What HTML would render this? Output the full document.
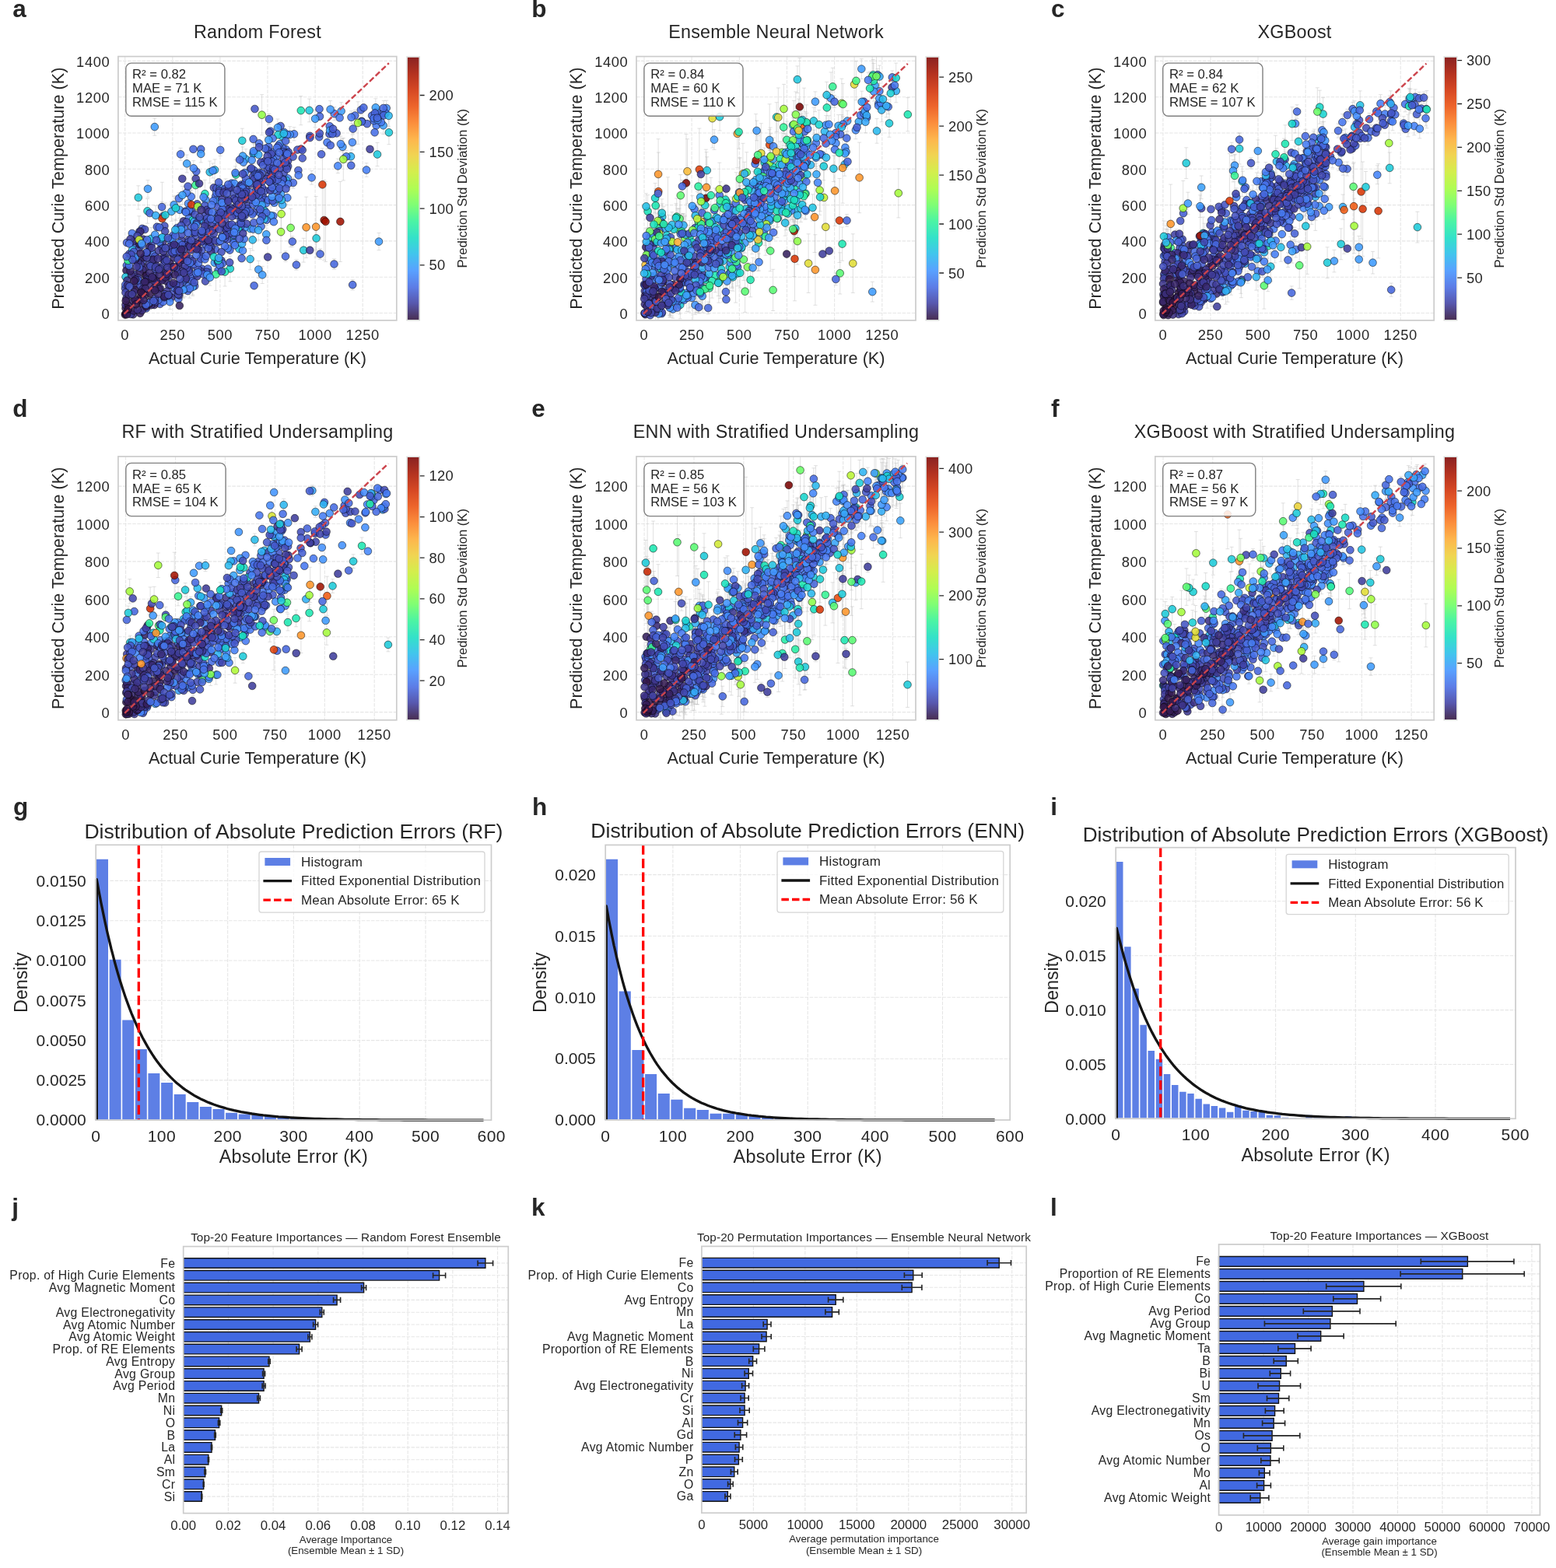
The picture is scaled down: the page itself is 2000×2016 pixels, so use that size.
<!DOCTYPE html>
<html><head><meta charset="utf-8"><style>
html,body{margin:0;padding:0;background:#fff;}
svg{display:block;}
text{font-family:"Liberation Sans",Arial,Helvetica,sans-serif;fill:#262626;}
</style></head><body>
<svg width="2000" height="2016" viewBox="0 0 2000 2016">
<defs><clipPath id="clipa"><rect x="151.9" y="72.6" width="357.9" height="339.3"/></clipPath><linearGradient id="gra" x1="0" y1="0" x2="0" y2="1"><stop offset="0.0000" stop-color="#7a0403"/><stop offset="0.0625" stop-color="#a91601"/><stop offset="0.1250" stop-color="#d02f05"/><stop offset="0.1875" stop-color="#eb500e"/><stop offset="0.2500" stop-color="#fb7e21"/><stop offset="0.3125" stop-color="#fdac34"/><stop offset="0.3750" stop-color="#eecf3a"/><stop offset="0.4375" stop-color="#cdec34"/><stop offset="0.5000" stop-color="#a4fc3c"/><stop offset="0.5625" stop-color="#6dfe62"/><stop offset="0.6250" stop-color="#32f298"/><stop offset="0.6875" stop-color="#18ddc2"/><stop offset="0.7500" stop-color="#28bceb"/><stop offset="0.8125" stop-color="#4294ff"/><stop offset="0.8750" stop-color="#466be3"/><stop offset="0.9375" stop-color="#4040a2"/><stop offset="1.0000" stop-color="#30123b"/></linearGradient><clipPath id="clipb"><rect x="818.0" y="72.6" width="359.0" height="339.3"/></clipPath><linearGradient id="grb" x1="0" y1="0" x2="0" y2="1"><stop offset="0.0000" stop-color="#7a0403"/><stop offset="0.0625" stop-color="#a91601"/><stop offset="0.1250" stop-color="#d02f05"/><stop offset="0.1875" stop-color="#eb500e"/><stop offset="0.2500" stop-color="#fb7e21"/><stop offset="0.3125" stop-color="#fdac34"/><stop offset="0.3750" stop-color="#eecf3a"/><stop offset="0.4375" stop-color="#cdec34"/><stop offset="0.5000" stop-color="#a4fc3c"/><stop offset="0.5625" stop-color="#6dfe62"/><stop offset="0.6250" stop-color="#32f298"/><stop offset="0.6875" stop-color="#18ddc2"/><stop offset="0.7500" stop-color="#28bceb"/><stop offset="0.8125" stop-color="#4294ff"/><stop offset="0.8750" stop-color="#466be3"/><stop offset="0.9375" stop-color="#4040a2"/><stop offset="1.0000" stop-color="#30123b"/></linearGradient><clipPath id="clipc"><rect x="1484.8" y="72.6" width="358.4" height="339.3"/></clipPath><linearGradient id="grc" x1="0" y1="0" x2="0" y2="1"><stop offset="0.0000" stop-color="#7a0403"/><stop offset="0.0625" stop-color="#a91601"/><stop offset="0.1250" stop-color="#d02f05"/><stop offset="0.1875" stop-color="#eb500e"/><stop offset="0.2500" stop-color="#fb7e21"/><stop offset="0.3125" stop-color="#fdac34"/><stop offset="0.3750" stop-color="#eecf3a"/><stop offset="0.4375" stop-color="#cdec34"/><stop offset="0.5000" stop-color="#a4fc3c"/><stop offset="0.5625" stop-color="#6dfe62"/><stop offset="0.6250" stop-color="#32f298"/><stop offset="0.6875" stop-color="#18ddc2"/><stop offset="0.7500" stop-color="#28bceb"/><stop offset="0.8125" stop-color="#4294ff"/><stop offset="0.8750" stop-color="#466be3"/><stop offset="0.9375" stop-color="#4040a2"/><stop offset="1.0000" stop-color="#30123b"/></linearGradient><clipPath id="clipd"><rect x="151.9" y="586.9" width="357.9" height="338.9"/></clipPath><linearGradient id="grd" x1="0" y1="0" x2="0" y2="1"><stop offset="0.0000" stop-color="#7a0403"/><stop offset="0.0625" stop-color="#a91601"/><stop offset="0.1250" stop-color="#d02f05"/><stop offset="0.1875" stop-color="#eb500e"/><stop offset="0.2500" stop-color="#fb7e21"/><stop offset="0.3125" stop-color="#fdac34"/><stop offset="0.3750" stop-color="#eecf3a"/><stop offset="0.4375" stop-color="#cdec34"/><stop offset="0.5000" stop-color="#a4fc3c"/><stop offset="0.5625" stop-color="#6dfe62"/><stop offset="0.6250" stop-color="#32f298"/><stop offset="0.6875" stop-color="#18ddc2"/><stop offset="0.7500" stop-color="#28bceb"/><stop offset="0.8125" stop-color="#4294ff"/><stop offset="0.8750" stop-color="#466be3"/><stop offset="0.9375" stop-color="#4040a2"/><stop offset="1.0000" stop-color="#30123b"/></linearGradient><clipPath id="clipe"><rect x="818.0" y="586.9" width="359.0" height="338.9"/></clipPath><linearGradient id="gre" x1="0" y1="0" x2="0" y2="1"><stop offset="0.0000" stop-color="#7a0403"/><stop offset="0.0625" stop-color="#a91601"/><stop offset="0.1250" stop-color="#d02f05"/><stop offset="0.1875" stop-color="#eb500e"/><stop offset="0.2500" stop-color="#fb7e21"/><stop offset="0.3125" stop-color="#fdac34"/><stop offset="0.3750" stop-color="#eecf3a"/><stop offset="0.4375" stop-color="#cdec34"/><stop offset="0.5000" stop-color="#a4fc3c"/><stop offset="0.5625" stop-color="#6dfe62"/><stop offset="0.6250" stop-color="#32f298"/><stop offset="0.6875" stop-color="#18ddc2"/><stop offset="0.7500" stop-color="#28bceb"/><stop offset="0.8125" stop-color="#4294ff"/><stop offset="0.8750" stop-color="#466be3"/><stop offset="0.9375" stop-color="#4040a2"/><stop offset="1.0000" stop-color="#30123b"/></linearGradient><clipPath id="clipf"><rect x="1484.8" y="586.9" width="358.4" height="338.9"/></clipPath><linearGradient id="grf" x1="0" y1="0" x2="0" y2="1"><stop offset="0.0000" stop-color="#7a0403"/><stop offset="0.0625" stop-color="#a91601"/><stop offset="0.1250" stop-color="#d02f05"/><stop offset="0.1875" stop-color="#eb500e"/><stop offset="0.2500" stop-color="#fb7e21"/><stop offset="0.3125" stop-color="#fdac34"/><stop offset="0.3750" stop-color="#eecf3a"/><stop offset="0.4375" stop-color="#cdec34"/><stop offset="0.5000" stop-color="#a4fc3c"/><stop offset="0.5625" stop-color="#6dfe62"/><stop offset="0.6250" stop-color="#32f298"/><stop offset="0.6875" stop-color="#18ddc2"/><stop offset="0.7500" stop-color="#28bceb"/><stop offset="0.8125" stop-color="#4294ff"/><stop offset="0.8750" stop-color="#466be3"/><stop offset="0.9375" stop-color="#4040a2"/><stop offset="1.0000" stop-color="#30123b"/></linearGradient></defs>
<rect width="2000" height="2016" fill="#fff"/>
<text x="16.3" y="22.0" font-size="31.5" font-weight="bold" fill="#000">a</text>
<text x="330.9" y="49.1" text-anchor="middle" font-size="23.33" letter-spacing="0.25">Random Forest</text>
<path d="M160.7 72.6V411.9M221.8 72.6V411.9M282.9 72.6V411.9M344.0 72.6V411.9M405.1 72.6V411.9M466.2 72.6V411.9M151.9 402.5H509.8M151.9 356.2H509.8M151.9 309.9H509.8M151.9 263.6H509.8M151.9 217.3H509.8M151.9 171.0H509.8M151.9 124.7H509.8M151.9 78.4H509.8" stroke="#e6e6e6" stroke-width="1.1" stroke-dasharray="4.6,1.5" fill="none"/>
<g clip-path="url(#clipa)">
<path d="M324.7 294.7v27.4m-2.5 0h5m0 -27.4h-5M235.2 360.3v22.4m-2.5 0h5m0 -22.4h-5M342.3 289.7v23.0m-2.5 0h5m0 -23.0h-5M321.8 281.8v24.7m-2.5 0h5m0 -24.7h-5M456.3 141.5v14.1m-2.5 0h5m0 -14.1h-5M275.8 325.9v23.4m-2.5 0h5m0 -23.4h-5M485.0 183.4v30.2m-2.5 0h5m0 -30.2h-5M493.2 129.4v26.5m-2.5 0h5m0 -26.5h-5M247.6 353.8v25.1m-2.5 0h5m0 -25.1h-5M341.0 176.0v32.6m-2.5 0h5m0 -32.6h-5M496.7 129.2v19.6m-2.5 0h5m0 -19.6h-5M303.2 205.6v38.0m-2.5 0h5m0 -38.0h-5M316.0 191.7v25.8m-2.5 0h5m0 -25.8h-5M243.7 349.1v34.0m-2.5 0h5m0 -34.0h-5M373.6 268.3v49.2m-2.5 0h5m0 -49.2h-5M451.5 142.7v16.2m-2.5 0h5m0 -16.2h-5M378.0 163.7v17.1m-2.5 0h5m0 -17.1h-5M376.8 227.8v14.3m-2.5 0h5m0 -14.3h-5M369.3 245.3v18.1m-2.5 0h5m0 -18.1h-5M263.4 231.4v35.5m-2.5 0h5m0 -35.5h-5M336.6 121.7v52.0m-2.5 0h5m0 -52.0h-5M194.2 292.6v28.5m-2.5 0h5m0 -28.5h-5M325.6 285.0v19.1m-2.5 0h5m0 -19.1h-5M326.6 182.9v27.7m-2.5 0h5m0 -27.7h-5M290.0 229.9v21.2m-2.5 0h5m0 -21.2h-5M453.7 159.0v13.1m-2.5 0h5m0 -13.1h-5M440.4 178.0v21.5m-2.5 0h5m0 -21.5h-5M245.7 244.5v16.7m-2.5 0h5m0 -16.7h-5M434.3 204.1v18.5m-2.5 0h5m0 -18.5h-5M372.6 162.7v20.7m-2.5 0h5m0 -20.7h-5M361.6 246.9v56.4m-2.5 0h5m0 -56.4h-5M276.1 204.9v27.2m-2.5 0h5m0 -27.2h-5M355.9 241.3v29.5m-2.5 0h5m0 -29.5h-5M438.6 131.7v22.5m-2.5 0h5m0 -22.5h-5M251.3 217.0v42.1m-2.5 0h5m0 -42.1h-5M240.2 199.0v22.9m-2.5 0h5m0 -22.9h-5M312.0 189.0v23.1m-2.5 0h5m0 -23.1h-5M437.9 175.2v19.7m-2.5 0h5m0 -19.7h-5M277.5 331.8v41.8m-2.5 0h5m0 -41.8h-5M230.9 259.2v21.3m-2.5 0h5m0 -21.3h-5M302.5 213.8v17.0m-2.5 0h5m0 -17.0h-5M295.8 329.2v32.6m-2.5 0h5m0 -32.6h-5M189.5 255.5v31.7m-2.5 0h5m0 -31.7h-5M429.8 137.6v17.2m-2.5 0h5m0 -17.2h-5M177.8 238.8v30.3m-2.5 0h5m0 -30.3h-5M361.1 271.1v53.9m-2.5 0h5m0 -53.9h-5M424.6 129.6v22.0m-2.5 0h5m0 -22.0h-5M348.2 265.8v22.8m-2.5 0h5m0 -22.8h-5M356.9 153.0v22.3m-2.5 0h5m0 -22.3h-5M386.8 123.5v37.2m-2.5 0h5m0 -37.2h-5M312.8 198.2v20.8m-2.5 0h5m0 -20.8h-5M420.5 174.8v16.7m-2.5 0h5m0 -16.7h-5M289.1 331.1v36.9m-2.5 0h5m0 -36.9h-5M492.7 150.1v22.5m-2.5 0h5m0 -22.5h-5M198.8 152.1v22.1m-2.5 0h5m0 -22.1h-5M345.9 146.2v13.9m-2.5 0h5m0 -13.9h-5M258.2 186.8v22.1m-2.5 0h5m0 -22.1h-5M247.6 357.7v22.7m-2.5 0h5m0 -22.7h-5M482.8 126.8v23.0m-2.5 0h5m0 -23.0h-5M232.1 190.4v15.8m-2.5 0h5m0 -15.8h-5M452.9 173.3v19.4m-2.5 0h5m0 -19.4h-5M269.7 207.1v28.2m-2.5 0h5m0 -28.2h-5M190.0 231.7v22.1m-2.5 0h5m0 -22.1h-5M208.1 259.4v13.5m-2.5 0h5m0 -13.5h-5M220.4 259.5v24.9m-2.5 0h5m0 -24.9h-5M283.2 185.0v15.5m-2.5 0h5m0 -15.5h-5M208.4 234.3v93.4m-2.5 0h5m0 -93.4h-5M311.3 165.2v31.2m-2.5 0h5m0 -31.2h-5M246.0 216.5v93.4m-2.5 0h5m0 -93.4h-5M405.1 141.6v22.1m-2.5 0h5m0 -22.1h-5M499.9 154.9v30.8m-2.5 0h5m0 -30.8h-5M321.6 319.5v27.3m-2.5 0h5m0 -27.3h-5M273.5 209.9v19.1m-2.5 0h5m0 -19.1h-5M218.3 378.5v19.0m-2.5 0h5m0 -19.0h-5M217.8 297.9v20.4m-2.5 0h5m0 -20.4h-5M499.6 135.3v27.0m-2.5 0h5m0 -27.0h-5M254.2 238.4v53.9m-2.5 0h5m0 -53.9h-5M237.7 361.7v20.0m-2.5 0h5m0 -20.0h-5M200.1 264.3v25.3m-2.5 0h5m0 -25.3h-5M248.8 206.6v19.3m-2.5 0h5m0 -19.3h-5M414.4 190.8v93.4m-2.5 0h5m0 -93.4h-5M416.6 231.5v103.1m-2.5 0h5m0 -103.1h-5M418.5 233.4v103.1m-2.5 0h5m0 -103.1h-5M274.9 313.3v33.7m-2.5 0h5m0 -33.7h-5M437.4 233.4v103.1m-2.5 0h5m0 -103.1h-5M314.6 213.2v18.0m-2.5 0h5m0 -18.0h-5M393.6 253.2v78.3m-2.5 0h5m0 -78.3h-5M406.1 252.5v78.3m-2.5 0h5m0 -78.3h-5M223.6 252.3v22.2m-2.5 0h5m0 -22.2h-5M406.6 291.0v30.8m-2.5 0h5m0 -30.8h-5M451.0 188.1v26.3m-2.5 0h5m0 -26.3h-5M471.0 209.7v17.6m-2.5 0h5m0 -17.6h-5M178.8 277.8v60.8m-2.5 0h5m0 -60.8h-5M225.3 282.0v27.0m-2.5 0h5m0 -27.0h-5M235.6 362.0v21.3m-2.5 0h5m0 -21.3h-5M487.0 299.5v22.1m-2.5 0h5m0 -22.1h-5M225.9 251.3v32.4m-2.5 0h5m0 -32.4h-5M390.2 306.3v30.8m-2.5 0h5m0 -30.8h-5M397.6 127.1v29.7m-2.5 0h5m0 -29.7h-5M229.9 247.7v14.9m-2.5 0h5m0 -14.9h-5M411.5 319.8v13.5m-2.5 0h5m0 -13.5h-5M332.1 283.6v24.8m-2.5 0h5m0 -24.8h-5M429.5 332.8v13.5m-2.5 0h5m0 -13.5h-5M234.4 239.4v23.1m-2.5 0h5m0 -23.1h-5M453.2 359.4v13.5m-2.5 0h5m0 -13.5h-5M445.1 193.3v16.0m-2.5 0h5m0 -16.0h-5M400.6 219.5v17.7m-2.5 0h5m0 -17.7h-5M375.8 303.8v13.5m-2.5 0h5m0 -13.5h-5M212.4 261.0v31.0m-2.5 0h5m0 -31.0h-5M380.9 333.7v13.5m-2.5 0h5m0 -13.5h-5M367.0 322.8v13.5m-2.5 0h5m0 -13.5h-5M325.9 185.2v18.3m-2.5 0h5m0 -18.3h-5M332.3 335.4v22.1m-2.5 0h5m0 -22.1h-5M337.2 342.4v22.1m-2.5 0h5m0 -22.1h-5M269.9 346.2v21.0m-2.5 0h5m0 -21.0h-5M441.3 177.5v54.5m-2.5 0h5m0 -54.5h-5M460.1 130.8v54.5m-2.5 0h5m0 -54.5h-5" stroke="#b4b4b4" stroke-opacity="0.45" stroke-width="0.9" fill="none"/>
<g stroke="#000" stroke-width="0.6" stroke-opacity="0.85" fill-opacity="0.88">
<circle cx="326.3" cy="218.8" r="4.85" fill="#4661d6"/>
<circle cx="423.5" cy="172.3" r="4.85" fill="#455ed3"/>
<circle cx="229.4" cy="384.4" r="4.85" fill="#476ee6"/>
<circle cx="367.8" cy="192.2" r="4.85" fill="#4776ee"/>
<circle cx="324.7" cy="308.4" r="4.85" fill="#2ab9ee"/>
<circle cx="259.8" cy="345.8" r="4.85" fill="#4454c3"/>
<circle cx="325.5" cy="197.5" r="4.85" fill="#448ffe"/>
<circle cx="342.3" cy="301.3" r="4.85" fill="#3ba0fd"/>
<circle cx="321.8" cy="294.1" r="4.85" fill="#35abf8"/>
<circle cx="423.8" cy="162.3" r="4.85" fill="#466be3"/>
<circle cx="456.3" cy="148.5" r="4.85" fill="#466be3"/>
<circle cx="242.7" cy="280.6" r="4.85" fill="#4778f0"/>
<circle cx="337.9" cy="252.8" r="4.85" fill="#4454c3"/>
<circle cx="284.5" cy="335.0" r="4.85" fill="#4249b1"/>
<circle cx="267.2" cy="345.5" r="4.85" fill="#4666dd"/>
<circle cx="370.8" cy="195.7" r="4.85" fill="#4454c3"/>
<circle cx="246.2" cy="357.6" r="4.85" fill="#4666dd"/>
<circle cx="275.8" cy="337.7" r="4.85" fill="#3aa3fc"/>
<circle cx="485.0" cy="198.5" r="4.85" fill="#1fc9dd"/>
<circle cx="340.0" cy="270.9" r="4.85" fill="#1fc9dd"/>
<circle cx="253.4" cy="262.4" r="4.85" fill="#4559cb"/>
<circle cx="209.7" cy="278.0" r="4.85" fill="#4451bf"/>
<circle cx="194.6" cy="314.4" r="4.85" fill="#4454c3"/>
<circle cx="268.3" cy="350.6" r="4.85" fill="#4771e9"/>
<circle cx="496.7" cy="139.0" r="4.85" fill="#458cfd"/>
<circle cx="303.2" cy="224.6" r="4.85" fill="#1fe9af"/>
<circle cx="335.6" cy="291.2" r="4.85" fill="#4771e9"/>
<circle cx="243.7" cy="350.1" r="4.85" fill="#4451bf"/>
<circle cx="236.0" cy="361.9" r="4.85" fill="#4666dd"/>
<circle cx="316.0" cy="204.6" r="4.85" fill="#31aff5"/>
<circle cx="264.2" cy="256.6" r="4.85" fill="#4196ff"/>
<circle cx="246.4" cy="271.8" r="4.85" fill="#4456c7"/>
<circle cx="373.6" cy="292.9" r="4.85" fill="#79fe59"/>
<circle cx="314.5" cy="292.7" r="4.85" fill="#4099ff"/>
<circle cx="451.5" cy="150.7" r="4.85" fill="#4778f0"/>
<circle cx="160.9" cy="370.7" r="4.85" fill="#434eba"/>
<circle cx="211.4" cy="290.5" r="4.85" fill="#4451bf"/>
<circle cx="387.0" cy="191.5" r="4.85" fill="#4451bf"/>
<circle cx="277.1" cy="252.4" r="4.85" fill="#466be3"/>
<circle cx="378.0" cy="172.3" r="4.85" fill="#467df4"/>
<circle cx="280.7" cy="347.4" r="4.85" fill="#4669e0"/>
<circle cx="376.8" cy="235.0" r="4.85" fill="#466be3"/>
<circle cx="310.0" cy="237.5" r="4.85" fill="#455ccf"/>
<circle cx="334.5" cy="274.1" r="4.85" fill="#4776ee"/>
<circle cx="369.3" cy="254.3" r="4.85" fill="#4682f8"/>
<circle cx="263.4" cy="249.2" r="4.85" fill="#19e2bb"/>
<circle cx="336.6" cy="147.7" r="4.85" fill="#92ff47"/>
<circle cx="174.7" cy="315.6" r="4.85" fill="#4773eb"/>
<circle cx="242.8" cy="272.0" r="4.85" fill="#4249b1"/>
<circle cx="194.2" cy="306.9" r="4.85" fill="#25c0e7"/>
<circle cx="325.6" cy="294.6" r="4.85" fill="#458afc"/>
<circle cx="299.7" cy="306.9" r="4.85" fill="#25c0e7"/>
<circle cx="274.8" cy="241.3" r="4.85" fill="#424bb5"/>
<circle cx="326.6" cy="196.7" r="4.85" fill="#28bceb"/>
<circle cx="297.7" cy="235.7" r="4.85" fill="#466be3"/>
<circle cx="483.7" cy="161.4" r="4.85" fill="#477bf2"/>
<circle cx="265.5" cy="349.7" r="4.85" fill="#4451bf"/>
<circle cx="370.2" cy="206.7" r="4.85" fill="#4249b1"/>
<circle cx="251.7" cy="229.8" r="4.85" fill="#4040a2"/>
<circle cx="257.9" cy="348.8" r="4.85" fill="#4040a2"/>
<circle cx="222.7" cy="302.6" r="4.85" fill="#455ed3"/>
<circle cx="340.2" cy="256.8" r="4.85" fill="#4559cb"/>
<circle cx="432.6" cy="171.4" r="4.85" fill="#455ed3"/>
<circle cx="453.7" cy="165.6" r="4.85" fill="#4664da"/>
<circle cx="363.1" cy="263.4" r="4.85" fill="#35abf8"/>
<circle cx="310.6" cy="332.2" r="4.85" fill="#4664da"/>
<circle cx="307.4" cy="319.9" r="4.85" fill="#25c0e7"/>
<circle cx="495.7" cy="145.7" r="4.85" fill="#4771e9"/>
<circle cx="263.4" cy="277.6" r="4.85" fill="#4451bf"/>
<circle cx="489.3" cy="146.8" r="4.85" fill="#4669e0"/>
<circle cx="278.1" cy="248.0" r="4.85" fill="#476ee6"/>
<circle cx="352.5" cy="260.7" r="4.85" fill="#467df4"/>
<circle cx="440.4" cy="188.8" r="4.85" fill="#4196ff"/>
<circle cx="263.3" cy="264.4" r="4.85" fill="#4559cb"/>
<circle cx="342.4" cy="308.9" r="4.85" fill="#466be3"/>
<circle cx="464.9" cy="155.8" r="4.85" fill="#4559cb"/>
<circle cx="245.7" cy="252.8" r="4.85" fill="#477bf2"/>
<circle cx="300.1" cy="248.8" r="4.85" fill="#4454c3"/>
<circle cx="434.3" cy="213.4" r="4.85" fill="#4685fa"/>
<circle cx="253.4" cy="355.3" r="4.85" fill="#3f3b97"/>
<circle cx="280.0" cy="336.8" r="4.85" fill="#3f3e9c"/>
<circle cx="182.8" cy="293.9" r="4.85" fill="#455ccf"/>
<circle cx="169.8" cy="300.0" r="4.85" fill="#4776ee"/>
<circle cx="372.6" cy="173.0" r="4.85" fill="#4391fe"/>
<circle cx="360.6" cy="162.0" r="4.85" fill="#455ccf"/>
<circle cx="361.6" cy="275.1" r="4.85" fill="#affa37"/>
<circle cx="325.2" cy="226.6" r="4.85" fill="#424bb5"/>
<circle cx="276.1" cy="218.5" r="4.85" fill="#2ab9ee"/>
<circle cx="363.2" cy="190.3" r="4.85" fill="#4666dd"/>
<circle cx="301.2" cy="235.9" r="4.85" fill="#448ffe"/>
<circle cx="241.8" cy="308.5" r="4.85" fill="#4143a7"/>
<circle cx="365.3" cy="170.1" r="4.85" fill="#4687fb"/>
<circle cx="179.4" cy="297.6" r="4.85" fill="#466be3"/>
<circle cx="355.9" cy="256.0" r="4.85" fill="#22c5e2"/>
<circle cx="248.0" cy="282.8" r="4.85" fill="#1ae4b6"/>
<circle cx="438.6" cy="142.9" r="4.85" fill="#3d9efe"/>
<circle cx="243.5" cy="344.5" r="4.85" fill="#3f3e9c"/>
<circle cx="413.1" cy="198.3" r="4.85" fill="#455ed3"/>
<circle cx="261.6" cy="253.5" r="4.85" fill="#4687fb"/>
<circle cx="351.2" cy="277.6" r="4.85" fill="#4771e9"/>
<circle cx="251.3" cy="238.1" r="4.85" fill="#38f491"/>
<circle cx="382.3" cy="192.6" r="4.85" fill="#4454c3"/>
<circle cx="361.9" cy="257.0" r="4.85" fill="#28bceb"/>
<circle cx="240.2" cy="210.4" r="4.85" fill="#3ba0fd"/>
<circle cx="309.5" cy="291.0" r="4.85" fill="#4456c7"/>
<circle cx="312.0" cy="200.6" r="4.85" fill="#3ba0fd"/>
<circle cx="492.8" cy="139.0" r="4.85" fill="#4669e0"/>
<circle cx="342.1" cy="261.3" r="4.85" fill="#477bf2"/>
<circle cx="437.9" cy="185.1" r="4.85" fill="#458cfd"/>
<circle cx="370.0" cy="229.4" r="4.85" fill="#4687fb"/>
<circle cx="277.5" cy="352.7" r="4.85" fill="#35f394"/>
<circle cx="265.9" cy="269.9" r="4.85" fill="#4040a2"/>
<circle cx="256.1" cy="236.0" r="4.85" fill="#3e3891"/>
<circle cx="306.2" cy="294.5" r="4.85" fill="#1ad2d2"/>
<circle cx="242.2" cy="347.9" r="4.85" fill="#424bb5"/>
<circle cx="484.1" cy="143.8" r="4.85" fill="#4771e9"/>
<circle cx="347.5" cy="168.6" r="4.85" fill="#455ed3"/>
<circle cx="262.0" cy="285.4" r="4.85" fill="#434eba"/>
<circle cx="230.9" cy="269.8" r="4.85" fill="#4196ff"/>
<circle cx="300.6" cy="255.5" r="4.85" fill="#4146ac"/>
<circle cx="278.4" cy="241.8" r="4.85" fill="#4456c7"/>
<circle cx="302.5" cy="222.3" r="4.85" fill="#477bf2"/>
<circle cx="304.2" cy="290.5" r="4.85" fill="#455ed3"/>
<circle cx="242.2" cy="368.2" r="4.85" fill="#4771e9"/>
<circle cx="478.1" cy="148.7" r="4.85" fill="#476ee6"/>
<circle cx="166.3" cy="326.4" r="4.85" fill="#434eba"/>
<circle cx="184.2" cy="307.7" r="4.85" fill="#3d358b"/>
<circle cx="308.9" cy="239.5" r="4.85" fill="#4040a2"/>
<circle cx="233.5" cy="309.1" r="4.85" fill="#3f3e9c"/>
<circle cx="296.3" cy="241.4" r="4.85" fill="#4451bf"/>
<circle cx="411.0" cy="149.7" r="4.85" fill="#4666dd"/>
<circle cx="256.2" cy="282.9" r="4.85" fill="#37a8fa"/>
<circle cx="295.8" cy="345.5" r="4.85" fill="#1ad4d0"/>
<circle cx="212.1" cy="297.3" r="4.85" fill="#4249b1"/>
<circle cx="334.8" cy="258.5" r="4.85" fill="#4559cb"/>
<circle cx="359.5" cy="185.2" r="4.85" fill="#4391fe"/>
<circle cx="235.8" cy="284.4" r="4.85" fill="#3d358b"/>
<circle cx="282.9" cy="241.6" r="4.85" fill="#458cfd"/>
<circle cx="189.5" cy="271.4" r="4.85" fill="#1bd0d5"/>
<circle cx="250.2" cy="367.7" r="4.85" fill="#455ccf"/>
<circle cx="429.8" cy="146.2" r="4.85" fill="#467df4"/>
<circle cx="177.8" cy="254.0" r="4.85" fill="#1fc9dd"/>
<circle cx="340.1" cy="207.3" r="4.85" fill="#4143a7"/>
<circle cx="245.9" cy="291.1" r="4.85" fill="#455ed3"/>
<circle cx="361.1" cy="298.1" r="4.85" fill="#9ffd3f"/>
<circle cx="424.6" cy="140.6" r="4.85" fill="#4099ff"/>
<circle cx="242.0" cy="261.7" r="4.85" fill="#458afc"/>
<circle cx="307.7" cy="251.4" r="4.85" fill="#4559cb"/>
<circle cx="230.3" cy="379.6" r="4.85" fill="#3e3891"/>
<circle cx="345.0" cy="257.1" r="4.85" fill="#4771e9"/>
<circle cx="362.8" cy="175.4" r="4.85" fill="#22c5e2"/>
<circle cx="348.2" cy="277.2" r="4.85" fill="#3d9efe"/>
<circle cx="356.9" cy="164.1" r="4.85" fill="#3e9bfe"/>
<circle cx="240.1" cy="344.4" r="4.85" fill="#4249b1"/>
<circle cx="238.4" cy="271.6" r="4.85" fill="#424bb5"/>
<circle cx="386.8" cy="142.1" r="4.85" fill="#1ce6b4"/>
<circle cx="312.8" cy="208.6" r="4.85" fill="#4391fe"/>
<circle cx="410.3" cy="176.1" r="4.85" fill="#4664da"/>
<circle cx="282.0" cy="245.2" r="4.85" fill="#4146ac"/>
<circle cx="247.0" cy="361.4" r="4.85" fill="#4664da"/>
<circle cx="436.6" cy="151.5" r="4.85" fill="#4776ee"/>
<circle cx="420.5" cy="183.2" r="4.85" fill="#477bf2"/>
<circle cx="289.1" cy="349.6" r="4.85" fill="#1ce6b4"/>
<circle cx="325.6" cy="178.9" r="4.85" fill="#4666dd"/>
<circle cx="300.2" cy="312.2" r="4.85" fill="#4666dd"/>
<circle cx="361.0" cy="249.3" r="4.85" fill="#3d9efe"/>
<circle cx="300.5" cy="302.4" r="4.85" fill="#434eba"/>
<circle cx="322.0" cy="217.3" r="4.85" fill="#4771e9"/>
<circle cx="367.9" cy="232.0" r="4.85" fill="#2cb7f0"/>
<circle cx="312.0" cy="322.2" r="4.85" fill="#4685fa"/>
<circle cx="357.4" cy="173.4" r="4.85" fill="#1bd0d5"/>
<circle cx="163.0" cy="312.0" r="4.85" fill="#4664da"/>
<circle cx="289.5" cy="242.6" r="4.85" fill="#4454c3"/>
<circle cx="424.1" cy="167.8" r="4.85" fill="#3d9efe"/>
<circle cx="330.7" cy="265.1" r="4.85" fill="#4682f8"/>
<circle cx="280.8" cy="311.1" r="4.85" fill="#4143a7"/>
<circle cx="335.3" cy="208.7" r="4.85" fill="#4146ac"/>
<circle cx="309.4" cy="284.0" r="4.85" fill="#4664da"/>
<circle cx="317.9" cy="264.9" r="4.85" fill="#424bb5"/>
<circle cx="481.6" cy="170.3" r="4.85" fill="#476ee6"/>
<circle cx="369.1" cy="173.1" r="4.85" fill="#4685fa"/>
<circle cx="295.2" cy="337.5" r="4.85" fill="#4451bf"/>
<circle cx="209.0" cy="313.2" r="4.85" fill="#3c3286"/>
<circle cx="492.7" cy="161.3" r="4.85" fill="#3d9efe"/>
<circle cx="198.8" cy="163.1" r="4.85" fill="#3e9bfe"/>
<circle cx="295.7" cy="299.6" r="4.85" fill="#424bb5"/>
<circle cx="195.6" cy="325.8" r="4.85" fill="#4778f0"/>
<circle cx="183.4" cy="335.3" r="4.85" fill="#434eba"/>
<circle cx="207.5" cy="317.9" r="4.85" fill="#3f3e9c"/>
<circle cx="293.9" cy="241.6" r="4.85" fill="#3f3b97"/>
<circle cx="248.4" cy="191.8" r="4.85" fill="#4666dd"/>
<circle cx="281.8" cy="247.9" r="4.85" fill="#455ccf"/>
<circle cx="279.5" cy="258.8" r="4.85" fill="#3d9efe"/>
<circle cx="364.8" cy="171.8" r="4.85" fill="#27bee9"/>
<circle cx="345.9" cy="153.1" r="4.85" fill="#4669e0"/>
<circle cx="355.3" cy="201.6" r="4.85" fill="#466be3"/>
<circle cx="376.6" cy="201.6" r="4.85" fill="#4456c7"/>
<circle cx="344.6" cy="226.7" r="4.85" fill="#4143a7"/>
<circle cx="370.0" cy="236.6" r="4.85" fill="#4771e9"/>
<circle cx="291.4" cy="296.5" r="4.85" fill="#466be3"/>
<circle cx="258.2" cy="191.8" r="4.85" fill="#4666dd"/>
<circle cx="280.1" cy="265.8" r="4.85" fill="#4559cb"/>
<circle cx="285.8" cy="338.8" r="4.85" fill="#4666dd"/>
<circle cx="258.2" cy="197.9" r="4.85" fill="#3e9bfe"/>
<circle cx="204.8" cy="311.2" r="4.85" fill="#4778f0"/>
<circle cx="276.8" cy="320.6" r="4.85" fill="#4664da"/>
<circle cx="268.7" cy="272.2" r="4.85" fill="#3e3891"/>
<circle cx="254.0" cy="345.6" r="4.85" fill="#4456c7"/>
<circle cx="480.6" cy="155.2" r="4.85" fill="#4771e9"/>
<circle cx="296.7" cy="267.2" r="4.85" fill="#4664da"/>
<circle cx="325.8" cy="273.1" r="4.85" fill="#4454c3"/>
<circle cx="252.0" cy="351.2" r="4.85" fill="#4771e9"/>
<circle cx="247.6" cy="369.0" r="4.85" fill="#3d9efe"/>
<circle cx="252.3" cy="220.5" r="4.85" fill="#4666dd"/>
<circle cx="332.3" cy="251.2" r="4.85" fill="#4771e9"/>
<circle cx="315.2" cy="235.3" r="4.85" fill="#4661d6"/>
<circle cx="332.3" cy="198.9" r="4.85" fill="#37a8fa"/>
<circle cx="482.8" cy="138.3" r="4.85" fill="#3ba0fd"/>
<circle cx="179.0" cy="318.6" r="4.85" fill="#4454c3"/>
<circle cx="232.1" cy="198.3" r="4.85" fill="#4776ee"/>
<circle cx="162.8" cy="341.3" r="4.85" fill="#4661d6"/>
<circle cx="293.0" cy="256.8" r="4.85" fill="#4451bf"/>
<circle cx="346.0" cy="170.2" r="4.85" fill="#424bb5"/>
<circle cx="274.2" cy="258.2" r="4.85" fill="#4773eb"/>
<circle cx="234.3" cy="229.8" r="4.85" fill="#3f3e9c"/>
<circle cx="241.4" cy="374.1" r="4.85" fill="#4664da"/>
<circle cx="333.7" cy="221.8" r="4.85" fill="#455ed3"/>
<circle cx="424.8" cy="186.8" r="4.85" fill="#4664da"/>
<circle cx="364.7" cy="222.3" r="4.85" fill="#4451bf"/>
<circle cx="210.2" cy="340.7" r="4.85" fill="#4143a7"/>
<circle cx="452.9" cy="183.0" r="4.85" fill="#458afc"/>
<circle cx="221.1" cy="377.3" r="4.85" fill="#4451bf"/>
<circle cx="388.7" cy="193.0" r="4.85" fill="#4454c3"/>
<circle cx="350.6" cy="258.1" r="4.85" fill="#4456c7"/>
<circle cx="162.4" cy="347.8" r="4.85" fill="#36215f"/>
<circle cx="242.5" cy="311.2" r="4.85" fill="#4454c3"/>
<circle cx="328.4" cy="223.8" r="4.85" fill="#4666dd"/>
<circle cx="192.2" cy="317.7" r="4.85" fill="#372466"/>
<circle cx="199.3" cy="301.7" r="4.85" fill="#4196ff"/>
<circle cx="336.5" cy="263.7" r="4.85" fill="#38a5fb"/>
<circle cx="269.7" cy="221.3" r="4.85" fill="#27bee9"/>
<circle cx="279.9" cy="275.2" r="4.85" fill="#455ccf"/>
<circle cx="190.0" cy="242.8" r="4.85" fill="#3e9bfe"/>
<circle cx="208.1" cy="266.1" r="4.85" fill="#4666dd"/>
<circle cx="271.2" cy="306.7" r="4.85" fill="#4669e0"/>
<circle cx="410.8" cy="171.5" r="4.85" fill="#4454c3"/>
<circle cx="249.7" cy="363.1" r="4.85" fill="#4454c3"/>
<circle cx="192.5" cy="274.0" r="4.85" fill="#4666dd"/>
<circle cx="340.7" cy="245.1" r="4.85" fill="#4559cb"/>
<circle cx="349.6" cy="252.9" r="4.85" fill="#4294ff"/>
<circle cx="427.3" cy="172.2" r="4.85" fill="#4661d6"/>
<circle cx="189.1" cy="308.4" r="4.85" fill="#4771e9"/>
<circle cx="243.3" cy="270.0" r="4.85" fill="#4776ee"/>
<circle cx="187.9" cy="344.1" r="4.85" fill="#392a73"/>
<circle cx="220.4" cy="271.9" r="4.85" fill="#35abf8"/>
<circle cx="388.7" cy="203.4" r="4.85" fill="#4559cb"/>
<circle cx="161.5" cy="356.0" r="4.85" fill="#22c5e2"/>
<circle cx="200.7" cy="341.5" r="4.85" fill="#3d358b"/>
<circle cx="249.6" cy="285.0" r="4.85" fill="#4099ff"/>
<circle cx="283.2" cy="192.8" r="4.85" fill="#4773eb"/>
<circle cx="292.1" cy="307.8" r="4.85" fill="#4451bf"/>
<circle cx="180.9" cy="340.3" r="4.85" fill="#3e3891"/>
<circle cx="220.1" cy="382.6" r="4.85" fill="#3d358b"/>
<circle cx="208.4" cy="281.0" r="4.85" fill="#d83706"/>
<circle cx="161.5" cy="396.4" r="4.85" fill="#351e58"/>
<circle cx="345.4" cy="188.8" r="4.85" fill="#4666dd"/>
<circle cx="327.5" cy="140.0" r="4.85" fill="#4456c7"/>
<circle cx="481.9" cy="145.4" r="4.85" fill="#4661d6"/>
<circle cx="471.8" cy="159.2" r="4.85" fill="#4661d6"/>
<circle cx="288.8" cy="294.0" r="4.85" fill="#3f3e9c"/>
<circle cx="192.2" cy="339.7" r="4.85" fill="#3f3e9c"/>
<circle cx="171.9" cy="310.1" r="4.85" fill="#392a73"/>
<circle cx="229.0" cy="378.4" r="4.85" fill="#4249b1"/>
<circle cx="199.2" cy="329.6" r="4.85" fill="#4456c7"/>
<circle cx="363.8" cy="230.4" r="4.85" fill="#4666dd"/>
<circle cx="238.0" cy="359.4" r="4.85" fill="#466be3"/>
<circle cx="252.8" cy="286.6" r="4.85" fill="#3f3b97"/>
<circle cx="343.9" cy="217.5" r="4.85" fill="#424bb5"/>
<circle cx="342.3" cy="273.4" r="4.85" fill="#4666dd"/>
<circle cx="326.3" cy="286.3" r="4.85" fill="#4661d6"/>
<circle cx="463.8" cy="141.4" r="4.85" fill="#4664da"/>
<circle cx="239.7" cy="285.5" r="4.85" fill="#434eba"/>
<circle cx="250.8" cy="275.8" r="4.85" fill="#4451bf"/>
<circle cx="342.6" cy="282.8" r="4.85" fill="#476ee6"/>
<circle cx="292.2" cy="292.6" r="4.85" fill="#4146ac"/>
<circle cx="398.3" cy="174.8" r="4.85" fill="#4559cb"/>
<circle cx="217.2" cy="367.0" r="4.85" fill="#3c3286"/>
<circle cx="187.9" cy="396.5" r="4.85" fill="#455ed3"/>
<circle cx="184.9" cy="331.1" r="4.85" fill="#36215f"/>
<circle cx="315.2" cy="256.2" r="4.85" fill="#3f3b97"/>
<circle cx="172.7" cy="352.8" r="4.85" fill="#4249b1"/>
<circle cx="205.6" cy="390.9" r="4.85" fill="#455ccf"/>
<circle cx="227.6" cy="293.0" r="4.85" fill="#4771e9"/>
<circle cx="489.9" cy="157.1" r="4.85" fill="#4778f0"/>
<circle cx="195.8" cy="335.1" r="4.85" fill="#466be3"/>
<circle cx="233.9" cy="301.4" r="4.85" fill="#4451bf"/>
<circle cx="271.5" cy="317.4" r="4.85" fill="#4143a7"/>
<circle cx="356.3" cy="241.2" r="4.85" fill="#4773eb"/>
<circle cx="356.5" cy="245.7" r="4.85" fill="#4456c7"/>
<circle cx="311.3" cy="180.8" r="4.85" fill="#1ccdd8"/>
<circle cx="246.0" cy="263.1" r="4.85" fill="#d83706"/>
<circle cx="405.1" cy="152.7" r="4.85" fill="#3e9bfe"/>
<circle cx="207.2" cy="306.7" r="4.85" fill="#2fb2f4"/>
<circle cx="467.4" cy="138.4" r="4.85" fill="#4666dd"/>
<circle cx="357.7" cy="187.6" r="4.85" fill="#455ed3"/>
<circle cx="209.0" cy="319.7" r="4.85" fill="#4456c7"/>
<circle cx="493.4" cy="148.4" r="4.85" fill="#4666dd"/>
<circle cx="249.3" cy="339.8" r="4.85" fill="#4661d6"/>
<circle cx="315.0" cy="276.8" r="4.85" fill="#4451bf"/>
<circle cx="301.9" cy="315.3" r="4.85" fill="#4778f0"/>
<circle cx="499.9" cy="170.3" r="4.85" fill="#1ecbda"/>
<circle cx="321.6" cy="333.1" r="4.85" fill="#2ab9ee"/>
<circle cx="278.5" cy="285.8" r="4.85" fill="#434eba"/>
<circle cx="170.2" cy="320.8" r="4.85" fill="#2cb7f0"/>
<circle cx="333.1" cy="184.4" r="4.85" fill="#4771e9"/>
<circle cx="323.0" cy="216.3" r="4.85" fill="#434eba"/>
<circle cx="273.5" cy="219.4" r="4.85" fill="#458afc"/>
<circle cx="271.9" cy="263.5" r="4.85" fill="#4778f0"/>
<circle cx="250.8" cy="302.9" r="4.85" fill="#4451bf"/>
<circle cx="324.4" cy="275.5" r="4.85" fill="#4669e0"/>
<circle cx="186.2" cy="295.0" r="4.85" fill="#434eba"/>
<circle cx="353.8" cy="232.7" r="4.85" fill="#4664da"/>
<circle cx="350.9" cy="204.7" r="4.85" fill="#467df4"/>
<circle cx="317.7" cy="268.5" r="4.85" fill="#4456c7"/>
<circle cx="218.3" cy="388.1" r="4.85" fill="#4687fb"/>
<circle cx="294.6" cy="289.1" r="4.85" fill="#4040a2"/>
<circle cx="303.6" cy="276.7" r="4.85" fill="#4559cb"/>
<circle cx="475.5" cy="191.8" r="4.85" fill="#3f3e9c"/>
<circle cx="285.2" cy="256.7" r="4.85" fill="#3f3e9c"/>
<circle cx="295.4" cy="321.6" r="4.85" fill="#4666dd"/>
<circle cx="292.6" cy="319.2" r="4.85" fill="#4680f6"/>
<circle cx="217.8" cy="308.1" r="4.85" fill="#4391fe"/>
<circle cx="256.6" cy="279.2" r="4.85" fill="#4249b1"/>
<circle cx="350.6" cy="177.9" r="4.85" fill="#4773eb"/>
<circle cx="212.9" cy="360.9" r="4.85" fill="#392a73"/>
<circle cx="347.8" cy="219.4" r="4.85" fill="#4146ac"/>
<circle cx="293.3" cy="237.3" r="4.85" fill="#466be3"/>
<circle cx="367.1" cy="181.4" r="4.85" fill="#4664da"/>
<circle cx="304.4" cy="263.5" r="4.85" fill="#3f3b97"/>
<circle cx="219.3" cy="325.1" r="4.85" fill="#434eba"/>
<circle cx="316.9" cy="287.6" r="4.85" fill="#4249b1"/>
<circle cx="266.4" cy="280.7" r="4.85" fill="#4454c3"/>
<circle cx="499.6" cy="148.8" r="4.85" fill="#2cb7f0"/>
<circle cx="330.0" cy="224.6" r="4.85" fill="#4454c3"/>
<circle cx="298.3" cy="278.3" r="4.85" fill="#4146ac"/>
<circle cx="289.0" cy="306.3" r="4.85" fill="#4456c7"/>
<circle cx="287.5" cy="264.0" r="4.85" fill="#466be3"/>
<circle cx="351.9" cy="285.2" r="4.85" fill="#467df4"/>
<circle cx="351.0" cy="195.8" r="4.85" fill="#4666dd"/>
<circle cx="236.5" cy="294.1" r="4.85" fill="#476ee6"/>
<circle cx="311.1" cy="313.4" r="4.85" fill="#35abf8"/>
<circle cx="224.3" cy="370.1" r="4.85" fill="#4771e9"/>
<circle cx="309.8" cy="287.2" r="4.85" fill="#4456c7"/>
<circle cx="282.4" cy="341.0" r="4.85" fill="#4776ee"/>
<circle cx="229.7" cy="341.6" r="4.85" fill="#3c3286"/>
<circle cx="281.4" cy="277.0" r="4.85" fill="#424bb5"/>
<circle cx="180.3" cy="297.8" r="4.85" fill="#392a73"/>
<circle cx="271.1" cy="323.4" r="4.85" fill="#3c3286"/>
<circle cx="345.7" cy="215.1" r="4.85" fill="#4456c7"/>
<circle cx="196.9" cy="333.7" r="4.85" fill="#38276d"/>
<circle cx="186.7" cy="329.4" r="4.85" fill="#3c3286"/>
<circle cx="262.9" cy="303.0" r="4.85" fill="#4146ac"/>
<circle cx="336.4" cy="223.0" r="4.85" fill="#455ed3"/>
<circle cx="280.6" cy="334.8" r="4.85" fill="#18d9c8"/>
<circle cx="266.7" cy="294.0" r="4.85" fill="#3d358b"/>
<circle cx="221.6" cy="307.2" r="4.85" fill="#448ffe"/>
<circle cx="230.8" cy="337.7" r="4.85" fill="#392a73"/>
<circle cx="350.9" cy="218.9" r="4.85" fill="#4146ac"/>
<circle cx="261.4" cy="352.6" r="4.85" fill="#455ccf"/>
<circle cx="230.5" cy="312.5" r="4.85" fill="#477bf2"/>
<circle cx="383.4" cy="219.0" r="4.85" fill="#4661d6"/>
<circle cx="209.7" cy="388.1" r="4.85" fill="#476ee6"/>
<circle cx="293.1" cy="269.1" r="4.85" fill="#3e3891"/>
<circle cx="238.9" cy="272.8" r="4.85" fill="#477bf2"/>
<circle cx="238.3" cy="315.3" r="4.85" fill="#424bb5"/>
<circle cx="336.8" cy="240.9" r="4.85" fill="#434eba"/>
<circle cx="225.4" cy="303.2" r="4.85" fill="#4664da"/>
<circle cx="254.2" cy="265.4" r="4.85" fill="#9ffd3f"/>
<circle cx="267.2" cy="285.9" r="4.85" fill="#4249b1"/>
<circle cx="237.7" cy="371.7" r="4.85" fill="#448ffe"/>
<circle cx="298.5" cy="269.0" r="4.85" fill="#3e3891"/>
<circle cx="310.8" cy="279.9" r="4.85" fill="#4669e0"/>
<circle cx="218.9" cy="316.7" r="4.85" fill="#3f3e9c"/>
<circle cx="364.3" cy="195.3" r="4.85" fill="#4661d6"/>
<circle cx="188.8" cy="331.3" r="4.85" fill="#3f3e9c"/>
<circle cx="264.6" cy="314.5" r="4.85" fill="#4661d6"/>
<circle cx="198.3" cy="353.9" r="4.85" fill="#3f3e9c"/>
<circle cx="332.7" cy="224.2" r="4.85" fill="#455ccf"/>
<circle cx="214.3" cy="374.7" r="4.85" fill="#3f3b97"/>
<circle cx="259.0" cy="322.0" r="4.85" fill="#4559cb"/>
<circle cx="370.2" cy="213.8" r="4.85" fill="#4454c3"/>
<circle cx="238.0" cy="341.7" r="4.85" fill="#4143a7"/>
<circle cx="334.4" cy="269.3" r="4.85" fill="#455ccf"/>
<circle cx="350.5" cy="224.5" r="4.85" fill="#4451bf"/>
<circle cx="339.7" cy="281.8" r="4.85" fill="#2ab9ee"/>
<circle cx="276.2" cy="293.6" r="4.85" fill="#3e3891"/>
<circle cx="167.6" cy="307.4" r="4.85" fill="#3f3b97"/>
<circle cx="176.6" cy="303.3" r="4.85" fill="#4143a7"/>
<circle cx="243.9" cy="370.8" r="4.85" fill="#4776ee"/>
<circle cx="201.8" cy="291.7" r="4.85" fill="#455ccf"/>
<circle cx="203.0" cy="362.5" r="4.85" fill="#351e58"/>
<circle cx="200.1" cy="277.0" r="4.85" fill="#33adf7"/>
<circle cx="217.5" cy="355.4" r="4.85" fill="#4040a2"/>
<circle cx="248.8" cy="216.3" r="4.85" fill="#458afc"/>
<circle cx="166.2" cy="313.3" r="4.85" fill="#4771e9"/>
<circle cx="179.4" cy="314.3" r="4.85" fill="#341b51"/>
<circle cx="414.4" cy="237.4" r="4.85" fill="#d83706"/>
<circle cx="272.6" cy="286.4" r="4.85" fill="#4249b1"/>
<circle cx="223.6" cy="331.5" r="4.85" fill="#3a2d79"/>
<circle cx="326.5" cy="230.4" r="4.85" fill="#4249b1"/>
<circle cx="289.8" cy="302.7" r="4.85" fill="#4143a7"/>
<circle cx="416.6" cy="283.0" r="4.85" fill="#a11201"/>
<circle cx="305.1" cy="273.4" r="4.85" fill="#455ed3"/>
<circle cx="418.5" cy="284.9" r="4.85" fill="#a11201"/>
<circle cx="163.5" cy="360.6" r="4.85" fill="#3c3286"/>
<circle cx="211.8" cy="330.9" r="4.85" fill="#3e3891"/>
<circle cx="228.1" cy="324.9" r="4.85" fill="#3d358b"/>
<circle cx="182.8" cy="315.1" r="4.85" fill="#4666dd"/>
<circle cx="204.9" cy="292.3" r="4.85" fill="#4666dd"/>
<circle cx="259.3" cy="330.0" r="4.85" fill="#4451bf"/>
<circle cx="274.9" cy="330.2" r="4.85" fill="#18d9c8"/>
<circle cx="269.5" cy="314.3" r="4.85" fill="#4559cb"/>
<circle cx="289.0" cy="316.5" r="4.85" fill="#4771e9"/>
<circle cx="437.4" cy="284.9" r="4.85" fill="#a11201"/>
<circle cx="274.8" cy="300.5" r="4.85" fill="#4146ac"/>
<circle cx="314.6" cy="222.3" r="4.85" fill="#4682f8"/>
<circle cx="343.8" cy="193.0" r="4.85" fill="#4456c7"/>
<circle cx="393.6" cy="292.3" r="4.85" fill="#fe962b"/>
<circle cx="189.2" cy="324.5" r="4.85" fill="#3c3286"/>
<circle cx="351.6" cy="215.8" r="4.85" fill="#4451bf"/>
<circle cx="204.1" cy="322.3" r="4.85" fill="#3f3e9c"/>
<circle cx="255.0" cy="338.2" r="4.85" fill="#476ee6"/>
<circle cx="177.1" cy="337.2" r="4.85" fill="#3e3891"/>
<circle cx="285.9" cy="269.2" r="4.85" fill="#466be3"/>
<circle cx="161.2" cy="366.1" r="4.85" fill="#4661d6"/>
<circle cx="406.1" cy="291.6" r="4.85" fill="#fe962b"/>
<circle cx="208.0" cy="360.6" r="4.85" fill="#372466"/>
<circle cx="215.7" cy="354.1" r="4.85" fill="#3d358b"/>
<circle cx="316.8" cy="244.1" r="4.85" fill="#4454c3"/>
<circle cx="353.4" cy="220.9" r="4.85" fill="#424bb5"/>
<circle cx="200.6" cy="360.7" r="4.85" fill="#392a73"/>
<circle cx="272.2" cy="296.5" r="4.85" fill="#4040a2"/>
<circle cx="264.8" cy="296.7" r="4.85" fill="#4451bf"/>
<circle cx="249.0" cy="298.9" r="4.85" fill="#4146ac"/>
<circle cx="234.2" cy="315.1" r="4.85" fill="#455ccf"/>
<circle cx="284.8" cy="349.0" r="4.85" fill="#4456c7"/>
<circle cx="223.6" cy="263.4" r="4.85" fill="#3e9bfe"/>
<circle cx="289.2" cy="276.0" r="4.85" fill="#455ccf"/>
<circle cx="251.1" cy="298.6" r="4.85" fill="#4454c3"/>
<circle cx="258.1" cy="332.5" r="4.85" fill="#4559cb"/>
<circle cx="343.1" cy="230.1" r="4.85" fill="#4146ac"/>
<circle cx="232.9" cy="290.0" r="4.85" fill="#4454c3"/>
<circle cx="267.8" cy="319.1" r="4.85" fill="#4661d6"/>
<circle cx="406.6" cy="306.4" r="4.85" fill="#1ecbda"/>
<circle cx="160.8" cy="404.6" r="4.85" fill="#30123b"/>
<circle cx="451.0" cy="201.2" r="4.85" fill="#2fb2f4"/>
<circle cx="232.8" cy="295.1" r="4.85" fill="#3ba0fd"/>
<circle cx="298.0" cy="288.7" r="4.85" fill="#4454c3"/>
<circle cx="480.4" cy="152.2" r="4.85" fill="#4771e9"/>
<circle cx="352.4" cy="244.0" r="4.85" fill="#4687fb"/>
<circle cx="308.1" cy="205.4" r="4.85" fill="#4664da"/>
<circle cx="264.1" cy="309.3" r="4.85" fill="#3f3b97"/>
<circle cx="208.5" cy="305.3" r="4.85" fill="#2ab9ee"/>
<circle cx="322.4" cy="236.5" r="4.85" fill="#4040a2"/>
<circle cx="471.0" cy="218.5" r="4.85" fill="#4680f6"/>
<circle cx="203.3" cy="385.9" r="4.85" fill="#466be3"/>
<circle cx="183.4" cy="347.0" r="4.85" fill="#3a2d79"/>
<circle cx="254.4" cy="350.3" r="4.85" fill="#4680f6"/>
<circle cx="358.7" cy="254.6" r="4.85" fill="#477bf2"/>
<circle cx="485.5" cy="154.2" r="4.85" fill="#458cfd"/>
<circle cx="363.3" cy="231.1" r="4.85" fill="#4456c7"/>
<circle cx="336.8" cy="233.5" r="4.85" fill="#4661d6"/>
<circle cx="304.0" cy="299.3" r="4.85" fill="#4682f8"/>
<circle cx="356.1" cy="190.0" r="4.85" fill="#4773eb"/>
<circle cx="180.1" cy="402.8" r="4.85" fill="#36215f"/>
<circle cx="198.1" cy="361.7" r="4.85" fill="#3c3286"/>
<circle cx="187.2" cy="354.4" r="4.85" fill="#33184a"/>
<circle cx="179.4" cy="350.0" r="4.85" fill="#372466"/>
<circle cx="178.8" cy="308.2" r="4.85" fill="#cbed34"/>
<circle cx="234.2" cy="349.0" r="4.85" fill="#3e3891"/>
<circle cx="316.0" cy="229.6" r="4.85" fill="#455ed3"/>
<circle cx="361.9" cy="236.4" r="4.85" fill="#4776ee"/>
<circle cx="269.9" cy="311.1" r="4.85" fill="#4143a7"/>
<circle cx="241.7" cy="299.5" r="4.85" fill="#466be3"/>
<circle cx="302.4" cy="293.9" r="4.85" fill="#4682f8"/>
<circle cx="258.5" cy="310.9" r="4.85" fill="#4040a2"/>
<circle cx="205.8" cy="370.6" r="4.85" fill="#3a2d79"/>
<circle cx="360.3" cy="211.3" r="4.85" fill="#424bb5"/>
<circle cx="366.5" cy="197.0" r="4.85" fill="#434eba"/>
<circle cx="225.3" cy="295.5" r="4.85" fill="#2cb7f0"/>
<circle cx="336.9" cy="278.4" r="4.85" fill="#4454c3"/>
<circle cx="329.2" cy="244.3" r="4.85" fill="#4559cb"/>
<circle cx="172.0" cy="323.8" r="4.85" fill="#4559cb"/>
<circle cx="171.2" cy="404.4" r="4.85" fill="#3a2d79"/>
<circle cx="239.8" cy="247.8" r="4.85" fill="#467df4"/>
<circle cx="235.6" cy="372.6" r="4.85" fill="#4196ff"/>
<circle cx="182.6" cy="399.1" r="4.85" fill="#3a2d79"/>
<circle cx="428.1" cy="165.7" r="4.85" fill="#4559cb"/>
<circle cx="217.0" cy="349.3" r="4.85" fill="#3d358b"/>
<circle cx="235.3" cy="333.7" r="4.85" fill="#3a2d79"/>
<circle cx="173.6" cy="365.6" r="4.85" fill="#3b2f80"/>
<circle cx="332.8" cy="231.9" r="4.85" fill="#4040a2"/>
<circle cx="253.4" cy="314.2" r="4.85" fill="#3b2f80"/>
<circle cx="347.4" cy="244.7" r="4.85" fill="#4143a7"/>
<circle cx="383.7" cy="225.4" r="4.85" fill="#477bf2"/>
<circle cx="307.5" cy="269.8" r="4.85" fill="#3d358b"/>
<circle cx="487.0" cy="310.6" r="4.85" fill="#3e9bfe"/>
<circle cx="244.0" cy="332.3" r="4.85" fill="#4559cb"/>
<circle cx="163.9" cy="366.7" r="4.85" fill="#3a2d79"/>
<circle cx="225.9" cy="267.5" r="4.85" fill="#1ad4d0"/>
<circle cx="188.5" cy="354.8" r="4.85" fill="#351e58"/>
<circle cx="349.5" cy="207.6" r="4.85" fill="#4456c7"/>
<circle cx="390.2" cy="321.7" r="4.85" fill="#1ecbda"/>
<circle cx="187.9" cy="394.2" r="4.85" fill="#33184a"/>
<circle cx="397.6" cy="141.9" r="4.85" fill="#20c7df"/>
<circle cx="276.6" cy="309.5" r="4.85" fill="#4146ac"/>
<circle cx="283.0" cy="309.7" r="4.85" fill="#4778f0"/>
<circle cx="281.9" cy="294.7" r="4.85" fill="#4249b1"/>
<circle cx="252.2" cy="289.4" r="4.85" fill="#4391fe"/>
<circle cx="194.9" cy="318.7" r="4.85" fill="#3f3e9c"/>
<circle cx="250.1" cy="291.7" r="4.85" fill="#455ed3"/>
<circle cx="254.8" cy="320.9" r="4.85" fill="#3d358b"/>
<circle cx="245.0" cy="321.5" r="4.85" fill="#3c3286"/>
<circle cx="209.8" cy="331.4" r="4.85" fill="#4143a7"/>
<circle cx="264.0" cy="361.6" r="4.85" fill="#424bb5"/>
<circle cx="259.8" cy="306.4" r="4.85" fill="#3e3891"/>
<circle cx="229.9" cy="255.2" r="4.85" fill="#4771e9"/>
<circle cx="161.5" cy="403.1" r="4.85" fill="#30123b"/>
<circle cx="359.5" cy="216.8" r="4.85" fill="#4249b1"/>
<circle cx="189.2" cy="358.7" r="4.85" fill="#3f3e9c"/>
<circle cx="398.3" cy="321.7" r="4.85" fill="#3f3e9c"/>
<circle cx="296.5" cy="271.5" r="4.85" fill="#4146ac"/>
<circle cx="323.7" cy="205.9" r="4.85" fill="#4391fe"/>
<circle cx="169.0" cy="353.6" r="4.85" fill="#3a2d79"/>
<circle cx="251.4" cy="312.2" r="4.85" fill="#3a2d79"/>
<circle cx="338.0" cy="212.3" r="4.85" fill="#455ed3"/>
<circle cx="464.8" cy="156.5" r="4.85" fill="#4669e0"/>
<circle cx="348.4" cy="228.6" r="4.85" fill="#455ed3"/>
<circle cx="364.7" cy="204.5" r="4.85" fill="#4454c3"/>
<circle cx="411.5" cy="326.6" r="4.85" fill="#4666dd"/>
<circle cx="196.9" cy="357.7" r="4.85" fill="#372466"/>
<circle cx="332.1" cy="296.0" r="4.85" fill="#35abf8"/>
<circle cx="321.1" cy="271.7" r="4.85" fill="#455ed3"/>
<circle cx="429.5" cy="339.5" r="4.85" fill="#4666dd"/>
<circle cx="199.2" cy="384.1" r="4.85" fill="#434eba"/>
<circle cx="189.7" cy="360.1" r="4.85" fill="#3c3286"/>
<circle cx="228.5" cy="351.1" r="4.85" fill="#4143a7"/>
<circle cx="177.6" cy="357.3" r="4.85" fill="#3d358b"/>
<circle cx="210.0" cy="323.3" r="4.85" fill="#3e3891"/>
<circle cx="252.3" cy="328.1" r="4.85" fill="#4771e9"/>
<circle cx="311.5" cy="279.3" r="4.85" fill="#434eba"/>
<circle cx="311.1" cy="240.1" r="4.85" fill="#4661d6"/>
<circle cx="234.4" cy="250.9" r="4.85" fill="#3ba0fd"/>
<circle cx="180.2" cy="382.5" r="4.85" fill="#33184a"/>
<circle cx="218.5" cy="338.8" r="4.85" fill="#372466"/>
<circle cx="226.2" cy="344.7" r="4.85" fill="#4040a2"/>
<circle cx="258.8" cy="300.8" r="4.85" fill="#455ed3"/>
<circle cx="167.5" cy="348.4" r="4.85" fill="#372466"/>
<circle cx="162.7" cy="402.5" r="4.85" fill="#341b51"/>
<circle cx="216.2" cy="380.3" r="4.85" fill="#3e3891"/>
<circle cx="453.2" cy="366.2" r="4.85" fill="#4666dd"/>
<circle cx="210.2" cy="333.4" r="4.85" fill="#3d358b"/>
<circle cx="445.1" cy="201.3" r="4.85" fill="#4776ee"/>
<circle cx="358.9" cy="196.1" r="4.85" fill="#4669e0"/>
<circle cx="180.5" cy="368.4" r="4.85" fill="#434eba"/>
<circle cx="301.0" cy="298.8" r="4.85" fill="#4682f8"/>
<circle cx="174.6" cy="332.7" r="4.85" fill="#372466"/>
<circle cx="187.1" cy="379.0" r="4.85" fill="#341b51"/>
<circle cx="356.3" cy="209.5" r="4.85" fill="#4669e0"/>
<circle cx="225.8" cy="315.9" r="4.85" fill="#4146ac"/>
<circle cx="211.2" cy="382.3" r="4.85" fill="#3d358b"/>
<circle cx="281.1" cy="234.4" r="4.85" fill="#4661d6"/>
<circle cx="311.7" cy="242.2" r="4.85" fill="#477bf2"/>
<circle cx="321.3" cy="247.2" r="4.85" fill="#4669e0"/>
<circle cx="326.6" cy="367.3" r="4.85" fill="#4666dd"/>
<circle cx="166.0" cy="341.6" r="4.85" fill="#476ee6"/>
<circle cx="368.7" cy="199.6" r="4.85" fill="#4456c7"/>
<circle cx="177.7" cy="360.3" r="4.85" fill="#4666dd"/>
<circle cx="173.3" cy="372.7" r="4.85" fill="#341b51"/>
<circle cx="313.8" cy="307.1" r="4.85" fill="#4773eb"/>
<circle cx="285.3" cy="304.2" r="4.85" fill="#4664da"/>
<circle cx="242.7" cy="316.1" r="4.85" fill="#392a73"/>
<circle cx="211.9" cy="378.3" r="4.85" fill="#4143a7"/>
<circle cx="198.3" cy="392.1" r="4.85" fill="#38276d"/>
<circle cx="400.6" cy="228.4" r="4.85" fill="#4680f6"/>
<circle cx="244.5" cy="317.1" r="4.85" fill="#3f3b97"/>
<circle cx="285.3" cy="260.6" r="4.85" fill="#4687fb"/>
<circle cx="348.7" cy="197.9" r="4.85" fill="#424bb5"/>
<circle cx="320.1" cy="234.5" r="4.85" fill="#4294ff"/>
<circle cx="172.4" cy="375.7" r="4.85" fill="#3a2d79"/>
<circle cx="182.0" cy="390.0" r="4.85" fill="#351e58"/>
<circle cx="293.4" cy="258.8" r="4.85" fill="#4040a2"/>
<circle cx="356.5" cy="231.2" r="4.85" fill="#455ed3"/>
<circle cx="276.3" cy="282.5" r="4.85" fill="#477bf2"/>
<circle cx="231.0" cy="365.6" r="4.85" fill="#4249b1"/>
<circle cx="230.8" cy="393.0" r="4.85" fill="#36215f"/>
<circle cx="359.3" cy="242.3" r="4.85" fill="#455ccf"/>
<circle cx="410.5" cy="140.2" r="4.85" fill="#466be3"/>
<circle cx="188.1" cy="324.5" r="4.85" fill="#455ed3"/>
<circle cx="316.1" cy="271.8" r="4.85" fill="#4666dd"/>
<circle cx="173.0" cy="334.1" r="4.85" fill="#3b2f80"/>
<circle cx="375.8" cy="310.6" r="4.85" fill="#4666dd"/>
<circle cx="235.9" cy="320.8" r="4.85" fill="#4040a2"/>
<circle cx="212.5" cy="336.2" r="4.85" fill="#434eba"/>
<circle cx="284.6" cy="324.1" r="4.85" fill="#4451bf"/>
<circle cx="211.5" cy="350.8" r="4.85" fill="#372466"/>
<circle cx="330.5" cy="240.5" r="4.85" fill="#4146ac"/>
<circle cx="211.2" cy="381.1" r="4.85" fill="#372466"/>
<circle cx="178.9" cy="343.9" r="4.85" fill="#455ccf"/>
<circle cx="247.2" cy="335.8" r="4.85" fill="#4040a2"/>
<circle cx="212.5" cy="356.4" r="4.85" fill="#38276d"/>
<circle cx="221.0" cy="343.5" r="4.85" fill="#392a73"/>
<circle cx="316.2" cy="246.5" r="4.85" fill="#424bb5"/>
<circle cx="267.7" cy="308.7" r="4.85" fill="#3d358b"/>
<circle cx="214.3" cy="352.0" r="4.85" fill="#38276d"/>
<circle cx="349.5" cy="231.8" r="4.85" fill="#424bb5"/>
<circle cx="225.2" cy="353.5" r="4.85" fill="#372466"/>
<circle cx="199.0" cy="388.6" r="4.85" fill="#4143a7"/>
<circle cx="287.5" cy="247.5" r="4.85" fill="#3f3e9c"/>
<circle cx="281.2" cy="331.7" r="4.85" fill="#3d9efe"/>
<circle cx="215.4" cy="343.8" r="4.85" fill="#3f3e9c"/>
<circle cx="219.3" cy="366.0" r="4.85" fill="#4249b1"/>
<circle cx="245.9" cy="309.0" r="4.85" fill="#434eba"/>
<circle cx="200.9" cy="308.8" r="4.85" fill="#4456c7"/>
<circle cx="325.2" cy="262.4" r="4.85" fill="#4664da"/>
<circle cx="367.9" cy="213.1" r="4.85" fill="#4454c3"/>
<circle cx="203.0" cy="332.6" r="4.85" fill="#3c3286"/>
<circle cx="192.5" cy="350.7" r="4.85" fill="#3a2d79"/>
<circle cx="369.3" cy="197.7" r="4.85" fill="#4771e9"/>
<circle cx="221.9" cy="318.0" r="4.85" fill="#4143a7"/>
<circle cx="193.4" cy="387.2" r="4.85" fill="#372466"/>
<circle cx="222.4" cy="325.8" r="4.85" fill="#424bb5"/>
<circle cx="212.4" cy="276.5" r="4.85" fill="#1ccdd8"/>
<circle cx="175.5" cy="342.7" r="4.85" fill="#3e3891"/>
<circle cx="380.9" cy="340.5" r="4.85" fill="#4666dd"/>
<circle cx="353.0" cy="218.0" r="4.85" fill="#4456c7"/>
<circle cx="162.4" cy="383.7" r="4.85" fill="#3f3b97"/>
<circle cx="291.7" cy="248.7" r="4.85" fill="#4456c7"/>
<circle cx="263.4" cy="333.3" r="4.85" fill="#4771e9"/>
<circle cx="250.5" cy="318.0" r="4.85" fill="#3a2d79"/>
<circle cx="272.7" cy="272.8" r="4.85" fill="#4776ee"/>
<circle cx="205.0" cy="353.0" r="4.85" fill="#392a73"/>
<circle cx="184.9" cy="363.6" r="4.85" fill="#3f3e9c"/>
<circle cx="308.5" cy="246.5" r="4.85" fill="#434eba"/>
<circle cx="193.6" cy="342.2" r="4.85" fill="#434eba"/>
<circle cx="239.1" cy="358.1" r="4.85" fill="#3c3286"/>
<circle cx="289.2" cy="282.3" r="4.85" fill="#4249b1"/>
<circle cx="164.5" cy="335.0" r="4.85" fill="#35f394"/>
<circle cx="334.3" cy="225.6" r="4.85" fill="#4146ac"/>
<circle cx="200.0" cy="345.8" r="4.85" fill="#434eba"/>
<circle cx="177.3" cy="386.5" r="4.85" fill="#341b51"/>
<circle cx="241.5" cy="239.6" r="4.85" fill="#455ccf"/>
<circle cx="205.7" cy="345.2" r="4.85" fill="#4146ac"/>
<circle cx="167.9" cy="404.0" r="4.85" fill="#3f3e9c"/>
<circle cx="187.6" cy="362.6" r="4.85" fill="#372466"/>
<circle cx="173.9" cy="330.9" r="4.85" fill="#4294ff"/>
<circle cx="192.9" cy="367.9" r="4.85" fill="#3a2d79"/>
<circle cx="174.3" cy="359.5" r="4.85" fill="#392a73"/>
<circle cx="323.6" cy="256.7" r="4.85" fill="#4451bf"/>
<circle cx="161.4" cy="392.0" r="4.85" fill="#3c3286"/>
<circle cx="172.4" cy="361.3" r="4.85" fill="#351e58"/>
<circle cx="329.6" cy="250.4" r="4.85" fill="#4146ac"/>
<circle cx="367.0" cy="329.6" r="4.85" fill="#4666dd"/>
<circle cx="343.7" cy="200.8" r="4.85" fill="#4249b1"/>
<circle cx="195.5" cy="356.4" r="4.85" fill="#392a73"/>
<circle cx="310.9" cy="265.1" r="4.85" fill="#424bb5"/>
<circle cx="223.6" cy="343.2" r="4.85" fill="#392a73"/>
<circle cx="347.0" cy="234.2" r="4.85" fill="#4456c7"/>
<circle cx="161.4" cy="376.3" r="4.85" fill="#4146ac"/>
<circle cx="200.0" cy="343.4" r="4.85" fill="#4143a7"/>
<circle cx="312.0" cy="223.6" r="4.85" fill="#434eba"/>
<circle cx="303.2" cy="257.7" r="4.85" fill="#4249b1"/>
<circle cx="194.2" cy="392.3" r="4.85" fill="#3a2d79"/>
<circle cx="165.4" cy="378.8" r="4.85" fill="#392a73"/>
<circle cx="344.3" cy="207.4" r="4.85" fill="#4559cb"/>
<circle cx="214.4" cy="334.7" r="4.85" fill="#4146ac"/>
<circle cx="204.2" cy="371.4" r="4.85" fill="#38276d"/>
<circle cx="332.0" cy="236.5" r="4.85" fill="#4143a7"/>
<circle cx="266.4" cy="353.4" r="4.85" fill="#4294ff"/>
<circle cx="203.2" cy="378.0" r="4.85" fill="#3a2d79"/>
<circle cx="367.5" cy="242.7" r="4.85" fill="#4456c7"/>
<circle cx="226.3" cy="366.1" r="4.85" fill="#4451bf"/>
<circle cx="485.0" cy="151.7" r="4.85" fill="#4664da"/>
<circle cx="239.1" cy="329.0" r="4.85" fill="#3b2f80"/>
<circle cx="344.2" cy="330.5" r="4.85" fill="#3f3e9c"/>
<circle cx="182.0" cy="313.2" r="4.85" fill="#4099ff"/>
<circle cx="191.6" cy="390.9" r="4.85" fill="#341b51"/>
<circle cx="328.8" cy="259.9" r="4.85" fill="#4687fb"/>
<circle cx="183.4" cy="371.7" r="4.85" fill="#3a2d79"/>
<circle cx="349.6" cy="240.9" r="4.85" fill="#4666dd"/>
<circle cx="193.0" cy="377.2" r="4.85" fill="#341b51"/>
<circle cx="264.8" cy="329.1" r="4.85" fill="#4669e0"/>
<circle cx="168.5" cy="327.4" r="4.85" fill="#4451bf"/>
<circle cx="334.4" cy="283.7" r="4.85" fill="#4776ee"/>
<circle cx="260.0" cy="298.3" r="4.85" fill="#4249b1"/>
<circle cx="263.0" cy="290.9" r="4.85" fill="#3f3e9c"/>
<circle cx="166.5" cy="368.4" r="4.85" fill="#4559cb"/>
<circle cx="312.3" cy="300.1" r="4.85" fill="#4040a2"/>
<circle cx="190.9" cy="389.5" r="4.85" fill="#4773eb"/>
<circle cx="398.4" cy="177.1" r="4.85" fill="#4451bf"/>
<circle cx="244.2" cy="338.0" r="4.85" fill="#4778f0"/>
<circle cx="186.2" cy="362.6" r="4.85" fill="#372466"/>
<circle cx="221.2" cy="324.3" r="4.85" fill="#424bb5"/>
<circle cx="198.2" cy="370.5" r="4.85" fill="#38276d"/>
<circle cx="285.9" cy="305.1" r="4.85" fill="#467df4"/>
<circle cx="231.3" cy="358.6" r="4.85" fill="#434eba"/>
<circle cx="216.4" cy="379.2" r="4.85" fill="#424bb5"/>
<circle cx="259.5" cy="296.7" r="4.85" fill="#455ed3"/>
<circle cx="234.2" cy="331.5" r="4.85" fill="#372466"/>
<circle cx="165.1" cy="392.7" r="4.85" fill="#341b51"/>
<circle cx="252.6" cy="320.2" r="4.85" fill="#3c3286"/>
<circle cx="224.8" cy="322.9" r="4.85" fill="#4664da"/>
<circle cx="171.7" cy="399.5" r="4.85" fill="#36215f"/>
<circle cx="170.3" cy="334.0" r="4.85" fill="#4456c7"/>
<circle cx="204.3" cy="346.4" r="4.85" fill="#3f3b97"/>
<circle cx="180.6" cy="325.8" r="4.85" fill="#372466"/>
<circle cx="197.4" cy="387.0" r="4.85" fill="#455ccf"/>
<circle cx="345.9" cy="233.6" r="4.85" fill="#4454c3"/>
<circle cx="171.5" cy="387.2" r="4.85" fill="#372466"/>
<circle cx="258.5" cy="269.7" r="4.85" fill="#3c3286"/>
<circle cx="162.7" cy="329.9" r="4.85" fill="#455ccf"/>
<circle cx="325.9" cy="194.3" r="4.85" fill="#4682f8"/>
<circle cx="163.0" cy="404.3" r="4.85" fill="#341b51"/>
<circle cx="306.9" cy="262.7" r="4.85" fill="#4146ac"/>
<circle cx="287.3" cy="276.5" r="4.85" fill="#4143a7"/>
<circle cx="164.9" cy="397.3" r="4.85" fill="#30123b"/>
<circle cx="314.4" cy="274.5" r="4.85" fill="#434eba"/>
<circle cx="368.8" cy="217.4" r="4.85" fill="#434eba"/>
<circle cx="332.3" cy="346.5" r="4.85" fill="#3e9bfe"/>
<circle cx="366.6" cy="208.8" r="4.85" fill="#4451bf"/>
<circle cx="187.0" cy="371.1" r="4.85" fill="#38276d"/>
<circle cx="228.1" cy="373.3" r="4.85" fill="#3b2f80"/>
<circle cx="173.7" cy="385.4" r="4.85" fill="#351e58"/>
<circle cx="187.7" cy="391.9" r="4.85" fill="#4666dd"/>
<circle cx="169.7" cy="378.4" r="4.85" fill="#3f3e9c"/>
<circle cx="223.8" cy="314.5" r="4.85" fill="#3b2f80"/>
<circle cx="283.7" cy="273.3" r="4.85" fill="#424bb5"/>
<circle cx="337.2" cy="353.4" r="4.85" fill="#3e9bfe"/>
<circle cx="183.0" cy="377.7" r="4.85" fill="#392a73"/>
<circle cx="184.5" cy="385.9" r="4.85" fill="#372466"/>
<circle cx="231.1" cy="323.1" r="4.85" fill="#424bb5"/>
<circle cx="332.4" cy="243.8" r="4.85" fill="#4249b1"/>
<circle cx="181.6" cy="376.0" r="4.85" fill="#321543"/>
<circle cx="331.5" cy="226.3" r="4.85" fill="#466be3"/>
<circle cx="314.8" cy="254.6" r="4.85" fill="#4040a2"/>
<circle cx="269.9" cy="356.7" r="4.85" fill="#4294ff"/>
<circle cx="161.6" cy="386.8" r="4.85" fill="#351e58"/>
<circle cx="271.0" cy="281.3" r="4.85" fill="#4669e0"/>
<circle cx="310.8" cy="277.7" r="4.85" fill="#4249b1"/>
<circle cx="330.5" cy="237.2" r="4.85" fill="#4249b1"/>
<circle cx="230.1" cy="374.1" r="4.85" fill="#434eba"/>
<circle cx="358.4" cy="224.9" r="4.85" fill="#4451bf"/>
<circle cx="233.1" cy="320.7" r="4.85" fill="#38276d"/>
<circle cx="314.5" cy="249.2" r="4.85" fill="#4143a7"/>
<circle cx="215.8" cy="305.9" r="4.85" fill="#4454c3"/>
<circle cx="441.3" cy="204.8" r="4.85" fill="#a4fc3c"/>
<circle cx="176.8" cy="398.2" r="4.85" fill="#3b2f80"/>
<circle cx="241.0" cy="335.8" r="4.85" fill="#4559cb"/>
<circle cx="307.7" cy="306.9" r="4.85" fill="#455ccf"/>
<circle cx="212.7" cy="319.0" r="4.85" fill="#434eba"/>
<circle cx="324.1" cy="253.3" r="4.85" fill="#4143a7"/>
<circle cx="460.1" cy="158.0" r="4.85" fill="#a4fc3c"/>
<circle cx="285.3" cy="287.3" r="4.85" fill="#3e3891"/>
<circle cx="451.3" cy="212.7" r="4.85" fill="#4666dd"/>
<circle cx="340.8" cy="190.9" r="4.85" fill="#4666dd"/>
<circle cx="310.3" cy="256.1" r="4.85" fill="#3f3b97"/>
<circle cx="280.7" cy="281.5" r="4.85" fill="#4040a2"/>
<circle cx="228.7" cy="333.7" r="4.85" fill="#434eba"/>
<circle cx="335.7" cy="246.1" r="4.85" fill="#434eba"/>
<circle cx="199.2" cy="373.3" r="4.85" fill="#36215f"/>
<circle cx="174.7" cy="391.3" r="4.85" fill="#33184a"/>
<circle cx="345.3" cy="179.9" r="4.85" fill="#3d9efe"/>
<circle cx="236.3" cy="350.6" r="4.85" fill="#3f3b97"/>
<circle cx="222.9" cy="363.9" r="4.85" fill="#38276d"/>
<circle cx="310.7" cy="249.9" r="4.85" fill="#4249b1"/>
<circle cx="333.0" cy="189.2" r="4.85" fill="#4451bf"/>
<circle cx="304.5" cy="244.4" r="4.85" fill="#434eba"/>
</g>
<path d="M159.5 403.7L499.9 81.2" stroke="#cc444c" stroke-width="2.4" stroke-dasharray="7.4,3.2" fill="none"/>
</g>
<rect x="151.9" y="72.6" width="357.9" height="339.3" fill="none" stroke="#cccccc" stroke-width="1.7"/>
<rect x="161.8" y="81.1" width="127.1" height="68.2" rx="7" fill="#fff" fill-opacity="0.85" stroke="#7f7f7f" stroke-width="1.4"/>
<text x="170.1" y="101.4" font-size="16.67">R² = 0.82</text>
<text x="170.1" y="119.2" font-size="16.67">MAE = 71 K</text>
<text x="170.1" y="137.1" font-size="16.67">RMSE = 115 K</text>
<text x="160.7" y="436.9" text-anchor="middle" font-size="18.33" letter-spacing="0.6">0</text>
<text x="221.8" y="436.9" text-anchor="middle" font-size="18.33" letter-spacing="0.6">250</text>
<text x="282.9" y="436.9" text-anchor="middle" font-size="18.33" letter-spacing="0.6">500</text>
<text x="344.0" y="436.9" text-anchor="middle" font-size="18.33" letter-spacing="0.6">750</text>
<text x="405.1" y="436.9" text-anchor="middle" font-size="18.33" letter-spacing="0.6">1000</text>
<text x="466.2" y="436.9" text-anchor="middle" font-size="18.33" letter-spacing="0.6">1250</text>
<text x="141.3" y="409.8" text-anchor="end" font-size="18.33" letter-spacing="0.6">0</text>
<text x="141.3" y="363.5" text-anchor="end" font-size="18.33" letter-spacing="0.6">200</text>
<text x="141.3" y="317.2" text-anchor="end" font-size="18.33" letter-spacing="0.6">400</text>
<text x="141.3" y="270.9" text-anchor="end" font-size="18.33" letter-spacing="0.6">600</text>
<text x="141.3" y="224.6" text-anchor="end" font-size="18.33" letter-spacing="0.6">800</text>
<text x="141.3" y="178.3" text-anchor="end" font-size="18.33" letter-spacing="0.6">1000</text>
<text x="141.3" y="132.0" text-anchor="end" font-size="18.33" letter-spacing="0.6">1200</text>
<text x="141.3" y="85.7" text-anchor="end" font-size="18.33" letter-spacing="0.6">1400</text>
<text x="330.9" y="467.6" text-anchor="middle" font-size="21.67">Actual Curie Temperature (K)</text>
<text transform="translate(82.3,242.2) rotate(-90)" text-anchor="middle" font-size="21.67">Predicted Curie Temperature (K)</text>
<rect x="523.65" y="73.65" width="15.00" height="337.50" fill="url(#gra)" fill-opacity="0.88"/>
<rect x="523.00" y="73.00" width="16.30" height="338.80" fill="none" stroke="#d8dad8" stroke-width="1.3"/>
<text x="551.6" y="347.4" font-size="18.33" letter-spacing="0.3">50</text>
<text x="551.6" y="274.6" font-size="18.33" letter-spacing="0.3">100</text>
<text x="551.6" y="201.8" font-size="18.33" letter-spacing="0.3">150</text>
<text x="551.6" y="129.0" font-size="18.33" letter-spacing="0.3">200</text>
<path d="M539.8 340.9h5.8M539.8 268.1h5.8M539.8 195.3h5.8M539.8 122.5h5.8" stroke="#262626" stroke-width="1.3"/>
<text transform="translate(599.8,242.2) rotate(-90)" text-anchor="middle" font-size="16.67">Prediction Std Deviation (K)</text>
<text x="683.3" y="22.0" font-size="31.5" font-weight="bold" fill="#000">b</text>
<text x="997.5" y="49.1" text-anchor="middle" font-size="23.33" letter-spacing="0.25">Ensemble Neural Network</text>
<path d="M828.0 72.6V411.9M889.1 72.6V411.9M950.3 72.6V411.9M1011.5 72.6V411.9M1072.6 72.6V411.9M1133.8 72.6V411.9M818.0 402.5H1177.0M818.0 356.2H1177.0M818.0 309.9H1177.0M818.0 263.6H1177.0M818.0 217.3H1177.0M818.0 171.0H1177.0M818.0 124.7H1177.0M818.0 78.4H1177.0" stroke="#e6e6e6" stroke-width="1.1" stroke-dasharray="4.6,1.5" fill="none"/>
<g clip-path="url(#clipb)">
<path d="M873.6 254.8v52.7m-2.5 0h5m0 -52.7h-5M1011.3 156.0v47.6m-2.5 0h5m0 -47.6h-5M878.1 275.2v33.7m-2.5 0h5m0 -33.7h-5M976.9 170.1v61.1m-2.5 0h5m0 -61.1h-5M869.7 255.1v47.0m-2.5 0h5m0 -47.0h-5M895.2 346.9v54.8m-2.5 0h5m0 -54.8h-5M851.2 261.7v34.2m-2.5 0h5m0 -34.2h-5M907.4 192.2v125.5m-2.5 0h5m0 -125.5h-5M1056.1 187.3v23.2m-2.5 0h5m0 -23.2h-5M1098.1 70.6v75.9m-2.5 0h5m0 -75.9h-5M1046.3 167.1v39.8m-2.5 0h5m0 -39.8h-5M1049.4 210.1v28.1m-2.5 0h5m0 -28.1h-5M1089.2 142.3v26.3m-2.5 0h5m0 -26.3h-5M1062.0 186.6v31.9m-2.5 0h5m0 -31.9h-5M873.0 268.1v56.0m-2.5 0h5m0 -56.0h-5M1025.0 280.1v60.0m-2.5 0h5m0 -60.0h-5M902.8 368.1v25.1m-2.5 0h5m0 -25.1h-5M1088.3 169.3v16.7m-2.5 0h5m0 -16.7h-5M890.6 341.8v71.8m-2.5 0h5m0 -71.8h-5M903.2 339.4v62.8m-2.5 0h5m0 -62.8h-5M901.4 244.6v80.4m-2.5 0h5m0 -80.4h-5M885.6 359.3v41.8m-2.5 0h5m0 -41.8h-5M832.6 250.7v42.0m-2.5 0h5m0 -42.0h-5M861.3 281.8v73.2m-2.5 0h5m0 -73.2h-5M1053.6 212.8v63.5m-2.5 0h5m0 -63.5h-5M1068.1 92.9v66.0m-2.5 0h5m0 -66.0h-5M1130.3 107.2v20.1m-2.5 0h5m0 -20.1h-5M924.8 209.2v68.2m-2.5 0h5m0 -68.2h-5M1022.4 253.2v32.0m-2.5 0h5m0 -32.0h-5M1024.9 84.9v34.6m-2.5 0h5m0 -34.6h-5M957.4 299.4v25.8m-2.5 0h5m0 -25.8h-5M925.5 246.7v31.4m-2.5 0h5m0 -31.4h-5M913.8 228.4v45.4m-2.5 0h5m0 -45.4h-5M925.8 336.0v47.7m-2.5 0h5m0 -47.7h-5M942.0 338.8v35.3m-2.5 0h5m0 -35.3h-5M990.6 184.6v37.8m-2.5 0h5m0 -37.8h-5M897.7 260.3v49.7m-2.5 0h5m0 -49.7h-5M1017.0 259.3v22.8m-2.5 0h5m0 -22.8h-5M1035.6 261.1v20.3m-2.5 0h5m0 -20.3h-5M1141.7 128.0v18.6m-2.5 0h5m0 -18.6h-5M1127.0 152.6v31.6m-2.5 0h5m0 -31.6h-5M897.6 216.6v46.3m-2.5 0h5m0 -46.3h-5M1061.6 148.6v24.5m-2.5 0h5m0 -24.5h-5M860.9 384.3v20.8m-2.5 0h5m0 -20.8h-5M866.8 277.7v66.6m-2.5 0h5m0 -66.6h-5M1035.5 229.8v37.7m-2.5 0h5m0 -37.7h-5M1029.4 250.5v35.0m-2.5 0h5m0 -35.0h-5M880.3 278.2v43.3m-2.5 0h5m0 -43.3h-5M850.8 255.9v35.7m-2.5 0h5m0 -35.7h-5M1099.9 155.8v22.9m-2.5 0h5m0 -22.9h-5M975.1 290.3v44.4m-2.5 0h5m0 -44.4h-5M1015.3 245.8v43.1m-2.5 0h5m0 -43.1h-5M882.9 361.0v39.5m-2.5 0h5m0 -39.5h-5M966.7 282.1v44.6m-2.5 0h5m0 -44.6h-5M1005.2 166.4v58.6m-2.5 0h5m0 -58.6h-5M886.4 283.6v43.0m-2.5 0h5m0 -43.0h-5M897.7 347.8v54.3m-2.5 0h5m0 -54.3h-5M994.1 290.0v17.7m-2.5 0h5m0 -17.7h-5M991.5 264.4v30.5m-2.5 0h5m0 -30.5h-5M1042.1 196.6v31.0m-2.5 0h5m0 -31.0h-5M880.2 276.8v57.7m-2.5 0h5m0 -57.7h-5M945.6 316.9v72.2m-2.5 0h5m0 -72.2h-5M842.1 235.6v38.2m-2.5 0h5m0 -38.2h-5M858.5 227.8v125.5m-2.5 0h5m0 -125.5h-5M882.0 172.6v125.5m-2.5 0h5m0 -125.5h-5M874.3 374.2v35.6m-2.5 0h5m0 -35.6h-5M1067.8 114.7v23.3m-2.5 0h5m0 -23.3h-5M1020.9 282.3v24.8m-2.5 0h5m0 -24.8h-5M1031.2 138.0v32.1m-2.5 0h5m0 -32.1h-5M1146.8 90.9v17.1m-2.5 0h5m0 -17.1h-5M895.8 360.6v30.4m-2.5 0h5m0 -30.4h-5M940.4 253.1v23.0m-2.5 0h5m0 -23.0h-5M1029.5 146.5v57.0m-2.5 0h5m0 -57.0h-5M844.9 274.8v67.8m-2.5 0h5m0 -67.8h-5M934.5 242.0v36.1m-2.5 0h5m0 -36.1h-5M954.9 184.3v78.1m-2.5 0h5m0 -78.1h-5M932.4 236.9v39.4m-2.5 0h5m0 -39.4h-5M950.9 203.8v52.6m-2.5 0h5m0 -52.6h-5M1066.0 172.1v19.1m-2.5 0h5m0 -19.1h-5M900.9 345.3v51.2m-2.5 0h5m0 -51.2h-5M961.0 314.7v57.6m-2.5 0h5m0 -57.6h-5M1083.6 149.9v19.6m-2.5 0h5m0 -19.6h-5M1071.4 200.0v33.5m-2.5 0h5m0 -33.5h-5M900.2 239.1v29.1m-2.5 0h5m0 -29.1h-5M1007.2 139.7v47.7m-2.5 0h5m0 -47.7h-5M982.6 190.1v38.5m-2.5 0h5m0 -38.5h-5M985.0 254.6v67.3m-2.5 0h5m0 -67.3h-5M983.4 277.7v38.0m-2.5 0h5m0 -38.0h-5M1085.7 196.7v29.5m-2.5 0h5m0 -29.5h-5M1077.6 147.6v28.4m-2.5 0h5m0 -28.4h-5M901.8 349.9v47.1m-2.5 0h5m0 -47.1h-5M989.2 133.8v104.6m-2.5 0h5m0 -104.6h-5M989.1 166.6v26.7m-2.5 0h5m0 -26.7h-5M967.6 331.3v26.0m-2.5 0h5m0 -26.0h-5M863.8 272.7v32.6m-2.5 0h5m0 -32.6h-5M1048.9 191.0v23.4m-2.5 0h5m0 -23.4h-5M1062.6 105.3v33.7m-2.5 0h5m0 -33.7h-5M1017.9 245.9v36.9m-2.5 0h5m0 -36.9h-5M1123.0 81.4v45.0m-2.5 0h5m0 -45.0h-5M1123.3 105.3v24.7m-2.5 0h5m0 -24.7h-5M1122.3 76.6v39.4m-2.5 0h5m0 -39.4h-5M964.2 291.6v29.8m-2.5 0h5m0 -29.8h-5M1005.0 252.1v34.2m-2.5 0h5m0 -34.2h-5M1045.9 138.2v34.6m-2.5 0h5m0 -34.6h-5M1035.4 143.4v34.8m-2.5 0h5m0 -34.8h-5M885.9 340.5v55.5m-2.5 0h5m0 -55.5h-5M864.9 385.7v23.5m-2.5 0h5m0 -23.5h-5M994.1 177.0v22.3m-2.5 0h5m0 -22.3h-5M1107.7 117.2v27.4m-2.5 0h5m0 -27.4h-5M1151.8 102.2v29.6m-2.5 0h5m0 -29.6h-5M1019.0 143.9v33.9m-2.5 0h5m0 -33.9h-5M918.8 242.0v50.5m-2.5 0h5m0 -50.5h-5M959.7 195.7v51.7m-2.5 0h5m0 -51.7h-5M1133.2 126.1v30.7m-2.5 0h5m0 -30.7h-5M835.6 282.9v45.0m-2.5 0h5m0 -45.0h-5M988.9 178.9v60.9m-2.5 0h5m0 -60.9h-5M878.5 274.7v29.9m-2.5 0h5m0 -29.9h-5M1059.1 219.7v68.7m-2.5 0h5m0 -68.7h-5M898.9 165.1v105.7m-2.5 0h5m0 -105.7h-5M830.5 248.8v33.3m-2.5 0h5m0 -33.3h-5M1033.5 113.2v101.0m-2.5 0h5m0 -101.0h-5M906.3 245.4v37.0m-2.5 0h5m0 -37.0h-5M1002.8 181.9v44.9m-2.5 0h5m0 -44.9h-5M1106.1 138.9v18.7m-2.5 0h5m0 -18.7h-5M990.2 296.2v52.6m-2.5 0h5m0 -52.6h-5M1049.6 162.6v28.9m-2.5 0h5m0 -28.9h-5M976.0 261.1v74.5m-2.5 0h5m0 -74.5h-5M1107.3 75.7v25.7m-2.5 0h5m0 -25.7h-5M1058.8 195.5v36.3m-2.5 0h5m0 -36.3h-5M950.0 235.5v23.6m-2.5 0h5m0 -23.6h-5M978.3 158.7v76.4m-2.5 0h5m0 -76.4h-5M975.5 326.1v21.9m-2.5 0h5m0 -21.9h-5M974.2 267.9v80.6m-2.5 0h5m0 -80.6h-5M1128.1 88.4v15.7m-2.5 0h5m0 -15.7h-5M1121.2 72.2v52.5m-2.5 0h5m0 -52.5h-5M1139.3 121.4v29.4m-2.5 0h5m0 -29.4h-5M1020.4 129.3v61.3m-2.5 0h5m0 -61.3h-5M1118.1 92.0v43.2m-2.5 0h5m0 -43.2h-5M1022.3 277.1v33.4m-2.5 0h5m0 -33.4h-5M947.8 128.1v87.5m-2.5 0h5m0 -87.5h-5M934.5 348.7v25.5m-2.5 0h5m0 -25.5h-5M1037.1 145.3v26.6m-2.5 0h5m0 -26.6h-5M925.7 233.8v48.0m-2.5 0h5m0 -48.0h-5M999.7 269.7v21.9m-2.5 0h5m0 -21.9h-5M983.9 279.8v48.5m-2.5 0h5m0 -48.5h-5M876.3 274.5v46.4m-2.5 0h5m0 -46.4h-5M1166.8 125.6v43.2m-2.5 0h5m0 -43.2h-5M1143.0 140.6v35.7m-2.5 0h5m0 -35.7h-5M1047.9 117.9v25.7m-2.5 0h5m0 -25.7h-5M1007.5 108.4v63.1m-2.5 0h5m0 -63.1h-5M1019.2 151.2v58.3m-2.5 0h5m0 -58.3h-5M1081.9 101.2v63.1m-2.5 0h5m0 -63.1h-5M888.5 359.4v35.3m-2.5 0h5m0 -35.3h-5M1083.6 107.4v53.2m-2.5 0h5m0 -53.2h-5M1062.8 116.8v43.2m-2.5 0h5m0 -43.2h-5M846.3 266.1v47.9m-2.5 0h5m0 -47.9h-5M946.3 221.7v67.1m-2.5 0h5m0 -67.1h-5M998.1 131.7v37.6m-2.5 0h5m0 -37.6h-5M963.4 229.0v22.1m-2.5 0h5m0 -22.1h-5M951.4 238.8v21.9m-2.5 0h5m0 -21.9h-5M908.8 201.8v34.7m-2.5 0h5m0 -34.7h-5M988.3 293.0v25.3m-2.5 0h5m0 -25.3h-5M874.8 224.6v53.5m-2.5 0h5m0 -53.5h-5M885.2 289.4v44.7m-2.5 0h5m0 -44.7h-5M914.5 273.7v23.0m-2.5 0h5m0 -23.0h-5M895.6 348.1v50.0m-2.5 0h5m0 -50.0h-5M861.9 384.3v23.3m-2.5 0h5m0 -23.3h-5M948.0 335.0v32.8m-2.5 0h5m0 -32.8h-5M1072.6 122.8v15.7m-2.5 0h5m0 -15.7h-5M955.8 306.7v53.9m-2.5 0h5m0 -53.9h-5M915.6 114.4v75.6m-2.5 0h5m0 -75.6h-5M925.1 132.3v35.7m-2.5 0h5m0 -35.7h-5M1025.0 139.4v52.0m-2.5 0h5m0 -52.0h-5M1036.6 134.8v44.9m-2.5 0h5m0 -44.9h-5M957.7 232.2v36.7m-2.5 0h5m0 -36.7h-5M949.6 148.0v43.2m-2.5 0h5m0 -43.2h-5M972.6 155.1v25.7m-2.5 0h5m0 -25.7h-5M997.9 154.3v81.1m-2.5 0h5m0 -81.1h-5M918.0 166.7v25.7m-2.5 0h5m0 -25.7h-5M1044.5 249.9v34.1m-2.5 0h5m0 -34.1h-5M860.4 378.5v26.7m-2.5 0h5m0 -26.7h-5M911.7 347.0v46.8m-2.5 0h5m0 -46.8h-5M971.6 146.6v119.2m-2.5 0h5m0 -119.2h-5M1009.3 181.7v29.0m-2.5 0h5m0 -29.0h-5M1031.1 246.1v34.2m-2.5 0h5m0 -34.2h-5M1020.7 238.9v116.6m-2.5 0h5m0 -116.6h-5M893.6 379.9v24.5m-2.5 0h5m0 -24.5h-5M937.6 329.6v43.9m-2.5 0h5m0 -43.9h-5M1026.6 127.2v81.2m-2.5 0h5m0 -81.2h-5M932.9 238.9v44.8m-2.5 0h5m0 -44.8h-5M1008.8 260.7v22.6m-2.5 0h5m0 -22.6h-5M846.1 178.7v90.6m-2.5 0h5m0 -90.6h-5M919.3 331.8v44.0m-2.5 0h5m0 -44.0h-5M846.3 196.0v100.5m-2.5 0h5m0 -100.5h-5M863.8 277.1v67.1m-2.5 0h5m0 -67.1h-5M861.7 379.7v25.9m-2.5 0h5m0 -25.9h-5M998.6 250.1v42.4m-2.5 0h5m0 -42.4h-5M1130.5 84.1v28.8m-2.5 0h5m0 -28.8h-5M1047.1 233.5v91.0m-2.5 0h5m0 -91.0h-5M889.8 251.6v26.5m-2.5 0h5m0 -26.5h-5M1053.7 189.1v18.0m-2.5 0h5m0 -18.0h-5M842.7 242.7v43.2m-2.5 0h5m0 -43.2h-5M890.3 266.1v59.4m-2.5 0h5m0 -59.4h-5M847.1 264.7v70.3m-2.5 0h5m0 -70.3h-5M1019.2 268.9v51.5m-2.5 0h5m0 -51.5h-5M845.6 252.4v63.1m-2.5 0h5m0 -63.1h-5M948.4 233.7v38.3m-2.5 0h5m0 -38.3h-5M860.9 383.7v24.1m-2.5 0h5m0 -24.1h-5M1027.8 74.6v125.5m-2.5 0h5m0 -125.5h-5M876.9 231.6v15.7m-2.5 0h5m0 -15.7h-5M845.0 389.8v23.9m-2.5 0h5m0 -23.9h-5M1048.7 184.5v32.7m-2.5 0h5m0 -32.7h-5M1100.4 78.8v50.0m-2.5 0h5m0 -50.0h-5M868.9 261.6v37.0m-2.5 0h5m0 -37.0h-5M915.2 339.1v44.0m-2.5 0h5m0 -44.0h-5M1009.2 270.0v33.2m-2.5 0h5m0 -33.2h-5M908.0 195.6v90.6m-2.5 0h5m0 -90.6h-5M1005.7 256.3v31.7m-2.5 0h5m0 -31.7h-5M1112.4 142.6v28.2m-2.5 0h5m0 -28.2h-5M1025.0 261.0v31.6m-2.5 0h5m0 -31.6h-5M906.3 346.6v50.3m-2.5 0h5m0 -50.3h-5M929.7 244.0v48.5m-2.5 0h5m0 -48.5h-5M1083.1 170.6v90.6m-2.5 0h5m0 -90.6h-5M974.1 174.2v50.1m-2.5 0h5m0 -50.1h-5M859.5 276.4v32.8m-2.5 0h5m0 -32.8h-5M964.6 337.9v43.9m-2.5 0h5m0 -43.9h-5M842.5 391.2v23.0m-2.5 0h5m0 -23.0h-5M901.2 228.1v61.9m-2.5 0h5m0 -61.9h-5M1034.8 257.0v25.3m-2.5 0h5m0 -25.3h-5M901.3 263.7v48.9m-2.5 0h5m0 -48.9h-5M835.3 269.7v55.7m-2.5 0h5m0 -55.7h-5M1104.6 183.1v90.6m-2.5 0h5m0 -90.6h-5M1154.8 216.8v63.1m-2.5 0h5m0 -63.1h-5M998.8 256.5v49.0m-2.5 0h5m0 -49.0h-5M968.3 220.2v28.4m-2.5 0h5m0 -28.4h-5M1073.1 200.0v90.6m-2.5 0h5m0 -90.6h-5M990.1 164.0v76.8m-2.5 0h5m0 -76.8h-5M967.6 287.4v30.4m-2.5 0h5m0 -30.4h-5M912.1 262.8v47.7m-2.5 0h5m0 -47.7h-5M1079.0 229.5v108.0m-2.5 0h5m0 -108.0h-5M1088.5 275.6v15.7m-2.5 0h5m0 -15.7h-5M1061.3 254.0v75.6m-2.5 0h5m0 -75.6h-5M1021.5 278.8v108.0m-2.5 0h5m0 -108.0h-5M1039.1 300.8v75.6m-2.5 0h5m0 -75.6h-5M1047.9 301.7v90.6m-2.5 0h5m0 -90.6h-5M1096.3 300.8v75.6m-2.5 0h5m0 -75.6h-5M941.2 339.9v29.1m-2.5 0h5m0 -29.1h-5M1009.6 172.3v65.9m-2.5 0h5m0 -65.9h-5M871.0 268.2v86.5m-2.5 0h5m0 -86.5h-5M909.4 257.3v40.3m-2.5 0h5m0 -40.3h-5M1012.6 257.1v35.0m-2.5 0h5m0 -35.0h-5M873.5 363.3v40.6m-2.5 0h5m0 -40.6h-5M1126.5 69.7v56.6m-2.5 0h5m0 -56.6h-5M957.1 232.3v37.6m-2.5 0h5m0 -37.6h-5M1067.1 159.7v26.6m-2.5 0h5m0 -26.6h-5M1081.8 147.5v32.2m-2.5 0h5m0 -32.2h-5M840.5 268.2v40.8m-2.5 0h5m0 -40.8h-5M853.1 265.3v45.6m-2.5 0h5m0 -45.6h-5M1151.7 81.1v38.2m-2.5 0h5m0 -38.2h-5M1082.6 292.0v43.2m-2.5 0h5m0 -43.2h-5M963.6 285.9v32.6m-2.5 0h5m0 -32.6h-5M1013.4 251.3v32.5m-2.5 0h5m0 -32.5h-5M1052.7 141.5v37.5m-2.5 0h5m0 -37.5h-5M1015.5 165.2v42.1m-2.5 0h5m0 -42.1h-5M1010.2 250.9v44.9m-2.5 0h5m0 -44.9h-5M957.0 224.7v44.7m-2.5 0h5m0 -44.7h-5M923.8 338.1v51.1m-2.5 0h5m0 -51.1h-5M1019.1 243.2v42.0m-2.5 0h5m0 -42.0h-5M1115.9 93.2v19.5m-2.5 0h5m0 -19.5h-5M1079.7 324.8v53.2m-2.5 0h5m0 -53.2h-5M1054.1 235.1v36.5m-2.5 0h5m0 -36.5h-5M1078.8 174.8v43.6m-2.5 0h5m0 -43.6h-5M896.2 246.3v70.1m-2.5 0h5m0 -70.1h-5M1074.3 351.1v15.7m-2.5 0h5m0 -15.7h-5M846.7 391.2v24.5m-2.5 0h5m0 -24.5h-5M1065.4 148.7v22.4m-2.5 0h5m0 -22.4h-5M1121.3 362.3v25.7m-2.5 0h5m0 -25.7h-5M993.6 346.3v53.2m-2.5 0h5m0 -53.2h-5M923.2 347.0v33.5m-2.5 0h5m0 -33.5h-5M956.9 208.3v30.2m-2.5 0h5m0 -30.2h-5M957.6 348.1v53.2m-2.5 0h5m0 -53.2h-5M883.5 178.7v83.2m-2.5 0h5m0 -83.2h-5M1029.5 135.1v40.4m-2.5 0h5m0 -40.4h-5M990.6 171.7v58.4m-2.5 0h5m0 -58.4h-5M1000.3 113.0v76.0m-2.5 0h5m0 -76.0h-5M950.9 202.5v90.5m-2.5 0h5m0 -90.5h-5M898.2 387.2v15.7m-2.5 0h5m0 -15.7h-5M1144.8 101.6v36.7m-2.5 0h5m0 -36.7h-5M910.2 388.1v15.7m-2.5 0h5m0 -15.7h-5M1134.9 111.4v32.2m-2.5 0h5m0 -32.2h-5M951.2 331.4v38.8m-2.5 0h5m0 -38.8h-5M932.9 367.3v15.7m-2.5 0h5m0 -15.7h-5M971.3 306.0v27.1m-2.5 0h5m0 -27.1h-5M941.0 320.8v49.6m-2.5 0h5m0 -49.6h-5M950.7 246.4v42.4m-2.5 0h5m0 -42.4h-5M1070.3 87.3v48.1m-2.5 0h5m0 -48.1h-5M912.2 342.8v48.8m-2.5 0h5m0 -48.8h-5M929.5 323.8v64.4m-2.5 0h5m0 -64.4h-5M899.7 353.0v44.5m-2.5 0h5m0 -44.5h-5M830.7 293.4v19.5m-2.5 0h5m0 -19.5h-5M1022.8 117.9v58.8m-2.5 0h5m0 -58.8h-5" stroke="#b4b4b4" stroke-opacity="0.45" stroke-width="0.9" fill="none"/>
<g stroke="#000" stroke-width="0.6" stroke-opacity="0.85" fill-opacity="0.88">
<circle cx="873.6" cy="281.1" r="4.85" fill="#55fa76"/>
<circle cx="1011.3" cy="179.8" r="4.85" fill="#32f298"/>
<circle cx="869.7" cy="278.6" r="4.85" fill="#2cf09e"/>
<circle cx="851.2" cy="278.8" r="4.85" fill="#22c5e2"/>
<circle cx="1059.9" cy="169.0" r="4.85" fill="#2cb7f0"/>
<circle cx="907.4" cy="254.9" r="4.85" fill="#7a0403"/>
<circle cx="973.8" cy="291.3" r="4.85" fill="#467df4"/>
<circle cx="1056.1" cy="198.9" r="4.85" fill="#458cfd"/>
<circle cx="1098.1" cy="108.5" r="4.85" fill="#e3db38"/>
<circle cx="982.7" cy="219.3" r="4.85" fill="#4680f6"/>
<circle cx="1007.8" cy="258.2" r="4.85" fill="#4196ff"/>
<circle cx="1049.4" cy="224.1" r="4.85" fill="#37a8fa"/>
<circle cx="924.7" cy="251.0" r="4.85" fill="#4771e9"/>
<circle cx="1089.2" cy="155.5" r="4.85" fill="#3d9efe"/>
<circle cx="1062.0" cy="202.6" r="4.85" fill="#2ab9ee"/>
<circle cx="873.0" cy="296.1" r="4.85" fill="#71fe5f"/>
<circle cx="1025.0" cy="310.1" r="4.85" fill="#8fff49"/>
<circle cx="902.8" cy="380.7" r="4.85" fill="#4196ff"/>
<circle cx="1110.3" cy="130.7" r="4.85" fill="#4559cb"/>
<circle cx="1088.3" cy="177.6" r="4.85" fill="#466be3"/>
<circle cx="906.4" cy="284.6" r="4.85" fill="#4559cb"/>
<circle cx="1038.0" cy="180.3" r="4.85" fill="#25eca7"/>
<circle cx="901.4" cy="284.8" r="4.85" fill="#f2c93a"/>
<circle cx="948.1" cy="343.3" r="4.85" fill="#476ee6"/>
<circle cx="832.6" cy="271.7" r="4.85" fill="#19e3b9"/>
<circle cx="1053.6" cy="244.5" r="4.85" fill="#a4fc3c"/>
<circle cx="1130.3" cy="117.3" r="4.85" fill="#467df4"/>
<circle cx="924.8" cy="243.3" r="4.85" fill="#bef434"/>
<circle cx="1022.4" cy="269.2" r="4.85" fill="#28bceb"/>
<circle cx="1024.9" cy="102.2" r="4.85" fill="#20c7df"/>
<circle cx="957.4" cy="312.4" r="4.85" fill="#3e9bfe"/>
<circle cx="975.5" cy="235.7" r="4.85" fill="#4771e9"/>
<circle cx="925.5" cy="262.4" r="4.85" fill="#2cb7f0"/>
<circle cx="913.8" cy="251.1" r="4.85" fill="#25eca7"/>
<circle cx="1004.4" cy="264.1" r="4.85" fill="#4664da"/>
<circle cx="892.6" cy="268.9" r="4.85" fill="#4776ee"/>
<circle cx="1031.2" cy="184.7" r="4.85" fill="#4666dd"/>
<circle cx="925.8" cy="359.9" r="4.85" fill="#32f298"/>
<circle cx="942.0" cy="356.4" r="4.85" fill="#1fc9dd"/>
<circle cx="897.7" cy="285.2" r="4.85" fill="#3ff68a"/>
<circle cx="1017.0" cy="270.7" r="4.85" fill="#458cfd"/>
<circle cx="1035.6" cy="271.2" r="4.85" fill="#467df4"/>
<circle cx="1141.7" cy="137.3" r="4.85" fill="#4776ee"/>
<circle cx="1127.0" cy="168.4" r="4.85" fill="#2ab9ee"/>
<circle cx="897.6" cy="239.7" r="4.85" fill="#2aefa1"/>
<circle cx="1061.6" cy="160.8" r="4.85" fill="#4294ff"/>
<circle cx="946.5" cy="340.6" r="4.85" fill="#4778f0"/>
<circle cx="830.2" cy="317.8" r="4.85" fill="#38276d"/>
<circle cx="1103.9" cy="156.5" r="4.85" fill="#37a8fa"/>
<circle cx="850.5" cy="403.2" r="4.85" fill="#466be3"/>
<circle cx="1006.9" cy="253.2" r="4.85" fill="#1fc9dd"/>
<circle cx="1035.5" cy="248.7" r="4.85" fill="#1ad4d0"/>
<circle cx="1029.4" cy="268.0" r="4.85" fill="#1fc9dd"/>
<circle cx="982.4" cy="237.2" r="4.85" fill="#466be3"/>
<circle cx="850.8" cy="273.8" r="4.85" fill="#1ecbda"/>
<circle cx="1099.9" cy="167.3" r="4.85" fill="#458cfd"/>
<circle cx="969.6" cy="237.2" r="4.85" fill="#4454c3"/>
<circle cx="975.1" cy="312.5" r="4.85" fill="#20eaac"/>
<circle cx="950.3" cy="312.7" r="4.85" fill="#25eca7"/>
<circle cx="993.5" cy="214.5" r="4.85" fill="#18dbc5"/>
<circle cx="1005.2" cy="195.8" r="4.85" fill="#84ff51"/>
<circle cx="989.5" cy="283.9" r="4.85" fill="#27bee9"/>
<circle cx="886.4" cy="305.1" r="4.85" fill="#1ce6b4"/>
<circle cx="994.1" cy="298.9" r="4.85" fill="#4771e9"/>
<circle cx="866.9" cy="318.9" r="4.85" fill="#467df4"/>
<circle cx="991.5" cy="279.6" r="4.85" fill="#2fb2f4"/>
<circle cx="1042.1" cy="212.1" r="4.85" fill="#2cb7f0"/>
<circle cx="910.9" cy="294.4" r="4.85" fill="#4773eb"/>
<circle cx="975.8" cy="241.5" r="4.85" fill="#3e9bfe"/>
<circle cx="1034.6" cy="249.7" r="4.85" fill="#5dfc6f"/>
<circle cx="880.2" cy="305.7" r="4.85" fill="#7dff56"/>
<circle cx="933.5" cy="242.7" r="4.85" fill="#3d358b"/>
<circle cx="1086.4" cy="189.7" r="4.85" fill="#458cfd"/>
<circle cx="1012.2" cy="214.2" r="4.85" fill="#466be3"/>
<circle cx="842.1" cy="254.7" r="4.85" fill="#19d5cd"/>
<circle cx="937.7" cy="343.1" r="4.85" fill="#20c7df"/>
<circle cx="970.6" cy="210.7" r="4.85" fill="#4776ee"/>
<circle cx="882.0" cy="235.4" r="4.85" fill="#7a0403"/>
<circle cx="1124.6" cy="109.7" r="4.85" fill="#3aa3fc"/>
<circle cx="1129.3" cy="133.1" r="4.85" fill="#4771e9"/>
<circle cx="1080.2" cy="172.7" r="4.85" fill="#4666dd"/>
<circle cx="874.3" cy="392.0" r="4.85" fill="#1ecbda"/>
<circle cx="977.6" cy="222.5" r="4.85" fill="#4669e0"/>
<circle cx="1067.8" cy="126.3" r="4.85" fill="#448ffe"/>
<circle cx="906.7" cy="359.7" r="4.85" fill="#18e0bd"/>
<circle cx="881.2" cy="301.6" r="4.85" fill="#33adf7"/>
<circle cx="984.7" cy="284.9" r="4.85" fill="#458afc"/>
<circle cx="988.6" cy="282.3" r="4.85" fill="#3aa3fc"/>
<circle cx="1031.2" cy="154.0" r="4.85" fill="#28bceb"/>
<circle cx="1146.8" cy="99.4" r="4.85" fill="#476ee6"/>
<circle cx="855.5" cy="294.2" r="4.85" fill="#37a8fa"/>
<circle cx="948.3" cy="309.5" r="4.85" fill="#23c3e4"/>
<circle cx="934.5" cy="260.1" r="4.85" fill="#1ccdd8"/>
<circle cx="929.6" cy="335.6" r="4.85" fill="#2ab9ee"/>
<circle cx="866.1" cy="294.8" r="4.85" fill="#1bd0d5"/>
<circle cx="1073.9" cy="171.2" r="4.85" fill="#476ee6"/>
<circle cx="954.9" cy="223.4" r="4.85" fill="#ebd339"/>
<circle cx="918.2" cy="270.0" r="4.85" fill="#4664da"/>
<circle cx="932.4" cy="256.6" r="4.85" fill="#18dbc5"/>
<circle cx="848.8" cy="284.3" r="4.85" fill="#458afc"/>
<circle cx="950.9" cy="230.1" r="4.85" fill="#55fa76"/>
<circle cx="1129.1" cy="135.9" r="4.85" fill="#4682f8"/>
<circle cx="961.0" cy="343.4" r="4.85" fill="#7dff56"/>
<circle cx="1010.9" cy="248.7" r="4.85" fill="#1ad4d0"/>
<circle cx="1083.6" cy="159.7" r="4.85" fill="#477bf2"/>
<circle cx="1071.4" cy="216.8" r="4.85" fill="#23c3e4"/>
<circle cx="857.3" cy="302.5" r="4.85" fill="#1bd0d5"/>
<circle cx="1073.6" cy="176.0" r="4.85" fill="#466be3"/>
<circle cx="1029.5" cy="178.1" r="4.85" fill="#448ffe"/>
<circle cx="900.2" cy="253.6" r="4.85" fill="#33adf7"/>
<circle cx="902.4" cy="273.7" r="4.85" fill="#455ed3"/>
<circle cx="1007.2" cy="163.6" r="4.85" fill="#32f298"/>
<circle cx="982.6" cy="209.3" r="4.85" fill="#18d7ca"/>
<circle cx="985.0" cy="288.2" r="4.85" fill="#b9f635"/>
<circle cx="1032.5" cy="228.8" r="4.85" fill="#8bff4b"/>
<circle cx="829.6" cy="340.5" r="4.85" fill="#f7c13a"/>
<circle cx="1085.7" cy="211.4" r="4.85" fill="#31aff5"/>
<circle cx="1077.6" cy="161.8" r="4.85" fill="#37a8fa"/>
<circle cx="981.6" cy="298.6" r="4.85" fill="#467df4"/>
<circle cx="989.2" cy="186.2" r="4.85" fill="#e4450a"/>
<circle cx="1009.1" cy="248.1" r="4.85" fill="#4687fb"/>
<circle cx="989.1" cy="180.0" r="4.85" fill="#3ba0fd"/>
<circle cx="967.6" cy="344.3" r="4.85" fill="#3e9bfe"/>
<circle cx="863.8" cy="289.0" r="4.85" fill="#27bee9"/>
<circle cx="860.4" cy="316.2" r="4.85" fill="#4451bf"/>
<circle cx="1048.9" cy="202.7" r="4.85" fill="#448ffe"/>
<circle cx="907.0" cy="356.9" r="4.85" fill="#424bb5"/>
<circle cx="920.5" cy="279.4" r="4.85" fill="#1fc9dd"/>
<circle cx="1062.6" cy="122.2" r="4.85" fill="#23c3e4"/>
<circle cx="879.3" cy="385.8" r="4.85" fill="#4776ee"/>
<circle cx="945.6" cy="261.4" r="4.85" fill="#476ee6"/>
<circle cx="889.1" cy="382.9" r="4.85" fill="#458cfd"/>
<circle cx="1132.1" cy="132.5" r="4.85" fill="#4680f6"/>
<circle cx="1123.0" cy="103.9" r="4.85" fill="#22ebaa"/>
<circle cx="983.2" cy="274.3" r="4.85" fill="#31aff5"/>
<circle cx="980.4" cy="226.9" r="4.85" fill="#43f787"/>
<circle cx="977.2" cy="289.1" r="4.85" fill="#22c5e2"/>
<circle cx="1123.3" cy="117.7" r="4.85" fill="#4196ff"/>
<circle cx="1122.3" cy="96.3" r="4.85" fill="#18dbc5"/>
<circle cx="964.2" cy="306.5" r="4.85" fill="#31aff5"/>
<circle cx="1005.0" cy="269.2" r="4.85" fill="#22c5e2"/>
<circle cx="1045.9" cy="155.4" r="4.85" fill="#20c7df"/>
<circle cx="1022.6" cy="188.2" r="4.85" fill="#19d5cd"/>
<circle cx="864.9" cy="397.5" r="4.85" fill="#448ffe"/>
<circle cx="1074.4" cy="184.2" r="4.85" fill="#458afc"/>
<circle cx="994.1" cy="188.2" r="4.85" fill="#458afc"/>
<circle cx="1107.7" cy="130.9" r="4.85" fill="#3aa3fc"/>
<circle cx="1151.8" cy="117.0" r="4.85" fill="#31aff5"/>
<circle cx="1019.0" cy="160.9" r="4.85" fill="#22c5e2"/>
<circle cx="939.1" cy="338.3" r="4.85" fill="#458cfd"/>
<circle cx="860.8" cy="320.5" r="4.85" fill="#25eca7"/>
<circle cx="918.8" cy="267.3" r="4.85" fill="#43f787"/>
<circle cx="939.5" cy="332.5" r="4.85" fill="#43f787"/>
<circle cx="959.7" cy="221.6" r="4.85" fill="#4ef97d"/>
<circle cx="861.9" cy="305.1" r="4.85" fill="#4559cb"/>
<circle cx="859.9" cy="321.0" r="4.85" fill="#2eb4f2"/>
<circle cx="1133.2" cy="141.5" r="4.85" fill="#2eb4f2"/>
<circle cx="835.6" cy="305.3" r="4.85" fill="#22ebaa"/>
<circle cx="988.9" cy="209.3" r="4.85" fill="#96fe44"/>
<circle cx="878.5" cy="289.6" r="4.85" fill="#31aff5"/>
<circle cx="1037.5" cy="224.3" r="4.85" fill="#23c3e4"/>
<circle cx="1059.1" cy="254.0" r="4.85" fill="#c1f334"/>
<circle cx="974.7" cy="245.2" r="4.85" fill="#4661d6"/>
<circle cx="898.9" cy="217.9" r="4.85" fill="#e14109"/>
<circle cx="834.7" cy="335.3" r="4.85" fill="#4666dd"/>
<circle cx="976.6" cy="304.6" r="4.85" fill="#3d9efe"/>
<circle cx="830.5" cy="265.4" r="4.85" fill="#25c0e7"/>
<circle cx="1033.5" cy="163.7" r="4.85" fill="#ef5811"/>
<circle cx="906.3" cy="263.9" r="4.85" fill="#1ad2d2"/>
<circle cx="916.6" cy="284.3" r="4.85" fill="#18dbc5"/>
<circle cx="1087.6" cy="195.2" r="4.85" fill="#4391fe"/>
<circle cx="957.7" cy="257.1" r="4.85" fill="#4454c3"/>
<circle cx="993.6" cy="204.7" r="4.85" fill="#37a8fa"/>
<circle cx="1002.8" cy="204.3" r="4.85" fill="#22ebaa"/>
<circle cx="988.7" cy="271.9" r="4.85" fill="#477bf2"/>
<circle cx="1106.1" cy="148.2" r="4.85" fill="#4776ee"/>
<circle cx="1048.9" cy="183.9" r="4.85" fill="#4778f0"/>
<circle cx="990.2" cy="322.5" r="4.85" fill="#55fa76"/>
<circle cx="1049.6" cy="177.1" r="4.85" fill="#35abf8"/>
<circle cx="976.0" cy="298.3" r="4.85" fill="#dde037"/>
<circle cx="1107.3" cy="88.6" r="4.85" fill="#3e9bfe"/>
<circle cx="1058.8" cy="213.7" r="4.85" fill="#1ccdd8"/>
<circle cx="893.8" cy="292.8" r="4.85" fill="#4456c7"/>
<circle cx="984.2" cy="214.5" r="4.85" fill="#4451bf"/>
<circle cx="1025.7" cy="179.9" r="4.85" fill="#4196ff"/>
<circle cx="950.0" cy="247.3" r="4.85" fill="#448ffe"/>
<circle cx="978.3" cy="197.0" r="4.85" fill="#e5d938"/>
<circle cx="897.6" cy="292.5" r="4.85" fill="#18dbc5"/>
<circle cx="975.5" cy="337.0" r="4.85" fill="#4687fb"/>
<circle cx="1110.5" cy="146.0" r="4.85" fill="#477bf2"/>
<circle cx="974.2" cy="308.2" r="4.85" fill="#f2c93a"/>
<circle cx="868.5" cy="332.7" r="4.85" fill="#4196ff"/>
<circle cx="900.0" cy="377.3" r="4.85" fill="#4776ee"/>
<circle cx="1128.1" cy="96.2" r="4.85" fill="#4666dd"/>
<circle cx="837.9" cy="300.3" r="4.85" fill="#458afc"/>
<circle cx="1022.5" cy="204.6" r="4.85" fill="#4773eb"/>
<circle cx="1121.2" cy="98.4" r="4.85" fill="#55fa76"/>
<circle cx="1146.5" cy="112.4" r="4.85" fill="#3f3e9c"/>
<circle cx="1139.3" cy="136.1" r="4.85" fill="#33adf7"/>
<circle cx="1020.4" cy="159.9" r="4.85" fill="#99fe42"/>
<circle cx="1118.1" cy="113.6" r="4.85" fill="#1de7b2"/>
<circle cx="998.4" cy="261.6" r="4.85" fill="#4687fb"/>
<circle cx="1022.3" cy="293.8" r="4.85" fill="#23c3e4"/>
<circle cx="947.8" cy="171.9" r="4.85" fill="#fea732"/>
<circle cx="934.5" cy="361.5" r="4.85" fill="#4099ff"/>
<circle cx="1037.1" cy="158.6" r="4.85" fill="#3ba0fd"/>
<circle cx="925.7" cy="257.8" r="4.85" fill="#35f394"/>
<circle cx="938.4" cy="266.9" r="4.85" fill="#4661d6"/>
<circle cx="999.7" cy="280.7" r="4.85" fill="#4687fb"/>
<circle cx="983.9" cy="304.0" r="4.85" fill="#38f491"/>
<circle cx="886.1" cy="300.3" r="4.85" fill="#4454c3"/>
<circle cx="876.3" cy="297.7" r="4.85" fill="#2aefa1"/>
<circle cx="1166.8" cy="147.2" r="4.85" fill="#1de7b2"/>
<circle cx="979.0" cy="242.2" r="4.85" fill="#2eb4f2"/>
<circle cx="1143.0" cy="158.5" r="4.85" fill="#1ecbda"/>
<circle cx="828.8" cy="374.1" r="4.85" fill="#3f3b97"/>
<circle cx="989.0" cy="228.1" r="4.85" fill="#4680f6"/>
<circle cx="1020.1" cy="169.2" r="4.85" fill="#4773eb"/>
<circle cx="902.3" cy="351.0" r="4.85" fill="#4143a7"/>
<circle cx="1114.1" cy="151.2" r="4.85" fill="#455ed3"/>
<circle cx="1047.9" cy="130.7" r="4.85" fill="#3e9bfe"/>
<circle cx="1007.5" cy="140.0" r="4.85" fill="#a4fc3c"/>
<circle cx="935.1" cy="328.1" r="4.85" fill="#477bf2"/>
<circle cx="1019.2" cy="180.3" r="4.85" fill="#84ff51"/>
<circle cx="966.9" cy="245.8" r="4.85" fill="#31aff5"/>
<circle cx="1081.9" cy="132.8" r="4.85" fill="#a4fc3c"/>
<circle cx="994.3" cy="219.0" r="4.85" fill="#1ecbda"/>
<circle cx="832.8" cy="324.5" r="4.85" fill="#4456c7"/>
<circle cx="1036.5" cy="196.1" r="4.85" fill="#4773eb"/>
<circle cx="1033.3" cy="187.7" r="4.85" fill="#4294ff"/>
<circle cx="839.4" cy="317.1" r="4.85" fill="#4451bf"/>
<circle cx="965.6" cy="265.3" r="4.85" fill="#3f3e9c"/>
<circle cx="974.0" cy="248.7" r="4.85" fill="#4682f8"/>
<circle cx="872.9" cy="329.3" r="4.85" fill="#4196ff"/>
<circle cx="1083.6" cy="134.0" r="4.85" fill="#59fb73"/>
<circle cx="1062.8" cy="138.4" r="4.85" fill="#1de7b2"/>
<circle cx="846.3" cy="290.0" r="4.85" fill="#32f298"/>
<circle cx="946.3" cy="255.3" r="4.85" fill="#b9f635"/>
<circle cx="1101.5" cy="163.8" r="4.85" fill="#455ed3"/>
<circle cx="998.1" cy="150.5" r="4.85" fill="#1ad4d0"/>
<circle cx="963.4" cy="240.1" r="4.85" fill="#4687fb"/>
<circle cx="1033.2" cy="252.2" r="4.85" fill="#25eca7"/>
<circle cx="908.8" cy="219.1" r="4.85" fill="#20c7df"/>
<circle cx="841.5" cy="311.8" r="4.85" fill="#3d358b"/>
<circle cx="988.3" cy="305.7" r="4.85" fill="#4099ff"/>
<circle cx="1027.3" cy="236.2" r="4.85" fill="#4196ff"/>
<circle cx="1111.8" cy="143.3" r="4.85" fill="#3ba0fd"/>
<circle cx="1034.2" cy="169.2" r="4.85" fill="#4669e0"/>
<circle cx="911.4" cy="301.3" r="4.85" fill="#4771e9"/>
<circle cx="900.8" cy="367.9" r="4.85" fill="#434eba"/>
<circle cx="932.1" cy="278.8" r="4.85" fill="#455ed3"/>
<circle cx="874.8" cy="251.3" r="4.85" fill="#5dfc6f"/>
<circle cx="971.8" cy="231.1" r="4.85" fill="#37a8fa"/>
<circle cx="914.5" cy="285.2" r="4.85" fill="#458cfd"/>
<circle cx="982.2" cy="230.6" r="4.85" fill="#4294ff"/>
<circle cx="925.3" cy="329.8" r="4.85" fill="#4680f6"/>
<circle cx="881.3" cy="332.2" r="4.85" fill="#35abf8"/>
<circle cx="948.0" cy="351.4" r="4.85" fill="#27bee9"/>
<circle cx="1072.6" cy="130.7" r="4.85" fill="#4666dd"/>
<circle cx="904.1" cy="358.1" r="4.85" fill="#4196ff"/>
<circle cx="973.9" cy="220.8" r="4.85" fill="#18d7ca"/>
<circle cx="955.8" cy="333.6" r="4.85" fill="#61fc6c"/>
<circle cx="946.3" cy="336.8" r="4.85" fill="#3cf58e"/>
<circle cx="1001.8" cy="212.0" r="4.85" fill="#18dec0"/>
<circle cx="915.6" cy="152.2" r="4.85" fill="#e1dd37"/>
<circle cx="902.6" cy="324.0" r="4.85" fill="#424bb5"/>
<circle cx="925.1" cy="150.2" r="4.85" fill="#1ecbda"/>
<circle cx="962.8" cy="257.4" r="4.85" fill="#4391fe"/>
<circle cx="940.0" cy="323.9" r="4.85" fill="#4391fe"/>
<circle cx="1016.5" cy="256.1" r="4.85" fill="#1ccdd8"/>
<circle cx="1021.1" cy="243.2" r="4.85" fill="#1fe9af"/>
<circle cx="958.5" cy="268.8" r="4.85" fill="#23c3e4"/>
<circle cx="979.3" cy="254.7" r="4.85" fill="#476ee6"/>
<circle cx="1025.0" cy="165.4" r="4.85" fill="#52fa7a"/>
<circle cx="1036.6" cy="157.3" r="4.85" fill="#22ebaa"/>
<circle cx="1036.8" cy="208.6" r="4.85" fill="#4454c3"/>
<circle cx="919.5" cy="292.2" r="4.85" fill="#20c7df"/>
<circle cx="1025.2" cy="195.3" r="4.85" fill="#455ed3"/>
<circle cx="949.6" cy="169.6" r="4.85" fill="#1de7b2"/>
<circle cx="961.7" cy="244.3" r="4.85" fill="#19e3b9"/>
<circle cx="966.8" cy="296.7" r="4.85" fill="#434eba"/>
<circle cx="952.8" cy="319.3" r="4.85" fill="#2fb2f4"/>
<circle cx="1130.3" cy="126.8" r="4.85" fill="#3e9bfe"/>
<circle cx="972.6" cy="168.0" r="4.85" fill="#3e9bfe"/>
<circle cx="890.0" cy="311.6" r="4.85" fill="#18d9c8"/>
<circle cx="1005.8" cy="231.3" r="4.85" fill="#4778f0"/>
<circle cx="1033.6" cy="208.3" r="4.85" fill="#455ccf"/>
<circle cx="997.9" cy="194.8" r="4.85" fill="#f4c73a"/>
<circle cx="918.0" cy="179.6" r="4.85" fill="#3e9bfe"/>
<circle cx="943.7" cy="332.8" r="4.85" fill="#2fb2f4"/>
<circle cx="1026.8" cy="173.3" r="4.85" fill="#1ad4d0"/>
<circle cx="971.3" cy="255.3" r="4.85" fill="#434eba"/>
<circle cx="936.3" cy="286.2" r="4.85" fill="#4661d6"/>
<circle cx="1044.5" cy="267.0" r="4.85" fill="#22c5e2"/>
<circle cx="959.3" cy="234.3" r="4.85" fill="#35abf8"/>
<circle cx="1113.9" cy="148.4" r="4.85" fill="#35abf8"/>
<circle cx="1015.1" cy="203.4" r="4.85" fill="#28bceb"/>
<circle cx="962.7" cy="271.2" r="4.85" fill="#4249b1"/>
<circle cx="999.8" cy="220.6" r="4.85" fill="#3e9bfe"/>
<circle cx="995.6" cy="253.2" r="4.85" fill="#4778f0"/>
<circle cx="828.8" cy="391.2" r="4.85" fill="#3b2f80"/>
<circle cx="1036.4" cy="233.6" r="4.85" fill="#4771e9"/>
<circle cx="911.7" cy="370.4" r="4.85" fill="#2cf09e"/>
<circle cx="971.6" cy="206.2" r="4.85" fill="#a11201"/>
<circle cx="883.6" cy="382.8" r="4.85" fill="#4773eb"/>
<circle cx="1009.3" cy="196.2" r="4.85" fill="#35abf8"/>
<circle cx="1031.1" cy="263.2" r="4.85" fill="#22c5e2"/>
<circle cx="1020.7" cy="297.2" r="4.85" fill="#b21a01"/>
<circle cx="828.9" cy="380.3" r="4.85" fill="#38276d"/>
<circle cx="893.6" cy="392.2" r="4.85" fill="#4294ff"/>
<circle cx="937.6" cy="351.5" r="4.85" fill="#1fe9af"/>
<circle cx="1026.6" cy="167.8" r="4.85" fill="#f5c53a"/>
<circle cx="942.4" cy="278.9" r="4.85" fill="#4666dd"/>
<circle cx="959.7" cy="291.4" r="4.85" fill="#466be3"/>
<circle cx="1051.1" cy="234.8" r="4.85" fill="#4687fb"/>
<circle cx="926.0" cy="283.4" r="4.85" fill="#4456c7"/>
<circle cx="1073.0" cy="192.3" r="4.85" fill="#4776ee"/>
<circle cx="847.4" cy="297.1" r="4.85" fill="#455ed3"/>
<circle cx="951.9" cy="280.1" r="4.85" fill="#4664da"/>
<circle cx="991.0" cy="268.8" r="4.85" fill="#33adf7"/>
<circle cx="932.9" cy="261.3" r="4.85" fill="#22ebaa"/>
<circle cx="846.1" cy="224.0" r="4.85" fill="#fe962b"/>
<circle cx="982.1" cy="270.5" r="4.85" fill="#477bf2"/>
<circle cx="919.3" cy="353.9" r="4.85" fill="#1fe9af"/>
<circle cx="846.3" cy="246.2" r="4.85" fill="#f05b12"/>
<circle cx="1027.4" cy="247.2" r="4.85" fill="#4294ff"/>
<circle cx="884.1" cy="328.0" r="4.85" fill="#424bb5"/>
<circle cx="863.8" cy="310.7" r="4.85" fill="#b9f635"/>
<circle cx="898.2" cy="308.7" r="4.85" fill="#4249b1"/>
<circle cx="884.4" cy="317.0" r="4.85" fill="#2cb7f0"/>
<circle cx="851.7" cy="287.4" r="4.85" fill="#4664da"/>
<circle cx="1010.4" cy="241.3" r="4.85" fill="#35abf8"/>
<circle cx="1045.2" cy="189.8" r="4.85" fill="#477bf2"/>
<circle cx="993.2" cy="229.0" r="4.85" fill="#4196ff"/>
<circle cx="998.6" cy="271.3" r="4.85" fill="#1ae4b6"/>
<circle cx="894.1" cy="314.0" r="4.85" fill="#4559cb"/>
<circle cx="1130.5" cy="98.5" r="4.85" fill="#35abf8"/>
<circle cx="939.7" cy="317.9" r="4.85" fill="#477bf2"/>
<circle cx="865.4" cy="338.7" r="4.85" fill="#33adf7"/>
<circle cx="1114.3" cy="137.9" r="4.85" fill="#4771e9"/>
<circle cx="1020.3" cy="234.6" r="4.85" fill="#455ccf"/>
<circle cx="1047.1" cy="279.1" r="4.85" fill="#fe932a"/>
<circle cx="896.9" cy="350.6" r="4.85" fill="#434eba"/>
<circle cx="889.8" cy="264.9" r="4.85" fill="#3d9efe"/>
<circle cx="845.9" cy="248.8" r="4.85" fill="#4666dd"/>
<circle cx="946.9" cy="293.3" r="4.85" fill="#448ffe"/>
<circle cx="961.2" cy="274.4" r="4.85" fill="#4559cb"/>
<circle cx="983.0" cy="265.6" r="4.85" fill="#4680f6"/>
<circle cx="858.5" cy="342.8" r="4.85" fill="#4687fb"/>
<circle cx="914.2" cy="308.7" r="4.85" fill="#4666dd"/>
<circle cx="1035.9" cy="188.0" r="4.85" fill="#35abf8"/>
<circle cx="1053.7" cy="198.1" r="4.85" fill="#4773eb"/>
<circle cx="842.2" cy="307.3" r="4.85" fill="#6dfe62"/>
<circle cx="911.2" cy="331.4" r="4.85" fill="#455ccf"/>
<circle cx="829.5" cy="404.3" r="4.85" fill="#3c3286"/>
<circle cx="857.7" cy="332.3" r="4.85" fill="#3aa3fc"/>
<circle cx="851.5" cy="330.9" r="4.85" fill="#448ffe"/>
<circle cx="985.7" cy="292.6" r="4.85" fill="#4196ff"/>
<circle cx="842.7" cy="264.3" r="4.85" fill="#1de7b2"/>
<circle cx="890.3" cy="295.8" r="4.85" fill="#8bff4b"/>
<circle cx="1015.9" cy="241.7" r="4.85" fill="#37a8fa"/>
<circle cx="971.0" cy="266.8" r="4.85" fill="#3e9bfe"/>
<circle cx="847.1" cy="299.9" r="4.85" fill="#c8ef34"/>
<circle cx="841.9" cy="343.2" r="4.85" fill="#4661d6"/>
<circle cx="861.7" cy="327.6" r="4.85" fill="#4559cb"/>
<circle cx="1019.2" cy="294.6" r="4.85" fill="#4ef97d"/>
<circle cx="845.6" cy="284.0" r="4.85" fill="#a4fc3c"/>
<circle cx="844.7" cy="311.0" r="4.85" fill="#1fc9dd"/>
<circle cx="948.4" cy="252.8" r="4.85" fill="#19d5cd"/>
<circle cx="846.8" cy="345.1" r="4.85" fill="#4454c3"/>
<circle cx="1005.0" cy="211.8" r="4.85" fill="#37a8fa"/>
<circle cx="860.9" cy="395.7" r="4.85" fill="#4391fe"/>
<circle cx="1027.8" cy="137.4" r="4.85" fill="#7a0403"/>
<circle cx="900.9" cy="224.0" r="4.85" fill="#3f3e9c"/>
<circle cx="881.4" cy="376.8" r="4.85" fill="#448ffe"/>
<circle cx="937.5" cy="307.7" r="4.85" fill="#4099ff"/>
<circle cx="876.9" cy="239.5" r="4.85" fill="#4666dd"/>
<circle cx="1048.7" cy="200.9" r="4.85" fill="#27bee9"/>
<circle cx="1100.4" cy="103.9" r="4.85" fill="#43f787"/>
<circle cx="868.9" cy="280.1" r="4.85" fill="#1ad2d2"/>
<circle cx="1025.8" cy="202.2" r="4.85" fill="#3d9efe"/>
<circle cx="901.0" cy="322.0" r="4.85" fill="#4559cb"/>
<circle cx="884.0" cy="379.5" r="4.85" fill="#4680f6"/>
<circle cx="940.7" cy="270.5" r="4.85" fill="#4666dd"/>
<circle cx="905.0" cy="371.1" r="4.85" fill="#27bee9"/>
<circle cx="915.2" cy="361.1" r="4.85" fill="#1fe9af"/>
<circle cx="1009.2" cy="286.6" r="4.85" fill="#25c0e7"/>
<circle cx="1014.4" cy="194.3" r="4.85" fill="#3d9efe"/>
<circle cx="908.0" cy="240.9" r="4.85" fill="#fe962b"/>
<circle cx="844.2" cy="298.7" r="4.85" fill="#3d358b"/>
<circle cx="990.0" cy="222.4" r="4.85" fill="#4680f6"/>
<circle cx="953.3" cy="303.7" r="4.85" fill="#2eb4f2"/>
<circle cx="858.1" cy="345.9" r="4.85" fill="#458afc"/>
<circle cx="1016.8" cy="210.0" r="4.85" fill="#4099ff"/>
<circle cx="949.6" cy="298.9" r="4.85" fill="#4249b1"/>
<circle cx="901.4" cy="356.0" r="4.85" fill="#4559cb"/>
<circle cx="945.8" cy="294.9" r="4.85" fill="#4456c7"/>
<circle cx="892.3" cy="299.7" r="4.85" fill="#4776ee"/>
<circle cx="1027.1" cy="197.1" r="4.85" fill="#4778f0"/>
<circle cx="1005.7" cy="272.1" r="4.85" fill="#2ab9ee"/>
<circle cx="930.8" cy="299.8" r="4.85" fill="#434eba"/>
<circle cx="956.5" cy="274.9" r="4.85" fill="#448ffe"/>
<circle cx="1112.4" cy="156.7" r="4.85" fill="#37a8fa"/>
<circle cx="1025.0" cy="276.8" r="4.85" fill="#2ab9ee"/>
<circle cx="906.3" cy="371.7" r="4.85" fill="#43f787"/>
<circle cx="929.7" cy="268.2" r="4.85" fill="#35f394"/>
<circle cx="1083.1" cy="215.9" r="4.85" fill="#fe962b"/>
<circle cx="911.0" cy="298.1" r="4.85" fill="#4391fe"/>
<circle cx="856.7" cy="306.8" r="4.85" fill="#2eb4f2"/>
<circle cx="1013.9" cy="208.8" r="4.85" fill="#466be3"/>
<circle cx="974.1" cy="199.3" r="4.85" fill="#43f787"/>
<circle cx="859.5" cy="292.8" r="4.85" fill="#27bee9"/>
<circle cx="964.6" cy="359.8" r="4.85" fill="#1fe9af"/>
<circle cx="899.3" cy="361.9" r="4.85" fill="#467df4"/>
<circle cx="831.4" cy="374.5" r="4.85" fill="#4771e9"/>
<circle cx="870.5" cy="321.1" r="4.85" fill="#2cb7f0"/>
<circle cx="901.2" cy="259.0" r="4.85" fill="#9cfe40"/>
<circle cx="1089.5" cy="207.8" r="4.85" fill="#4666dd"/>
<circle cx="895.6" cy="318.6" r="4.85" fill="#3f3e9c"/>
<circle cx="1150.0" cy="109.7" r="4.85" fill="#4776ee"/>
<circle cx="967.7" cy="288.2" r="4.85" fill="#476ee6"/>
<circle cx="842.0" cy="354.4" r="4.85" fill="#4680f6"/>
<circle cx="850.8" cy="336.0" r="4.85" fill="#3b2f80"/>
<circle cx="1034.8" cy="269.7" r="4.85" fill="#4099ff"/>
<circle cx="876.3" cy="321.9" r="4.85" fill="#31aff5"/>
<circle cx="938.9" cy="350.4" r="4.85" fill="#4664da"/>
<circle cx="977.5" cy="261.4" r="4.85" fill="#4661d6"/>
<circle cx="893.8" cy="277.3" r="4.85" fill="#28bceb"/>
<circle cx="963.0" cy="276.6" r="4.85" fill="#455ccf"/>
<circle cx="911.5" cy="352.1" r="4.85" fill="#31aff5"/>
<circle cx="905.0" cy="296.6" r="4.85" fill="#4771e9"/>
<circle cx="844.4" cy="335.3" r="4.85" fill="#4664da"/>
<circle cx="831.0" cy="327.6" r="4.85" fill="#80ff53"/>
<circle cx="991.2" cy="264.5" r="4.85" fill="#22c5e2"/>
<circle cx="901.3" cy="288.1" r="4.85" fill="#38f491"/>
<circle cx="835.3" cy="297.5" r="4.85" fill="#6dfe62"/>
<circle cx="893.8" cy="359.5" r="4.85" fill="#2cb7f0"/>
<circle cx="872.4" cy="288.7" r="4.85" fill="#4196ff"/>
<circle cx="891.1" cy="336.7" r="4.85" fill="#38276d"/>
<circle cx="908.3" cy="317.5" r="4.85" fill="#458afc"/>
<circle cx="1104.6" cy="228.4" r="4.85" fill="#fe962b"/>
<circle cx="901.0" cy="293.8" r="4.85" fill="#448ffe"/>
<circle cx="880.9" cy="363.2" r="4.85" fill="#4456c7"/>
<circle cx="926.1" cy="352.9" r="4.85" fill="#4294ff"/>
<circle cx="1154.8" cy="248.3" r="4.85" fill="#a4fc3c"/>
<circle cx="998.8" cy="281.0" r="4.85" fill="#3cf58e"/>
<circle cx="964.4" cy="259.8" r="4.85" fill="#458cfd"/>
<circle cx="968.3" cy="234.4" r="4.85" fill="#37a8fa"/>
<circle cx="1010.5" cy="220.2" r="4.85" fill="#4456c7"/>
<circle cx="1073.1" cy="245.3" r="4.85" fill="#fe962b"/>
<circle cx="850.0" cy="312.4" r="4.85" fill="#3d9efe"/>
<circle cx="976.1" cy="247.7" r="4.85" fill="#467df4"/>
<circle cx="926.4" cy="325.4" r="4.85" fill="#3d358b"/>
<circle cx="918.3" cy="331.2" r="4.85" fill="#4666dd"/>
<circle cx="921.9" cy="301.0" r="4.85" fill="#38a5fb"/>
<circle cx="990.1" cy="202.5" r="4.85" fill="#e7d739"/>
<circle cx="894.4" cy="366.8" r="4.85" fill="#4456c7"/>
<circle cx="1000.4" cy="263.3" r="4.85" fill="#38a5fb"/>
<circle cx="925.3" cy="324.2" r="4.85" fill="#4666dd"/>
<circle cx="967.6" cy="302.6" r="4.85" fill="#2fb2f4"/>
<circle cx="837.2" cy="333.2" r="4.85" fill="#2eb4f2"/>
<circle cx="997.8" cy="241.5" r="4.85" fill="#4249b1"/>
<circle cx="891.6" cy="376.6" r="4.85" fill="#4687fb"/>
<circle cx="912.1" cy="286.7" r="4.85" fill="#32f298"/>
<circle cx="1001.6" cy="236.0" r="4.85" fill="#466be3"/>
<circle cx="1079.0" cy="283.5" r="4.85" fill="#d83706"/>
<circle cx="906.1" cy="308.1" r="4.85" fill="#4682f8"/>
<circle cx="1088.5" cy="283.5" r="4.85" fill="#4666dd"/>
<circle cx="1061.3" cy="291.8" r="4.85" fill="#e1dd37"/>
<circle cx="1068.9" cy="181.1" r="4.85" fill="#4391fe"/>
<circle cx="1021.5" cy="332.8" r="4.85" fill="#d83706"/>
<circle cx="1027.8" cy="250.7" r="4.85" fill="#1ad4d0"/>
<circle cx="1011.2" cy="326.6" r="4.85" fill="#36215f"/>
<circle cx="934.1" cy="298.6" r="4.85" fill="#4664da"/>
<circle cx="1039.1" cy="338.6" r="4.85" fill="#e1dd37"/>
<circle cx="1086.1" cy="197.4" r="4.85" fill="#3ba0fd"/>
<circle cx="885.1" cy="337.8" r="4.85" fill="#4680f6"/>
<circle cx="1026.9" cy="201.3" r="4.85" fill="#4778f0"/>
<circle cx="953.4" cy="317.9" r="4.85" fill="#22c5e2"/>
<circle cx="879.6" cy="343.7" r="4.85" fill="#434eba"/>
<circle cx="952.0" cy="282.7" r="4.85" fill="#458cfd"/>
<circle cx="854.8" cy="323.1" r="4.85" fill="#3f3e9c"/>
<circle cx="1047.9" cy="346.9" r="4.85" fill="#fe962b"/>
<circle cx="831.4" cy="379.4" r="4.85" fill="#434eba"/>
<circle cx="1096.3" cy="338.6" r="4.85" fill="#e1dd37"/>
<circle cx="976.9" cy="269.1" r="4.85" fill="#3e9bfe"/>
<circle cx="944.6" cy="282.7" r="4.85" fill="#4143a7"/>
<circle cx="854.6" cy="310.9" r="4.85" fill="#3d9efe"/>
<circle cx="1057.4" cy="326.6" r="4.85" fill="#3f3e9c"/>
<circle cx="941.2" cy="354.5" r="4.85" fill="#33adf7"/>
<circle cx="871.5" cy="387.5" r="4.85" fill="#4666dd"/>
<circle cx="926.9" cy="317.5" r="4.85" fill="#3e3891"/>
<circle cx="920.2" cy="310.2" r="4.85" fill="#424bb5"/>
<circle cx="892.6" cy="345.9" r="4.85" fill="#434eba"/>
<circle cx="991.0" cy="259.2" r="4.85" fill="#3e9bfe"/>
<circle cx="1009.6" cy="205.3" r="4.85" fill="#b1f936"/>
<circle cx="989.0" cy="233.9" r="4.85" fill="#467df4"/>
<circle cx="912.9" cy="312.3" r="4.85" fill="#4669e0"/>
<circle cx="871.0" cy="311.4" r="4.85" fill="#fdae35"/>
<circle cx="1011.1" cy="198.4" r="4.85" fill="#3ba0fd"/>
<circle cx="909.4" cy="277.5" r="4.85" fill="#18dec0"/>
<circle cx="900.3" cy="301.3" r="4.85" fill="#4685fa"/>
<circle cx="950.2" cy="317.6" r="4.85" fill="#4776ee"/>
<circle cx="996.8" cy="230.0" r="4.85" fill="#458cfd"/>
<circle cx="973.7" cy="263.9" r="4.85" fill="#4454c3"/>
<circle cx="852.1" cy="363.1" r="4.85" fill="#341b51"/>
<circle cx="972.0" cy="270.1" r="4.85" fill="#4664da"/>
<circle cx="875.0" cy="301.0" r="4.85" fill="#476ee6"/>
<circle cx="1012.0" cy="236.0" r="4.85" fill="#4685fa"/>
<circle cx="1012.6" cy="274.6" r="4.85" fill="#1fc9dd"/>
<circle cx="1126.5" cy="98.0" r="4.85" fill="#75fe5c"/>
<circle cx="996.5" cy="235.8" r="4.85" fill="#4687fb"/>
<circle cx="999.5" cy="246.1" r="4.85" fill="#4294ff"/>
<circle cx="957.1" cy="251.1" r="4.85" fill="#1ad4d0"/>
<circle cx="1067.1" cy="173.0" r="4.85" fill="#3d9efe"/>
<circle cx="1065.8" cy="322.6" r="4.85" fill="#3f3e9c"/>
<circle cx="1081.8" cy="163.6" r="4.85" fill="#28bceb"/>
<circle cx="925.0" cy="337.1" r="4.85" fill="#18d7ca"/>
<circle cx="895.5" cy="337.5" r="4.85" fill="#3a2d79"/>
<circle cx="828.1" cy="365.7" r="4.85" fill="#424bb5"/>
<circle cx="877.3" cy="384.0" r="4.85" fill="#33adf7"/>
<circle cx="859.6" cy="336.3" r="4.85" fill="#476ee6"/>
<circle cx="903.1" cy="305.5" r="4.85" fill="#20c7df"/>
<circle cx="828.6" cy="366.9" r="4.85" fill="#4146ac"/>
<circle cx="840.5" cy="288.6" r="4.85" fill="#18e0bd"/>
<circle cx="833.1" cy="343.4" r="4.85" fill="#4776ee"/>
<circle cx="853.4" cy="373.0" r="4.85" fill="#455ccf"/>
<circle cx="903.0" cy="344.8" r="4.85" fill="#31aff5"/>
<circle cx="1061.5" cy="184.5" r="4.85" fill="#466be3"/>
<circle cx="970.1" cy="260.9" r="4.85" fill="#458afc"/>
<circle cx="884.3" cy="357.0" r="4.85" fill="#4451bf"/>
<circle cx="1025.9" cy="218.4" r="4.85" fill="#4682f8"/>
<circle cx="886.1" cy="354.3" r="4.85" fill="#4249b1"/>
<circle cx="919.7" cy="302.5" r="4.85" fill="#455ed3"/>
<circle cx="945.4" cy="330.8" r="4.85" fill="#65fd69"/>
<circle cx="853.1" cy="288.1" r="4.85" fill="#27eea4"/>
<circle cx="1038.0" cy="183.2" r="4.85" fill="#2fb2f4"/>
<circle cx="999.3" cy="237.9" r="4.85" fill="#4778f0"/>
<circle cx="935.8" cy="306.9" r="4.85" fill="#4669e0"/>
<circle cx="828.4" cy="402.8" r="4.85" fill="#36215f"/>
<circle cx="1151.7" cy="100.2" r="4.85" fill="#19d5cd"/>
<circle cx="1082.6" cy="313.6" r="4.85" fill="#1de7b2"/>
<circle cx="919.4" cy="321.5" r="4.85" fill="#3d358b"/>
<circle cx="932.5" cy="317.1" r="4.85" fill="#4454c3"/>
<circle cx="868.4" cy="387.6" r="4.85" fill="#4680f6"/>
<circle cx="976.5" cy="228.6" r="4.85" fill="#33adf7"/>
<circle cx="963.6" cy="302.2" r="4.85" fill="#27bee9"/>
<circle cx="835.5" cy="279.9" r="4.85" fill="#3f3e9c"/>
<circle cx="922.3" cy="306.8" r="4.85" fill="#4669e0"/>
<circle cx="986.4" cy="233.9" r="4.85" fill="#477bf2"/>
<circle cx="865.5" cy="366.2" r="4.85" fill="#341b51"/>
<circle cx="834.5" cy="314.6" r="4.85" fill="#4559cb"/>
<circle cx="969.8" cy="277.1" r="4.85" fill="#4776ee"/>
<circle cx="885.5" cy="364.8" r="4.85" fill="#4664da"/>
<circle cx="871.8" cy="383.4" r="4.85" fill="#4666dd"/>
<circle cx="875.4" cy="375.4" r="4.85" fill="#18d7ca"/>
<circle cx="891.6" cy="329.1" r="4.85" fill="#4146ac"/>
<circle cx="847.2" cy="303.6" r="4.85" fill="#35f394"/>
<circle cx="910.8" cy="343.8" r="4.85" fill="#4773eb"/>
<circle cx="1013.4" cy="267.6" r="4.85" fill="#27bee9"/>
<circle cx="873.5" cy="371.4" r="4.85" fill="#455ed3"/>
<circle cx="838.4" cy="361.1" r="4.85" fill="#4685fa"/>
<circle cx="1052.7" cy="160.3" r="4.85" fill="#1ad4d0"/>
<circle cx="1015.5" cy="186.3" r="4.85" fill="#19e3b9"/>
<circle cx="885.2" cy="349.9" r="4.85" fill="#4451bf"/>
<circle cx="864.5" cy="387.2" r="4.85" fill="#4196ff"/>
<circle cx="931.2" cy="305.0" r="4.85" fill="#466be3"/>
<circle cx="835.8" cy="405.2" r="4.85" fill="#4456c7"/>
<circle cx="982.3" cy="205.2" r="4.85" fill="#3e9bfe"/>
<circle cx="922.7" cy="281.0" r="4.85" fill="#35abf8"/>
<circle cx="949.3" cy="328.4" r="4.85" fill="#458cfd"/>
<circle cx="1010.2" cy="273.4" r="4.85" fill="#22ebaa"/>
<circle cx="957.0" cy="247.1" r="4.85" fill="#22ebaa"/>
<circle cx="923.8" cy="363.6" r="4.85" fill="#4af880"/>
<circle cx="927.2" cy="346.1" r="4.85" fill="#1ccdd8"/>
<circle cx="1004.8" cy="258.9" r="4.85" fill="#4661d6"/>
<circle cx="836.7" cy="355.1" r="4.85" fill="#3d358b"/>
<circle cx="834.3" cy="318.2" r="4.85" fill="#455ed3"/>
<circle cx="918.1" cy="344.7" r="4.85" fill="#4099ff"/>
<circle cx="944.1" cy="299.1" r="4.85" fill="#4664da"/>
<circle cx="900.3" cy="325.6" r="4.85" fill="#4451bf"/>
<circle cx="960.9" cy="280.0" r="4.85" fill="#466be3"/>
<circle cx="1038.2" cy="165.8" r="4.85" fill="#4778f0"/>
<circle cx="1019.1" cy="264.2" r="4.85" fill="#19e3b9"/>
<circle cx="1017.0" cy="188.5" r="4.85" fill="#18ddc2"/>
<circle cx="928.0" cy="309.4" r="4.85" fill="#4682f8"/>
<circle cx="1058.7" cy="177.6" r="4.85" fill="#466be3"/>
<circle cx="1115.9" cy="102.9" r="4.85" fill="#477bf2"/>
<circle cx="850.9" cy="401.6" r="4.85" fill="#424bb5"/>
<circle cx="956.3" cy="290.4" r="4.85" fill="#448ffe"/>
<circle cx="883.6" cy="311.9" r="4.85" fill="#4196ff"/>
<circle cx="846.4" cy="369.8" r="4.85" fill="#4778f0"/>
<circle cx="1079.7" cy="351.3" r="4.85" fill="#59fb73"/>
<circle cx="1013.9" cy="232.7" r="4.85" fill="#467df4"/>
<circle cx="1054.1" cy="253.4" r="4.85" fill="#1bd0d5"/>
<circle cx="1016.6" cy="214.7" r="4.85" fill="#1fc9dd"/>
<circle cx="876.8" cy="359.5" r="4.85" fill="#424bb5"/>
<circle cx="887.3" cy="370.4" r="4.85" fill="#4559cb"/>
<circle cx="1078.8" cy="196.5" r="4.85" fill="#1de7b2"/>
<circle cx="1032.5" cy="201.7" r="4.85" fill="#33adf7"/>
<circle cx="879.8" cy="314.9" r="4.85" fill="#3aa3fc"/>
<circle cx="934.0" cy="307.1" r="4.85" fill="#476ee6"/>
<circle cx="839.0" cy="350.8" r="4.85" fill="#3e9bfe"/>
<circle cx="856.5" cy="351.4" r="4.85" fill="#4773eb"/>
<circle cx="845.5" cy="358.8" r="4.85" fill="#4776ee"/>
<circle cx="887.0" cy="369.6" r="4.85" fill="#4559cb"/>
<circle cx="888.3" cy="322.6" r="4.85" fill="#448ffe"/>
<circle cx="924.8" cy="293.7" r="4.85" fill="#27bee9"/>
<circle cx="1034.5" cy="215.3" r="4.85" fill="#4196ff"/>
<circle cx="954.6" cy="286.9" r="4.85" fill="#4661d6"/>
<circle cx="854.2" cy="356.1" r="4.85" fill="#455ccf"/>
<circle cx="930.5" cy="289.4" r="4.85" fill="#424bb5"/>
<circle cx="945.6" cy="310.4" r="4.85" fill="#424bb5"/>
<circle cx="888.2" cy="351.8" r="4.85" fill="#455ed3"/>
<circle cx="850.1" cy="363.1" r="4.85" fill="#434eba"/>
<circle cx="849.6" cy="345.3" r="4.85" fill="#18d9c8"/>
<circle cx="896.2" cy="281.3" r="4.85" fill="#c8ef34"/>
<circle cx="870.4" cy="395.6" r="4.85" fill="#476ee6"/>
<circle cx="913.5" cy="325.4" r="4.85" fill="#458afc"/>
<circle cx="915.0" cy="320.9" r="4.85" fill="#3f3b97"/>
<circle cx="873.2" cy="343.3" r="4.85" fill="#4771e9"/>
<circle cx="835.9" cy="382.2" r="4.85" fill="#3f3b97"/>
<circle cx="930.1" cy="282.9" r="4.85" fill="#4687fb"/>
<circle cx="913.0" cy="337.6" r="4.85" fill="#4669e0"/>
<circle cx="841.9" cy="370.8" r="4.85" fill="#3c3286"/>
<circle cx="1031.9" cy="240.6" r="4.85" fill="#2fb2f4"/>
<circle cx="1027.6" cy="212.5" r="4.85" fill="#476ee6"/>
<circle cx="838.2" cy="337.7" r="4.85" fill="#477bf2"/>
<circle cx="839.0" cy="326.8" r="4.85" fill="#477bf2"/>
<circle cx="1020.8" cy="248.6" r="4.85" fill="#4687fb"/>
<circle cx="1074.3" cy="359.0" r="4.85" fill="#4666dd"/>
<circle cx="846.7" cy="403.5" r="4.85" fill="#4294ff"/>
<circle cx="945.9" cy="270.9" r="4.85" fill="#22c5e2"/>
<circle cx="920.3" cy="295.7" r="4.85" fill="#458afc"/>
<circle cx="1065.4" cy="159.9" r="4.85" fill="#458afc"/>
<circle cx="1041.0" cy="199.3" r="4.85" fill="#4776ee"/>
<circle cx="1016.8" cy="231.8" r="4.85" fill="#424bb5"/>
<circle cx="1019.1" cy="222.5" r="4.85" fill="#4771e9"/>
<circle cx="975.9" cy="281.2" r="4.85" fill="#38a5fb"/>
<circle cx="856.3" cy="320.5" r="4.85" fill="#4682f8"/>
<circle cx="1121.3" cy="375.2" r="4.85" fill="#3e9bfe"/>
<circle cx="1033.6" cy="191.2" r="4.85" fill="#466be3"/>
<circle cx="993.6" cy="372.9" r="4.85" fill="#59fb73"/>
<circle cx="868.1" cy="356.2" r="4.85" fill="#4249b1"/>
<circle cx="867.3" cy="348.4" r="4.85" fill="#4669e0"/>
<circle cx="923.2" cy="363.8" r="4.85" fill="#23c3e4"/>
<circle cx="906.9" cy="314.4" r="4.85" fill="#4454c3"/>
<circle cx="859.8" cy="356.5" r="4.85" fill="#434eba"/>
<circle cx="1034.0" cy="181.4" r="4.85" fill="#4391fe"/>
<circle cx="956.9" cy="223.4" r="4.85" fill="#2fb2f4"/>
<circle cx="937.8" cy="291.7" r="4.85" fill="#4669e0"/>
<circle cx="957.6" cy="374.7" r="4.85" fill="#59fb73"/>
<circle cx="829.8" cy="346.1" r="4.85" fill="#467df4"/>
<circle cx="982.1" cy="254.9" r="4.85" fill="#4040a2"/>
<circle cx="840.2" cy="328.2" r="4.85" fill="#4456c7"/>
<circle cx="883.5" cy="220.3" r="4.85" fill="#f9bc39"/>
<circle cx="984.6" cy="239.2" r="4.85" fill="#4687fb"/>
<circle cx="1029.5" cy="155.3" r="4.85" fill="#18dec0"/>
<circle cx="990.6" cy="200.9" r="4.85" fill="#84ff51"/>
<circle cx="933.1" cy="327.0" r="4.85" fill="#458cfd"/>
<circle cx="908.9" cy="313.1" r="4.85" fill="#4559cb"/>
<circle cx="853.4" cy="376.0" r="4.85" fill="#3b2f80"/>
<circle cx="830.9" cy="381.6" r="4.85" fill="#3f3b97"/>
<circle cx="830.5" cy="358.6" r="4.85" fill="#4451bf"/>
<circle cx="969.0" cy="253.8" r="4.85" fill="#4661d6"/>
<circle cx="828.3" cy="332.1" r="4.85" fill="#4040a2"/>
<circle cx="924.3" cy="336.4" r="4.85" fill="#4454c3"/>
<circle cx="1007.6" cy="226.8" r="4.85" fill="#4099ff"/>
<circle cx="840.8" cy="397.3" r="4.85" fill="#4451bf"/>
<circle cx="1000.3" cy="151.0" r="4.85" fill="#e3db38"/>
<circle cx="842.8" cy="339.6" r="4.85" fill="#458cfd"/>
<circle cx="874.6" cy="334.6" r="4.85" fill="#455ccf"/>
<circle cx="950.9" cy="247.8" r="4.85" fill="#fe962b"/>
<circle cx="895.5" cy="373.6" r="4.85" fill="#4669e0"/>
<circle cx="898.2" cy="395.1" r="4.85" fill="#4666dd"/>
<circle cx="1144.8" cy="119.9" r="4.85" fill="#1bd0d5"/>
<circle cx="940.6" cy="315.3" r="4.85" fill="#3c3286"/>
<circle cx="1009.3" cy="224.6" r="4.85" fill="#455ccf"/>
<circle cx="882.3" cy="379.6" r="4.85" fill="#3aa3fc"/>
<circle cx="910.2" cy="396.0" r="4.85" fill="#4666dd"/>
<circle cx="838.2" cy="376.7" r="4.85" fill="#4143a7"/>
<circle cx="891.8" cy="342.3" r="4.85" fill="#3f3e9c"/>
<circle cx="1023.4" cy="258.1" r="4.85" fill="#2cb7f0"/>
<circle cx="858.8" cy="380.4" r="4.85" fill="#424bb5"/>
<circle cx="993.0" cy="223.3" r="4.85" fill="#4773eb"/>
<circle cx="978.8" cy="277.7" r="4.85" fill="#448ffe"/>
<circle cx="1134.9" cy="127.5" r="4.85" fill="#28bceb"/>
<circle cx="892.7" cy="353.2" r="4.85" fill="#4146ac"/>
<circle cx="849.5" cy="354.2" r="4.85" fill="#4146ac"/>
<circle cx="939.8" cy="300.3" r="4.85" fill="#4146ac"/>
<circle cx="970.5" cy="274.5" r="4.85" fill="#4685fa"/>
<circle cx="935.5" cy="325.1" r="4.85" fill="#22c5e2"/>
<circle cx="936.0" cy="275.7" r="4.85" fill="#4776ee"/>
<circle cx="860.8" cy="365.4" r="4.85" fill="#4456c7"/>
<circle cx="1029.2" cy="198.5" r="4.85" fill="#4456c7"/>
<circle cx="1005.0" cy="248.8" r="4.85" fill="#3e9bfe"/>
<circle cx="902.4" cy="337.4" r="4.85" fill="#392a73"/>
<circle cx="1023.4" cy="219.5" r="4.85" fill="#458afc"/>
<circle cx="863.0" cy="385.6" r="4.85" fill="#4249b1"/>
<circle cx="1014.5" cy="225.7" r="4.85" fill="#4664da"/>
<circle cx="842.3" cy="401.8" r="4.85" fill="#3b2f80"/>
<circle cx="841.4" cy="379.6" r="4.85" fill="#3a2d79"/>
<circle cx="846.9" cy="396.5" r="4.85" fill="#4682f8"/>
<circle cx="877.2" cy="344.0" r="4.85" fill="#477bf2"/>
<circle cx="1034.9" cy="210.3" r="4.85" fill="#3ba0fd"/>
<circle cx="853.5" cy="390.2" r="4.85" fill="#3f3e9c"/>
<circle cx="852.1" cy="360.1" r="4.85" fill="#3e3891"/>
<circle cx="834.7" cy="373.5" r="4.85" fill="#4454c3"/>
<circle cx="927.7" cy="351.4" r="4.85" fill="#467df4"/>
<circle cx="850.6" cy="375.0" r="4.85" fill="#36215f"/>
<circle cx="844.5" cy="336.9" r="4.85" fill="#4451bf"/>
<circle cx="962.5" cy="282.1" r="4.85" fill="#4771e9"/>
<circle cx="846.8" cy="342.0" r="4.85" fill="#4771e9"/>
<circle cx="841.0" cy="387.6" r="4.85" fill="#372466"/>
<circle cx="990.0" cy="256.0" r="4.85" fill="#3aa3fc"/>
<circle cx="954.1" cy="254.1" r="4.85" fill="#4559cb"/>
<circle cx="853.3" cy="346.4" r="4.85" fill="#4664da"/>
<circle cx="933.2" cy="322.2" r="4.85" fill="#3c3286"/>
<circle cx="1020.9" cy="257.2" r="4.85" fill="#19e2bb"/>
<circle cx="858.0" cy="392.4" r="4.85" fill="#3c3286"/>
<circle cx="831.5" cy="394.1" r="4.85" fill="#3a2d79"/>
<circle cx="951.2" cy="350.9" r="4.85" fill="#18d9c8"/>
<circle cx="1029.1" cy="225.2" r="4.85" fill="#4146ac"/>
<circle cx="856.0" cy="384.5" r="4.85" fill="#4454c3"/>
<circle cx="879.4" cy="322.5" r="4.85" fill="#4040a2"/>
<circle cx="882.9" cy="337.5" r="4.85" fill="#3f3e9c"/>
<circle cx="1000.1" cy="242.6" r="4.85" fill="#4454c3"/>
<circle cx="932.9" cy="375.2" r="4.85" fill="#4666dd"/>
<circle cx="844.7" cy="396.6" r="4.85" fill="#3d358b"/>
<circle cx="834.4" cy="390.0" r="4.85" fill="#392a73"/>
<circle cx="1001.8" cy="224.0" r="4.85" fill="#4682f8"/>
<circle cx="846.4" cy="322.5" r="4.85" fill="#18ddc2"/>
<circle cx="940.6" cy="288.6" r="4.85" fill="#4454c3"/>
<circle cx="900.3" cy="329.6" r="4.85" fill="#4249b1"/>
<circle cx="877.0" cy="300.2" r="4.85" fill="#455ccf"/>
<circle cx="836.9" cy="402.0" r="4.85" fill="#4143a7"/>
<circle cx="1033.1" cy="212.9" r="4.85" fill="#4682f8"/>
<circle cx="874.9" cy="364.9" r="4.85" fill="#4773eb"/>
<circle cx="946.2" cy="285.0" r="4.85" fill="#4040a2"/>
<circle cx="830.8" cy="310.9" r="4.85" fill="#2fb2f4"/>
<circle cx="831.8" cy="352.3" r="4.85" fill="#1bd0d5"/>
<circle cx="830.5" cy="366.0" r="4.85" fill="#341b51"/>
<circle cx="911.8" cy="323.9" r="4.85" fill="#3f3e9c"/>
<circle cx="971.3" cy="319.5" r="4.85" fill="#3aa3fc"/>
<circle cx="854.3" cy="340.6" r="4.85" fill="#458afc"/>
<circle cx="862.5" cy="377.1" r="4.85" fill="#4040a2"/>
<circle cx="828.0" cy="351.5" r="4.85" fill="#2cb7f0"/>
<circle cx="829.0" cy="402.4" r="4.85" fill="#455ccf"/>
<circle cx="880.7" cy="354.3" r="4.85" fill="#4249b1"/>
<circle cx="988.8" cy="241.0" r="4.85" fill="#448ffe"/>
<circle cx="914.6" cy="318.1" r="4.85" fill="#467df4"/>
<circle cx="874.4" cy="358.7" r="4.85" fill="#36215f"/>
<circle cx="859.4" cy="389.4" r="4.85" fill="#4249b1"/>
<circle cx="866.7" cy="370.3" r="4.85" fill="#3a2d79"/>
<circle cx="990.3" cy="248.5" r="4.85" fill="#455ccf"/>
<circle cx="958.7" cy="295.7" r="4.85" fill="#4249b1"/>
<circle cx="849.8" cy="324.8" r="4.85" fill="#18ddc2"/>
<circle cx="948.0" cy="318.9" r="4.85" fill="#23c3e4"/>
<circle cx="941.0" cy="345.6" r="4.85" fill="#3ff68a"/>
<circle cx="873.9" cy="369.7" r="4.85" fill="#476ee6"/>
<circle cx="847.2" cy="360.0" r="4.85" fill="#4687fb"/>
<circle cx="950.7" cy="267.6" r="4.85" fill="#1ae4b6"/>
<circle cx="828.2" cy="384.2" r="4.85" fill="#3f3b97"/>
<circle cx="946.6" cy="304.5" r="4.85" fill="#4687fb"/>
<circle cx="1070.3" cy="111.4" r="4.85" fill="#35f394"/>
<circle cx="840.6" cy="368.3" r="4.85" fill="#38276d"/>
<circle cx="885.6" cy="328.8" r="4.85" fill="#28bceb"/>
<circle cx="910.1" cy="335.4" r="4.85" fill="#3f3e9c"/>
<circle cx="873.0" cy="366.0" r="4.85" fill="#36215f"/>
<circle cx="904.9" cy="312.9" r="4.85" fill="#3ba0fd"/>
<circle cx="912.2" cy="367.3" r="4.85" fill="#38f491"/>
<circle cx="1024.9" cy="209.1" r="4.85" fill="#458afc"/>
<circle cx="867.4" cy="337.6" r="4.85" fill="#4680f6"/>
<circle cx="920.1" cy="339.2" r="4.85" fill="#4454c3"/>
<circle cx="933.4" cy="385.1" r="4.85" fill="#4666dd"/>
<circle cx="843.5" cy="387.6" r="4.85" fill="#4454c3"/>
<circle cx="839.5" cy="374.6" r="4.85" fill="#3e3891"/>
<circle cx="992.2" cy="222.6" r="4.85" fill="#4666dd"/>
<circle cx="875.9" cy="351.4" r="4.85" fill="#455ccf"/>
<circle cx="834.0" cy="390.7" r="4.85" fill="#4451bf"/>
<circle cx="982.1" cy="245.5" r="4.85" fill="#25eca7"/>
<circle cx="940.9" cy="288.1" r="4.85" fill="#455ccf"/>
<circle cx="1033.7" cy="214.1" r="4.85" fill="#4682f8"/>
<circle cx="934.3" cy="265.9" r="4.85" fill="#2ab9ee"/>
<circle cx="868.2" cy="373.7" r="4.85" fill="#3c3286"/>
<circle cx="1036.8" cy="180.5" r="4.85" fill="#2aefa1"/>
<circle cx="929.5" cy="356.0" r="4.85" fill="#a9fb39"/>
<circle cx="846.8" cy="382.1" r="4.85" fill="#321543"/>
<circle cx="860.6" cy="369.5" r="4.85" fill="#3d358b"/>
<circle cx="893.8" cy="341.5" r="4.85" fill="#4661d6"/>
<circle cx="912.8" cy="320.9" r="4.85" fill="#3c3286"/>
<circle cx="899.7" cy="375.3" r="4.85" fill="#20eaac"/>
<circle cx="832.7" cy="400.9" r="4.85" fill="#392a73"/>
<circle cx="1025.7" cy="229.0" r="4.85" fill="#4680f6"/>
<circle cx="834.5" cy="362.8" r="4.85" fill="#4146ac"/>
<circle cx="850.4" cy="393.0" r="4.85" fill="#3d358b"/>
<circle cx="830.7" cy="303.2" r="4.85" fill="#477bf2"/>
<circle cx="1016.7" cy="196.8" r="4.85" fill="#1ad4d0"/>
<circle cx="1022.8" cy="147.3" r="4.85" fill="#88ff4e"/>
<circle cx="905.6" cy="334.2" r="4.85" fill="#448ffe"/>
<circle cx="964.8" cy="284.1" r="4.85" fill="#4661d6"/>
</g>
<path d="M826.8 403.7L1166.8 81.9" stroke="#cc444c" stroke-width="2.4" stroke-dasharray="7.4,3.2" fill="none"/>
</g>
<rect x="818.0" y="72.6" width="359.0" height="339.3" fill="none" stroke="#cccccc" stroke-width="1.7"/>
<rect x="827.9" y="81.1" width="127.1" height="68.2" rx="7" fill="#fff" fill-opacity="0.85" stroke="#7f7f7f" stroke-width="1.4"/>
<text x="836.2" y="101.4" font-size="16.67">R² = 0.84</text>
<text x="836.2" y="119.2" font-size="16.67">MAE = 60 K</text>
<text x="836.2" y="137.1" font-size="16.67">RMSE = 110 K</text>
<text x="828.0" y="436.9" text-anchor="middle" font-size="18.33" letter-spacing="0.6">0</text>
<text x="889.1" y="436.9" text-anchor="middle" font-size="18.33" letter-spacing="0.6">250</text>
<text x="950.3" y="436.9" text-anchor="middle" font-size="18.33" letter-spacing="0.6">500</text>
<text x="1011.5" y="436.9" text-anchor="middle" font-size="18.33" letter-spacing="0.6">750</text>
<text x="1072.6" y="436.9" text-anchor="middle" font-size="18.33" letter-spacing="0.6">1000</text>
<text x="1133.8" y="436.9" text-anchor="middle" font-size="18.33" letter-spacing="0.6">1250</text>
<text x="807.4" y="409.8" text-anchor="end" font-size="18.33" letter-spacing="0.6">0</text>
<text x="807.4" y="363.5" text-anchor="end" font-size="18.33" letter-spacing="0.6">200</text>
<text x="807.4" y="317.2" text-anchor="end" font-size="18.33" letter-spacing="0.6">400</text>
<text x="807.4" y="270.9" text-anchor="end" font-size="18.33" letter-spacing="0.6">600</text>
<text x="807.4" y="224.6" text-anchor="end" font-size="18.33" letter-spacing="0.6">800</text>
<text x="807.4" y="178.3" text-anchor="end" font-size="18.33" letter-spacing="0.6">1000</text>
<text x="807.4" y="132.0" text-anchor="end" font-size="18.33" letter-spacing="0.6">1200</text>
<text x="807.4" y="85.7" text-anchor="end" font-size="18.33" letter-spacing="0.6">1400</text>
<text x="997.5" y="467.6" text-anchor="middle" font-size="21.67">Actual Curie Temperature (K)</text>
<text transform="translate(748.4,242.2) rotate(-90)" text-anchor="middle" font-size="21.67">Predicted Curie Temperature (K)</text>
<rect x="1190.75" y="73.65" width="15.40" height="337.50" fill="url(#grb)" fill-opacity="0.88"/>
<rect x="1190.10" y="73.00" width="16.70" height="338.80" fill="none" stroke="#d8dad8" stroke-width="1.3"/>
<text x="1219.1" y="357.5" font-size="18.33" letter-spacing="0.3">50</text>
<text x="1219.1" y="294.5" font-size="18.33" letter-spacing="0.3">100</text>
<text x="1219.1" y="231.6" font-size="18.33" letter-spacing="0.3">150</text>
<text x="1219.1" y="168.6" font-size="18.33" letter-spacing="0.3">200</text>
<text x="1219.1" y="105.6" font-size="18.33" letter-spacing="0.3">250</text>
<path d="M1207.3 351.0h5.8M1207.3 288.0h5.8M1207.3 225.1h5.8M1207.3 162.1h5.8M1207.3 99.1h5.8" stroke="#262626" stroke-width="1.3"/>
<text transform="translate(1267.3,242.2) rotate(-90)" text-anchor="middle" font-size="16.67">Prediction Std Deviation (K)</text>
<text x="1350.9" y="22.0" font-size="31.5" font-weight="bold" fill="#000">c</text>
<text x="1664.0" y="49.1" text-anchor="middle" font-size="23.33" letter-spacing="0.25">XGBoost</text>
<path d="M1494.9 72.6V411.9M1556.0 72.6V411.9M1617.0 72.6V411.9M1678.1 72.6V411.9M1739.1 72.6V411.9M1800.2 72.6V411.9M1484.8 402.5H1843.2M1484.8 356.2H1843.2M1484.8 309.9H1843.2M1484.8 263.6H1843.2M1484.8 217.3H1843.2M1484.8 171.0H1843.2M1484.8 124.7H1843.2M1484.8 78.4H1843.2" stroke="#e6e6e6" stroke-width="1.1" stroke-dasharray="4.6,1.5" fill="none"/>
<g clip-path="url(#clipc)">
<path d="M1624.8 325.3v22.0m-2.5 0h5m0 -22.0h-5M1602.3 248.9v16.4m-2.5 0h5m0 -16.4h-5M1817.8 150.4v23.3m-2.5 0h5m0 -23.3h-5M1640.9 190.6v34.4m-2.5 0h5m0 -34.4h-5M1600.3 323.0v31.8m-2.5 0h5m0 -31.8h-5M1665.0 146.8v24.1m-2.5 0h5m0 -24.1h-5M1702.6 233.6v14.3m-2.5 0h5m0 -14.3h-5M1699.3 156.7v21.5m-2.5 0h5m0 -21.5h-5M1689.4 166.2v25.9m-2.5 0h5m0 -25.9h-5M1695.7 251.4v27.3m-2.5 0h5m0 -27.3h-5M1638.7 315.8v22.1m-2.5 0h5m0 -22.1h-5M1620.9 222.7v21.5m-2.5 0h5m0 -21.5h-5M1663.5 195.7v30.5m-2.5 0h5m0 -30.5h-5M1726.0 250.1v32.1m-2.5 0h5m0 -32.1h-5M1616.7 337.2v22.8m-2.5 0h5m0 -22.8h-5M1546.3 279.1v41.3m-2.5 0h5m0 -41.3h-5M1701.5 156.3v27.8m-2.5 0h5m0 -27.8h-5M1702.9 227.7v25.7m-2.5 0h5m0 -25.7h-5M1786.2 122.9v16.6m-2.5 0h5m0 -16.6h-5M1622.4 341.6v14.7m-2.5 0h5m0 -14.7h-5M1771.5 135.4v20.2m-2.5 0h5m0 -20.2h-5M1660.8 137.6v43.0m-2.5 0h5m0 -43.0h-5M1678.3 271.3v38.7m-2.5 0h5m0 -38.7h-5M1806.1 123.9v19.9m-2.5 0h5m0 -19.9h-5M1774.5 121.7v22.9m-2.5 0h5m0 -22.9h-5M1688.2 168.5v16.5m-2.5 0h5m0 -16.5h-5M1499.1 290.0v40.1m-2.5 0h5m0 -40.1h-5M1701.4 230.6v17.9m-2.5 0h5m0 -17.9h-5M1725.4 146.7v20.8m-2.5 0h5m0 -20.8h-5M1702.7 245.5v20.4m-2.5 0h5m0 -20.4h-5M1662.2 202.2v23.6m-2.5 0h5m0 -23.6h-5M1603.9 348.4v15.8m-2.5 0h5m0 -15.8h-5M1819.1 114.9v19.8m-2.5 0h5m0 -19.8h-5M1675.6 256.1v23.0m-2.5 0h5m0 -23.0h-5M1504.9 291.0v55.4m-2.5 0h5m0 -55.4h-5M1647.8 289.5v23.2m-2.5 0h5m0 -23.2h-5M1708.2 251.7v28.9m-2.5 0h5m0 -28.9h-5M1639.7 298.2v22.7m-2.5 0h5m0 -22.7h-5M1629.9 291.9v49.1m-2.5 0h5m0 -49.1h-5M1658.7 304.4v20.5m-2.5 0h5m0 -20.5h-5M1677.9 166.3v17.7m-2.5 0h5m0 -17.7h-5M1720.0 159.0v18.1m-2.5 0h5m0 -18.1h-5M1827.0 130.3v18.4m-2.5 0h5m0 -18.4h-5M1677.5 241.2v36.2m-2.5 0h5m0 -36.2h-5M1804.2 149.7v18.0m-2.5 0h5m0 -18.0h-5M1780.2 135.5v22.1m-2.5 0h5m0 -22.1h-5M1729.2 165.9v22.2m-2.5 0h5m0 -22.2h-5M1833.1 130.0v20.3m-2.5 0h5m0 -20.3h-5M1731.6 208.1v17.9m-2.5 0h5m0 -17.9h-5M1564.1 284.5v26.6m-2.5 0h5m0 -26.6h-5M1824.1 118.3v15.8m-2.5 0h5m0 -15.8h-5M1581.3 270.9v25.4m-2.5 0h5m0 -25.4h-5M1646.9 200.9v28.9m-2.5 0h5m0 -28.9h-5M1595.4 341.1v41.6m-2.5 0h5m0 -41.6h-5M1591.3 352.1v20.0m-2.5 0h5m0 -20.0h-5M1675.3 190.3v25.8m-2.5 0h5m0 -25.8h-5M1690.7 251.4v45.0m-2.5 0h5m0 -45.0h-5M1700.6 125.6v42.0m-2.5 0h5m0 -42.0h-5M1617.2 322.2v19.0m-2.5 0h5m0 -19.0h-5M1544.2 226.0v29.7m-2.5 0h5m0 -29.7h-5M1608.0 202.7v14.0m-2.5 0h5m0 -14.0h-5M1762.5 160.3v17.1m-2.5 0h5m0 -17.1h-5M1760.0 145.4v15.6m-2.5 0h5m0 -15.6h-5M1748.2 116.9v36.8m-2.5 0h5m0 -36.8h-5M1582.4 355.0v24.2m-2.5 0h5m0 -24.2h-5M1824.8 153.1v24.8m-2.5 0h5m0 -24.8h-5M1674.1 193.7v19.8m-2.5 0h5m0 -19.8h-5M1501.1 295.0v20.3m-2.5 0h5m0 -20.3h-5M1652.8 195.8v34.6m-2.5 0h5m0 -34.6h-5M1594.9 349.2v28.1m-2.5 0h5m0 -28.1h-5M1720.6 198.3v21.1m-2.5 0h5m0 -21.1h-5M1664.1 292.2v16.2m-2.5 0h5m0 -16.2h-5M1691.2 266.1v17.1m-2.5 0h5m0 -17.1h-5M1596.6 214.0v38.5m-2.5 0h5m0 -38.5h-5M1610.5 237.9v24.1m-2.5 0h5m0 -24.1h-5M1524.7 189.8v39.8m-2.5 0h5m0 -39.8h-5M1593.1 170.9v17.3m-2.5 0h5m0 -17.3h-5M1589.2 241.9v23.2m-2.5 0h5m0 -23.2h-5M1571.4 366.5v18.5m-2.5 0h5m0 -18.5h-5M1665.6 310.6v20.3m-2.5 0h5m0 -20.3h-5M1583.1 183.2v17.3m-2.5 0h5m0 -17.3h-5M1593.1 171.2v39.8m-2.5 0h5m0 -39.8h-5M1724.0 188.0v16.9m-2.5 0h5m0 -16.9h-5M1511.9 294.8v29.2m-2.5 0h5m0 -29.2h-5M1616.8 179.9v28.6m-2.5 0h5m0 -28.6h-5M1587.0 198.4v28.6m-2.5 0h5m0 -28.6h-5M1585.0 205.3v28.6m-2.5 0h5m0 -28.6h-5M1651.9 160.8v48.2m-2.5 0h5m0 -48.2h-5M1669.0 162.0v39.8m-2.5 0h5m0 -39.8h-5M1696.3 116.2v42.9m-2.5 0h5m0 -42.9h-5M1639.5 174.2v48.2m-2.5 0h5m0 -48.2h-5M1650.5 178.1v48.2m-2.5 0h5m0 -48.2h-5M1738.6 131.5v17.3m-2.5 0h5m0 -17.3h-5M1712.7 197.0v18.6m-2.5 0h5m0 -18.6h-5M1813.1 114.1v28.6m-2.5 0h5m0 -28.6h-5M1520.7 232.4v70.6m-2.5 0h5m0 -70.6h-5M1661.7 196.2v39.3m-2.5 0h5m0 -39.3h-5M1731.8 140.3v15.6m-2.5 0h5m0 -15.6h-5M1833.8 116.6v48.2m-2.5 0h5m0 -48.2h-5M1669.2 191.4v22.9m-2.5 0h5m0 -22.9h-5M1809.9 147.2v28.6m-2.5 0h5m0 -28.6h-5M1627.0 208.6v34.7m-2.5 0h5m0 -34.7h-5M1693.3 112.8v61.6m-2.5 0h5m0 -61.6h-5M1811.1 113.4v46.4m-2.5 0h5m0 -46.4h-5M1726.2 208.2v17.1m-2.5 0h5m0 -17.1h-5M1787.6 116.8v33.0m-2.5 0h5m0 -33.0h-5M1637.2 284.0v20.8m-2.5 0h5m0 -20.8h-5M1785.3 148.6v70.7m-2.5 0h5m0 -70.7h-5M1649.1 205.3v22.1m-2.5 0h5m0 -22.1h-5M1786.2 196.0v39.8m-2.5 0h5m0 -39.8h-5M1789.9 145.1v22.7m-2.5 0h5m0 -22.7h-5M1821.9 272.2v39.8m-2.5 0h5m0 -39.8h-5M1788.2 364.0v17.3m-2.5 0h5m0 -17.3h-5M1615.2 316.4v33.1m-2.5 0h5m0 -33.1h-5M1741.1 129.7v26.5m-2.5 0h5m0 -26.5h-5M1685.9 269.6v18.8m-2.5 0h5m0 -18.8h-5M1695.5 234.1v29.5m-2.5 0h5m0 -29.5h-5M1660.2 367.9v17.3m-2.5 0h5m0 -17.3h-5M1646.4 299.7v36.5m-2.5 0h5m0 -36.5h-5M1614.7 339.1v34.0m-2.5 0h5m0 -34.0h-5M1749.6 185.8v121.3m-2.5 0h5m0 -121.3h-5M1770.3 212.8v23.9m-2.5 0h5m0 -23.9h-5M1727.6 213.4v112.9m-2.5 0h5m0 -112.9h-5M1609.0 334.1v17.9m-2.5 0h5m0 -17.9h-5M1564.9 283.8v25.4m-2.5 0h5m0 -25.4h-5M1574.1 270.6v30.0m-2.5 0h5m0 -30.0h-5M1740.1 208.8v112.9m-2.5 0h5m0 -112.9h-5M1751.6 208.0v121.3m-2.5 0h5m0 -121.3h-5M1758.4 168.0v18.6m-2.5 0h5m0 -18.6h-5M1830.1 118.2v14.9m-2.5 0h5m0 -14.9h-5M1771.6 210.6v121.3m-2.5 0h5m0 -121.3h-5M1615.4 222.0v22.0m-2.5 0h5m0 -22.0h-5M1740.6 255.1v70.7m-2.5 0h5m0 -70.7h-5M1811.7 114.9v23.5m-2.5 0h5m0 -23.5h-5M1701.8 259.9v22.0m-2.5 0h5m0 -22.0h-5M1832.5 142.2v19.7m-2.5 0h5m0 -19.7h-5M1741.2 146.1v34.9m-2.5 0h5m0 -34.9h-5M1739.6 210.2v59.5m-2.5 0h5m0 -59.5h-5M1755.5 220.5v39.8m-2.5 0h5m0 -39.8h-5M1633.6 292.9v33.8m-2.5 0h5m0 -33.8h-5M1661.0 308.2v29.9m-2.5 0h5m0 -29.9h-5M1633.3 323.8v37.9m-2.5 0h5m0 -37.9h-5M1580.4 197.6v121.3m-2.5 0h5m0 -121.3h-5M1558.1 371.1v23.0m-2.5 0h5m0 -23.0h-5M1542.8 236.0v134.0m-2.5 0h5m0 -134.0h-5M1667.1 134.7v17.8m-2.5 0h5m0 -17.8h-5M1636.1 301.1v28.4m-2.5 0h5m0 -28.4h-5M1504.7 237.1v101.6m-2.5 0h5m0 -101.6h-5M1495.9 284.0v39.8m-2.5 0h5m0 -39.8h-5M1526.9 247.2v28.6m-2.5 0h5m0 -28.6h-5M1542.5 250.9v28.6m-2.5 0h5m0 -28.6h-5M1670.2 264.1v30.4m-2.5 0h5m0 -30.4h-5M1723.7 293.9v39.8m-2.5 0h5m0 -39.8h-5M1501.0 284.6v60.9m-2.5 0h5m0 -60.9h-5M1746.7 303.5v28.6m-2.5 0h5m0 -28.6h-5M1714.9 321.3v28.6m-2.5 0h5m0 -28.6h-5M1706.1 317.8v39.8m-2.5 0h5m0 -39.8h-5M1655.5 324.9v18.7m-2.5 0h5m0 -18.7h-5M1548.1 287.2v31.5m-2.5 0h5m0 -31.5h-5M1746.7 319.2v28.6m-2.5 0h5m0 -28.6h-5M1551.6 365.4v30.8m-2.5 0h5m0 -30.8h-5M1664.4 187.9v19.5m-2.5 0h5m0 -19.5h-5M1764.5 323.4v28.6m-2.5 0h5m0 -28.6h-5M1680.2 281.7v70.7m-2.5 0h5m0 -70.7h-5M1670.2 311.4v59.5m-2.5 0h5m0 -59.5h-5M1624.8 337.6v59.5m-2.5 0h5m0 -59.5h-5M1629.0 332.2v28.6m-2.5 0h5m0 -28.6h-5M1498.7 294.5v34.5m-2.5 0h5m0 -34.5h-5M1607.5 243.5v36.0m-2.5 0h5m0 -36.0h-5M1812.6 104.4v41.0m-2.5 0h5m0 -41.0h-5M1578.0 357.4v30.8m-2.5 0h5m0 -30.8h-5M1575.5 357.8v33.3m-2.5 0h5m0 -33.3h-5M1587.0 199.1v53.7m-2.5 0h5m0 -53.7h-5M1597.2 220.2v23.3m-2.5 0h5m0 -23.3h-5M1823.8 129.9v21.5m-2.5 0h5m0 -21.5h-5M1629.7 346.1v28.6m-2.5 0h5m0 -28.6h-5" stroke="#b4b4b4" stroke-opacity="0.45" stroke-width="0.9" fill="none"/>
<g stroke="#000" stroke-width="0.6" stroke-opacity="0.85" fill-opacity="0.88">
<circle cx="1496.1" cy="319.3" r="4.85" fill="#4146ac"/>
<circle cx="1738.0" cy="191.2" r="4.85" fill="#434eba"/>
<circle cx="1624.8" cy="336.3" r="4.85" fill="#467df4"/>
<circle cx="1575.7" cy="274.3" r="4.85" fill="#4661d6"/>
<circle cx="1642.0" cy="238.8" r="4.85" fill="#4451bf"/>
<circle cx="1556.5" cy="269.0" r="4.85" fill="#4451bf"/>
<circle cx="1596.2" cy="359.7" r="4.85" fill="#4143a7"/>
<circle cx="1791.5" cy="138.6" r="4.85" fill="#4666dd"/>
<circle cx="1602.3" cy="257.1" r="4.85" fill="#4664da"/>
<circle cx="1817.8" cy="162.0" r="4.85" fill="#4682f8"/>
<circle cx="1557.9" cy="298.6" r="4.85" fill="#476ee6"/>
<circle cx="1640.9" cy="207.8" r="4.85" fill="#2eb4f2"/>
<circle cx="1563.7" cy="377.6" r="4.85" fill="#3a2d79"/>
<circle cx="1569.9" cy="269.7" r="4.85" fill="#424bb5"/>
<circle cx="1600.3" cy="338.9" r="4.85" fill="#35abf8"/>
<circle cx="1769.3" cy="143.3" r="4.85" fill="#455ccf"/>
<circle cx="1665.0" cy="158.9" r="4.85" fill="#4687fb"/>
<circle cx="1660.3" cy="278.7" r="4.85" fill="#4451bf"/>
<circle cx="1510.2" cy="301.6" r="4.85" fill="#4040a2"/>
<circle cx="1699.3" cy="167.4" r="4.85" fill="#477bf2"/>
<circle cx="1695.7" cy="265.0" r="4.85" fill="#4294ff"/>
<circle cx="1543.6" cy="388.9" r="4.85" fill="#4249b1"/>
<circle cx="1638.7" cy="326.9" r="4.85" fill="#467df4"/>
<circle cx="1747.0" cy="154.5" r="4.85" fill="#4559cb"/>
<circle cx="1620.9" cy="233.4" r="4.85" fill="#477bf2"/>
<circle cx="1695.9" cy="181.5" r="4.85" fill="#22c5e2"/>
<circle cx="1663.5" cy="211.0" r="4.85" fill="#3aa3fc"/>
<circle cx="1496.8" cy="315.3" r="4.85" fill="#392a73"/>
<circle cx="1696.7" cy="177.3" r="4.85" fill="#3aa3fc"/>
<circle cx="1726.0" cy="266.1" r="4.85" fill="#35abf8"/>
<circle cx="1600.9" cy="240.7" r="4.85" fill="#476ee6"/>
<circle cx="1557.1" cy="303.1" r="4.85" fill="#476ee6"/>
<circle cx="1596.1" cy="267.7" r="4.85" fill="#455ed3"/>
<circle cx="1616.7" cy="348.6" r="4.85" fill="#4680f6"/>
<circle cx="1546.3" cy="299.8" r="4.85" fill="#1ad2d2"/>
<circle cx="1701.5" cy="170.2" r="4.85" fill="#4196ff"/>
<circle cx="1702.9" cy="240.5" r="4.85" fill="#458cfd"/>
<circle cx="1572.1" cy="291.2" r="4.85" fill="#4778f0"/>
<circle cx="1786.2" cy="131.2" r="4.85" fill="#4664da"/>
<circle cx="1592.7" cy="344.1" r="4.85" fill="#424bb5"/>
<circle cx="1622.4" cy="349.0" r="4.85" fill="#4559cb"/>
<circle cx="1771.5" cy="145.5" r="4.85" fill="#4773eb"/>
<circle cx="1609.4" cy="328.7" r="4.85" fill="#4559cb"/>
<circle cx="1543.7" cy="310.3" r="4.85" fill="#4454c3"/>
<circle cx="1593.5" cy="272.6" r="4.85" fill="#4146ac"/>
<circle cx="1700.7" cy="176.8" r="4.85" fill="#4661d6"/>
<circle cx="1656.2" cy="273.7" r="4.85" fill="#4456c7"/>
<circle cx="1704.3" cy="189.3" r="4.85" fill="#4664da"/>
<circle cx="1518.8" cy="314.3" r="4.85" fill="#455ccf"/>
<circle cx="1696.9" cy="186.6" r="4.85" fill="#4559cb"/>
<circle cx="1651.6" cy="205.0" r="4.85" fill="#4451bf"/>
<circle cx="1690.2" cy="263.4" r="4.85" fill="#4776ee"/>
<circle cx="1650.1" cy="286.9" r="4.85" fill="#4669e0"/>
<circle cx="1747.2" cy="170.7" r="4.85" fill="#4249b1"/>
<circle cx="1660.8" cy="159.2" r="4.85" fill="#18d7ca"/>
<circle cx="1678.3" cy="290.7" r="4.85" fill="#20c7df"/>
<circle cx="1806.1" cy="133.9" r="4.85" fill="#4773eb"/>
<circle cx="1566.7" cy="265.8" r="4.85" fill="#434eba"/>
<circle cx="1702.9" cy="188.3" r="4.85" fill="#434eba"/>
<circle cx="1774.5" cy="133.2" r="4.85" fill="#4680f6"/>
<circle cx="1526.8" cy="322.1" r="4.85" fill="#3d358b"/>
<circle cx="1806.7" cy="165.8" r="4.85" fill="#4661d6"/>
<circle cx="1688.2" cy="176.8" r="4.85" fill="#4664da"/>
<circle cx="1701.4" cy="239.6" r="4.85" fill="#4669e0"/>
<circle cx="1596.4" cy="339.0" r="4.85" fill="#4454c3"/>
<circle cx="1725.4" cy="157.1" r="4.85" fill="#4776ee"/>
<circle cx="1574.5" cy="263.3" r="4.85" fill="#4454c3"/>
<circle cx="1522.2" cy="400.4" r="4.85" fill="#4249b1"/>
<circle cx="1700.5" cy="187.5" r="4.85" fill="#466be3"/>
<circle cx="1702.7" cy="255.7" r="4.85" fill="#4776ee"/>
<circle cx="1501.5" cy="405.2" r="4.85" fill="#36215f"/>
<circle cx="1649.5" cy="248.5" r="4.85" fill="#4771e9"/>
<circle cx="1662.2" cy="214.0" r="4.85" fill="#4685fa"/>
<circle cx="1541.9" cy="303.8" r="4.85" fill="#3f3e9c"/>
<circle cx="1603.9" cy="356.3" r="4.85" fill="#4661d6"/>
<circle cx="1691.3" cy="241.2" r="4.85" fill="#4661d6"/>
<circle cx="1516.6" cy="318.6" r="4.85" fill="#434eba"/>
<circle cx="1819.1" cy="124.8" r="4.85" fill="#4773eb"/>
<circle cx="1675.6" cy="267.6" r="4.85" fill="#4682f8"/>
<circle cx="1504.9" cy="318.7" r="4.85" fill="#3ff68a"/>
<circle cx="1514.9" cy="404.1" r="4.85" fill="#3f3e9c"/>
<circle cx="1556.3" cy="383.8" r="4.85" fill="#4664da"/>
<circle cx="1647.8" cy="301.1" r="4.85" fill="#4682f8"/>
<circle cx="1708.2" cy="266.2" r="4.85" fill="#3e9bfe"/>
<circle cx="1591.5" cy="348.6" r="4.85" fill="#4669e0"/>
<circle cx="1600.2" cy="262.6" r="4.85" fill="#3f3b97"/>
<circle cx="1581.7" cy="342.2" r="4.85" fill="#4664da"/>
<circle cx="1639.7" cy="309.6" r="4.85" fill="#4680f6"/>
<circle cx="1703.3" cy="180.8" r="4.85" fill="#4294ff"/>
<circle cx="1577.7" cy="361.1" r="4.85" fill="#4773eb"/>
<circle cx="1685.9" cy="183.5" r="4.85" fill="#4669e0"/>
<circle cx="1629.9" cy="316.4" r="4.85" fill="#1fe9af"/>
<circle cx="1540.6" cy="314.5" r="4.85" fill="#4391fe"/>
<circle cx="1658.7" cy="314.7" r="4.85" fill="#4776ee"/>
<circle cx="1541.2" cy="394.3" r="4.85" fill="#4454c3"/>
<circle cx="1677.9" cy="175.1" r="4.85" fill="#4669e0"/>
<circle cx="1547.6" cy="384.7" r="4.85" fill="#455ccf"/>
<circle cx="1627.2" cy="258.2" r="4.85" fill="#3f3b97"/>
<circle cx="1634.7" cy="227.9" r="4.85" fill="#4249b1"/>
<circle cx="1742.3" cy="187.3" r="4.85" fill="#455ed3"/>
<circle cx="1586.2" cy="264.9" r="4.85" fill="#4143a7"/>
<circle cx="1606.4" cy="261.2" r="4.85" fill="#4451bf"/>
<circle cx="1682.8" cy="199.4" r="4.85" fill="#4456c7"/>
<circle cx="1681.8" cy="262.2" r="4.85" fill="#4685fa"/>
<circle cx="1720.0" cy="168.1" r="4.85" fill="#466be3"/>
<circle cx="1827.0" cy="139.6" r="4.85" fill="#466be3"/>
<circle cx="1804.2" cy="158.6" r="4.85" fill="#4669e0"/>
<circle cx="1780.2" cy="146.5" r="4.85" fill="#467df4"/>
<circle cx="1622.9" cy="241.0" r="4.85" fill="#477bf2"/>
<circle cx="1517.2" cy="284.0" r="4.85" fill="#4454c3"/>
<circle cx="1729.2" cy="177.0" r="4.85" fill="#467df4"/>
<circle cx="1833.1" cy="140.1" r="4.85" fill="#4776ee"/>
<circle cx="1731.6" cy="217.1" r="4.85" fill="#4669e0"/>
<circle cx="1607.8" cy="330.3" r="4.85" fill="#4778f0"/>
<circle cx="1584.5" cy="350.2" r="4.85" fill="#3c3286"/>
<circle cx="1585.0" cy="291.5" r="4.85" fill="#4249b1"/>
<circle cx="1748.4" cy="177.9" r="4.85" fill="#4451bf"/>
<circle cx="1679.9" cy="194.5" r="4.85" fill="#4451bf"/>
<circle cx="1564.1" cy="297.8" r="4.85" fill="#4391fe"/>
<circle cx="1777.0" cy="152.0" r="4.85" fill="#434eba"/>
<circle cx="1634.0" cy="239.5" r="4.85" fill="#4249b1"/>
<circle cx="1617.0" cy="320.7" r="4.85" fill="#434eba"/>
<circle cx="1600.2" cy="336.2" r="4.85" fill="#3f3e9c"/>
<circle cx="1617.3" cy="318.9" r="4.85" fill="#4196ff"/>
<circle cx="1824.1" cy="126.3" r="4.85" fill="#455ed3"/>
<circle cx="1586.5" cy="268.8" r="4.85" fill="#4456c7"/>
<circle cx="1497.6" cy="336.5" r="4.85" fill="#424bb5"/>
<circle cx="1581.3" cy="283.6" r="4.85" fill="#458cfd"/>
<circle cx="1651.2" cy="236.0" r="4.85" fill="#455ed3"/>
<circle cx="1595.4" cy="361.9" r="4.85" fill="#1ad2d2"/>
<circle cx="1591.3" cy="362.1" r="4.85" fill="#4773eb"/>
<circle cx="1619.5" cy="258.7" r="4.85" fill="#4249b1"/>
<circle cx="1617.3" cy="274.2" r="4.85" fill="#4249b1"/>
<circle cx="1675.3" cy="203.2" r="4.85" fill="#448ffe"/>
<circle cx="1621.8" cy="263.8" r="4.85" fill="#4771e9"/>
<circle cx="1598.9" cy="278.5" r="4.85" fill="#455ccf"/>
<circle cx="1645.4" cy="232.7" r="4.85" fill="#3f3e9c"/>
<circle cx="1756.1" cy="164.6" r="4.85" fill="#434eba"/>
<circle cx="1643.7" cy="242.9" r="4.85" fill="#455ed3"/>
<circle cx="1682.6" cy="193.1" r="4.85" fill="#448ffe"/>
<circle cx="1583.2" cy="284.4" r="4.85" fill="#4664da"/>
<circle cx="1788.0" cy="147.2" r="4.85" fill="#4666dd"/>
<circle cx="1519.2" cy="403.1" r="4.85" fill="#4146ac"/>
<circle cx="1710.0" cy="201.2" r="4.85" fill="#434eba"/>
<circle cx="1657.1" cy="292.7" r="4.85" fill="#4559cb"/>
<circle cx="1700.6" cy="146.6" r="4.85" fill="#1ad4d0"/>
<circle cx="1535.3" cy="393.2" r="4.85" fill="#424bb5"/>
<circle cx="1617.2" cy="331.7" r="4.85" fill="#476ee6"/>
<circle cx="1624.9" cy="324.5" r="4.85" fill="#2eb4f2"/>
<circle cx="1544.2" cy="240.9" r="4.85" fill="#3ba0fd"/>
<circle cx="1547.6" cy="300.3" r="4.85" fill="#4559cb"/>
<circle cx="1737.8" cy="174.7" r="4.85" fill="#4456c7"/>
<circle cx="1608.0" cy="209.7" r="4.85" fill="#4456c7"/>
<circle cx="1655.1" cy="239.3" r="4.85" fill="#4451bf"/>
<circle cx="1762.5" cy="168.9" r="4.85" fill="#4666dd"/>
<circle cx="1631.9" cy="230.4" r="4.85" fill="#4666dd"/>
<circle cx="1659.9" cy="196.3" r="4.85" fill="#4451bf"/>
<circle cx="1691.2" cy="201.3" r="4.85" fill="#4669e0"/>
<circle cx="1680.5" cy="248.1" r="4.85" fill="#4456c7"/>
<circle cx="1760.0" cy="153.2" r="4.85" fill="#455ed3"/>
<circle cx="1668.7" cy="214.6" r="4.85" fill="#424bb5"/>
<circle cx="1748.2" cy="135.3" r="4.85" fill="#25c0e7"/>
<circle cx="1582.4" cy="367.1" r="4.85" fill="#4687fb"/>
<circle cx="1519.8" cy="307.8" r="4.85" fill="#434eba"/>
<circle cx="1555.6" cy="289.6" r="4.85" fill="#4249b1"/>
<circle cx="1768.5" cy="170.5" r="4.85" fill="#4456c7"/>
<circle cx="1824.8" cy="165.5" r="4.85" fill="#458afc"/>
<circle cx="1674.1" cy="203.6" r="4.85" fill="#4773eb"/>
<circle cx="1682.6" cy="266.7" r="4.85" fill="#4196ff"/>
<circle cx="1521.0" cy="274.2" r="4.85" fill="#455ed3"/>
<circle cx="1682.4" cy="233.2" r="4.85" fill="#4456c7"/>
<circle cx="1735.6" cy="192.4" r="4.85" fill="#4146ac"/>
<circle cx="1613.8" cy="256.0" r="4.85" fill="#3c3286"/>
<circle cx="1501.1" cy="305.1" r="4.85" fill="#4776ee"/>
<circle cx="1638.2" cy="248.2" r="4.85" fill="#4661d6"/>
<circle cx="1652.8" cy="213.1" r="4.85" fill="#2cb7f0"/>
<circle cx="1594.9" cy="363.3" r="4.85" fill="#4099ff"/>
<circle cx="1659.0" cy="230.6" r="4.85" fill="#4040a2"/>
<circle cx="1729.6" cy="180.3" r="4.85" fill="#4454c3"/>
<circle cx="1720.6" cy="208.9" r="4.85" fill="#4778f0"/>
<circle cx="1529.0" cy="315.0" r="4.85" fill="#3d358b"/>
<circle cx="1664.1" cy="300.3" r="4.85" fill="#4661d6"/>
<circle cx="1638.3" cy="253.6" r="4.85" fill="#3f3e9c"/>
<circle cx="1691.2" cy="274.7" r="4.85" fill="#4666dd"/>
<circle cx="1630.5" cy="247.7" r="4.85" fill="#3d9efe"/>
<circle cx="1804.5" cy="160.9" r="4.85" fill="#455ccf"/>
<circle cx="1694.6" cy="191.8" r="4.85" fill="#4456c7"/>
<circle cx="1532.9" cy="315.3" r="4.85" fill="#4040a2"/>
<circle cx="1632.5" cy="237.7" r="4.85" fill="#4456c7"/>
<circle cx="1604.7" cy="264.3" r="4.85" fill="#424bb5"/>
<circle cx="1596.6" cy="233.3" r="4.85" fill="#20c7df"/>
<circle cx="1690.7" cy="253.1" r="4.85" fill="#31aff5"/>
<circle cx="1787.8" cy="155.6" r="4.85" fill="#4661d6"/>
<circle cx="1623.4" cy="313.2" r="4.85" fill="#4773eb"/>
<circle cx="1610.5" cy="250.0" r="4.85" fill="#4687fb"/>
<circle cx="1524.7" cy="209.7" r="4.85" fill="#1ecbda"/>
<circle cx="1593.1" cy="179.6" r="4.85" fill="#4666dd"/>
<circle cx="1558.3" cy="307.7" r="4.85" fill="#3e3891"/>
<circle cx="1572.6" cy="369.4" r="4.85" fill="#3ba0fd"/>
<circle cx="1589.2" cy="253.5" r="4.85" fill="#4682f8"/>
<circle cx="1571.4" cy="375.7" r="4.85" fill="#466be3"/>
<circle cx="1544.2" cy="267.9" r="4.85" fill="#4146ac"/>
<circle cx="1678.8" cy="185.6" r="4.85" fill="#467df4"/>
<circle cx="1665.6" cy="320.8" r="4.85" fill="#4776ee"/>
<circle cx="1549.4" cy="322.3" r="4.85" fill="#424bb5"/>
<circle cx="1624.1" cy="320.7" r="4.85" fill="#4456c7"/>
<circle cx="1583.1" cy="191.8" r="4.85" fill="#4666dd"/>
<circle cx="1593.1" cy="191.1" r="4.85" fill="#1ecbda"/>
<circle cx="1724.0" cy="196.4" r="4.85" fill="#4664da"/>
<circle cx="1607.3" cy="274.9" r="4.85" fill="#4143a7"/>
<circle cx="1495.9" cy="329.2" r="4.85" fill="#4664da"/>
<circle cx="1601.1" cy="328.1" r="4.85" fill="#4771e9"/>
<circle cx="1666.7" cy="223.3" r="4.85" fill="#455ccf"/>
<circle cx="1511.9" cy="309.4" r="4.85" fill="#3d9efe"/>
<circle cx="1517.3" cy="308.7" r="4.85" fill="#4661d6"/>
<circle cx="1633.5" cy="222.9" r="4.85" fill="#4391fe"/>
<circle cx="1633.7" cy="225.0" r="4.85" fill="#424bb5"/>
<circle cx="1680.3" cy="262.0" r="4.85" fill="#4456c7"/>
<circle cx="1548.1" cy="383.2" r="4.85" fill="#3a2d79"/>
<circle cx="1586.1" cy="284.5" r="4.85" fill="#4664da"/>
<circle cx="1655.8" cy="247.3" r="4.85" fill="#4040a2"/>
<circle cx="1616.8" cy="194.1" r="4.85" fill="#3e9bfe"/>
<circle cx="1585.3" cy="337.5" r="4.85" fill="#424bb5"/>
<circle cx="1587.0" cy="212.7" r="4.85" fill="#3e9bfe"/>
<circle cx="1585.0" cy="219.6" r="4.85" fill="#3e9bfe"/>
<circle cx="1504.2" cy="311.6" r="4.85" fill="#4669e0"/>
<circle cx="1626.3" cy="253.5" r="4.85" fill="#3f3b97"/>
<circle cx="1678.0" cy="210.6" r="4.85" fill="#455ccf"/>
<circle cx="1648.4" cy="207.1" r="4.85" fill="#455ccf"/>
<circle cx="1690.9" cy="249.1" r="4.85" fill="#4249b1"/>
<circle cx="1601.7" cy="323.3" r="4.85" fill="#424bb5"/>
<circle cx="1627.2" cy="230.2" r="4.85" fill="#4146ac"/>
<circle cx="1551.4" cy="304.1" r="4.85" fill="#434eba"/>
<circle cx="1691.4" cy="194.1" r="4.85" fill="#434eba"/>
<circle cx="1571.3" cy="361.2" r="4.85" fill="#455ccf"/>
<circle cx="1651.9" cy="184.9" r="4.85" fill="#1de7b2"/>
<circle cx="1669.0" cy="181.9" r="4.85" fill="#1ecbda"/>
<circle cx="1519.9" cy="320.1" r="4.85" fill="#466be3"/>
<circle cx="1562.5" cy="322.0" r="4.85" fill="#4451bf"/>
<circle cx="1577.0" cy="355.9" r="4.85" fill="#3f3e9c"/>
<circle cx="1696.3" cy="137.7" r="4.85" fill="#18d7ca"/>
<circle cx="1639.5" cy="198.3" r="4.85" fill="#1de7b2"/>
<circle cx="1547.1" cy="316.9" r="4.85" fill="#4249b1"/>
<circle cx="1650.5" cy="202.3" r="4.85" fill="#1de7b2"/>
<circle cx="1570.2" cy="273.5" r="4.85" fill="#3f3b97"/>
<circle cx="1738.6" cy="140.2" r="4.85" fill="#4666dd"/>
<circle cx="1655.7" cy="267.1" r="4.85" fill="#4454c3"/>
<circle cx="1712.7" cy="206.3" r="4.85" fill="#476ee6"/>
<circle cx="1813.1" cy="128.4" r="4.85" fill="#3e9bfe"/>
<circle cx="1659.8" cy="258.8" r="4.85" fill="#455ed3"/>
<circle cx="1520.7" cy="267.7" r="4.85" fill="#a1fd3d"/>
<circle cx="1542.5" cy="386.9" r="4.85" fill="#476ee6"/>
<circle cx="1690.1" cy="206.1" r="4.85" fill="#4661d6"/>
<circle cx="1661.7" cy="215.8" r="4.85" fill="#1fc9dd"/>
<circle cx="1497.7" cy="327.2" r="4.85" fill="#466be3"/>
<circle cx="1731.8" cy="148.0" r="4.85" fill="#455ed3"/>
<circle cx="1621.3" cy="274.5" r="4.85" fill="#3b2f80"/>
<circle cx="1672.8" cy="318.2" r="4.85" fill="#3f3b97"/>
<circle cx="1659.4" cy="269.1" r="4.85" fill="#4559cb"/>
<circle cx="1833.8" cy="140.7" r="4.85" fill="#1de7b2"/>
<circle cx="1560.0" cy="372.8" r="4.85" fill="#3f3e9c"/>
<circle cx="1769.1" cy="164.5" r="4.85" fill="#4454c3"/>
<circle cx="1672.8" cy="247.6" r="4.85" fill="#4451bf"/>
<circle cx="1809.9" cy="161.5" r="4.85" fill="#3e9bfe"/>
<circle cx="1727.3" cy="178.2" r="4.85" fill="#4456c7"/>
<circle cx="1627.0" cy="225.9" r="4.85" fill="#2cb7f0"/>
<circle cx="1654.1" cy="249.0" r="4.85" fill="#3d358b"/>
<circle cx="1523.8" cy="336.0" r="4.85" fill="#476ee6"/>
<circle cx="1693.3" cy="143.6" r="4.85" fill="#69fd66"/>
<circle cx="1811.1" cy="136.5" r="4.85" fill="#19e2bb"/>
<circle cx="1658.4" cy="234.0" r="4.85" fill="#4451bf"/>
<circle cx="1628.2" cy="235.1" r="4.85" fill="#4661d6"/>
<circle cx="1726.2" cy="216.7" r="4.85" fill="#4666dd"/>
<circle cx="1779.8" cy="160.7" r="4.85" fill="#4456c7"/>
<circle cx="1672.6" cy="218.1" r="4.85" fill="#4559cb"/>
<circle cx="1821.0" cy="146.9" r="4.85" fill="#455ccf"/>
<circle cx="1787.6" cy="133.4" r="4.85" fill="#31aff5"/>
<circle cx="1637.2" cy="294.4" r="4.85" fill="#4778f0"/>
<circle cx="1663.4" cy="268.5" r="4.85" fill="#3e3891"/>
<circle cx="1573.4" cy="292.9" r="4.85" fill="#4456c7"/>
<circle cx="1785.3" cy="184.0" r="4.85" fill="#a4fc3c"/>
<circle cx="1615.9" cy="263.3" r="4.85" fill="#4664da"/>
<circle cx="1724.6" cy="194.8" r="4.85" fill="#4146ac"/>
<circle cx="1731.0" cy="185.5" r="4.85" fill="#424bb5"/>
<circle cx="1649.1" cy="216.3" r="4.85" fill="#467df4"/>
<circle cx="1588.5" cy="249.2" r="4.85" fill="#4146ac"/>
<circle cx="1668.9" cy="263.1" r="4.85" fill="#424bb5"/>
<circle cx="1649.7" cy="273.4" r="4.85" fill="#4040a2"/>
<circle cx="1607.6" cy="280.0" r="4.85" fill="#4249b1"/>
<circle cx="1786.2" cy="215.9" r="4.85" fill="#1ecbda"/>
<circle cx="1631.0" cy="301.5" r="4.85" fill="#4664da"/>
<circle cx="1584.3" cy="365.2" r="4.85" fill="#4664da"/>
<circle cx="1515.7" cy="398.9" r="4.85" fill="#3e3891"/>
<circle cx="1789.9" cy="156.4" r="4.85" fill="#4680f6"/>
<circle cx="1679.3" cy="211.1" r="4.85" fill="#4661d6"/>
<circle cx="1700.6" cy="216.4" r="4.85" fill="#424bb5"/>
<circle cx="1821.9" cy="292.1" r="4.85" fill="#1ecbda"/>
<circle cx="1587.7" cy="297.5" r="4.85" fill="#3b2f80"/>
<circle cx="1703.4" cy="214.0" r="4.85" fill="#455ed3"/>
<circle cx="1788.2" cy="372.6" r="4.85" fill="#4666dd"/>
<circle cx="1743.5" cy="159.5" r="4.85" fill="#4669e0"/>
<circle cx="1697.9" cy="211.9" r="4.85" fill="#4249b1"/>
<circle cx="1557.2" cy="283.1" r="4.85" fill="#4661d6"/>
<circle cx="1510.7" cy="325.3" r="4.85" fill="#455ed3"/>
<circle cx="1513.8" cy="325.6" r="4.85" fill="#3b2f80"/>
<circle cx="1621.0" cy="266.1" r="4.85" fill="#4778f0"/>
<circle cx="1737.4" cy="175.8" r="4.85" fill="#434eba"/>
<circle cx="1615.2" cy="333.0" r="4.85" fill="#31aff5"/>
<circle cx="1547.6" cy="315.1" r="4.85" fill="#4669e0"/>
<circle cx="1626.3" cy="237.3" r="4.85" fill="#4771e9"/>
<circle cx="1594.1" cy="319.2" r="4.85" fill="#455ccf"/>
<circle cx="1678.5" cy="254.4" r="4.85" fill="#455ccf"/>
<circle cx="1741.1" cy="143.0" r="4.85" fill="#4391fe"/>
<circle cx="1561.9" cy="308.1" r="4.85" fill="#424bb5"/>
<circle cx="1631.9" cy="243.5" r="4.85" fill="#466be3"/>
<circle cx="1604.8" cy="314.1" r="4.85" fill="#434eba"/>
<circle cx="1585.8" cy="334.6" r="4.85" fill="#455ed3"/>
<circle cx="1583.0" cy="361.9" r="4.85" fill="#4559cb"/>
<circle cx="1685.9" cy="279.0" r="4.85" fill="#476ee6"/>
<circle cx="1682.6" cy="254.2" r="4.85" fill="#4559cb"/>
<circle cx="1695.5" cy="248.8" r="4.85" fill="#3d9efe"/>
<circle cx="1660.2" cy="376.6" r="4.85" fill="#4666dd"/>
<circle cx="1605.7" cy="311.1" r="4.85" fill="#434eba"/>
<circle cx="1568.3" cy="319.3" r="4.85" fill="#3f3b97"/>
<circle cx="1646.4" cy="317.9" r="4.85" fill="#27bee9"/>
<circle cx="1559.5" cy="329.9" r="4.85" fill="#455ed3"/>
<circle cx="1687.7" cy="191.5" r="4.85" fill="#4456c7"/>
<circle cx="1573.6" cy="290.6" r="4.85" fill="#424bb5"/>
<circle cx="1614.7" cy="356.1" r="4.85" fill="#2eb4f2"/>
<circle cx="1514.9" cy="335.4" r="4.85" fill="#3a2d79"/>
<circle cx="1665.1" cy="232.6" r="4.85" fill="#424bb5"/>
<circle cx="1549.5" cy="301.1" r="4.85" fill="#3d358b"/>
<circle cx="1584.4" cy="362.0" r="4.85" fill="#467df4"/>
<circle cx="1588.0" cy="291.2" r="4.85" fill="#4776ee"/>
<circle cx="1496.2" cy="352.6" r="4.85" fill="#3f3e9c"/>
<circle cx="1682.9" cy="244.1" r="4.85" fill="#477bf2"/>
<circle cx="1564.3" cy="394.2" r="4.85" fill="#3f3e9c"/>
<circle cx="1777.5" cy="158.4" r="4.85" fill="#455ccf"/>
<circle cx="1704.4" cy="223.9" r="4.85" fill="#4661d6"/>
<circle cx="1702.7" cy="210.0" r="4.85" fill="#434eba"/>
<circle cx="1818.5" cy="134.7" r="4.85" fill="#455ed3"/>
<circle cx="1631.3" cy="297.4" r="4.85" fill="#424bb5"/>
<circle cx="1663.8" cy="255.1" r="4.85" fill="#4146ac"/>
<circle cx="1688.7" cy="241.1" r="4.85" fill="#3f3e9c"/>
<circle cx="1704.1" cy="196.7" r="4.85" fill="#4249b1"/>
<circle cx="1551.4" cy="307.6" r="4.85" fill="#4778f0"/>
<circle cx="1749.6" cy="246.5" r="4.85" fill="#d83706"/>
<circle cx="1590.3" cy="303.1" r="4.85" fill="#4040a2"/>
<circle cx="1596.4" cy="278.0" r="4.85" fill="#466be3"/>
<circle cx="1674.2" cy="260.5" r="4.85" fill="#4249b1"/>
<circle cx="1497.2" cy="355.4" r="4.85" fill="#4776ee"/>
<circle cx="1770.3" cy="224.8" r="4.85" fill="#4685fa"/>
<circle cx="1645.5" cy="207.9" r="4.85" fill="#4249b1"/>
<circle cx="1629.9" cy="312.3" r="4.85" fill="#4685fa"/>
<circle cx="1610.4" cy="271.0" r="4.85" fill="#4687fb"/>
<circle cx="1727.6" cy="269.9" r="4.85" fill="#f05b12"/>
<circle cx="1527.1" cy="329.2" r="4.85" fill="#434eba"/>
<circle cx="1609.0" cy="343.0" r="4.85" fill="#4669e0"/>
<circle cx="1663.8" cy="226.5" r="4.85" fill="#434eba"/>
<circle cx="1650.2" cy="262.6" r="4.85" fill="#4559cb"/>
<circle cx="1535.7" cy="323.5" r="4.85" fill="#466be3"/>
<circle cx="1564.9" cy="296.5" r="4.85" fill="#458cfd"/>
<circle cx="1558.7" cy="333.6" r="4.85" fill="#3c3286"/>
<circle cx="1574.1" cy="285.6" r="4.85" fill="#3ba0fd"/>
<circle cx="1633.1" cy="286.8" r="4.85" fill="#3e3891"/>
<circle cx="1629.3" cy="277.5" r="4.85" fill="#3e3891"/>
<circle cx="1691.6" cy="190.7" r="4.85" fill="#455ed3"/>
<circle cx="1719.1" cy="191.7" r="4.85" fill="#4249b1"/>
<circle cx="1523.6" cy="392.9" r="4.85" fill="#3d358b"/>
<circle cx="1592.2" cy="327.7" r="4.85" fill="#4778f0"/>
<circle cx="1740.1" cy="265.2" r="4.85" fill="#f05b12"/>
<circle cx="1512.8" cy="357.8" r="4.85" fill="#38276d"/>
<circle cx="1572.0" cy="374.5" r="4.85" fill="#424bb5"/>
<circle cx="1609.6" cy="280.0" r="4.85" fill="#4146ac"/>
<circle cx="1624.4" cy="289.6" r="4.85" fill="#4451bf"/>
<circle cx="1590.4" cy="335.1" r="4.85" fill="#4249b1"/>
<circle cx="1644.5" cy="213.0" r="4.85" fill="#4771e9"/>
<circle cx="1698.2" cy="178.6" r="4.85" fill="#4666dd"/>
<circle cx="1650.5" cy="238.1" r="4.85" fill="#3f3b97"/>
<circle cx="1603.8" cy="305.8" r="4.85" fill="#3d358b"/>
<circle cx="1525.4" cy="346.9" r="4.85" fill="#392a73"/>
<circle cx="1542.8" cy="374.0" r="4.85" fill="#3a2d79"/>
<circle cx="1625.4" cy="295.9" r="4.85" fill="#3f3e9c"/>
<circle cx="1751.6" cy="268.7" r="4.85" fill="#d83706"/>
<circle cx="1793.3" cy="147.2" r="4.85" fill="#4669e0"/>
<circle cx="1511.3" cy="332.4" r="4.85" fill="#4294ff"/>
<circle cx="1534.0" cy="314.3" r="4.85" fill="#3c3286"/>
<circle cx="1527.3" cy="390.2" r="4.85" fill="#4040a2"/>
<circle cx="1758.4" cy="177.3" r="4.85" fill="#476ee6"/>
<circle cx="1535.0" cy="374.5" r="4.85" fill="#351e58"/>
<circle cx="1596.7" cy="299.6" r="4.85" fill="#3a2d79"/>
<circle cx="1695.1" cy="220.3" r="4.85" fill="#4146ac"/>
<circle cx="1830.1" cy="125.6" r="4.85" fill="#455ccf"/>
<circle cx="1771.6" cy="271.2" r="4.85" fill="#d83706"/>
<circle cx="1615.4" cy="233.0" r="4.85" fill="#467df4"/>
<circle cx="1567.5" cy="281.9" r="4.85" fill="#3d358b"/>
<circle cx="1574.3" cy="348.2" r="4.85" fill="#4661d6"/>
<circle cx="1646.8" cy="283.2" r="4.85" fill="#4143a7"/>
<circle cx="1642.2" cy="247.9" r="4.85" fill="#424bb5"/>
<circle cx="1750.3" cy="174.9" r="4.85" fill="#455ed3"/>
<circle cx="1740.6" cy="290.5" r="4.85" fill="#a4fc3c"/>
<circle cx="1619.0" cy="279.0" r="4.85" fill="#4146ac"/>
<circle cx="1619.9" cy="302.2" r="4.85" fill="#35abf8"/>
<circle cx="1567.6" cy="299.9" r="4.85" fill="#4454c3"/>
<circle cx="1594.7" cy="307.3" r="4.85" fill="#3e3891"/>
<circle cx="1519.2" cy="340.5" r="4.85" fill="#4776ee"/>
<circle cx="1545.5" cy="330.4" r="4.85" fill="#4040a2"/>
<circle cx="1574.9" cy="350.7" r="4.85" fill="#4451bf"/>
<circle cx="1554.5" cy="313.2" r="4.85" fill="#4682f8"/>
<circle cx="1520.6" cy="326.8" r="4.85" fill="#36215f"/>
<circle cx="1696.0" cy="231.5" r="4.85" fill="#4682f8"/>
<circle cx="1691.5" cy="230.6" r="4.85" fill="#466be3"/>
<circle cx="1597.8" cy="265.8" r="4.85" fill="#4664da"/>
<circle cx="1553.1" cy="357.9" r="4.85" fill="#38276d"/>
<circle cx="1591.9" cy="332.9" r="4.85" fill="#4680f6"/>
<circle cx="1590.9" cy="308.6" r="4.85" fill="#3e3891"/>
<circle cx="1592.3" cy="291.4" r="4.85" fill="#4249b1"/>
<circle cx="1526.9" cy="350.8" r="4.85" fill="#434eba"/>
<circle cx="1525.7" cy="329.7" r="4.85" fill="#424bb5"/>
<circle cx="1599.5" cy="242.9" r="4.85" fill="#4664da"/>
<circle cx="1554.6" cy="377.3" r="4.85" fill="#4661d6"/>
<circle cx="1599.5" cy="301.8" r="4.85" fill="#3b2f80"/>
<circle cx="1657.4" cy="284.2" r="4.85" fill="#4776ee"/>
<circle cx="1560.4" cy="312.5" r="4.85" fill="#455ed3"/>
<circle cx="1685.3" cy="222.7" r="4.85" fill="#3f3b97"/>
<circle cx="1567.8" cy="369.9" r="4.85" fill="#448ffe"/>
<circle cx="1704.5" cy="227.3" r="4.85" fill="#4454c3"/>
<circle cx="1666.3" cy="226.9" r="4.85" fill="#4451bf"/>
<circle cx="1688.1" cy="231.6" r="4.85" fill="#434eba"/>
<circle cx="1599.3" cy="334.2" r="4.85" fill="#4451bf"/>
<circle cx="1811.7" cy="126.7" r="4.85" fill="#4682f8"/>
<circle cx="1558.6" cy="364.7" r="4.85" fill="#4249b1"/>
<circle cx="1659.8" cy="236.1" r="4.85" fill="#434eba"/>
<circle cx="1636.0" cy="274.3" r="4.85" fill="#4040a2"/>
<circle cx="1754.0" cy="177.6" r="4.85" fill="#434eba"/>
<circle cx="1686.5" cy="241.1" r="4.85" fill="#4773eb"/>
<circle cx="1788.4" cy="145.5" r="4.85" fill="#4456c7"/>
<circle cx="1550.2" cy="361.9" r="4.85" fill="#3f3b97"/>
<circle cx="1626.8" cy="273.5" r="4.85" fill="#4146ac"/>
<circle cx="1510.6" cy="351.7" r="4.85" fill="#4661d6"/>
<circle cx="1534.7" cy="389.1" r="4.85" fill="#4143a7"/>
<circle cx="1620.1" cy="291.7" r="4.85" fill="#3b2f80"/>
<circle cx="1531.7" cy="380.8" r="4.85" fill="#3b2f80"/>
<circle cx="1674.9" cy="220.2" r="4.85" fill="#4143a7"/>
<circle cx="1740.3" cy="184.3" r="4.85" fill="#4146ac"/>
<circle cx="1543.9" cy="315.5" r="4.85" fill="#28bceb"/>
<circle cx="1743.8" cy="149.1" r="4.85" fill="#448ffe"/>
<circle cx="1499.1" cy="326.5" r="4.85" fill="#4143a7"/>
<circle cx="1679.0" cy="256.2" r="4.85" fill="#4680f6"/>
<circle cx="1635.5" cy="256.7" r="4.85" fill="#3c3286"/>
<circle cx="1549.4" cy="373.9" r="4.85" fill="#424bb5"/>
<circle cx="1701.8" cy="270.9" r="4.85" fill="#467df4"/>
<circle cx="1747.7" cy="141.8" r="4.85" fill="#4666dd"/>
<circle cx="1515.8" cy="361.3" r="4.85" fill="#351e58"/>
<circle cx="1535.1" cy="368.9" r="4.85" fill="#38276d"/>
<circle cx="1770.6" cy="165.1" r="4.85" fill="#455ccf"/>
<circle cx="1660.5" cy="241.2" r="4.85" fill="#3f3b97"/>
<circle cx="1519.5" cy="397.7" r="4.85" fill="#3c3286"/>
<circle cx="1517.0" cy="354.5" r="4.85" fill="#3a2d79"/>
<circle cx="1531.5" cy="391.8" r="4.85" fill="#372466"/>
<circle cx="1503.5" cy="354.0" r="4.85" fill="#38276d"/>
<circle cx="1832.5" cy="152.1" r="4.85" fill="#4773eb"/>
<circle cx="1668.3" cy="247.8" r="4.85" fill="#434eba"/>
<circle cx="1611.8" cy="313.4" r="4.85" fill="#4143a7"/>
<circle cx="1569.0" cy="346.8" r="4.85" fill="#3f3e9c"/>
<circle cx="1741.2" cy="163.6" r="4.85" fill="#2cb7f0"/>
<circle cx="1650.3" cy="251.5" r="4.85" fill="#4249b1"/>
<circle cx="1739.6" cy="240.0" r="4.85" fill="#59fb73"/>
<circle cx="1531.7" cy="351.8" r="4.85" fill="#372466"/>
<circle cx="1596.8" cy="280.5" r="4.85" fill="#424bb5"/>
<circle cx="1695.2" cy="208.8" r="4.85" fill="#4143a7"/>
<circle cx="1528.7" cy="337.3" r="4.85" fill="#448ffe"/>
<circle cx="1544.7" cy="339.7" r="4.85" fill="#455ccf"/>
<circle cx="1566.4" cy="331.2" r="4.85" fill="#3a2d79"/>
<circle cx="1620.9" cy="286.2" r="4.85" fill="#4454c3"/>
<circle cx="1645.2" cy="285.3" r="4.85" fill="#4456c7"/>
<circle cx="1520.8" cy="346.2" r="4.85" fill="#4454c3"/>
<circle cx="1609.7" cy="283.7" r="4.85" fill="#4249b1"/>
<circle cx="1669.1" cy="243.7" r="4.85" fill="#4146ac"/>
<circle cx="1599.1" cy="307.7" r="4.85" fill="#424bb5"/>
<circle cx="1559.1" cy="320.2" r="4.85" fill="#38276d"/>
<circle cx="1514.0" cy="339.9" r="4.85" fill="#4451bf"/>
<circle cx="1626.9" cy="221.1" r="4.85" fill="#4778f0"/>
<circle cx="1497.4" cy="320.6" r="4.85" fill="#3e3891"/>
<circle cx="1755.5" cy="240.4" r="4.85" fill="#1ecbda"/>
<circle cx="1530.3" cy="377.1" r="4.85" fill="#3e3891"/>
<circle cx="1543.6" cy="347.8" r="4.85" fill="#392a73"/>
<circle cx="1678.9" cy="236.6" r="4.85" fill="#4456c7"/>
<circle cx="1641.1" cy="287.9" r="4.85" fill="#4456c7"/>
<circle cx="1686.0" cy="214.0" r="4.85" fill="#3f3e9c"/>
<circle cx="1513.0" cy="348.2" r="4.85" fill="#351e58"/>
<circle cx="1633.6" cy="309.8" r="4.85" fill="#2fb2f4"/>
<circle cx="1572.6" cy="309.5" r="4.85" fill="#3f3b97"/>
<circle cx="1655.8" cy="264.8" r="4.85" fill="#4143a7"/>
<circle cx="1661.0" cy="323.1" r="4.85" fill="#3ba0fd"/>
<circle cx="1675.4" cy="244.2" r="4.85" fill="#4669e0"/>
<circle cx="1518.8" cy="341.6" r="4.85" fill="#38276d"/>
<circle cx="1573.5" cy="306.0" r="4.85" fill="#3e3891"/>
<circle cx="1515.1" cy="376.7" r="4.85" fill="#33184a"/>
<circle cx="1506.1" cy="327.7" r="4.85" fill="#38276d"/>
<circle cx="1668.8" cy="257.2" r="4.85" fill="#4680f6"/>
<circle cx="1665.7" cy="239.4" r="4.85" fill="#4040a2"/>
<circle cx="1633.3" cy="342.7" r="4.85" fill="#22c5e2"/>
<circle cx="1693.5" cy="204.1" r="4.85" fill="#4146ac"/>
<circle cx="1495.7" cy="405.0" r="4.85" fill="#351e58"/>
<circle cx="1581.2" cy="357.4" r="4.85" fill="#4454c3"/>
<circle cx="1605.8" cy="295.5" r="4.85" fill="#3d358b"/>
<circle cx="1585.7" cy="315.7" r="4.85" fill="#3c3286"/>
<circle cx="1538.5" cy="353.0" r="4.85" fill="#392a73"/>
<circle cx="1647.0" cy="253.2" r="4.85" fill="#424bb5"/>
<circle cx="1619.6" cy="283.3" r="4.85" fill="#3f3e9c"/>
<circle cx="1689.1" cy="224.2" r="4.85" fill="#4771e9"/>
<circle cx="1671.0" cy="232.3" r="4.85" fill="#4559cb"/>
<circle cx="1533.2" cy="346.8" r="4.85" fill="#3a2d79"/>
<circle cx="1539.0" cy="384.9" r="4.85" fill="#4249b1"/>
<circle cx="1576.3" cy="321.0" r="4.85" fill="#392a73"/>
<circle cx="1585.3" cy="302.9" r="4.85" fill="#4146ac"/>
<circle cx="1514.6" cy="311.1" r="4.85" fill="#4661d6"/>
<circle cx="1575.4" cy="335.0" r="4.85" fill="#434eba"/>
<circle cx="1587.3" cy="329.3" r="4.85" fill="#4040a2"/>
<circle cx="1587.5" cy="322.3" r="4.85" fill="#3c3286"/>
<circle cx="1617.2" cy="302.1" r="4.85" fill="#455ed3"/>
<circle cx="1623.7" cy="241.9" r="4.85" fill="#4687fb"/>
<circle cx="1641.0" cy="270.0" r="4.85" fill="#3b2f80"/>
<circle cx="1672.8" cy="244.1" r="4.85" fill="#4143a7"/>
<circle cx="1606.0" cy="299.8" r="4.85" fill="#392a73"/>
<circle cx="1613.1" cy="289.6" r="4.85" fill="#3d358b"/>
<circle cx="1600.2" cy="302.6" r="4.85" fill="#3c3286"/>
<circle cx="1495.9" cy="358.3" r="4.85" fill="#3f3e9c"/>
<circle cx="1495.0" cy="365.0" r="4.85" fill="#3d358b"/>
<circle cx="1566.9" cy="354.2" r="4.85" fill="#4451bf"/>
<circle cx="1495.0" cy="389.0" r="4.85" fill="#341b51"/>
<circle cx="1580.4" cy="258.3" r="4.85" fill="#d83706"/>
<circle cx="1558.1" cy="382.6" r="4.85" fill="#4682f8"/>
<circle cx="1546.3" cy="325.6" r="4.85" fill="#476ee6"/>
<circle cx="1542.8" cy="303.0" r="4.85" fill="#a11201"/>
<circle cx="1659.7" cy="248.8" r="4.85" fill="#3f3b97"/>
<circle cx="1563.5" cy="365.7" r="4.85" fill="#3f3b97"/>
<circle cx="1699.1" cy="225.5" r="4.85" fill="#4249b1"/>
<circle cx="1621.7" cy="306.9" r="4.85" fill="#4661d6"/>
<circle cx="1615.4" cy="267.5" r="4.85" fill="#4778f0"/>
<circle cx="1667.1" cy="143.5" r="4.85" fill="#4669e0"/>
<circle cx="1612.3" cy="305.6" r="4.85" fill="#4146ac"/>
<circle cx="1495.4" cy="378.5" r="4.85" fill="#4146ac"/>
<circle cx="1653.7" cy="260.6" r="4.85" fill="#4451bf"/>
<circle cx="1579.7" cy="307.5" r="4.85" fill="#3e3891"/>
<circle cx="1542.5" cy="362.5" r="4.85" fill="#3d358b"/>
<circle cx="1614.6" cy="316.7" r="4.85" fill="#4661d6"/>
<circle cx="1522.3" cy="320.9" r="4.85" fill="#476ee6"/>
<circle cx="1503.4" cy="393.5" r="4.85" fill="#33184a"/>
<circle cx="1503.1" cy="359.1" r="4.85" fill="#33184a"/>
<circle cx="1622.0" cy="319.6" r="4.85" fill="#455ccf"/>
<circle cx="1637.3" cy="256.9" r="4.85" fill="#3f3e9c"/>
<circle cx="1684.7" cy="273.0" r="4.85" fill="#4391fe"/>
<circle cx="1636.1" cy="315.3" r="4.85" fill="#4099ff"/>
<circle cx="1504.7" cy="287.9" r="4.85" fill="#fe962b"/>
<circle cx="1495.9" cy="303.9" r="4.85" fill="#1ecbda"/>
<circle cx="1528.0" cy="378.2" r="4.85" fill="#36215f"/>
<circle cx="1652.6" cy="252.5" r="4.85" fill="#3f3b97"/>
<circle cx="1593.9" cy="309.7" r="4.85" fill="#3e3891"/>
<circle cx="1542.8" cy="323.3" r="4.85" fill="#3f3e9c"/>
<circle cx="1507.6" cy="404.6" r="4.85" fill="#3b2f80"/>
<circle cx="1606.9" cy="327.0" r="4.85" fill="#4146ac"/>
<circle cx="1526.9" cy="261.5" r="4.85" fill="#3e9bfe"/>
<circle cx="1599.9" cy="324.2" r="4.85" fill="#424bb5"/>
<circle cx="1500.9" cy="319.5" r="4.85" fill="#3b2f80"/>
<circle cx="1534.8" cy="366.4" r="4.85" fill="#351e58"/>
<circle cx="1614.6" cy="286.8" r="4.85" fill="#3c3286"/>
<circle cx="1542.5" cy="265.2" r="4.85" fill="#3e9bfe"/>
<circle cx="1677.6" cy="234.3" r="4.85" fill="#424bb5"/>
<circle cx="1670.2" cy="279.3" r="4.85" fill="#3aa3fc"/>
<circle cx="1529.7" cy="384.9" r="4.85" fill="#3a2d79"/>
<circle cx="1543.0" cy="367.6" r="4.85" fill="#3d358b"/>
<circle cx="1631.2" cy="215.6" r="4.85" fill="#424bb5"/>
<circle cx="1508.4" cy="394.3" r="4.85" fill="#30123b"/>
<circle cx="1556.8" cy="337.5" r="4.85" fill="#3f3b97"/>
<circle cx="1504.2" cy="366.1" r="4.85" fill="#3a2d79"/>
<circle cx="1563.0" cy="309.1" r="4.85" fill="#4143a7"/>
<circle cx="1551.6" cy="370.9" r="4.85" fill="#4776ee"/>
<circle cx="1723.7" cy="313.8" r="4.85" fill="#1ecbda"/>
<circle cx="1567.4" cy="371.9" r="4.85" fill="#3c3286"/>
<circle cx="1495.9" cy="381.5" r="4.85" fill="#36215f"/>
<circle cx="1515.7" cy="351.8" r="4.85" fill="#392a73"/>
<circle cx="1586.9" cy="311.0" r="4.85" fill="#3b2f80"/>
<circle cx="1501.0" cy="315.1" r="4.85" fill="#65fd69"/>
<circle cx="1498.4" cy="396.6" r="4.85" fill="#33184a"/>
<circle cx="1500.2" cy="338.3" r="4.85" fill="#3f3b97"/>
<circle cx="1743.3" cy="177.5" r="4.85" fill="#4559cb"/>
<circle cx="1563.2" cy="338.2" r="4.85" fill="#38276d"/>
<circle cx="1579.2" cy="330.7" r="4.85" fill="#3f3e9c"/>
<circle cx="1530.3" cy="357.0" r="4.85" fill="#3c3286"/>
<circle cx="1731.8" cy="319.6" r="4.85" fill="#3f3e9c"/>
<circle cx="1746.7" cy="317.8" r="4.85" fill="#3e9bfe"/>
<circle cx="1495.3" cy="403.5" r="4.85" fill="#351e58"/>
<circle cx="1515.7" cy="391.5" r="4.85" fill="#3a2d79"/>
<circle cx="1643.2" cy="257.6" r="4.85" fill="#3e3891"/>
<circle cx="1542.7" cy="349.7" r="4.85" fill="#38276d"/>
<circle cx="1516.8" cy="398.1" r="4.85" fill="#3f3e9c"/>
<circle cx="1694.5" cy="200.6" r="4.85" fill="#4664da"/>
<circle cx="1589.5" cy="283.0" r="4.85" fill="#4146ac"/>
<circle cx="1506.7" cy="399.0" r="4.85" fill="#351e58"/>
<circle cx="1553.4" cy="331.3" r="4.85" fill="#3d358b"/>
<circle cx="1714.9" cy="335.6" r="4.85" fill="#3e9bfe"/>
<circle cx="1599.9" cy="286.4" r="4.85" fill="#434eba"/>
<circle cx="1583.8" cy="351.2" r="4.85" fill="#4685fa"/>
<circle cx="1704.1" cy="203.8" r="4.85" fill="#4451bf"/>
<circle cx="1608.0" cy="303.6" r="4.85" fill="#3f3e9c"/>
<circle cx="1517.0" cy="372.4" r="4.85" fill="#351e58"/>
<circle cx="1706.1" cy="337.7" r="4.85" fill="#1ecbda"/>
<circle cx="1564.7" cy="350.3" r="4.85" fill="#424bb5"/>
<circle cx="1622.3" cy="252.1" r="4.85" fill="#4559cb"/>
<circle cx="1643.5" cy="230.4" r="4.85" fill="#424bb5"/>
<circle cx="1655.5" cy="334.3" r="4.85" fill="#476ee6"/>
<circle cx="1548.1" cy="303.0" r="4.85" fill="#37a8fa"/>
<circle cx="1518.5" cy="371.6" r="4.85" fill="#3b2f80"/>
<circle cx="1536.5" cy="329.6" r="4.85" fill="#476ee6"/>
<circle cx="1746.7" cy="333.5" r="4.85" fill="#3e9bfe"/>
<circle cx="1551.6" cy="380.8" r="4.85" fill="#38a5fb"/>
<circle cx="1596.2" cy="316.1" r="4.85" fill="#4454c3"/>
<circle cx="1546.9" cy="382.2" r="4.85" fill="#4451bf"/>
<circle cx="1681.5" cy="208.1" r="4.85" fill="#424bb5"/>
<circle cx="1654.2" cy="252.2" r="4.85" fill="#424bb5"/>
<circle cx="1567.0" cy="333.9" r="4.85" fill="#36215f"/>
<circle cx="1572.7" cy="340.7" r="4.85" fill="#424bb5"/>
<circle cx="1600.9" cy="287.9" r="4.85" fill="#4249b1"/>
<circle cx="1554.2" cy="343.8" r="4.85" fill="#372466"/>
<circle cx="1495.1" cy="387.8" r="4.85" fill="#372466"/>
<circle cx="1502.5" cy="402.2" r="4.85" fill="#351e58"/>
<circle cx="1508.6" cy="343.1" r="4.85" fill="#434eba"/>
<circle cx="1502.6" cy="385.7" r="4.85" fill="#341b51"/>
<circle cx="1664.4" cy="197.7" r="4.85" fill="#4771e9"/>
<circle cx="1504.2" cy="380.9" r="4.85" fill="#341b51"/>
<circle cx="1616.4" cy="313.9" r="4.85" fill="#4776ee"/>
<circle cx="1591.6" cy="290.3" r="4.85" fill="#4143a7"/>
<circle cx="1561.6" cy="352.7" r="4.85" fill="#3f3b97"/>
<circle cx="1601.9" cy="292.2" r="4.85" fill="#3d358b"/>
<circle cx="1569.5" cy="360.6" r="4.85" fill="#4454c3"/>
<circle cx="1498.9" cy="370.4" r="4.85" fill="#4143a7"/>
<circle cx="1764.5" cy="337.7" r="4.85" fill="#3e9bfe"/>
<circle cx="1521.7" cy="361.7" r="4.85" fill="#372466"/>
<circle cx="1629.3" cy="282.7" r="4.85" fill="#4146ac"/>
<circle cx="1680.2" cy="317.1" r="4.85" fill="#a4fc3c"/>
<circle cx="1542.0" cy="351.7" r="4.85" fill="#3d358b"/>
<circle cx="1547.7" cy="333.8" r="4.85" fill="#3c3286"/>
<circle cx="1550.2" cy="346.8" r="4.85" fill="#3d358b"/>
<circle cx="1631.3" cy="265.0" r="4.85" fill="#3e3891"/>
<circle cx="1549.6" cy="354.7" r="4.85" fill="#372466"/>
<circle cx="1672.8" cy="224.8" r="4.85" fill="#466be3"/>
<circle cx="1548.3" cy="351.5" r="4.85" fill="#38276d"/>
<circle cx="1540.5" cy="380.3" r="4.85" fill="#36215f"/>
<circle cx="1669.5" cy="203.5" r="4.85" fill="#4143a7"/>
<circle cx="1647.8" cy="278.2" r="4.85" fill="#4454c3"/>
<circle cx="1634.3" cy="271.7" r="4.85" fill="#4143a7"/>
<circle cx="1544.2" cy="365.0" r="4.85" fill="#3c3286"/>
<circle cx="1652.8" cy="277.2" r="4.85" fill="#4669e0"/>
<circle cx="1518.5" cy="390.6" r="4.85" fill="#3d358b"/>
<circle cx="1674.6" cy="233.1" r="4.85" fill="#3f3e9c"/>
<circle cx="1582.7" cy="320.8" r="4.85" fill="#3c3286"/>
<circle cx="1568.9" cy="318.2" r="4.85" fill="#4143a7"/>
<circle cx="1679.4" cy="226.1" r="4.85" fill="#4040a2"/>
<circle cx="1681.0" cy="242.7" r="4.85" fill="#4249b1"/>
<circle cx="1664.1" cy="250.2" r="4.85" fill="#3f3e9c"/>
<circle cx="1517.1" cy="368.3" r="4.85" fill="#36215f"/>
<circle cx="1500.3" cy="329.5" r="4.85" fill="#4451bf"/>
<circle cx="1704.5" cy="209.4" r="4.85" fill="#4146ac"/>
<circle cx="1547.9" cy="311.3" r="4.85" fill="#4249b1"/>
<circle cx="1670.2" cy="341.2" r="4.85" fill="#59fb73"/>
<circle cx="1498.2" cy="401.3" r="4.85" fill="#321543"/>
<circle cx="1695.3" cy="195.7" r="4.85" fill="#4559cb"/>
<circle cx="1562.8" cy="314.3" r="4.85" fill="#4666dd"/>
<circle cx="1624.8" cy="367.3" r="4.85" fill="#59fb73"/>
<circle cx="1540.9" cy="352.8" r="4.85" fill="#392a73"/>
<circle cx="1625.1" cy="249.5" r="4.85" fill="#4669e0"/>
<circle cx="1495.8" cy="371.9" r="4.85" fill="#36215f"/>
<circle cx="1629.0" cy="346.5" r="4.85" fill="#3e9bfe"/>
<circle cx="1523.8" cy="383.3" r="4.85" fill="#392a73"/>
<circle cx="1591.2" cy="340.8" r="4.85" fill="#455ccf"/>
<circle cx="1524.4" cy="376.4" r="4.85" fill="#36215f"/>
<circle cx="1580.6" cy="297.4" r="4.85" fill="#4249b1"/>
<circle cx="1671.6" cy="238.5" r="4.85" fill="#4146ac"/>
<circle cx="1613.8" cy="292.7" r="4.85" fill="#3b2f80"/>
<circle cx="1612.5" cy="295.0" r="4.85" fill="#3c3286"/>
<circle cx="1640.0" cy="262.9" r="4.85" fill="#4143a7"/>
<circle cx="1578.5" cy="328.4" r="4.85" fill="#424bb5"/>
<circle cx="1504.0" cy="387.0" r="4.85" fill="#36215f"/>
<circle cx="1562.6" cy="355.5" r="4.85" fill="#4143a7"/>
<circle cx="1510.7" cy="384.5" r="4.85" fill="#33184a"/>
<circle cx="1680.9" cy="195.7" r="4.85" fill="#4391fe"/>
<circle cx="1506.5" cy="333.6" r="4.85" fill="#392a73"/>
<circle cx="1531.4" cy="341.2" r="4.85" fill="#4778f0"/>
<circle cx="1815.0" cy="135.3" r="4.85" fill="#455ccf"/>
<circle cx="1498.7" cy="311.8" r="4.85" fill="#2cb7f0"/>
<circle cx="1671.0" cy="257.2" r="4.85" fill="#4454c3"/>
<circle cx="1515.9" cy="300.6" r="4.85" fill="#4040a2"/>
<circle cx="1534.8" cy="343.5" r="4.85" fill="#4146ac"/>
<circle cx="1497.5" cy="377.7" r="4.85" fill="#36215f"/>
<circle cx="1657.2" cy="223.8" r="4.85" fill="#455ccf"/>
<circle cx="1618.6" cy="313.2" r="4.85" fill="#1ccdd8"/>
<circle cx="1607.5" cy="261.5" r="4.85" fill="#28bceb"/>
<circle cx="1812.6" cy="124.9" r="4.85" fill="#1bd0d5"/>
<circle cx="1568.9" cy="329.4" r="4.85" fill="#3a2d79"/>
<circle cx="1554.8" cy="350.8" r="4.85" fill="#3b2f80"/>
<circle cx="1527.0" cy="371.4" r="4.85" fill="#372466"/>
<circle cx="1558.6" cy="341.8" r="4.85" fill="#36215f"/>
<circle cx="1612.0" cy="266.0" r="4.85" fill="#455ccf"/>
<circle cx="1516.9" cy="363.4" r="4.85" fill="#36215f"/>
<circle cx="1578.7" cy="301.9" r="4.85" fill="#4249b1"/>
<circle cx="1546.9" cy="363.1" r="4.85" fill="#3f3b97"/>
<circle cx="1579.2" cy="340.5" r="4.85" fill="#3e3891"/>
<circle cx="1513.0" cy="382.0" r="4.85" fill="#36215f"/>
<circle cx="1504.5" cy="367.8" r="4.85" fill="#38276d"/>
<circle cx="1557.7" cy="353.3" r="4.85" fill="#3f3b97"/>
<circle cx="1696.3" cy="205.6" r="4.85" fill="#4456c7"/>
<circle cx="1626.9" cy="298.9" r="4.85" fill="#424bb5"/>
<circle cx="1559.8" cy="321.5" r="4.85" fill="#4146ac"/>
<circle cx="1502.9" cy="346.7" r="4.85" fill="#4040a2"/>
<circle cx="1498.4" cy="377.8" r="4.85" fill="#3a2d79"/>
<circle cx="1640.3" cy="274.1" r="4.85" fill="#4146ac"/>
<circle cx="1640.3" cy="280.1" r="4.85" fill="#4559cb"/>
<circle cx="1528.8" cy="364.5" r="4.85" fill="#351e58"/>
<circle cx="1507.5" cy="388.9" r="4.85" fill="#321543"/>
<circle cx="1578.0" cy="372.8" r="4.85" fill="#38a5fb"/>
<circle cx="1521.1" cy="367.9" r="4.85" fill="#3a2d79"/>
<circle cx="1563.7" cy="335.1" r="4.85" fill="#3b2f80"/>
<circle cx="1518.3" cy="393.3" r="4.85" fill="#3d358b"/>
<circle cx="1495.7" cy="399.4" r="4.85" fill="#321543"/>
<circle cx="1506.4" cy="372.9" r="4.85" fill="#3b2f80"/>
<circle cx="1655.8" cy="292.7" r="4.85" fill="#4559cb"/>
<circle cx="1575.5" cy="374.4" r="4.85" fill="#31aff5"/>
<circle cx="1619.9" cy="266.0" r="4.85" fill="#3f3b97"/>
<circle cx="1521.5" cy="328.0" r="4.85" fill="#3b2f80"/>
<circle cx="1697.5" cy="204.8" r="4.85" fill="#4143a7"/>
<circle cx="1587.0" cy="225.9" r="4.85" fill="#35f394"/>
<circle cx="1677.9" cy="219.0" r="4.85" fill="#4666dd"/>
<circle cx="1503.8" cy="375.3" r="4.85" fill="#372466"/>
<circle cx="1597.2" cy="231.8" r="4.85" fill="#4682f8"/>
<circle cx="1627.6" cy="281.7" r="4.85" fill="#3c3286"/>
<circle cx="1571.4" cy="314.9" r="4.85" fill="#3d358b"/>
<circle cx="1513.3" cy="382.9" r="4.85" fill="#372466"/>
<circle cx="1550.5" cy="368.7" r="4.85" fill="#372466"/>
<circle cx="1823.8" cy="140.7" r="4.85" fill="#477bf2"/>
<circle cx="1602.0" cy="282.8" r="4.85" fill="#4771e9"/>
<circle cx="1499.5" cy="398.4" r="4.85" fill="#30123b"/>
<circle cx="1656.7" cy="253.6" r="4.85" fill="#3f3b97"/>
<circle cx="1540.1" cy="356.0" r="4.85" fill="#3a2d79"/>
<circle cx="1538.8" cy="341.7" r="4.85" fill="#455ed3"/>
<circle cx="1638.8" cy="267.9" r="4.85" fill="#3d358b"/>
<circle cx="1703.9" cy="198.3" r="4.85" fill="#4249b1"/>
<circle cx="1630.1" cy="300.8" r="4.85" fill="#434eba"/>
<circle cx="1497.6" cy="348.0" r="4.85" fill="#38276d"/>
<circle cx="1688.3" cy="214.9" r="4.85" fill="#434eba"/>
<circle cx="1510.2" cy="365.2" r="4.85" fill="#372466"/>
<circle cx="1629.7" cy="360.4" r="4.85" fill="#3e9bfe"/>
<circle cx="1692.6" cy="191.6" r="4.85" fill="#4771e9"/>
<circle cx="1516.6" cy="383.7" r="4.85" fill="#36215f"/>
<circle cx="1507.9" cy="346.4" r="4.85" fill="#3b2f80"/>
<circle cx="1519.2" cy="378.1" r="4.85" fill="#341b51"/>
<circle cx="1587.8" cy="277.7" r="4.85" fill="#4451bf"/>
<circle cx="1647.4" cy="274.2" r="4.85" fill="#477bf2"/>
<circle cx="1538.0" cy="332.6" r="4.85" fill="#4661d6"/>
<circle cx="1495.2" cy="342.6" r="4.85" fill="#4451bf"/>
<circle cx="1519.7" cy="352.5" r="4.85" fill="#455ccf"/>
<circle cx="1745.4" cy="160.5" r="4.85" fill="#4451bf"/>
<circle cx="1644.9" cy="262.6" r="4.85" fill="#3f3e9c"/>
<circle cx="1581.8" cy="315.2" r="4.85" fill="#3b2f80"/>
<circle cx="1689.4" cy="220.8" r="4.85" fill="#4146ac"/>
<circle cx="1667.5" cy="238.4" r="4.85" fill="#4040a2"/>
<circle cx="1609.0" cy="317.1" r="4.85" fill="#466be3"/>
</g>
<path d="M1493.7 403.7L1833.4 81.6" stroke="#cc444c" stroke-width="2.4" stroke-dasharray="7.4,3.2" fill="none"/>
</g>
<rect x="1484.8" y="72.6" width="358.4" height="339.3" fill="none" stroke="#cccccc" stroke-width="1.7"/>
<rect x="1494.7" y="81.1" width="128.3" height="68.2" rx="7" fill="#fff" fill-opacity="0.85" stroke="#7f7f7f" stroke-width="1.4"/>
<text x="1503.0" y="101.4" font-size="16.67">R² = 0.84</text>
<text x="1503.0" y="119.2" font-size="16.67">MAE = 62 K</text>
<text x="1503.0" y="137.1" font-size="16.67">RMSE = 107 K</text>
<text x="1494.9" y="436.9" text-anchor="middle" font-size="18.33" letter-spacing="0.6">0</text>
<text x="1556.0" y="436.9" text-anchor="middle" font-size="18.33" letter-spacing="0.6">250</text>
<text x="1617.0" y="436.9" text-anchor="middle" font-size="18.33" letter-spacing="0.6">500</text>
<text x="1678.1" y="436.9" text-anchor="middle" font-size="18.33" letter-spacing="0.6">750</text>
<text x="1739.1" y="436.9" text-anchor="middle" font-size="18.33" letter-spacing="0.6">1000</text>
<text x="1800.2" y="436.9" text-anchor="middle" font-size="18.33" letter-spacing="0.6">1250</text>
<text x="1474.2" y="409.8" text-anchor="end" font-size="18.33" letter-spacing="0.6">0</text>
<text x="1474.2" y="363.5" text-anchor="end" font-size="18.33" letter-spacing="0.6">200</text>
<text x="1474.2" y="317.2" text-anchor="end" font-size="18.33" letter-spacing="0.6">400</text>
<text x="1474.2" y="270.9" text-anchor="end" font-size="18.33" letter-spacing="0.6">600</text>
<text x="1474.2" y="224.6" text-anchor="end" font-size="18.33" letter-spacing="0.6">800</text>
<text x="1474.2" y="178.3" text-anchor="end" font-size="18.33" letter-spacing="0.6">1000</text>
<text x="1474.2" y="132.0" text-anchor="end" font-size="18.33" letter-spacing="0.6">1200</text>
<text x="1474.2" y="85.7" text-anchor="end" font-size="18.33" letter-spacing="0.6">1400</text>
<text x="1664.0" y="467.6" text-anchor="middle" font-size="21.67">Actual Curie Temperature (K)</text>
<text transform="translate(1415.2,242.2) rotate(-90)" text-anchor="middle" font-size="21.67">Predicted Curie Temperature (K)</text>
<rect x="1856.75" y="73.65" width="15.40" height="337.50" fill="url(#grc)" fill-opacity="0.88"/>
<rect x="1856.10" y="73.00" width="16.70" height="338.80" fill="none" stroke="#d8dad8" stroke-width="1.3"/>
<text x="1885.1" y="363.6" font-size="18.33" letter-spacing="0.3">50</text>
<text x="1885.1" y="307.7" font-size="18.33" letter-spacing="0.3">100</text>
<text x="1885.1" y="251.8" font-size="18.33" letter-spacing="0.3">150</text>
<text x="1885.1" y="195.9" font-size="18.33" letter-spacing="0.3">200</text>
<text x="1885.1" y="140.0" font-size="18.33" letter-spacing="0.3">250</text>
<text x="1885.1" y="84.1" font-size="18.33" letter-spacing="0.3">300</text>
<path d="M1873.3 357.1h5.8M1873.3 301.2h5.8M1873.3 245.3h5.8M1873.3 189.4h5.8M1873.3 133.5h5.8M1873.3 77.6h5.8" stroke="#262626" stroke-width="1.3"/>
<text transform="translate(1933.3,242.2) rotate(-90)" text-anchor="middle" font-size="16.67">Prediction Std Deviation (K)</text>
<text x="16.3" y="536.3" font-size="31.5" font-weight="bold" fill="#000">d</text>
<text x="330.9" y="563.4" text-anchor="middle" font-size="23.33" letter-spacing="0.25">RF with Stratified Undersampling</text>
<path d="M161.6 586.9V925.8M225.5 586.9V925.8M289.4 586.9V925.8M353.4 586.9V925.8M417.3 586.9V925.8M481.2 586.9V925.8M151.9 915.6H509.8M151.9 867.2H509.8M151.9 818.8H509.8M151.9 770.3H509.8M151.9 721.9H509.8M151.9 673.5H509.8M151.9 625.1H509.8" stroke="#e6e6e6" stroke-width="1.1" stroke-dasharray="4.6,1.5" fill="none"/>
<g clip-path="url(#clipd)">
<path d="M364.7 641.3v15.5m-2.5 0h5m0 -15.5h-5M204.0 791.1v26.4m-2.5 0h5m0 -26.4h-5M193.1 754.9v55.2m-2.5 0h5m0 -55.2h-5M405.4 650.7v14.6m-2.5 0h5m0 -14.6h-5M248.2 868.1v26.5m-2.5 0h5m0 -26.5h-5M401.4 623.9v13.7m-2.5 0h5m0 -13.7h-5M349.5 645.2v36.6m-2.5 0h5m0 -36.6h-5M245.1 767.2v14.6m-2.5 0h5m0 -14.6h-5M309.5 811.9v14.9m-2.5 0h5m0 -14.9h-5M313.4 719.8v19.8m-2.5 0h5m0 -19.8h-5M351.8 783.3v28.1m-2.5 0h5m0 -28.1h-5M327.4 686.0v16.0m-2.5 0h5m0 -16.0h-5M355.8 804.3v15.2m-2.5 0h5m0 -15.2h-5M277.6 855.3v24.7m-2.5 0h5m0 -24.7h-5M312.3 834.9v17.8m-2.5 0h5m0 -17.8h-5M167.3 817.1v17.7m-2.5 0h5m0 -17.7h-5M203.3 711.0v31.5m-2.5 0h5m0 -31.5h-5M264.0 719.5v15.2m-2.5 0h5m0 -15.2h-5M166.7 744.6v31.5m-2.5 0h5m0 -31.5h-5M302.1 845.5v32.7m-2.5 0h5m0 -32.7h-5M212.8 780.4v26.4m-2.5 0h5m0 -26.4h-5M346.9 798.5v26.8m-2.5 0h5m0 -26.8h-5M238.1 749.6v17.8m-2.5 0h5m0 -17.8h-5M198.1 754.3v32.5m-2.5 0h5m0 -32.5h-5M224.2 710.2v59.4m-2.5 0h5m0 -59.4h-5M240.4 762.3v29.5m-2.5 0h5m0 -29.5h-5M477.9 623.7v21.6m-2.5 0h5m0 -21.6h-5M465.1 691.0v21.6m-2.5 0h5m0 -21.6h-5M454.1 712.8v17.8m-2.5 0h5m0 -17.8h-5M369.0 762.0v25.4m-2.5 0h5m0 -25.4h-5M229.0 754.5v24.3m-2.5 0h5m0 -24.3h-5M258.1 758.7v16.2m-2.5 0h5m0 -16.2h-5M270.7 852.5v29.0m-2.5 0h5m0 -29.0h-5M411.7 724.6v59.6m-2.5 0h5m0 -59.6h-5M398.6 729.3v45.3m-2.5 0h5m0 -45.3h-5M420.4 741.1v50.2m-2.5 0h5m0 -50.2h-5M427.5 744.5v17.8m-2.5 0h5m0 -17.8h-5M475.6 636.9v22.3m-2.5 0h5m0 -22.3h-5M419.9 797.7v31.5m-2.5 0h5m0 -31.5h-5M386.9 794.2v45.3m-2.5 0h5m0 -45.3h-5M498.9 820.0v17.8m-2.5 0h5m0 -17.8h-5M397.6 777.2v21.6m-2.5 0h5m0 -21.6h-5M380.5 784.2v21.6m-2.5 0h5m0 -21.6h-5M370.0 789.3v21.6m-2.5 0h5m0 -21.6h-5M352.0 809.2v52.2m-2.5 0h5m0 -52.2h-5M397.6 749.5v31.5m-2.5 0h5m0 -31.5h-5M359.6 665.1v17.5m-2.5 0h5m0 -17.5h-5M191.9 789.7v23.4m-2.5 0h5m0 -23.4h-5M164.9 779.1v17.8m-2.5 0h5m0 -17.8h-5M200.5 791.3v45.3m-2.5 0h5m0 -45.3h-5M283.1 748.7v19.9m-2.5 0h5m0 -19.9h-5" stroke="#b4b4b4" stroke-opacity="0.45" stroke-width="0.9" fill="none"/>
<g stroke="#000" stroke-width="0.6" stroke-opacity="0.85" fill-opacity="0.88">
<circle cx="328.3" cy="792.7" r="4.85" fill="#4454c3"/>
<circle cx="246.2" cy="794.4" r="4.85" fill="#4456c7"/>
<circle cx="442.7" cy="650.0" r="4.85" fill="#4661d6"/>
<circle cx="364.7" cy="649.1" r="4.85" fill="#2cb7f0"/>
<circle cx="365.6" cy="694.5" r="4.85" fill="#4661d6"/>
<circle cx="386.5" cy="704.8" r="4.85" fill="#4454c3"/>
<circle cx="204.0" cy="804.3" r="4.85" fill="#55fa76"/>
<circle cx="356.3" cy="695.0" r="4.85" fill="#4143a7"/>
<circle cx="293.6" cy="750.3" r="4.85" fill="#4776ee"/>
<circle cx="193.1" cy="782.5" r="4.85" fill="#ce2d04"/>
<circle cx="255.2" cy="766.0" r="4.85" fill="#477bf2"/>
<circle cx="342.0" cy="778.3" r="4.85" fill="#4669e0"/>
<circle cx="308.4" cy="733.1" r="4.85" fill="#3aa3fc"/>
<circle cx="260.6" cy="873.4" r="4.85" fill="#4ef97d"/>
<circle cx="450.0" cy="672.2" r="4.85" fill="#4687fb"/>
<circle cx="472.9" cy="708.7" r="4.85" fill="#4687fb"/>
<circle cx="317.1" cy="790.5" r="4.85" fill="#4682f8"/>
<circle cx="368.6" cy="745.2" r="4.85" fill="#4682f8"/>
<circle cx="238.6" cy="786.8" r="4.85" fill="#19e2bb"/>
<circle cx="188.9" cy="809.6" r="4.85" fill="#4680f6"/>
<circle cx="491.9" cy="655.4" r="4.85" fill="#38a5fb"/>
<circle cx="206.1" cy="823.2" r="4.85" fill="#467df4"/>
<circle cx="494.4" cy="654.4" r="4.85" fill="#455ccf"/>
<circle cx="195.0" cy="776.0" r="4.85" fill="#4249b1"/>
<circle cx="333.4" cy="662.6" r="4.85" fill="#4776ee"/>
<circle cx="309.3" cy="788.3" r="4.85" fill="#4146ac"/>
<circle cx="235.9" cy="796.0" r="4.85" fill="#2cb7f0"/>
<circle cx="337.0" cy="680.1" r="4.85" fill="#4771e9"/>
<circle cx="405.4" cy="658.0" r="4.85" fill="#33adf7"/>
<circle cx="444.3" cy="659.7" r="4.85" fill="#4456c7"/>
<circle cx="300.4" cy="721.4" r="4.85" fill="#4680f6"/>
<circle cx="256.1" cy="727.5" r="4.85" fill="#4391fe"/>
<circle cx="217.8" cy="808.6" r="4.85" fill="#4771e9"/>
<circle cx="377.6" cy="739.8" r="4.85" fill="#434eba"/>
<circle cx="340.8" cy="806.2" r="4.85" fill="#2eb4f2"/>
<circle cx="418.0" cy="672.3" r="4.85" fill="#455ccf"/>
<circle cx="163.2" cy="840.9" r="4.85" fill="#4146ac"/>
<circle cx="331.6" cy="722.3" r="4.85" fill="#455ccf"/>
<circle cx="316.2" cy="783.5" r="4.85" fill="#4666dd"/>
<circle cx="352.3" cy="689.8" r="4.85" fill="#2cb7f0"/>
<circle cx="253.8" cy="756.3" r="4.85" fill="#2ab9ee"/>
<circle cx="240.8" cy="785.1" r="4.85" fill="#23c3e4"/>
<circle cx="472.1" cy="648.5" r="4.85" fill="#4685fa"/>
<circle cx="292.9" cy="822.5" r="4.85" fill="#4687fb"/>
<circle cx="352.2" cy="633.0" r="4.85" fill="#4294ff"/>
<circle cx="248.2" cy="784.7" r="4.85" fill="#3e9bfe"/>
<circle cx="245.6" cy="805.0" r="4.85" fill="#455ed3"/>
<circle cx="240.1" cy="813.7" r="4.85" fill="#458afc"/>
<circle cx="314.7" cy="815.2" r="4.85" fill="#4664da"/>
<circle cx="162.1" cy="882.1" r="4.85" fill="#36215f"/>
<circle cx="480.4" cy="643.2" r="4.85" fill="#4666dd"/>
<circle cx="443.4" cy="642.5" r="4.85" fill="#4196ff"/>
<circle cx="339.0" cy="780.7" r="4.85" fill="#424bb5"/>
<circle cx="283.1" cy="849.1" r="4.85" fill="#4669e0"/>
<circle cx="339.8" cy="707.8" r="4.85" fill="#28bceb"/>
<circle cx="413.8" cy="704.0" r="4.85" fill="#4391fe"/>
<circle cx="405.8" cy="696.7" r="4.85" fill="#4249b1"/>
<circle cx="366.8" cy="778.9" r="4.85" fill="#4776ee"/>
<circle cx="316.1" cy="809.8" r="4.85" fill="#4451bf"/>
<circle cx="237.8" cy="797.9" r="4.85" fill="#455ed3"/>
<circle cx="178.7" cy="817.5" r="4.85" fill="#4669e0"/>
<circle cx="401.4" cy="630.8" r="4.85" fill="#3aa3fc"/>
<circle cx="349.5" cy="663.5" r="4.85" fill="#d7e535"/>
<circle cx="220.4" cy="896.2" r="4.85" fill="#4669e0"/>
<circle cx="245.1" cy="774.5" r="4.85" fill="#33adf7"/>
<circle cx="321.4" cy="736.4" r="4.85" fill="#4454c3"/>
<circle cx="404.8" cy="685.8" r="4.85" fill="#4451bf"/>
<circle cx="309.5" cy="819.4" r="4.85" fill="#31aff5"/>
<circle cx="351.3" cy="668.8" r="4.85" fill="#4773eb"/>
<circle cx="313.4" cy="729.7" r="4.85" fill="#18dbc5"/>
<circle cx="363.6" cy="660.8" r="4.85" fill="#476ee6"/>
<circle cx="315.5" cy="713.8" r="4.85" fill="#4682f8"/>
<circle cx="361.9" cy="682.9" r="4.85" fill="#4771e9"/>
<circle cx="330.6" cy="774.0" r="4.85" fill="#4456c7"/>
<circle cx="336.9" cy="741.5" r="4.85" fill="#4040a2"/>
<circle cx="285.0" cy="757.2" r="4.85" fill="#4685fa"/>
<circle cx="349.6" cy="687.7" r="4.85" fill="#4680f6"/>
<circle cx="351.8" cy="797.4" r="4.85" fill="#71fe5f"/>
<circle cx="247.9" cy="886.9" r="4.85" fill="#4559cb"/>
<circle cx="327.4" cy="694.0" r="4.85" fill="#28bceb"/>
<circle cx="496.0" cy="635.0" r="4.85" fill="#4099ff"/>
<circle cx="283.0" cy="835.1" r="4.85" fill="#455ed3"/>
<circle cx="386.8" cy="684.1" r="4.85" fill="#434eba"/>
<circle cx="272.0" cy="850.7" r="4.85" fill="#476ee6"/>
<circle cx="450.4" cy="657.9" r="4.85" fill="#434eba"/>
<circle cx="355.8" cy="811.9" r="4.85" fill="#2fb2f4"/>
<circle cx="444.6" cy="654.0" r="4.85" fill="#4456c7"/>
<circle cx="317.1" cy="748.7" r="4.85" fill="#4143a7"/>
<circle cx="488.2" cy="629.9" r="4.85" fill="#4778f0"/>
<circle cx="277.6" cy="867.6" r="4.85" fill="#3cf58e"/>
<circle cx="456.5" cy="657.6" r="4.85" fill="#434eba"/>
<circle cx="493.1" cy="651.4" r="4.85" fill="#3d9efe"/>
<circle cx="254.2" cy="866.7" r="4.85" fill="#4196ff"/>
<circle cx="228.3" cy="800.4" r="4.85" fill="#4687fb"/>
<circle cx="315.8" cy="824.1" r="4.85" fill="#477bf2"/>
<circle cx="485.2" cy="627.6" r="4.85" fill="#4778f0"/>
<circle cx="294.5" cy="852.1" r="4.85" fill="#4680f6"/>
<circle cx="194.1" cy="827.1" r="4.85" fill="#458afc"/>
<circle cx="279.4" cy="867.6" r="4.85" fill="#4680f6"/>
<circle cx="282.0" cy="852.2" r="4.85" fill="#4771e9"/>
<circle cx="312.3" cy="843.8" r="4.85" fill="#1ecbda"/>
<circle cx="328.2" cy="766.5" r="4.85" fill="#4040a2"/>
<circle cx="264.9" cy="756.6" r="4.85" fill="#3f3b97"/>
<circle cx="240.8" cy="884.0" r="4.85" fill="#4776ee"/>
<circle cx="239.8" cy="792.5" r="4.85" fill="#4680f6"/>
<circle cx="321.6" cy="809.6" r="4.85" fill="#4776ee"/>
<circle cx="469.5" cy="659.4" r="4.85" fill="#4664da"/>
<circle cx="256.6" cy="866.3" r="4.85" fill="#4249b1"/>
<circle cx="296.6" cy="721.5" r="4.85" fill="#2eb4f2"/>
<circle cx="307.0" cy="745.3" r="4.85" fill="#4685fa"/>
<circle cx="301.4" cy="836.0" r="4.85" fill="#4680f6"/>
<circle cx="326.7" cy="792.9" r="4.85" fill="#33adf7"/>
<circle cx="264.4" cy="856.0" r="4.85" fill="#4685fa"/>
<circle cx="308.4" cy="806.8" r="4.85" fill="#4682f8"/>
<circle cx="336.2" cy="785.7" r="4.85" fill="#4666dd"/>
<circle cx="197.7" cy="822.0" r="4.85" fill="#1ecbda"/>
<circle cx="477.1" cy="638.5" r="4.85" fill="#4687fb"/>
<circle cx="399.2" cy="698.3" r="4.85" fill="#4146ac"/>
<circle cx="337.9" cy="772.4" r="4.85" fill="#4664da"/>
<circle cx="185.1" cy="825.3" r="4.85" fill="#4669e0"/>
<circle cx="292.2" cy="845.7" r="4.85" fill="#35abf8"/>
<circle cx="202.2" cy="830.5" r="4.85" fill="#4456c7"/>
<circle cx="338.2" cy="722.6" r="4.85" fill="#476ee6"/>
<circle cx="367.9" cy="743.4" r="4.85" fill="#4559cb"/>
<circle cx="423.7" cy="660.0" r="4.85" fill="#4391fe"/>
<circle cx="324.9" cy="722.1" r="4.85" fill="#4687fb"/>
<circle cx="415.2" cy="719.3" r="4.85" fill="#4294ff"/>
<circle cx="253.4" cy="876.8" r="4.85" fill="#434eba"/>
<circle cx="220.4" cy="805.6" r="4.85" fill="#31aff5"/>
<circle cx="413.9" cy="675.6" r="4.85" fill="#4559cb"/>
<circle cx="360.6" cy="734.2" r="4.85" fill="#4146ac"/>
<circle cx="262.3" cy="768.9" r="4.85" fill="#3e9bfe"/>
<circle cx="365.7" cy="758.6" r="4.85" fill="#4776ee"/>
<circle cx="251.0" cy="791.2" r="4.85" fill="#4294ff"/>
<circle cx="335.5" cy="751.7" r="4.85" fill="#3f3e9c"/>
<circle cx="162.5" cy="846.5" r="4.85" fill="#fe9e2f"/>
<circle cx="418.5" cy="687.6" r="4.85" fill="#4664da"/>
<circle cx="350.6" cy="764.8" r="4.85" fill="#4559cb"/>
<circle cx="256.5" cy="856.4" r="4.85" fill="#4249b1"/>
<circle cx="469.4" cy="678.2" r="4.85" fill="#448ffe"/>
<circle cx="312.1" cy="817.5" r="4.85" fill="#18e0bd"/>
<circle cx="366.4" cy="741.0" r="4.85" fill="#25c0e7"/>
<circle cx="326.0" cy="792.6" r="4.85" fill="#458afc"/>
<circle cx="176.9" cy="826.1" r="4.85" fill="#467df4"/>
<circle cx="161.8" cy="918.3" r="4.85" fill="#33184a"/>
<circle cx="495.8" cy="648.2" r="4.85" fill="#4773eb"/>
<circle cx="205.4" cy="810.5" r="4.85" fill="#1fe9af"/>
<circle cx="186.3" cy="816.2" r="4.85" fill="#372466"/>
<circle cx="359.8" cy="748.1" r="4.85" fill="#4771e9"/>
<circle cx="233.1" cy="815.4" r="4.85" fill="#4687fb"/>
<circle cx="494.1" cy="630.0" r="4.85" fill="#424bb5"/>
<circle cx="354.2" cy="773.5" r="4.85" fill="#448ffe"/>
<circle cx="306.7" cy="787.1" r="4.85" fill="#4143a7"/>
<circle cx="365.1" cy="745.1" r="4.85" fill="#25c0e7"/>
<circle cx="367.2" cy="750.7" r="4.85" fill="#458cfd"/>
<circle cx="235.9" cy="822.3" r="4.85" fill="#467df4"/>
<circle cx="285.1" cy="775.7" r="4.85" fill="#434eba"/>
<circle cx="260.8" cy="852.1" r="4.85" fill="#4456c7"/>
<circle cx="470.1" cy="658.2" r="4.85" fill="#4680f6"/>
<circle cx="325.1" cy="776.9" r="4.85" fill="#424bb5"/>
<circle cx="212.1" cy="903.5" r="4.85" fill="#4146ac"/>
<circle cx="203.6" cy="830.7" r="4.85" fill="#38276d"/>
<circle cx="167.3" cy="825.9" r="4.85" fill="#1fc9dd"/>
<circle cx="203.3" cy="726.8" r="4.85" fill="#a4fc3c"/>
<circle cx="358.1" cy="710.9" r="4.85" fill="#4559cb"/>
<circle cx="335.7" cy="769.4" r="4.85" fill="#4661d6"/>
<circle cx="341.0" cy="804.1" r="4.85" fill="#448ffe"/>
<circle cx="264.0" cy="727.1" r="4.85" fill="#2eb4f2"/>
<circle cx="166.7" cy="760.4" r="4.85" fill="#a4fc3c"/>
<circle cx="311.7" cy="775.3" r="4.85" fill="#3e3891"/>
<circle cx="232.9" cy="875.9" r="4.85" fill="#3f3e9c"/>
<circle cx="229.1" cy="827.7" r="4.85" fill="#466be3"/>
<circle cx="183.8" cy="916.8" r="4.85" fill="#4454c3"/>
<circle cx="229.8" cy="887.8" r="4.85" fill="#38a5fb"/>
<circle cx="302.1" cy="861.9" r="4.85" fill="#affa37"/>
<circle cx="213.0" cy="790.6" r="4.85" fill="#4451bf"/>
<circle cx="277.6" cy="768.0" r="4.85" fill="#4456c7"/>
<circle cx="355.0" cy="754.9" r="4.85" fill="#4776ee"/>
<circle cx="189.6" cy="804.3" r="4.85" fill="#3a2d79"/>
<circle cx="171.7" cy="834.8" r="4.85" fill="#3e3891"/>
<circle cx="199.5" cy="845.2" r="4.85" fill="#4249b1"/>
<circle cx="212.8" cy="793.6" r="4.85" fill="#55fa76"/>
<circle cx="287.7" cy="815.4" r="4.85" fill="#3e3891"/>
<circle cx="297.9" cy="828.0" r="4.85" fill="#4680f6"/>
<circle cx="346.6" cy="687.8" r="4.85" fill="#434eba"/>
<circle cx="306.9" cy="684.0" r="4.85" fill="#4196ff"/>
<circle cx="361.1" cy="768.4" r="4.85" fill="#455ed3"/>
<circle cx="314.0" cy="807.8" r="4.85" fill="#467df4"/>
<circle cx="205.8" cy="802.9" r="4.85" fill="#434eba"/>
<circle cx="232.7" cy="813.4" r="4.85" fill="#448ffe"/>
<circle cx="439.8" cy="701.1" r="4.85" fill="#4391fe"/>
<circle cx="278.4" cy="769.5" r="4.85" fill="#3b2f80"/>
<circle cx="224.6" cy="800.3" r="4.85" fill="#3e9bfe"/>
<circle cx="237.5" cy="883.4" r="4.85" fill="#4687fb"/>
<circle cx="236.1" cy="887.9" r="4.85" fill="#424bb5"/>
<circle cx="404.7" cy="683.3" r="4.85" fill="#4559cb"/>
<circle cx="225.3" cy="745.9" r="4.85" fill="#4666dd"/>
<circle cx="246.4" cy="850.5" r="4.85" fill="#4451bf"/>
<circle cx="271.7" cy="814.5" r="4.85" fill="#3a2d79"/>
<circle cx="269.8" cy="828.4" r="4.85" fill="#4664da"/>
<circle cx="249.0" cy="736.7" r="4.85" fill="#3e9bfe"/>
<circle cx="247.2" cy="858.9" r="4.85" fill="#477bf2"/>
<circle cx="303.3" cy="822.9" r="4.85" fill="#4454c3"/>
<circle cx="290.3" cy="821.3" r="4.85" fill="#466be3"/>
<circle cx="280.1" cy="841.1" r="4.85" fill="#2eb4f2"/>
<circle cx="212.0" cy="849.3" r="4.85" fill="#4559cb"/>
<circle cx="295.3" cy="806.9" r="4.85" fill="#4143a7"/>
<circle cx="370.2" cy="672.2" r="4.85" fill="#4294ff"/>
<circle cx="213.1" cy="824.2" r="4.85" fill="#3d358b"/>
<circle cx="217.9" cy="818.0" r="4.85" fill="#467df4"/>
<circle cx="243.8" cy="799.4" r="4.85" fill="#4666dd"/>
<circle cx="318.4" cy="742.6" r="4.85" fill="#19d5cd"/>
<circle cx="255.8" cy="847.7" r="4.85" fill="#4146ac"/>
<circle cx="268.5" cy="872.9" r="4.85" fill="#4099ff"/>
<circle cx="232.4" cy="803.7" r="4.85" fill="#4451bf"/>
<circle cx="343.6" cy="730.0" r="4.85" fill="#4143a7"/>
<circle cx="274.4" cy="824.5" r="4.85" fill="#455ed3"/>
<circle cx="270.9" cy="774.5" r="4.85" fill="#4776ee"/>
<circle cx="202.2" cy="839.9" r="4.85" fill="#434eba"/>
<circle cx="247.4" cy="853.8" r="4.85" fill="#4456c7"/>
<circle cx="268.7" cy="870.3" r="4.85" fill="#4680f6"/>
<circle cx="283.1" cy="825.5" r="4.85" fill="#4669e0"/>
<circle cx="309.0" cy="729.1" r="4.85" fill="#18dec0"/>
<circle cx="345.1" cy="710.1" r="4.85" fill="#4249b1"/>
<circle cx="251.1" cy="749.0" r="4.85" fill="#4666dd"/>
<circle cx="411.4" cy="686.6" r="4.85" fill="#4146ac"/>
<circle cx="232.1" cy="809.8" r="4.85" fill="#3f3e9c"/>
<circle cx="330.1" cy="779.0" r="4.85" fill="#434eba"/>
<circle cx="350.9" cy="747.5" r="4.85" fill="#4146ac"/>
<circle cx="285.4" cy="829.9" r="4.85" fill="#4773eb"/>
<circle cx="188.9" cy="909.6" r="4.85" fill="#4669e0"/>
<circle cx="359.0" cy="701.1" r="4.85" fill="#4666dd"/>
<circle cx="311.8" cy="750.1" r="4.85" fill="#4664da"/>
<circle cx="415.0" cy="663.6" r="4.85" fill="#467df4"/>
<circle cx="335.4" cy="714.3" r="4.85" fill="#4664da"/>
<circle cx="489.8" cy="653.3" r="4.85" fill="#4685fa"/>
<circle cx="268.9" cy="859.4" r="4.85" fill="#3d358b"/>
<circle cx="346.9" cy="811.9" r="4.85" fill="#5dfc6f"/>
<circle cx="350.5" cy="710.8" r="4.85" fill="#4680f6"/>
<circle cx="191.3" cy="847.6" r="4.85" fill="#455ccf"/>
<circle cx="161.6" cy="874.7" r="4.85" fill="#4778f0"/>
<circle cx="360.1" cy="697.1" r="4.85" fill="#4687fb"/>
<circle cx="238.1" cy="758.5" r="4.85" fill="#1ecbda"/>
<circle cx="187.8" cy="830.4" r="4.85" fill="#392a73"/>
<circle cx="223.6" cy="816.6" r="4.85" fill="#31aff5"/>
<circle cx="394.9" cy="679.5" r="4.85" fill="#4664da"/>
<circle cx="169.9" cy="825.7" r="4.85" fill="#3aa3fc"/>
<circle cx="363.2" cy="698.3" r="4.85" fill="#4666dd"/>
<circle cx="398.0" cy="631.3" r="4.85" fill="#455ed3"/>
<circle cx="371.8" cy="718.8" r="4.85" fill="#424bb5"/>
<circle cx="344.9" cy="758.7" r="4.85" fill="#4680f6"/>
<circle cx="352.0" cy="718.1" r="4.85" fill="#4146ac"/>
<circle cx="214.0" cy="896.3" r="4.85" fill="#424bb5"/>
<circle cx="197.1" cy="813.7" r="4.85" fill="#27bee9"/>
<circle cx="370.6" cy="713.9" r="4.85" fill="#3e3891"/>
<circle cx="448.3" cy="646.9" r="4.85" fill="#4669e0"/>
<circle cx="301.6" cy="827.4" r="4.85" fill="#4559cb"/>
<circle cx="352.5" cy="749.6" r="4.85" fill="#4143a7"/>
<circle cx="271.3" cy="785.2" r="4.85" fill="#3f3e9c"/>
<circle cx="290.7" cy="788.0" r="4.85" fill="#4146ac"/>
<circle cx="359.9" cy="746.2" r="4.85" fill="#466be3"/>
<circle cx="234.5" cy="854.7" r="4.85" fill="#3f3b97"/>
<circle cx="298.4" cy="804.1" r="4.85" fill="#4294ff"/>
<circle cx="320.9" cy="803.2" r="4.85" fill="#4778f0"/>
<circle cx="255.2" cy="865.2" r="4.85" fill="#455ccf"/>
<circle cx="336.2" cy="709.3" r="4.85" fill="#31aff5"/>
<circle cx="363.4" cy="695.7" r="4.85" fill="#3d9efe"/>
<circle cx="279.8" cy="821.2" r="4.85" fill="#4559cb"/>
<circle cx="462.2" cy="636.0" r="4.85" fill="#424bb5"/>
<circle cx="354.3" cy="704.2" r="4.85" fill="#4773eb"/>
<circle cx="217.0" cy="795.6" r="4.85" fill="#4771e9"/>
<circle cx="308.6" cy="717.8" r="4.85" fill="#3e9bfe"/>
<circle cx="283.7" cy="801.0" r="4.85" fill="#4146ac"/>
<circle cx="164.5" cy="847.5" r="4.85" fill="#3c3286"/>
<circle cx="388.4" cy="711.0" r="4.85" fill="#455ed3"/>
<circle cx="180.7" cy="830.3" r="4.85" fill="#458cfd"/>
<circle cx="361.3" cy="760.3" r="4.85" fill="#476ee6"/>
<circle cx="280.5" cy="832.4" r="4.85" fill="#4778f0"/>
<circle cx="198.1" cy="770.5" r="4.85" fill="#acfb38"/>
<circle cx="429.2" cy="652.4" r="4.85" fill="#466be3"/>
<circle cx="211.5" cy="839.2" r="4.85" fill="#4454c3"/>
<circle cx="208.7" cy="844.0" r="4.85" fill="#434eba"/>
<circle cx="293.6" cy="804.8" r="4.85" fill="#3b2f80"/>
<circle cx="224.2" cy="739.9" r="4.85" fill="#a41301"/>
<circle cx="240.4" cy="777.1" r="4.85" fill="#88ff4e"/>
<circle cx="378.9" cy="666.2" r="4.85" fill="#3f3e9c"/>
<circle cx="324.5" cy="731.0" r="4.85" fill="#458afc"/>
<circle cx="359.6" cy="758.8" r="4.85" fill="#4664da"/>
<circle cx="346.7" cy="722.5" r="4.85" fill="#4773eb"/>
<circle cx="361.0" cy="673.7" r="4.85" fill="#4666dd"/>
<circle cx="259.8" cy="877.0" r="4.85" fill="#4664da"/>
<circle cx="355.7" cy="683.4" r="4.85" fill="#3e9bfe"/>
<circle cx="239.4" cy="872.9" r="4.85" fill="#4685fa"/>
<circle cx="220.6" cy="841.3" r="4.85" fill="#38276d"/>
<circle cx="446.7" cy="631.9" r="4.85" fill="#3f3e9c"/>
<circle cx="263.4" cy="844.7" r="4.85" fill="#18d9c8"/>
<circle cx="417.0" cy="645.9" r="4.85" fill="#4666dd"/>
<circle cx="298.8" cy="817.8" r="4.85" fill="#4559cb"/>
<circle cx="289.8" cy="792.4" r="4.85" fill="#3b2f80"/>
<circle cx="250.7" cy="786.6" r="4.85" fill="#4456c7"/>
<circle cx="391.3" cy="727.7" r="4.85" fill="#4778f0"/>
<circle cx="485.8" cy="638.4" r="4.85" fill="#4666dd"/>
<circle cx="344.4" cy="767.1" r="4.85" fill="#4143a7"/>
<circle cx="300.4" cy="761.4" r="4.85" fill="#477bf2"/>
<circle cx="298.7" cy="769.3" r="4.85" fill="#4040a2"/>
<circle cx="178.7" cy="821.1" r="4.85" fill="#25c0e7"/>
<circle cx="398.3" cy="697.8" r="4.85" fill="#3f3e9c"/>
<circle cx="193.6" cy="834.6" r="4.85" fill="#3d358b"/>
<circle cx="477.9" cy="634.5" r="4.85" fill="#1de7b2"/>
<circle cx="290.1" cy="831.0" r="4.85" fill="#4559cb"/>
<circle cx="319.8" cy="783.1" r="4.85" fill="#4451bf"/>
<circle cx="291.1" cy="839.0" r="4.85" fill="#4682f8"/>
<circle cx="465.1" cy="701.8" r="4.85" fill="#1de7b2"/>
<circle cx="338.9" cy="748.7" r="4.85" fill="#4143a7"/>
<circle cx="454.1" cy="721.7" r="4.85" fill="#1ecbda"/>
<circle cx="363.2" cy="680.5" r="4.85" fill="#4146ac"/>
<circle cx="196.7" cy="791.5" r="4.85" fill="#4099ff"/>
<circle cx="284.8" cy="817.7" r="4.85" fill="#4680f6"/>
<circle cx="369.0" cy="774.7" r="4.85" fill="#46f884"/>
<circle cx="361.6" cy="772.5" r="4.85" fill="#1fc9dd"/>
<circle cx="300.2" cy="739.9" r="4.85" fill="#38a5fb"/>
<circle cx="371.0" cy="729.5" r="4.85" fill="#4559cb"/>
<circle cx="483.6" cy="657.9" r="4.85" fill="#466be3"/>
<circle cx="326.8" cy="749.9" r="4.85" fill="#3d358b"/>
<circle cx="314.4" cy="798.3" r="4.85" fill="#4773eb"/>
<circle cx="262.6" cy="794.1" r="4.85" fill="#3f3b97"/>
<circle cx="448.2" cy="733.5" r="4.85" fill="#4666dd"/>
<circle cx="337.6" cy="761.1" r="4.85" fill="#4773eb"/>
<circle cx="340.3" cy="777.7" r="4.85" fill="#424bb5"/>
<circle cx="162.3" cy="902.9" r="4.85" fill="#351e58"/>
<circle cx="231.1" cy="830.9" r="4.85" fill="#38276d"/>
<circle cx="434.4" cy="737.7" r="4.85" fill="#3f3e9c"/>
<circle cx="478.4" cy="650.9" r="4.85" fill="#455ed3"/>
<circle cx="230.1" cy="845.2" r="4.85" fill="#3a2d79"/>
<circle cx="229.0" cy="766.7" r="4.85" fill="#38f491"/>
<circle cx="300.5" cy="783.6" r="4.85" fill="#3f3e9c"/>
<circle cx="174.4" cy="839.2" r="4.85" fill="#458afc"/>
<circle cx="322.8" cy="759.8" r="4.85" fill="#3d358b"/>
<circle cx="283.9" cy="777.8" r="4.85" fill="#434eba"/>
<circle cx="270.4" cy="838.5" r="4.85" fill="#3c3286"/>
<circle cx="267.2" cy="832.4" r="4.85" fill="#455ccf"/>
<circle cx="187.0" cy="849.3" r="4.85" fill="#455ed3"/>
<circle cx="370.1" cy="702.4" r="4.85" fill="#455ed3"/>
<circle cx="258.1" cy="766.8" r="4.85" fill="#28bceb"/>
<circle cx="341.7" cy="740.9" r="4.85" fill="#4143a7"/>
<circle cx="270.7" cy="867.0" r="4.85" fill="#80ff53"/>
<circle cx="257.0" cy="886.4" r="4.85" fill="#4559cb"/>
<circle cx="461.0" cy="667.6" r="4.85" fill="#458afc"/>
<circle cx="323.5" cy="792.0" r="4.85" fill="#3d9efe"/>
<circle cx="306.8" cy="794.8" r="4.85" fill="#3e3891"/>
<circle cx="291.2" cy="780.2" r="4.85" fill="#4040a2"/>
<circle cx="282.1" cy="784.7" r="4.85" fill="#4040a2"/>
<circle cx="294.2" cy="816.7" r="4.85" fill="#4146ac"/>
<circle cx="285.4" cy="852.0" r="4.85" fill="#4146ac"/>
<circle cx="411.7" cy="754.4" r="4.85" fill="#a11201"/>
<circle cx="398.6" cy="751.9" r="4.85" fill="#fe962b"/>
<circle cx="255.4" cy="796.0" r="4.85" fill="#455ed3"/>
<circle cx="187.7" cy="843.5" r="4.85" fill="#455ccf"/>
<circle cx="262.6" cy="802.5" r="4.85" fill="#4687fb"/>
<circle cx="366.1" cy="704.5" r="4.85" fill="#434eba"/>
<circle cx="270.4" cy="815.7" r="4.85" fill="#4451bf"/>
<circle cx="360.8" cy="677.1" r="4.85" fill="#4682f8"/>
<circle cx="293.9" cy="727.1" r="4.85" fill="#2ab9ee"/>
<circle cx="235.3" cy="884.3" r="4.85" fill="#4454c3"/>
<circle cx="264.4" cy="782.1" r="4.85" fill="#4685fa"/>
<circle cx="420.4" cy="766.2" r="4.85" fill="#f05b12"/>
<circle cx="415.9" cy="648.5" r="4.85" fill="#2eb4f2"/>
<circle cx="359.2" cy="689.7" r="4.85" fill="#3e9bfe"/>
<circle cx="427.5" cy="753.4" r="4.85" fill="#1ecbda"/>
<circle cx="184.5" cy="811.4" r="4.85" fill="#4771e9"/>
<circle cx="476.8" cy="634.2" r="4.85" fill="#3ba0fd"/>
<circle cx="230.2" cy="861.7" r="4.85" fill="#4143a7"/>
<circle cx="365.9" cy="724.9" r="4.85" fill="#434eba"/>
<circle cx="224.5" cy="837.7" r="4.85" fill="#3c3286"/>
<circle cx="212.7" cy="818.7" r="4.85" fill="#3e9bfe"/>
<circle cx="414.5" cy="773.2" r="4.85" fill="#4666dd"/>
<circle cx="312.2" cy="720.9" r="4.85" fill="#434eba"/>
<circle cx="290.4" cy="768.2" r="4.85" fill="#3d358b"/>
<circle cx="224.5" cy="816.1" r="4.85" fill="#4143a7"/>
<circle cx="475.6" cy="648.0" r="4.85" fill="#22ebaa"/>
<circle cx="176.8" cy="861.2" r="4.85" fill="#38276d"/>
<circle cx="172.8" cy="918.1" r="4.85" fill="#3f3b97"/>
<circle cx="295.3" cy="744.9" r="4.85" fill="#4771e9"/>
<circle cx="226.3" cy="821.8" r="4.85" fill="#28bceb"/>
<circle cx="275.6" cy="846.2" r="4.85" fill="#4771e9"/>
<circle cx="274.4" cy="789.7" r="4.85" fill="#4391fe"/>
<circle cx="341.2" cy="739.3" r="4.85" fill="#455ed3"/>
<circle cx="305.7" cy="801.0" r="4.85" fill="#3e3891"/>
<circle cx="360.1" cy="782.8" r="4.85" fill="#4776ee"/>
<circle cx="415.5" cy="783.2" r="4.85" fill="#1ecbda"/>
<circle cx="203.5" cy="827.4" r="4.85" fill="#4685fa"/>
<circle cx="304.8" cy="808.8" r="4.85" fill="#4294ff"/>
<circle cx="175.1" cy="866.8" r="4.85" fill="#4771e9"/>
<circle cx="281.8" cy="766.7" r="4.85" fill="#476ee6"/>
<circle cx="184.6" cy="914.3" r="4.85" fill="#4771e9"/>
<circle cx="189.7" cy="833.9" r="4.85" fill="#3a2d79"/>
<circle cx="224.6" cy="862.4" r="4.85" fill="#36215f"/>
<circle cx="252.6" cy="842.9" r="4.85" fill="#3b2f80"/>
<circle cx="418.6" cy="797.9" r="4.85" fill="#3e9bfe"/>
<circle cx="297.1" cy="708.1" r="4.85" fill="#4099ff"/>
<circle cx="216.8" cy="824.9" r="4.85" fill="#4771e9"/>
<circle cx="419.6" cy="683.6" r="4.85" fill="#4143a7"/>
<circle cx="186.4" cy="908.9" r="4.85" fill="#3f3b97"/>
<circle cx="275.8" cy="819.9" r="4.85" fill="#455ccf"/>
<circle cx="349.0" cy="808.4" r="4.85" fill="#476ee6"/>
<circle cx="419.9" cy="813.4" r="4.85" fill="#a4fc3c"/>
<circle cx="167.8" cy="857.1" r="4.85" fill="#455ed3"/>
<circle cx="219.1" cy="858.0" r="4.85" fill="#392a73"/>
<circle cx="254.8" cy="791.4" r="4.85" fill="#4687fb"/>
<circle cx="386.9" cy="816.8" r="4.85" fill="#fe962b"/>
<circle cx="364.9" cy="724.6" r="4.85" fill="#466be3"/>
<circle cx="290.1" cy="844.7" r="4.85" fill="#3ba0fd"/>
<circle cx="327.8" cy="783.8" r="4.85" fill="#4771e9"/>
<circle cx="233.3" cy="868.4" r="4.85" fill="#434eba"/>
<circle cx="183.4" cy="870.0" r="4.85" fill="#3c3286"/>
<circle cx="262.8" cy="865.7" r="4.85" fill="#3ba0fd"/>
<circle cx="197.1" cy="852.4" r="4.85" fill="#3e3891"/>
<circle cx="235.3" cy="833.1" r="4.85" fill="#372466"/>
<circle cx="246.4" cy="800.5" r="4.85" fill="#3e3891"/>
<circle cx="244.1" cy="865.2" r="4.85" fill="#4294ff"/>
<circle cx="337.4" cy="798.4" r="4.85" fill="#4456c7"/>
<circle cx="498.9" cy="828.9" r="4.85" fill="#1ecbda"/>
<circle cx="262.0" cy="856.4" r="4.85" fill="#477bf2"/>
<circle cx="208.0" cy="855.0" r="4.85" fill="#424bb5"/>
<circle cx="304.3" cy="778.2" r="4.85" fill="#424bb5"/>
<circle cx="441.3" cy="655.3" r="4.85" fill="#4664da"/>
<circle cx="350.5" cy="699.6" r="4.85" fill="#4776ee"/>
<circle cx="257.4" cy="800.7" r="4.85" fill="#3b2f80"/>
<circle cx="171.2" cy="879.0" r="4.85" fill="#3f3e9c"/>
<circle cx="233.6" cy="886.3" r="4.85" fill="#4664da"/>
<circle cx="170.7" cy="769.4" r="4.85" fill="#4249b1"/>
<circle cx="193.9" cy="854.8" r="4.85" fill="#3e3891"/>
<circle cx="356.5" cy="677.0" r="4.85" fill="#3e3891"/>
<circle cx="265.0" cy="839.8" r="4.85" fill="#4664da"/>
<circle cx="190.1" cy="856.7" r="4.85" fill="#4143a7"/>
<circle cx="352.4" cy="734.3" r="4.85" fill="#4040a2"/>
<circle cx="428.3" cy="843.7" r="4.85" fill="#3f3e9c"/>
<circle cx="215.8" cy="827.1" r="4.85" fill="#3a2d79"/>
<circle cx="366.9" cy="862.1" r="4.85" fill="#3e9bfe"/>
<circle cx="251.4" cy="804.9" r="4.85" fill="#424bb5"/>
<circle cx="355.7" cy="717.2" r="4.85" fill="#455ccf"/>
<circle cx="167.6" cy="830.1" r="4.85" fill="#4456c7"/>
<circle cx="225.7" cy="881.6" r="4.85" fill="#434eba"/>
<circle cx="199.7" cy="904.9" r="4.85" fill="#3aa3fc"/>
<circle cx="279.8" cy="803.7" r="4.85" fill="#392a73"/>
<circle cx="256.5" cy="820.0" r="4.85" fill="#4249b1"/>
<circle cx="259.5" cy="838.3" r="4.85" fill="#4559cb"/>
<circle cx="265.8" cy="793.1" r="4.85" fill="#4146ac"/>
<circle cx="319.6" cy="774.4" r="4.85" fill="#424bb5"/>
<circle cx="347.3" cy="649.8" r="4.85" fill="#458afc"/>
<circle cx="410.7" cy="677.5" r="4.85" fill="#4451bf"/>
<circle cx="402.9" cy="718.1" r="4.85" fill="#4778f0"/>
<circle cx="283.3" cy="812.3" r="4.85" fill="#4451bf"/>
<circle cx="163.3" cy="878.4" r="4.85" fill="#372466"/>
<circle cx="343.3" cy="716.6" r="4.85" fill="#4771e9"/>
<circle cx="162.0" cy="859.1" r="4.85" fill="#3b2f80"/>
<circle cx="180.8" cy="916.0" r="4.85" fill="#4685fa"/>
<circle cx="192.1" cy="862.3" r="4.85" fill="#38276d"/>
<circle cx="355.9" cy="741.4" r="4.85" fill="#434eba"/>
<circle cx="324.2" cy="881.9" r="4.85" fill="#3f3e9c"/>
<circle cx="171.7" cy="915.5" r="4.85" fill="#3c3286"/>
<circle cx="319.4" cy="869.4" r="4.85" fill="#4666dd"/>
<circle cx="395.0" cy="692.3" r="4.85" fill="#4456c7"/>
<circle cx="227.7" cy="872.0" r="4.85" fill="#4146ac"/>
<circle cx="265.7" cy="809.3" r="4.85" fill="#372466"/>
<circle cx="204.9" cy="854.0" r="4.85" fill="#351e58"/>
<circle cx="315.4" cy="765.7" r="4.85" fill="#3f3e9c"/>
<circle cx="242.0" cy="824.1" r="4.85" fill="#3b2f80"/>
<circle cx="179.9" cy="845.8" r="4.85" fill="#4682f8"/>
<circle cx="329.7" cy="749.1" r="4.85" fill="#4664da"/>
<circle cx="367.4" cy="713.3" r="4.85" fill="#3f3b97"/>
<circle cx="219.4" cy="881.8" r="4.85" fill="#4249b1"/>
<circle cx="253.2" cy="813.2" r="4.85" fill="#4682f8"/>
<circle cx="167.4" cy="839.2" r="4.85" fill="#424bb5"/>
<circle cx="240.4" cy="866.5" r="4.85" fill="#4451bf"/>
<circle cx="328.2" cy="805.4" r="4.85" fill="#4666dd"/>
<circle cx="380.7" cy="839.8" r="4.85" fill="#3f3e9c"/>
<circle cx="338.3" cy="765.6" r="4.85" fill="#455ccf"/>
<circle cx="360.7" cy="783.2" r="4.85" fill="#4682f8"/>
<circle cx="172.4" cy="854.1" r="4.85" fill="#4143a7"/>
<circle cx="181.6" cy="900.7" r="4.85" fill="#3d358b"/>
<circle cx="190.6" cy="840.4" r="4.85" fill="#3e3891"/>
<circle cx="234.7" cy="881.6" r="4.85" fill="#4771e9"/>
<circle cx="305.4" cy="788.0" r="4.85" fill="#4040a2"/>
<circle cx="247.5" cy="842.0" r="4.85" fill="#4143a7"/>
<circle cx="294.9" cy="763.2" r="4.85" fill="#33adf7"/>
<circle cx="260.3" cy="836.5" r="4.85" fill="#3f3b97"/>
<circle cx="343.8" cy="753.4" r="4.85" fill="#4669e0"/>
<circle cx="367.7" cy="834.7" r="4.85" fill="#4666dd"/>
<circle cx="187.7" cy="807.7" r="4.85" fill="#4040a2"/>
<circle cx="173.0" cy="873.2" r="4.85" fill="#3b2f80"/>
<circle cx="337.1" cy="730.8" r="4.85" fill="#4451bf"/>
<circle cx="207.3" cy="833.7" r="4.85" fill="#4771e9"/>
<circle cx="300.6" cy="800.9" r="4.85" fill="#476ee6"/>
<circle cx="356.2" cy="836.7" r="4.85" fill="#4666dd"/>
<circle cx="178.7" cy="876.6" r="4.85" fill="#4661d6"/>
<circle cx="169.3" cy="866.3" r="4.85" fill="#3e3891"/>
<circle cx="364.1" cy="729.3" r="4.85" fill="#3f3e9c"/>
<circle cx="368.7" cy="754.6" r="4.85" fill="#1ecbda"/>
<circle cx="397.6" cy="788.0" r="4.85" fill="#1de7b2"/>
<circle cx="393.3" cy="770.4" r="4.85" fill="#31aff5"/>
<circle cx="179.6" cy="861.2" r="4.85" fill="#38276d"/>
<circle cx="348.6" cy="705.7" r="4.85" fill="#33adf7"/>
<circle cx="184.1" cy="858.9" r="4.85" fill="#3e3891"/>
<circle cx="360.4" cy="725.2" r="4.85" fill="#4451bf"/>
<circle cx="208.1" cy="804.3" r="4.85" fill="#31aff5"/>
<circle cx="257.3" cy="779.2" r="4.85" fill="#455ed3"/>
<circle cx="307.3" cy="765.5" r="4.85" fill="#424bb5"/>
<circle cx="164.1" cy="832.5" r="4.85" fill="#4559cb"/>
<circle cx="312.7" cy="780.8" r="4.85" fill="#3f3e9c"/>
<circle cx="186.7" cy="866.8" r="4.85" fill="#3e3891"/>
<circle cx="177.2" cy="893.5" r="4.85" fill="#36215f"/>
<circle cx="280.3" cy="810.8" r="4.85" fill="#3c3286"/>
<circle cx="380.5" cy="795.0" r="4.85" fill="#1de7b2"/>
<circle cx="360.5" cy="681.4" r="4.85" fill="#4451bf"/>
<circle cx="363.4" cy="720.3" r="4.85" fill="#4559cb"/>
<circle cx="371.1" cy="697.5" r="4.85" fill="#4685fa"/>
<circle cx="370.0" cy="800.1" r="4.85" fill="#1de7b2"/>
<circle cx="246.7" cy="881.5" r="4.85" fill="#4669e0"/>
<circle cx="258.2" cy="779.1" r="4.85" fill="#4249b1"/>
<circle cx="272.8" cy="806.5" r="4.85" fill="#424bb5"/>
<circle cx="212.9" cy="862.7" r="4.85" fill="#3a2d79"/>
<circle cx="220.7" cy="830.7" r="4.85" fill="#3c3286"/>
<circle cx="468.0" cy="633.2" r="4.85" fill="#458cfd"/>
<circle cx="313.2" cy="747.0" r="4.85" fill="#4249b1"/>
<circle cx="326.5" cy="725.8" r="4.85" fill="#476ee6"/>
<circle cx="208.1" cy="829.5" r="4.85" fill="#424bb5"/>
<circle cx="251.9" cy="818.3" r="4.85" fill="#3c3286"/>
<circle cx="176.3" cy="913.3" r="4.85" fill="#321543"/>
<circle cx="297.3" cy="755.9" r="4.85" fill="#455ccf"/>
<circle cx="296.0" cy="774.5" r="4.85" fill="#466be3"/>
<circle cx="179.5" cy="833.0" r="4.85" fill="#455ed3"/>
<circle cx="182.5" cy="894.9" r="4.85" fill="#321543"/>
<circle cx="223.4" cy="877.7" r="4.85" fill="#4391fe"/>
<circle cx="235.2" cy="845.0" r="4.85" fill="#3c3286"/>
<circle cx="169.6" cy="838.0" r="4.85" fill="#466be3"/>
<circle cx="352.9" cy="724.7" r="4.85" fill="#4249b1"/>
<circle cx="227.7" cy="857.8" r="4.85" fill="#3b2f80"/>
<circle cx="236.2" cy="863.6" r="4.85" fill="#3a2d79"/>
<circle cx="251.0" cy="837.7" r="4.85" fill="#3e3891"/>
<circle cx="257.4" cy="833.2" r="4.85" fill="#4040a2"/>
<circle cx="386.7" cy="691.6" r="4.85" fill="#4559cb"/>
<circle cx="180.6" cy="893.6" r="4.85" fill="#392a73"/>
<circle cx="245.0" cy="877.6" r="4.85" fill="#4456c7"/>
<circle cx="350.3" cy="754.4" r="4.85" fill="#466be3"/>
<circle cx="352.0" cy="835.3" r="4.85" fill="#e4450a"/>
<circle cx="330.5" cy="753.9" r="4.85" fill="#3d358b"/>
<circle cx="354.4" cy="736.6" r="4.85" fill="#4249b1"/>
<circle cx="225.2" cy="843.1" r="4.85" fill="#3a2d79"/>
<circle cx="244.5" cy="840.1" r="4.85" fill="#38276d"/>
<circle cx="244.6" cy="854.3" r="4.85" fill="#3f3e9c"/>
<circle cx="229.8" cy="839.9" r="4.85" fill="#3f3e9c"/>
<circle cx="262.8" cy="787.2" r="4.85" fill="#455ed3"/>
<circle cx="277.6" cy="797.9" r="4.85" fill="#4143a7"/>
<circle cx="268.2" cy="817.1" r="4.85" fill="#3d358b"/>
<circle cx="299.5" cy="788.3" r="4.85" fill="#3b2f80"/>
<circle cx="317.4" cy="795.9" r="4.85" fill="#4661d6"/>
<circle cx="205.4" cy="877.3" r="4.85" fill="#351e58"/>
<circle cx="231.0" cy="823.4" r="4.85" fill="#4249b1"/>
<circle cx="397.6" cy="765.3" r="4.85" fill="#a4fc3c"/>
<circle cx="305.2" cy="758.5" r="4.85" fill="#4143a7"/>
<circle cx="247.0" cy="901.1" r="4.85" fill="#3f3e9c"/>
<circle cx="235.3" cy="838.6" r="4.85" fill="#434eba"/>
<circle cx="336.8" cy="748.9" r="4.85" fill="#4146ac"/>
<circle cx="261.9" cy="860.8" r="4.85" fill="#476ee6"/>
<circle cx="185.3" cy="868.3" r="4.85" fill="#3a2d79"/>
<circle cx="176.0" cy="882.8" r="4.85" fill="#38276d"/>
<circle cx="216.8" cy="850.6" r="4.85" fill="#3f3e9c"/>
<circle cx="162.9" cy="899.2" r="4.85" fill="#455ed3"/>
<circle cx="161.7" cy="913.6" r="4.85" fill="#33184a"/>
<circle cx="292.3" cy="796.8" r="4.85" fill="#4249b1"/>
<circle cx="243.9" cy="867.0" r="4.85" fill="#4771e9"/>
<circle cx="241.8" cy="832.9" r="4.85" fill="#3f3b97"/>
<circle cx="252.2" cy="864.1" r="4.85" fill="#4196ff"/>
<circle cx="359.6" cy="673.8" r="4.85" fill="#1fc9dd"/>
<circle cx="497.0" cy="634.3" r="4.85" fill="#477bf2"/>
<circle cx="263.7" cy="824.3" r="4.85" fill="#434eba"/>
<circle cx="475.6" cy="637.7" r="4.85" fill="#455ccf"/>
<circle cx="194.1" cy="817.8" r="4.85" fill="#4661d6"/>
<circle cx="205.3" cy="778.1" r="4.85" fill="#4666dd"/>
<circle cx="191.9" cy="801.4" r="4.85" fill="#2cf09e"/>
<circle cx="221.5" cy="849.9" r="4.85" fill="#392a73"/>
<circle cx="162.9" cy="797.0" r="4.85" fill="#4666dd"/>
<circle cx="161.8" cy="862.4" r="4.85" fill="#466be3"/>
<circle cx="164.2" cy="885.0" r="4.85" fill="#38276d"/>
<circle cx="205.6" cy="865.2" r="4.85" fill="#3f3e9c"/>
<circle cx="241.6" cy="849.5" r="4.85" fill="#3d358b"/>
<circle cx="347.5" cy="740.5" r="4.85" fill="#3e3891"/>
<circle cx="343.1" cy="697.3" r="4.85" fill="#4559cb"/>
<circle cx="288.6" cy="804.0" r="4.85" fill="#4456c7"/>
<circle cx="245.4" cy="838.0" r="4.85" fill="#3c3286"/>
<circle cx="331.1" cy="743.7" r="4.85" fill="#424bb5"/>
<circle cx="290.0" cy="833.2" r="4.85" fill="#1bd0d5"/>
<circle cx="271.6" cy="799.8" r="4.85" fill="#4249b1"/>
<circle cx="225.5" cy="811.8" r="4.85" fill="#476ee6"/>
<circle cx="207.3" cy="840.9" r="4.85" fill="#3a2d79"/>
<circle cx="301.5" cy="795.5" r="4.85" fill="#4146ac"/>
<circle cx="177.4" cy="912.1" r="4.85" fill="#38276d"/>
<circle cx="196.3" cy="875.6" r="4.85" fill="#36215f"/>
<circle cx="315.4" cy="759.4" r="4.85" fill="#4661d6"/>
<circle cx="234.0" cy="853.1" r="4.85" fill="#4146ac"/>
<circle cx="330.9" cy="726.4" r="4.85" fill="#455ccf"/>
<circle cx="168.8" cy="893.6" r="4.85" fill="#392a73"/>
<circle cx="172.6" cy="786.1" r="4.85" fill="#4666dd"/>
<circle cx="308.4" cy="771.0" r="4.85" fill="#4456c7"/>
<circle cx="197.7" cy="864.9" r="4.85" fill="#3f3e9c"/>
<circle cx="181.4" cy="909.0" r="4.85" fill="#392a73"/>
<circle cx="334.9" cy="726.9" r="4.85" fill="#4456c7"/>
<circle cx="293.7" cy="779.1" r="4.85" fill="#3f3e9c"/>
<circle cx="353.7" cy="724.9" r="4.85" fill="#4146ac"/>
<circle cx="208.2" cy="895.4" r="4.85" fill="#467df4"/>
<circle cx="223.3" cy="805.1" r="4.85" fill="#3f3b97"/>
<circle cx="172.3" cy="910.3" r="4.85" fill="#392a73"/>
<circle cx="242.2" cy="811.0" r="4.85" fill="#3f3b97"/>
<circle cx="252.6" cy="840.5" r="4.85" fill="#4776ee"/>
<circle cx="217.7" cy="832.9" r="4.85" fill="#434eba"/>
<circle cx="190.0" cy="869.9" r="4.85" fill="#455ed3"/>
<circle cx="164.9" cy="853.6" r="4.85" fill="#4456c7"/>
<circle cx="313.4" cy="743.5" r="4.85" fill="#455ed3"/>
<circle cx="382.5" cy="717.5" r="4.85" fill="#4776ee"/>
<circle cx="183.2" cy="904.3" r="4.85" fill="#3c3286"/>
<circle cx="205.7" cy="882.8" r="4.85" fill="#3f3b97"/>
<circle cx="202.5" cy="867.9" r="4.85" fill="#3e3891"/>
<circle cx="164.9" cy="788.0" r="4.85" fill="#1ecbda"/>
<circle cx="168.4" cy="899.1" r="4.85" fill="#33184a"/>
<circle cx="307.6" cy="780.9" r="4.85" fill="#3e3891"/>
<circle cx="264.7" cy="815.0" r="4.85" fill="#3a2d79"/>
<circle cx="198.0" cy="894.2" r="4.85" fill="#3e3891"/>
<circle cx="215.3" cy="883.5" r="4.85" fill="#477bf2"/>
<circle cx="281.1" cy="778.3" r="4.85" fill="#4666dd"/>
<circle cx="245.1" cy="852.4" r="4.85" fill="#434eba"/>
<circle cx="218.5" cy="876.7" r="4.85" fill="#4146ac"/>
<circle cx="325.9" cy="767.2" r="4.85" fill="#3f3e9c"/>
<circle cx="336.7" cy="813.3" r="4.85" fill="#476ee6"/>
<circle cx="230.3" cy="810.5" r="4.85" fill="#3e9bfe"/>
<circle cx="174.7" cy="908.2" r="4.85" fill="#351e58"/>
<circle cx="272.5" cy="819.4" r="4.85" fill="#4040a2"/>
<circle cx="221.4" cy="806.0" r="4.85" fill="#4146ac"/>
<circle cx="358.7" cy="718.3" r="4.85" fill="#424bb5"/>
<circle cx="329.7" cy="759.1" r="4.85" fill="#4143a7"/>
<circle cx="333.8" cy="804.5" r="4.85" fill="#18d9c8"/>
<circle cx="329.7" cy="736.2" r="4.85" fill="#4454c3"/>
<circle cx="239.8" cy="844.3" r="4.85" fill="#3e3891"/>
<circle cx="309.1" cy="755.9" r="4.85" fill="#4040a2"/>
<circle cx="185.5" cy="830.5" r="4.85" fill="#4146ac"/>
<circle cx="336.2" cy="748.2" r="4.85" fill="#3c3286"/>
<circle cx="199.8" cy="889.3" r="4.85" fill="#3f3b97"/>
<circle cx="176.4" cy="877.6" r="4.85" fill="#3d358b"/>
<circle cx="165.4" cy="918.0" r="4.85" fill="#36215f"/>
<circle cx="322.3" cy="800.4" r="4.85" fill="#3f3e9c"/>
<circle cx="219.6" cy="868.8" r="4.85" fill="#36215f"/>
<circle cx="163.4" cy="917.9" r="4.85" fill="#372466"/>
<circle cx="304.5" cy="771.5" r="4.85" fill="#434eba"/>
<circle cx="323.6" cy="739.7" r="4.85" fill="#4682f8"/>
<circle cx="200.5" cy="813.9" r="4.85" fill="#fe962b"/>
<circle cx="220.2" cy="837.7" r="4.85" fill="#3f3e9c"/>
<circle cx="241.8" cy="826.9" r="4.85" fill="#3e3891"/>
<circle cx="353.1" cy="701.6" r="4.85" fill="#4456c7"/>
<circle cx="204.2" cy="856.3" r="4.85" fill="#466be3"/>
<circle cx="177.8" cy="889.6" r="4.85" fill="#372466"/>
<circle cx="221.3" cy="851.7" r="4.85" fill="#3a2d79"/>
<circle cx="259.1" cy="812.4" r="4.85" fill="#424bb5"/>
<circle cx="369.3" cy="734.0" r="4.85" fill="#4559cb"/>
<circle cx="249.0" cy="826.4" r="4.85" fill="#4146ac"/>
<circle cx="189.8" cy="906.7" r="4.85" fill="#3f3e9c"/>
<circle cx="166.8" cy="845.6" r="4.85" fill="#4249b1"/>
<circle cx="291.0" cy="757.5" r="4.85" fill="#477bf2"/>
<circle cx="255.0" cy="822.8" r="4.85" fill="#434eba"/>
<circle cx="270.6" cy="763.8" r="4.85" fill="#4664da"/>
<circle cx="188.8" cy="905.0" r="4.85" fill="#351e58"/>
<circle cx="271.8" cy="835.6" r="4.85" fill="#4685fa"/>
<circle cx="204.7" cy="870.6" r="4.85" fill="#341b51"/>
<circle cx="333.3" cy="748.0" r="4.85" fill="#4146ac"/>
<circle cx="169.5" cy="884.9" r="4.85" fill="#4451bf"/>
<circle cx="258.9" cy="823.6" r="4.85" fill="#424bb5"/>
<circle cx="358.9" cy="732.9" r="4.85" fill="#4040a2"/>
<circle cx="217.2" cy="867.9" r="4.85" fill="#4249b1"/>
<circle cx="209.3" cy="903.2" r="4.85" fill="#434eba"/>
<circle cx="285.5" cy="790.8" r="4.85" fill="#4143a7"/>
<circle cx="201.4" cy="903.9" r="4.85" fill="#4771e9"/>
<circle cx="266.6" cy="777.4" r="4.85" fill="#458afc"/>
<circle cx="452.2" cy="673.0" r="4.85" fill="#4456c7"/>
<circle cx="162.2" cy="890.8" r="4.85" fill="#3b2f80"/>
<circle cx="283.1" cy="758.7" r="4.85" fill="#18ddc2"/>
<circle cx="163.0" cy="889.0" r="4.85" fill="#3f3b97"/>
<circle cx="292.0" cy="777.2" r="4.85" fill="#4456c7"/>
<circle cx="193.1" cy="892.4" r="4.85" fill="#351e58"/>
<circle cx="320.3" cy="796.7" r="4.85" fill="#424bb5"/>
<circle cx="235.0" cy="828.0" r="4.85" fill="#4778f0"/>
<circle cx="256.2" cy="837.8" r="4.85" fill="#4146ac"/>
<circle cx="259.3" cy="828.1" r="4.85" fill="#4249b1"/>
<circle cx="345.6" cy="733.6" r="4.85" fill="#4143a7"/>
<circle cx="302.5" cy="813.8" r="4.85" fill="#4451bf"/>
<circle cx="163.7" cy="869.9" r="4.85" fill="#455ccf"/>
<circle cx="165.9" cy="915.1" r="4.85" fill="#341b51"/>
<circle cx="218.3" cy="849.0" r="4.85" fill="#434eba"/>
<circle cx="206.7" cy="868.2" r="4.85" fill="#372466"/>
<circle cx="207.0" cy="898.9" r="4.85" fill="#4146ac"/>
<circle cx="165.2" cy="893.2" r="4.85" fill="#33184a"/>
<circle cx="214.5" cy="875.9" r="4.85" fill="#3a2d79"/>
<circle cx="162.6" cy="915.4" r="4.85" fill="#30123b"/>
<circle cx="181.5" cy="853.6" r="4.85" fill="#fe962b"/>
<circle cx="185.6" cy="888.0" r="4.85" fill="#30123b"/>
<circle cx="310.7" cy="762.1" r="4.85" fill="#4559cb"/>
<circle cx="220.4" cy="892.2" r="4.85" fill="#434eba"/>
<circle cx="191.1" cy="875.7" r="4.85" fill="#3d358b"/>
<circle cx="302.0" cy="749.3" r="4.85" fill="#4773eb"/>
<circle cx="199.1" cy="882.3" r="4.85" fill="#372466"/>
<circle cx="184.9" cy="875.0" r="4.85" fill="#4146ac"/>
<circle cx="203.0" cy="858.7" r="4.85" fill="#4040a2"/>
<circle cx="164.2" cy="893.1" r="4.85" fill="#372466"/>
<circle cx="321.5" cy="764.5" r="4.85" fill="#4040a2"/>
<circle cx="271.0" cy="804.9" r="4.85" fill="#3e3891"/>
<circle cx="164.5" cy="902.4" r="4.85" fill="#341b51"/>
<circle cx="202.0" cy="863.5" r="4.85" fill="#4451bf"/>
<circle cx="245.3" cy="821.7" r="4.85" fill="#3c3286"/>
<circle cx="171.8" cy="849.2" r="4.85" fill="#4040a2"/>
<circle cx="195.9" cy="855.3" r="4.85" fill="#392a73"/>
<circle cx="192.6" cy="884.7" r="4.85" fill="#372466"/>
<circle cx="248.4" cy="814.9" r="4.85" fill="#4773eb"/>
<circle cx="209.1" cy="831.0" r="4.85" fill="#3b2f80"/>
<circle cx="277.9" cy="778.6" r="4.85" fill="#3ba0fd"/>
<circle cx="206.1" cy="886.2" r="4.85" fill="#392a73"/>
<circle cx="173.5" cy="885.7" r="4.85" fill="#392a73"/>
<circle cx="291.9" cy="742.9" r="4.85" fill="#434eba"/>
<circle cx="171.0" cy="908.5" r="4.85" fill="#341b51"/>
<circle cx="172.9" cy="901.1" r="4.85" fill="#33184a"/>
<circle cx="348.0" cy="680.9" r="4.85" fill="#2ab9ee"/>
<circle cx="308.6" cy="778.1" r="4.85" fill="#3c3286"/>
<circle cx="318.3" cy="754.5" r="4.85" fill="#424bb5"/>
<circle cx="163.3" cy="911.7" r="4.85" fill="#33184a"/>
<circle cx="190.9" cy="900.5" r="4.85" fill="#3d358b"/>
<circle cx="193.5" cy="902.4" r="4.85" fill="#476ee6"/>
<circle cx="189.9" cy="841.7" r="4.85" fill="#424bb5"/>
<circle cx="215.6" cy="871.6" r="4.85" fill="#3b2f80"/>
<circle cx="211.0" cy="890.4" r="4.85" fill="#434eba"/>
<circle cx="183.7" cy="838.4" r="4.85" fill="#3f3e9c"/>
<circle cx="369.9" cy="755.5" r="4.85" fill="#4771e9"/>
<circle cx="218.0" cy="893.3" r="4.85" fill="#4454c3"/>
<circle cx="308.4" cy="779.9" r="4.85" fill="#424bb5"/>
<circle cx="198.4" cy="858.9" r="4.85" fill="#4559cb"/>
<circle cx="211.1" cy="830.4" r="4.85" fill="#477bf2"/>
<circle cx="208.8" cy="898.0" r="4.85" fill="#3f3b97"/>
<circle cx="259.9" cy="828.2" r="4.85" fill="#3c3286"/>
<circle cx="185.9" cy="872.1" r="4.85" fill="#4143a7"/>
<circle cx="185.5" cy="883.6" r="4.85" fill="#4040a2"/>
<circle cx="172.6" cy="903.0" r="4.85" fill="#351e58"/>
<circle cx="162.6" cy="872.6" r="4.85" fill="#3e9bfe"/>
</g>
<path d="M160.3 916.8L499.1 596.0" stroke="#cc444c" stroke-width="2.4" stroke-dasharray="7.4,3.2" fill="none"/>
</g>
<rect x="151.9" y="586.9" width="357.9" height="338.9" fill="none" stroke="#cccccc" stroke-width="1.7"/>
<rect x="161.8" y="595.4" width="128.3" height="68.2" rx="7" fill="#fff" fill-opacity="0.85" stroke="#7f7f7f" stroke-width="1.4"/>
<text x="170.1" y="615.7" font-size="16.67">R² = 0.85</text>
<text x="170.1" y="633.5" font-size="16.67">MAE = 65 K</text>
<text x="170.1" y="651.4" font-size="16.67">RMSE = 104 K</text>
<text x="161.6" y="951.2" text-anchor="middle" font-size="18.33" letter-spacing="0.6">0</text>
<text x="225.5" y="951.2" text-anchor="middle" font-size="18.33" letter-spacing="0.6">250</text>
<text x="289.4" y="951.2" text-anchor="middle" font-size="18.33" letter-spacing="0.6">500</text>
<text x="353.4" y="951.2" text-anchor="middle" font-size="18.33" letter-spacing="0.6">750</text>
<text x="417.3" y="951.2" text-anchor="middle" font-size="18.33" letter-spacing="0.6">1000</text>
<text x="481.2" y="951.2" text-anchor="middle" font-size="18.33" letter-spacing="0.6">1250</text>
<text x="141.3" y="922.9" text-anchor="end" font-size="18.33" letter-spacing="0.6">0</text>
<text x="141.3" y="874.5" text-anchor="end" font-size="18.33" letter-spacing="0.6">200</text>
<text x="141.3" y="826.1" text-anchor="end" font-size="18.33" letter-spacing="0.6">400</text>
<text x="141.3" y="777.6" text-anchor="end" font-size="18.33" letter-spacing="0.6">600</text>
<text x="141.3" y="729.2" text-anchor="end" font-size="18.33" letter-spacing="0.6">800</text>
<text x="141.3" y="680.8" text-anchor="end" font-size="18.33" letter-spacing="0.6">1000</text>
<text x="141.3" y="632.4" text-anchor="end" font-size="18.33" letter-spacing="0.6">1200</text>
<text x="330.9" y="981.9" text-anchor="middle" font-size="21.67">Actual Curie Temperature (K)</text>
<text transform="translate(82.3,756.3) rotate(-90)" text-anchor="middle" font-size="21.67">Predicted Curie Temperature (K)</text>
<rect x="523.65" y="587.95" width="15.00" height="337.10" fill="url(#grd)" fill-opacity="0.88"/>
<rect x="523.00" y="587.30" width="16.30" height="338.40" fill="none" stroke="#d8dad8" stroke-width="1.3"/>
<text x="551.6" y="881.7" font-size="18.33" letter-spacing="0.3">20</text>
<text x="551.6" y="829.1" font-size="18.33" letter-spacing="0.3">40</text>
<text x="551.6" y="776.4" font-size="18.33" letter-spacing="0.3">60</text>
<text x="551.6" y="723.7" font-size="18.33" letter-spacing="0.3">80</text>
<text x="551.6" y="671.1" font-size="18.33" letter-spacing="0.3">100</text>
<text x="551.6" y="618.4" font-size="18.33" letter-spacing="0.3">120</text>
<path d="M539.8 875.2h5.8M539.8 822.6h5.8M539.8 769.9h5.8M539.8 717.2h5.8M539.8 664.6h5.8M539.8 611.9h5.8" stroke="#262626" stroke-width="1.3"/>
<text transform="translate(599.8,756.3) rotate(-90)" text-anchor="middle" font-size="16.67">Prediction Std Deviation (K)</text>
<text x="683.3" y="536.3" font-size="31.5" font-weight="bold" fill="#000">e</text>
<text x="997.5" y="563.4" text-anchor="middle" font-size="23.33" letter-spacing="0.25">ENN with Stratified Undersampling</text>
<path d="M828.1 586.9V925.8M892.0 586.9V925.8M955.9 586.9V925.8M1019.8 586.9V925.8M1083.7 586.9V925.8M1147.6 586.9V925.8M818.0 915.6H1177.0M818.0 867.2H1177.0M818.0 818.8H1177.0M818.0 770.3H1177.0M818.0 721.9H1177.0M818.0 673.5H1177.0M818.0 625.1H1177.0" stroke="#e6e6e6" stroke-width="1.1" stroke-dasharray="4.6,1.5" fill="none"/>
<g clip-path="url(#clipe)">
<path d="M1135.9 590.4v60.1m-2.5 0h5m0 -60.1h-5M1099.7 621.9v60.1m-2.5 0h5m0 -60.1h-5M980.0 692.5v36.9m-2.5 0h5m0 -36.9h-5M886.4 770.8v69.5m-2.5 0h5m0 -69.5h-5M977.8 796.9v38.8m-2.5 0h5m0 -38.8h-5M1096.0 632.7v37.7m-2.5 0h5m0 -37.7h-5M882.1 775.6v52.0m-2.5 0h5m0 -52.0h-5M969.7 723.8v55.6m-2.5 0h5m0 -55.6h-5M1148.2 618.7v31.2m-2.5 0h5m0 -31.2h-5M869.3 889.4v29.7m-2.5 0h5m0 -29.7h-5M1078.0 675.2v34.3m-2.5 0h5m0 -34.3h-5M1101.1 608.5v51.0m-2.5 0h5m0 -51.0h-5M879.2 876.2v49.4m-2.5 0h5m0 -49.4h-5M995.5 781.8v32.5m-2.5 0h5m0 -32.5h-5M888.8 872.7v34.4m-2.5 0h5m0 -34.4h-5M899.0 757.6v42.4m-2.5 0h5m0 -42.4h-5M1019.5 766.8v49.0m-2.5 0h5m0 -49.0h-5M829.5 830.1v28.7m-2.5 0h5m0 -28.7h-5M916.9 782.9v33.2m-2.5 0h5m0 -33.2h-5M1082.5 644.5v31.4m-2.5 0h5m0 -31.4h-5M1009.0 785.4v74.2m-2.5 0h5m0 -74.2h-5M1029.3 686.3v41.5m-2.5 0h5m0 -41.5h-5M937.7 761.5v33.2m-2.5 0h5m0 -33.2h-5M839.6 788.9v45.2m-2.5 0h5m0 -45.2h-5M903.4 865.0v34.8m-2.5 0h5m0 -34.8h-5M1002.6 689.1v50.7m-2.5 0h5m0 -50.7h-5M1052.9 688.2v30.2m-2.5 0h5m0 -30.2h-5M890.3 881.5v21.4m-2.5 0h5m0 -21.4h-5M881.3 780.7v54.1m-2.5 0h5m0 -54.1h-5M905.9 859.1v49.0m-2.5 0h5m0 -49.0h-5M904.9 770.5v28.9m-2.5 0h5m0 -28.9h-5M973.7 786.7v46.7m-2.5 0h5m0 -46.7h-5M1023.4 645.9v28.4m-2.5 0h5m0 -28.4h-5M1147.6 585.0v49.8m-2.5 0h5m0 -49.8h-5M927.3 820.7v97.5m-2.5 0h5m0 -97.5h-5M1073.2 675.0v45.9m-2.5 0h5m0 -45.9h-5M884.3 863.9v47.6m-2.5 0h5m0 -47.6h-5M1077.0 685.1v167.4m-2.5 0h5m0 -167.4h-5M1094.5 666.3v19.6m-2.5 0h5m0 -19.6h-5M945.8 851.0v25.2m-2.5 0h5m0 -25.2h-5M976.5 699.2v38.9m-2.5 0h5m0 -38.9h-5M1023.9 676.4v38.0m-2.5 0h5m0 -38.0h-5M903.8 870.4v32.2m-2.5 0h5m0 -32.2h-5M1160.3 601.4v25.8m-2.5 0h5m0 -25.8h-5M1108.7 629.3v26.0m-2.5 0h5m0 -26.0h-5M1090.1 630.7v48.8m-2.5 0h5m0 -48.8h-5M1025.1 639.8v58.0m-2.5 0h5m0 -58.0h-5M924.8 766.0v32.7m-2.5 0h5m0 -32.7h-5M1000.8 772.7v29.7m-2.5 0h5m0 -29.7h-5M899.9 762.9v50.7m-2.5 0h5m0 -50.7h-5M1005.6 804.0v72.0m-2.5 0h5m0 -72.0h-5M1054.0 714.4v60.4m-2.5 0h5m0 -60.4h-5M927.3 767.2v32.3m-2.5 0h5m0 -32.3h-5M1152.4 608.8v41.8m-2.5 0h5m0 -41.8h-5M963.5 793.0v27.5m-2.5 0h5m0 -27.5h-5M1061.1 697.1v32.1m-2.5 0h5m0 -32.1h-5M1026.4 674.0v45.7m-2.5 0h5m0 -45.7h-5M955.8 825.4v43.0m-2.5 0h5m0 -43.0h-5M1134.2 672.2v46.5m-2.5 0h5m0 -46.5h-5M866.8 798.5v47.3m-2.5 0h5m0 -47.3h-5M1055.5 639.8v49.0m-2.5 0h5m0 -49.0h-5M1028.6 559.6v89.7m-2.5 0h5m0 -89.7h-5M1105.9 641.8v28.6m-2.5 0h5m0 -28.6h-5M1030.4 742.0v36.7m-2.5 0h5m0 -36.7h-5M1025.5 751.0v64.0m-2.5 0h5m0 -64.0h-5M1045.4 712.6v57.6m-2.5 0h5m0 -57.6h-5M871.1 793.3v32.3m-2.5 0h5m0 -32.3h-5M977.4 677.7v41.4m-2.5 0h5m0 -41.4h-5M910.8 788.2v30.4m-2.5 0h5m0 -30.4h-5M866.2 804.2v30.3m-2.5 0h5m0 -30.3h-5M923.1 640.9v117.1m-2.5 0h5m0 -117.1h-5M998.3 769.4v45.1m-2.5 0h5m0 -45.1h-5M1013.9 522.4v202.8m-2.5 0h5m0 -202.8h-5M1090.2 681.8v41.3m-2.5 0h5m0 -41.3h-5M943.0 730.6v29.2m-2.5 0h5m0 -29.2h-5M889.0 871.0v31.6m-2.5 0h5m0 -31.6h-5M943.3 789.7v64.0m-2.5 0h5m0 -64.0h-5M946.9 817.4v44.2m-2.5 0h5m0 -44.2h-5M1014.4 672.7v43.3m-2.5 0h5m0 -43.3h-5M943.6 818.8v34.4m-2.5 0h5m0 -34.4h-5M917.1 784.2v24.6m-2.5 0h5m0 -24.6h-5M1112.8 639.0v50.4m-2.5 0h5m0 -50.4h-5M983.8 786.8v47.6m-2.5 0h5m0 -47.6h-5M908.8 787.3v22.9m-2.5 0h5m0 -22.9h-5M922.7 760.8v42.0m-2.5 0h5m0 -42.0h-5M983.0 790.2v42.8m-2.5 0h5m0 -42.8h-5M849.2 895.9v29.0m-2.5 0h5m0 -29.0h-5M1002.8 683.1v41.2m-2.5 0h5m0 -41.2h-5M831.5 826.1v27.8m-2.5 0h5m0 -27.8h-5M960.0 816.2v36.5m-2.5 0h5m0 -36.5h-5M1043.9 725.8v96.7m-2.5 0h5m0 -96.7h-5M881.1 885.5v33.4m-2.5 0h5m0 -33.4h-5M994.7 770.3v39.1m-2.5 0h5m0 -39.1h-5M873.3 878.8v41.5m-2.5 0h5m0 -41.5h-5M929.3 823.4v42.2m-2.5 0h5m0 -42.2h-5M864.4 904.4v20.3m-2.5 0h5m0 -20.3h-5M1139.6 634.5v35.2m-2.5 0h5m0 -35.2h-5M937.1 734.3v41.0m-2.5 0h5m0 -41.0h-5M948.4 734.7v43.1m-2.5 0h5m0 -43.1h-5M1142.0 610.1v36.8m-2.5 0h5m0 -36.8h-5M1026.2 772.1v30.4m-2.5 0h5m0 -30.4h-5M1126.4 605.4v39.0m-2.5 0h5m0 -39.0h-5M957.5 750.0v43.4m-2.5 0h5m0 -43.4h-5M970.9 679.2v54.0m-2.5 0h5m0 -54.0h-5M998.1 715.2v36.9m-2.5 0h5m0 -36.9h-5M1083.0 624.0v40.4m-2.5 0h5m0 -40.4h-5M1133.1 633.5v48.3m-2.5 0h5m0 -48.3h-5M957.7 826.6v72.8m-2.5 0h5m0 -72.8h-5M1077.9 626.7v31.8m-2.5 0h5m0 -31.8h-5M935.5 734.1v45.0m-2.5 0h5m0 -45.0h-5M1019.3 702.4v33.7m-2.5 0h5m0 -33.7h-5M1046.3 749.9v66.9m-2.5 0h5m0 -66.9h-5M997.6 691.5v27.4m-2.5 0h5m0 -27.4h-5M986.6 714.4v47.4m-2.5 0h5m0 -47.4h-5M878.2 876.5v37.8m-2.5 0h5m0 -37.8h-5M903.3 766.2v24.9m-2.5 0h5m0 -24.9h-5M940.1 843.7v50.2m-2.5 0h5m0 -50.2h-5M1151.8 595.4v27.4m-2.5 0h5m0 -27.4h-5M985.5 767.4v57.0m-2.5 0h5m0 -57.0h-5M1119.9 620.3v34.3m-2.5 0h5m0 -34.3h-5M905.8 870.8v25.8m-2.5 0h5m0 -25.8h-5M1043.8 636.8v50.6m-2.5 0h5m0 -50.6h-5M832.1 644.5v180.9m-2.5 0h5m0 -180.9h-5M896.1 874.1v31.4m-2.5 0h5m0 -31.4h-5M1139.8 587.7v41.6m-2.5 0h5m0 -41.6h-5M1084.4 632.6v47.7m-2.5 0h5m0 -47.7h-5M1094.6 684.4v32.3m-2.5 0h5m0 -32.3h-5M868.5 761.6v70.8m-2.5 0h5m0 -70.8h-5M1053.5 701.6v42.3m-2.5 0h5m0 -42.3h-5M1078.2 671.1v40.4m-2.5 0h5m0 -40.4h-5M887.0 816.7v20.8m-2.5 0h5m0 -20.8h-5M1015.0 786.5v18.5m-2.5 0h5m0 -18.5h-5M1078.8 656.6v21.9m-2.5 0h5m0 -21.9h-5M902.4 874.2v21.3m-2.5 0h5m0 -21.3h-5M859.7 806.9v58.9m-2.5 0h5m0 -58.9h-5M948.6 812.9v114.0m-2.5 0h5m0 -114.0h-5M1027.7 755.8v26.2m-2.5 0h5m0 -26.2h-5M891.1 874.6v30.6m-2.5 0h5m0 -30.6h-5M1015.1 794.9v50.9m-2.5 0h5m0 -50.9h-5M896.5 868.1v37.8m-2.5 0h5m0 -37.8h-5M973.3 834.6v38.8m-2.5 0h5m0 -38.8h-5M930.7 836.9v30.4m-2.5 0h5m0 -30.4h-5M949.5 835.3v28.1m-2.5 0h5m0 -28.1h-5M1027.0 747.0v41.6m-2.5 0h5m0 -41.6h-5M1053.4 674.8v14.7m-2.5 0h5m0 -14.7h-5M876.3 798.3v32.3m-2.5 0h5m0 -32.3h-5M1159.4 597.7v33.6m-2.5 0h5m0 -33.6h-5M1093.6 556.9v108.9m-2.5 0h5m0 -108.9h-5M949.7 834.0v61.3m-2.5 0h5m0 -61.3h-5M1064.0 672.4v40.2m-2.5 0h5m0 -40.2h-5M1086.6 653.5v29.0m-2.5 0h5m0 -29.0h-5M1104.9 591.5v58.8m-2.5 0h5m0 -58.8h-5M1003.7 663.6v74.5m-2.5 0h5m0 -74.5h-5M880.2 862.0v49.8m-2.5 0h5m0 -49.8h-5M1125.7 609.8v53.8m-2.5 0h5m0 -53.8h-5M896.9 731.2v102.0m-2.5 0h5m0 -102.0h-5M944.9 851.0v29.3m-2.5 0h5m0 -29.3h-5M1002.6 763.3v35.9m-2.5 0h5m0 -35.9h-5M1070.0 748.8v52.1m-2.5 0h5m0 -52.1h-5M948.5 814.2v72.3m-2.5 0h5m0 -72.3h-5M1138.8 595.0v33.7m-2.5 0h5m0 -33.7h-5M1002.9 770.2v35.3m-2.5 0h5m0 -35.3h-5M1142.4 614.1v39.1m-2.5 0h5m0 -39.1h-5M1045.2 616.1v36.6m-2.5 0h5m0 -36.6h-5M1138.4 599.0v36.6m-2.5 0h5m0 -36.6h-5M868.1 773.5v43.9m-2.5 0h5m0 -43.9h-5M1037.3 659.6v24.4m-2.5 0h5m0 -24.4h-5M1031.9 715.5v71.2m-2.5 0h5m0 -71.2h-5M993.4 781.5v31.7m-2.5 0h5m0 -31.7h-5M1001.7 767.4v34.0m-2.5 0h5m0 -34.0h-5M941.5 735.9v51.6m-2.5 0h5m0 -51.6h-5M1009.4 674.2v60.8m-2.5 0h5m0 -60.8h-5M902.1 795.5v19.5m-2.5 0h5m0 -19.5h-5M958.6 707.9v49.8m-2.5 0h5m0 -49.8h-5M1037.3 643.3v88.6m-2.5 0h5m0 -88.6h-5M839.6 670.0v70.3m-2.5 0h5m0 -70.3h-5M1009.7 652.5v55.2m-2.5 0h5m0 -55.2h-5M1100.5 655.0v26.8m-2.5 0h5m0 -26.8h-5M870.5 654.0v86.4m-2.5 0h5m0 -86.4h-5M892.3 660.3v86.4m-2.5 0h5m0 -86.4h-5M1133.2 628.1v41.4m-2.5 0h5m0 -41.4h-5M902.8 764.6v52.0m-2.5 0h5m0 -52.0h-5M905.0 685.8v58.3m-2.5 0h5m0 -58.3h-5M829.9 694.5v58.3m-2.5 0h5m0 -58.3h-5M1042.0 620.4v59.8m-2.5 0h5m0 -59.8h-5M1053.4 689.6v16.7m-2.5 0h5m0 -16.7h-5M905.0 703.9v70.3m-2.5 0h5m0 -70.3h-5M958.7 613.4v192.8m-2.5 0h5m0 -192.8h-5M1063.1 658.5v47.0m-2.5 0h5m0 -47.0h-5M969.6 724.1v39.2m-2.5 0h5m0 -39.2h-5M1066.6 700.8v20.8m-2.5 0h5m0 -20.8h-5M1115.4 601.1v35.1m-2.5 0h5m0 -35.1h-5M1028.9 681.6v35.5m-2.5 0h5m0 -35.5h-5M966.6 652.7v146.6m-2.5 0h5m0 -146.6h-5M1146.3 615.8v36.2m-2.5 0h5m0 -36.2h-5M879.6 882.0v34.7m-2.5 0h5m0 -34.7h-5M982.2 699.4v26.2m-2.5 0h5m0 -26.2h-5M1132.3 590.1v48.9m-2.5 0h5m0 -48.9h-5M1014.8 751.5v56.5m-2.5 0h5m0 -56.5h-5M876.0 766.4v18.8m-2.5 0h5m0 -18.8h-5M1067.6 653.6v25.1m-2.5 0h5m0 -25.1h-5M992.1 711.4v44.6m-2.5 0h5m0 -44.6h-5M901.2 790.1v34.6m-2.5 0h5m0 -34.6h-5M1060.8 725.6v78.5m-2.5 0h5m0 -78.5h-5M917.0 852.5v40.4m-2.5 0h5m0 -40.4h-5M862.0 798.7v51.0m-2.5 0h5m0 -51.0h-5M1109.3 582.0v50.0m-2.5 0h5m0 -50.0h-5M831.2 715.3v86.4m-2.5 0h5m0 -86.4h-5M1006.9 654.5v43.7m-2.5 0h5m0 -43.7h-5M846.0 725.7v70.3m-2.5 0h5m0 -70.3h-5M1041.5 639.1v73.8m-2.5 0h5m0 -73.8h-5M856.0 891.7v46.2m-2.5 0h5m0 -46.2h-5M915.1 865.2v26.7m-2.5 0h5m0 -26.7h-5M832.7 728.6v86.4m-2.5 0h5m0 -86.4h-5M1133.7 594.7v40.6m-2.5 0h5m0 -40.6h-5M879.1 864.1v63.3m-2.5 0h5m0 -63.3h-5M1154.4 591.5v35.6m-2.5 0h5m0 -35.6h-5M983.0 716.2v48.1m-2.5 0h5m0 -48.1h-5M999.7 812.7v58.3m-2.5 0h5m0 -58.3h-5M956.9 830.1v31.8m-2.5 0h5m0 -31.8h-5M1061.5 638.4v49.2m-2.5 0h5m0 -49.2h-5M872.3 687.6v146.6m-2.5 0h5m0 -146.6h-5M1119.6 638.5v37.0m-2.5 0h5m0 -37.0h-5M986.7 719.7v28.6m-2.5 0h5m0 -28.6h-5M894.3 727.4v42.2m-2.5 0h5m0 -42.2h-5M1075.2 627.3v35.0m-2.5 0h5m0 -35.0h-5M837.6 786.1v27.6m-2.5 0h5m0 -27.6h-5M939.1 825.5v21.6m-2.5 0h5m0 -21.6h-5M833.7 718.3v146.6m-2.5 0h5m0 -146.6h-5M993.6 800.8v24.1m-2.5 0h5m0 -24.1h-5M1078.5 618.8v41.7m-2.5 0h5m0 -41.7h-5M1045.9 635.2v58.3m-2.5 0h5m0 -58.3h-5M1152.1 605.6v47.9m-2.5 0h5m0 -47.9h-5M1084.5 622.9v26.2m-2.5 0h5m0 -26.2h-5M1103.9 650.3v26.4m-2.5 0h5m0 -26.4h-5M1084.7 665.7v34.2m-2.5 0h5m0 -34.2h-5M910.6 747.8v59.7m-2.5 0h5m0 -59.7h-5M1157.3 647.1v44.5m-2.5 0h5m0 -44.5h-5M1063.0 690.1v35.3m-2.5 0h5m0 -35.3h-5M840.6 734.5v24.7m-2.5 0h5m0 -24.7h-5M962.1 741.2v38.6m-2.5 0h5m0 -38.6h-5M1156.3 609.1v59.4m-2.5 0h5m0 -59.4h-5M875.3 888.0v27.5m-2.5 0h5m0 -27.5h-5M1078.9 702.4v55.7m-2.5 0h5m0 -55.7h-5M1135.1 678.0v70.3m-2.5 0h5m0 -70.3h-5M1084.4 624.1v37.5m-2.5 0h5m0 -37.5h-5M1099.9 726.6v45.0m-2.5 0h5m0 -45.0h-5M1115.4 721.6v14.1m-2.5 0h5m0 -14.1h-5M1094.4 656.2v102.5m-2.5 0h5m0 -102.5h-5M1022.9 697.2v42.4m-2.5 0h5m0 -42.4h-5M935.2 839.3v23.7m-2.5 0h5m0 -23.7h-5M932.0 717.0v66.7m-2.5 0h5m0 -66.7h-5M1083.2 643.8v146.6m-2.5 0h5m0 -146.6h-5M982.6 692.7v68.8m-2.5 0h5m0 -68.8h-5M970.3 822.9v25.0m-2.5 0h5m0 -25.0h-5M1022.2 797.6v74.4m-2.5 0h5m0 -74.4h-5M1053.8 696.3v174.7m-2.5 0h5m0 -174.7h-5M886.3 877.3v26.6m-2.5 0h5m0 -26.6h-5M1089.1 630.3v38.2m-2.5 0h5m0 -38.2h-5M1046.3 738.2v25.2m-2.5 0h5m0 -25.2h-5M1160.2 587.1v33.1m-2.5 0h5m0 -33.1h-5M1087.0 713.2v146.6m-2.5 0h5m0 -146.6h-5M970.4 837.1v40.5m-2.5 0h5m0 -40.5h-5M1071.9 736.1v86.4m-2.5 0h5m0 -86.4h-5M1093.8 675.3v55.5m-2.5 0h5m0 -55.5h-5M1026.2 649.6v25.1m-2.5 0h5m0 -25.1h-5M1045.9 601.8v27.5m-2.5 0h5m0 -27.5h-5M858.2 806.3v35.0m-2.5 0h5m0 -35.0h-5M942.3 809.8v36.1m-2.5 0h5m0 -36.1h-5M890.0 871.4v31.6m-2.5 0h5m0 -31.6h-5M1083.4 737.4v14.1m-2.5 0h5m0 -14.1h-5M1125.9 562.1v92.8m-2.5 0h5m0 -92.8h-5M1040.8 625.3v55.6m-2.5 0h5m0 -55.6h-5M1107.2 712.4v70.3m-2.5 0h5m0 -70.3h-5M869.2 800.2v59.5m-2.5 0h5m0 -59.5h-5M1124.0 587.0v42.4m-2.5 0h5m0 -42.4h-5M982.1 687.8v40.2m-2.5 0h5m0 -40.2h-5M1084.6 687.6v46.0m-2.5 0h5m0 -46.0h-5M1054.1 685.2v28.9m-2.5 0h5m0 -28.9h-5M1042.9 737.1v52.1m-2.5 0h5m0 -52.1h-5M1094.4 704.9v86.4m-2.5 0h5m0 -86.4h-5M1024.4 654.3v63.4m-2.5 0h5m0 -63.4h-5M984.8 702.0v59.8m-2.5 0h5m0 -59.8h-5M886.2 881.7v20.9m-2.5 0h5m0 -20.9h-5M1084.1 645.2v46.5m-2.5 0h5m0 -46.5h-5M954.2 747.8v37.1m-2.5 0h5m0 -37.1h-5M966.3 803.6v45.1m-2.5 0h5m0 -45.1h-5M1082.4 734.7v58.3m-2.5 0h5m0 -58.3h-5M987.3 719.7v32.1m-2.5 0h5m0 -32.1h-5M893.7 883.2v22.1m-2.5 0h5m0 -22.1h-5M1140.3 581.1v61.7m-2.5 0h5m0 -61.7h-5M1037.4 781.1v86.4m-2.5 0h5m0 -86.4h-5M1008.6 758.7v57.1m-2.5 0h5m0 -57.1h-5M1078.8 606.2v63.4m-2.5 0h5m0 -63.4h-5M1085.5 787.9v70.3m-2.5 0h5m0 -70.3h-5M1015.0 675.8v26.3m-2.5 0h5m0 -26.3h-5M935.0 714.7v38.5m-2.5 0h5m0 -38.5h-5M1095.5 779.9v86.4m-2.5 0h5m0 -86.4h-5M1061.7 700.9v31.3m-2.5 0h5m0 -31.3h-5M1011.9 643.9v38.8m-2.5 0h5m0 -38.8h-5M1087.5 833.7v14.1m-2.5 0h5m0 -14.1h-5M1132.9 672.1v46.1m-2.5 0h5m0 -46.1h-5M1008.8 775.4v39.0m-2.5 0h5m0 -39.0h-5M1142.7 589.5v52.3m-2.5 0h5m0 -52.3h-5M1048.4 836.6v14.1m-2.5 0h5m0 -14.1h-5M889.7 870.0v43.7m-2.5 0h5m0 -43.7h-5M1020.9 743.3v43.3m-2.5 0h5m0 -43.3h-5M1095.5 821.3v86.4m-2.5 0h5m0 -86.4h-5M999.9 717.5v41.3m-2.5 0h5m0 -41.3h-5M892.7 866.4v46.9m-2.5 0h5m0 -46.9h-5M1001.8 687.9v30.9m-2.5 0h5m0 -30.9h-5M866.7 800.8v35.8m-2.5 0h5m0 -35.8h-5M1102.6 649.4v29.2m-2.5 0h5m0 -29.2h-5M953.9 812.2v41.0m-2.5 0h5m0 -41.0h-5M1076.6 682.1v62.1m-2.5 0h5m0 -62.1h-5M1166.5 851.1v58.3m-2.5 0h5m0 -58.3h-5M940.7 849.0v16.7m-2.5 0h5m0 -16.7h-5M1034.1 860.9v26.2m-2.5 0h5m0 -26.2h-5M1152.8 613.6v34.6m-2.5 0h5m0 -34.6h-5M992.9 698.8v55.4m-2.5 0h5m0 -55.4h-5M1024.3 665.7v52.5m-2.5 0h5m0 -52.5h-5M1000.6 847.3v42.2m-2.5 0h5m0 -42.2h-5M1094.2 682.1v30.5m-2.5 0h5m0 -30.5h-5M958.1 752.1v25.3m-2.5 0h5m0 -25.3h-5M1099.7 619.9v18.4m-2.5 0h5m0 -18.4h-5M937.2 753.7v56.8m-2.5 0h5m0 -56.8h-5M990.9 865.7v26.2m-2.5 0h5m0 -26.2h-5M922.1 762.7v44.9m-2.5 0h5m0 -44.9h-5M1122.5 676.6v28.2m-2.5 0h5m0 -28.2h-5M909.3 783.6v40.8m-2.5 0h5m0 -40.8h-5M978.4 877.3v14.1m-2.5 0h5m0 -14.1h-5M881.4 767.3v61.1m-2.5 0h5m0 -61.1h-5M986.3 882.6v14.1m-2.5 0h5m0 -14.1h-5M878.2 874.0v52.8m-2.5 0h5m0 -52.8h-5M1134.6 589.5v51.7m-2.5 0h5m0 -51.7h-5M961.8 734.2v59.6m-2.5 0h5m0 -59.6h-5M864.6 878.5v45.8m-2.5 0h5m0 -45.8h-5M1033.5 608.1v62.0m-2.5 0h5m0 -62.0h-5M1127.9 662.7v37.8m-2.5 0h5m0 -37.8h-5M956.7 889.0v26.2m-2.5 0h5m0 -26.2h-5M994.5 715.1v40.7m-2.5 0h5m0 -40.7h-5M1136.5 621.2v43.0m-2.5 0h5m0 -43.0h-5M978.9 813.1v26.9m-2.5 0h5m0 -26.9h-5M1090.2 646.1v41.2m-2.5 0h5m0 -41.2h-5M1016.8 670.7v39.6m-2.5 0h5m0 -39.6h-5M1107.2 671.8v34.6m-2.5 0h5m0 -34.6h-5M928.8 882.2v26.2m-2.5 0h5m0 -26.2h-5M1026.2 821.6v58.3m-2.5 0h5m0 -58.3h-5M1038.1 657.8v48.9m-2.5 0h5m0 -48.9h-5M1006.0 691.7v42.6m-2.5 0h5m0 -42.6h-5M933.3 834.1v27.8m-2.5 0h5m0 -27.8h-5M1048.5 598.7v51.7m-2.5 0h5m0 -51.7h-5M1118.4 636.1v41.1m-2.5 0h5m0 -41.1h-5M1034.9 828.4v58.3m-2.5 0h5m0 -58.3h-5M1028.0 823.3v70.3m-2.5 0h5m0 -70.3h-5M893.8 777.3v48.2m-2.5 0h5m0 -48.2h-5M1037.8 724.1v62.1m-2.5 0h5m0 -62.1h-5M1057.9 703.9v57.4m-2.5 0h5m0 -57.4h-5M1150.7 589.9v33.6m-2.5 0h5m0 -33.6h-5M1030.5 748.7v32.8m-2.5 0h5m0 -32.8h-5M937.5 848.8v40.5m-2.5 0h5m0 -40.5h-5M868.9 887.3v28.8m-2.5 0h5m0 -28.8h-5M1024.8 641.0v42.3m-2.5 0h5m0 -42.3h-5M1019.6 649.0v67.2m-2.5 0h5m0 -67.2h-5M951.8 829.0v102.5m-2.5 0h5m0 -102.5h-5M922.1 786.3v25.5m-2.5 0h5m0 -25.5h-5M1024.1 783.8v58.3m-2.5 0h5m0 -58.3h-5M1085.4 637.7v45.4m-2.5 0h5m0 -45.4h-5M1026.2 772.9v58.3m-2.5 0h5m0 -58.3h-5M912.8 790.8v41.3m-2.5 0h5m0 -41.3h-5M934.3 755.5v39.9m-2.5 0h5m0 -39.9h-5M848.0 897.4v25.4m-2.5 0h5m0 -25.4h-5" stroke="#b4b4b4" stroke-opacity="0.45" stroke-width="0.9" fill="none"/>
<g stroke="#000" stroke-width="0.6" stroke-opacity="0.85" fill-opacity="0.88">
<circle cx="1099.7" cy="651.9" r="4.85" fill="#1ad2d2"/>
<circle cx="980.0" cy="711.0" r="4.85" fill="#458afc"/>
<circle cx="886.4" cy="805.5" r="4.85" fill="#1ce6b4"/>
<circle cx="977.8" cy="816.3" r="4.85" fill="#448ffe"/>
<circle cx="960.7" cy="812.4" r="4.85" fill="#424bb5"/>
<circle cx="929.8" cy="781.8" r="4.85" fill="#4666dd"/>
<circle cx="882.1" cy="801.6" r="4.85" fill="#2ab9ee"/>
<circle cx="1077.1" cy="688.5" r="4.85" fill="#4559cb"/>
<circle cx="869.3" cy="904.3" r="4.85" fill="#4773eb"/>
<circle cx="1016.3" cy="773.7" r="4.85" fill="#4771e9"/>
<circle cx="1101.1" cy="634.0" r="4.85" fill="#2cb7f0"/>
<circle cx="995.5" cy="798.0" r="4.85" fill="#477bf2"/>
<circle cx="899.0" cy="778.8" r="4.85" fill="#3e9bfe"/>
<circle cx="1019.5" cy="791.3" r="4.85" fill="#31aff5"/>
<circle cx="829.5" cy="844.5" r="4.85" fill="#4771e9"/>
<circle cx="1082.5" cy="660.2" r="4.85" fill="#4778f0"/>
<circle cx="1009.0" cy="822.5" r="4.85" fill="#25eca7"/>
<circle cx="1002.6" cy="714.4" r="4.85" fill="#2eb4f2"/>
<circle cx="939.6" cy="780.6" r="4.85" fill="#4773eb"/>
<circle cx="881.3" cy="807.8" r="4.85" fill="#25c0e7"/>
<circle cx="904.9" cy="785.0" r="4.85" fill="#4771e9"/>
<circle cx="973.7" cy="810.1" r="4.85" fill="#37a8fa"/>
<circle cx="1023.4" cy="660.1" r="4.85" fill="#476ee6"/>
<circle cx="1147.6" cy="609.9" r="4.85" fill="#2fb2f4"/>
<circle cx="927.3" cy="869.4" r="4.85" fill="#8fff49"/>
<circle cx="1073.2" cy="697.9" r="4.85" fill="#38a5fb"/>
<circle cx="918.2" cy="859.3" r="4.85" fill="#4664da"/>
<circle cx="843.5" cy="796.7" r="4.85" fill="#3f3b97"/>
<circle cx="1077.0" cy="768.8" r="4.85" fill="#e84b0c"/>
<circle cx="928.4" cy="850.1" r="4.85" fill="#4456c7"/>
<circle cx="1094.5" cy="676.0" r="4.85" fill="#4451bf"/>
<circle cx="945.8" cy="863.6" r="4.85" fill="#4664da"/>
<circle cx="976.5" cy="718.7" r="4.85" fill="#448ffe"/>
<circle cx="1023.9" cy="695.4" r="4.85" fill="#458cfd"/>
<circle cx="903.8" cy="886.5" r="4.85" fill="#477bf2"/>
<circle cx="1160.3" cy="614.2" r="4.85" fill="#4666dd"/>
<circle cx="1108.7" cy="642.3" r="4.85" fill="#4666dd"/>
<circle cx="844.1" cy="804.6" r="4.85" fill="#392a73"/>
<circle cx="862.1" cy="832.7" r="4.85" fill="#4687fb"/>
<circle cx="1025.1" cy="668.8" r="4.85" fill="#1ecbda"/>
<circle cx="1015.8" cy="700.8" r="4.85" fill="#4776ee"/>
<circle cx="899.9" cy="788.2" r="4.85" fill="#2cb7f0"/>
<circle cx="1005.6" cy="840.0" r="4.85" fill="#20eaac"/>
<circle cx="1054.0" cy="744.6" r="4.85" fill="#1ad2d2"/>
<circle cx="927.3" cy="783.3" r="4.85" fill="#477bf2"/>
<circle cx="956.8" cy="814.6" r="4.85" fill="#455ccf"/>
<circle cx="1026.4" cy="696.9" r="4.85" fill="#38a5fb"/>
<circle cx="1134.2" cy="695.4" r="4.85" fill="#37a8fa"/>
<circle cx="1055.5" cy="664.3" r="4.85" fill="#31aff5"/>
<circle cx="1028.6" cy="604.5" r="4.85" fill="#69fd66"/>
<circle cx="933.7" cy="785.0" r="4.85" fill="#455ed3"/>
<circle cx="1105.9" cy="656.1" r="4.85" fill="#476ee6"/>
<circle cx="1025.5" cy="783.1" r="4.85" fill="#18dbc5"/>
<circle cx="1045.4" cy="741.5" r="4.85" fill="#1fc9dd"/>
<circle cx="904.8" cy="821.9" r="4.85" fill="#467df4"/>
<circle cx="948.6" cy="780.7" r="4.85" fill="#477bf2"/>
<circle cx="871.1" cy="809.4" r="4.85" fill="#477bf2"/>
<circle cx="977.4" cy="698.4" r="4.85" fill="#4099ff"/>
<circle cx="923.1" cy="699.5" r="4.85" fill="#d2e935"/>
<circle cx="998.3" cy="792.0" r="4.85" fill="#3aa3fc"/>
<circle cx="1013.9" cy="623.8" r="4.85" fill="#7a0403"/>
<circle cx="1090.2" cy="702.5" r="4.85" fill="#4196ff"/>
<circle cx="943.0" cy="745.2" r="4.85" fill="#4771e9"/>
<circle cx="993.5" cy="783.0" r="4.85" fill="#4773eb"/>
<circle cx="830.4" cy="847.7" r="4.85" fill="#4249b1"/>
<circle cx="893.2" cy="794.7" r="4.85" fill="#3e3891"/>
<circle cx="946.9" cy="839.5" r="4.85" fill="#3ba0fd"/>
<circle cx="1014.4" cy="694.4" r="4.85" fill="#3d9efe"/>
<circle cx="1043.7" cy="674.6" r="4.85" fill="#455ccf"/>
<circle cx="1045.8" cy="734.0" r="4.85" fill="#477bf2"/>
<circle cx="917.1" cy="796.5" r="4.85" fill="#4661d6"/>
<circle cx="1112.8" cy="664.2" r="4.85" fill="#2eb4f2"/>
<circle cx="983.8" cy="810.6" r="4.85" fill="#33adf7"/>
<circle cx="1097.5" cy="656.0" r="4.85" fill="#4682f8"/>
<circle cx="908.8" cy="798.7" r="4.85" fill="#455ccf"/>
<circle cx="922.7" cy="781.8" r="4.85" fill="#4099ff"/>
<circle cx="830.0" cy="853.5" r="4.85" fill="#4451bf"/>
<circle cx="983.0" cy="811.6" r="4.85" fill="#3e9bfe"/>
<circle cx="898.3" cy="821.4" r="4.85" fill="#4249b1"/>
<circle cx="831.5" cy="840.0" r="4.85" fill="#466be3"/>
<circle cx="960.0" cy="834.4" r="4.85" fill="#4687fb"/>
<circle cx="1043.9" cy="774.1" r="4.85" fill="#8bff4b"/>
<circle cx="881.1" cy="902.1" r="4.85" fill="#467df4"/>
<circle cx="1129.6" cy="623.7" r="4.85" fill="#476ee6"/>
<circle cx="929.3" cy="844.5" r="4.85" fill="#3e9bfe"/>
<circle cx="864.4" cy="914.6" r="4.85" fill="#4454c3"/>
<circle cx="1139.6" cy="652.1" r="4.85" fill="#4685fa"/>
<circle cx="937.1" cy="754.8" r="4.85" fill="#4196ff"/>
<circle cx="948.4" cy="756.3" r="4.85" fill="#3d9efe"/>
<circle cx="1142.0" cy="628.5" r="4.85" fill="#458afc"/>
<circle cx="1026.2" cy="787.2" r="4.85" fill="#4776ee"/>
<circle cx="1126.4" cy="624.9" r="4.85" fill="#4391fe"/>
<circle cx="970.9" cy="706.2" r="4.85" fill="#25c0e7"/>
<circle cx="1127.3" cy="628.2" r="4.85" fill="#4669e0"/>
<circle cx="998.1" cy="733.6" r="4.85" fill="#458afc"/>
<circle cx="1118.5" cy="650.5" r="4.85" fill="#4661d6"/>
<circle cx="1083.0" cy="644.1" r="4.85" fill="#4294ff"/>
<circle cx="897.9" cy="881.0" r="4.85" fill="#455ccf"/>
<circle cx="1133.1" cy="657.6" r="4.85" fill="#33adf7"/>
<circle cx="957.7" cy="863.0" r="4.85" fill="#22ebaa"/>
<circle cx="858.1" cy="911.2" r="4.85" fill="#4664da"/>
<circle cx="935.5" cy="756.6" r="4.85" fill="#3aa3fc"/>
<circle cx="833.5" cy="846.1" r="4.85" fill="#4669e0"/>
<circle cx="1047.6" cy="706.9" r="4.85" fill="#4249b1"/>
<circle cx="861.5" cy="798.2" r="4.85" fill="#3c3286"/>
<circle cx="1046.3" cy="783.3" r="4.85" fill="#18e0bd"/>
<circle cx="830.8" cy="818.7" r="4.85" fill="#36215f"/>
<circle cx="997.6" cy="705.2" r="4.85" fill="#466be3"/>
<circle cx="903.3" cy="778.7" r="4.85" fill="#4664da"/>
<circle cx="1054.9" cy="714.0" r="4.85" fill="#467df4"/>
<circle cx="940.1" cy="868.8" r="4.85" fill="#2eb4f2"/>
<circle cx="985.5" cy="795.9" r="4.85" fill="#20c7df"/>
<circle cx="1119.9" cy="637.4" r="4.85" fill="#4682f8"/>
<circle cx="954.5" cy="829.1" r="4.85" fill="#4559cb"/>
<circle cx="1139.1" cy="631.9" r="4.85" fill="#4776ee"/>
<circle cx="917.0" cy="863.3" r="4.85" fill="#467df4"/>
<circle cx="1043.8" cy="662.1" r="4.85" fill="#2eb4f2"/>
<circle cx="832.1" cy="735.0" r="4.85" fill="#c82803"/>
<circle cx="896.1" cy="889.8" r="4.85" fill="#4778f0"/>
<circle cx="1139.8" cy="608.5" r="4.85" fill="#4099ff"/>
<circle cx="1084.4" cy="656.4" r="4.85" fill="#33adf7"/>
<circle cx="1042.0" cy="731.3" r="4.85" fill="#467df4"/>
<circle cx="868.5" cy="797.0" r="4.85" fill="#1de7b2"/>
<circle cx="1055.7" cy="709.5" r="4.85" fill="#434eba"/>
<circle cx="1053.5" cy="722.7" r="4.85" fill="#3e9bfe"/>
<circle cx="1078.2" cy="691.4" r="4.85" fill="#4294ff"/>
<circle cx="933.0" cy="837.2" r="4.85" fill="#4666dd"/>
<circle cx="1015.0" cy="795.7" r="4.85" fill="#424bb5"/>
<circle cx="936.5" cy="838.1" r="4.85" fill="#467df4"/>
<circle cx="1078.8" cy="667.5" r="4.85" fill="#4559cb"/>
<circle cx="945.4" cy="814.5" r="4.85" fill="#4664da"/>
<circle cx="902.4" cy="884.8" r="4.85" fill="#4456c7"/>
<circle cx="893.9" cy="812.7" r="4.85" fill="#4456c7"/>
<circle cx="859.7" cy="836.4" r="4.85" fill="#1ccdd8"/>
<circle cx="948.6" cy="869.9" r="4.85" fill="#c8ef34"/>
<circle cx="1027.7" cy="768.8" r="4.85" fill="#4666dd"/>
<circle cx="907.6" cy="882.0" r="4.85" fill="#3b2f80"/>
<circle cx="1015.1" cy="820.4" r="4.85" fill="#2cb7f0"/>
<circle cx="896.5" cy="887.0" r="4.85" fill="#458cfd"/>
<circle cx="1002.8" cy="728.7" r="4.85" fill="#4454c3"/>
<circle cx="973.3" cy="854.0" r="4.85" fill="#448ffe"/>
<circle cx="930.7" cy="852.0" r="4.85" fill="#4776ee"/>
<circle cx="882.7" cy="837.5" r="4.85" fill="#4454c3"/>
<circle cx="1098.1" cy="652.4" r="4.85" fill="#4771e9"/>
<circle cx="949.5" cy="849.3" r="4.85" fill="#476ee6"/>
<circle cx="1027.0" cy="767.8" r="4.85" fill="#4099ff"/>
<circle cx="1004.7" cy="720.6" r="4.85" fill="#4685fa"/>
<circle cx="1120.0" cy="644.7" r="4.85" fill="#434eba"/>
<circle cx="1053.4" cy="682.1" r="4.85" fill="#4040a2"/>
<circle cx="995.9" cy="786.6" r="4.85" fill="#4776ee"/>
<circle cx="876.3" cy="814.4" r="4.85" fill="#477bf2"/>
<circle cx="1159.4" cy="614.4" r="4.85" fill="#4680f6"/>
<circle cx="1093.6" cy="611.3" r="4.85" fill="#b9f635"/>
<circle cx="949.7" cy="864.6" r="4.85" fill="#1ad4d0"/>
<circle cx="1064.0" cy="692.5" r="4.85" fill="#4294ff"/>
<circle cx="870.7" cy="824.1" r="4.85" fill="#455ccf"/>
<circle cx="983.6" cy="748.0" r="4.85" fill="#4771e9"/>
<circle cx="1104.9" cy="620.9" r="4.85" fill="#1ccdd8"/>
<circle cx="1003.7" cy="700.9" r="4.85" fill="#27eea4"/>
<circle cx="924.3" cy="844.6" r="4.85" fill="#4776ee"/>
<circle cx="1125.7" cy="636.7" r="4.85" fill="#27bee9"/>
<circle cx="896.9" cy="782.1" r="4.85" fill="#a1fd3d"/>
<circle cx="1040.2" cy="730.9" r="4.85" fill="#4040a2"/>
<circle cx="944.9" cy="865.7" r="4.85" fill="#4771e9"/>
<circle cx="1026.8" cy="694.5" r="4.85" fill="#4456c7"/>
<circle cx="852.7" cy="837.9" r="4.85" fill="#466be3"/>
<circle cx="1070.0" cy="774.9" r="4.85" fill="#2ab9ee"/>
<circle cx="1153.0" cy="627.0" r="4.85" fill="#476ee6"/>
<circle cx="948.0" cy="808.5" r="4.85" fill="#4778f0"/>
<circle cx="1029.7" cy="713.7" r="4.85" fill="#4664da"/>
<circle cx="887.9" cy="828.1" r="4.85" fill="#3e3891"/>
<circle cx="948.5" cy="850.3" r="4.85" fill="#20eaac"/>
<circle cx="832.6" cy="841.8" r="4.85" fill="#4669e0"/>
<circle cx="976.8" cy="735.8" r="4.85" fill="#4451bf"/>
<circle cx="1002.9" cy="787.9" r="4.85" fill="#4685fa"/>
<circle cx="839.4" cy="810.2" r="4.85" fill="#4664da"/>
<circle cx="961.1" cy="775.1" r="4.85" fill="#4456c7"/>
<circle cx="1017.6" cy="713.6" r="4.85" fill="#476ee6"/>
<circle cx="1031.7" cy="756.6" r="4.85" fill="#476ee6"/>
<circle cx="836.4" cy="821.3" r="4.85" fill="#3b2f80"/>
<circle cx="1142.4" cy="633.7" r="4.85" fill="#4391fe"/>
<circle cx="1045.2" cy="634.3" r="4.85" fill="#4687fb"/>
<circle cx="991.7" cy="751.6" r="4.85" fill="#467df4"/>
<circle cx="868.1" cy="795.4" r="4.85" fill="#3ba0fd"/>
<circle cx="927.9" cy="806.8" r="4.85" fill="#466be3"/>
<circle cx="1029.8" cy="719.2" r="4.85" fill="#22c5e2"/>
<circle cx="1037.3" cy="671.8" r="4.85" fill="#4661d6"/>
<circle cx="1031.9" cy="751.1" r="4.85" fill="#1fe9af"/>
<circle cx="1047.3" cy="709.9" r="4.85" fill="#477bf2"/>
<circle cx="993.4" cy="797.3" r="4.85" fill="#4778f0"/>
<circle cx="946.1" cy="835.1" r="4.85" fill="#4559cb"/>
<circle cx="1001.7" cy="784.4" r="4.85" fill="#4680f6"/>
<circle cx="1000.8" cy="779.0" r="4.85" fill="#4776ee"/>
<circle cx="941.5" cy="761.6" r="4.85" fill="#2ab9ee"/>
<circle cx="1009.4" cy="704.6" r="4.85" fill="#1ad2d2"/>
<circle cx="902.1" cy="805.3" r="4.85" fill="#4451bf"/>
<circle cx="894.4" cy="814.2" r="4.85" fill="#4664da"/>
<circle cx="836.0" cy="834.7" r="4.85" fill="#2cf09e"/>
<circle cx="1017.2" cy="777.8" r="4.85" fill="#4771e9"/>
<circle cx="1047.6" cy="720.6" r="4.85" fill="#4669e0"/>
<circle cx="958.6" cy="732.8" r="4.85" fill="#2fb2f4"/>
<circle cx="1064.5" cy="702.2" r="4.85" fill="#467df4"/>
<circle cx="1037.3" cy="687.6" r="4.85" fill="#65fd69"/>
<circle cx="839.6" cy="705.2" r="4.85" fill="#1de7b2"/>
<circle cx="1009.7" cy="680.1" r="4.85" fill="#23c3e4"/>
<circle cx="862.2" cy="844.1" r="4.85" fill="#4771e9"/>
<circle cx="1100.5" cy="668.4" r="4.85" fill="#4669e0"/>
<circle cx="1005.3" cy="722.7" r="4.85" fill="#4778f0"/>
<circle cx="870.5" cy="697.2" r="4.85" fill="#59fb73"/>
<circle cx="1009.7" cy="768.8" r="4.85" fill="#4661d6"/>
<circle cx="892.3" cy="703.5" r="4.85" fill="#59fb73"/>
<circle cx="1133.2" cy="648.8" r="4.85" fill="#4099ff"/>
<circle cx="902.8" cy="790.6" r="4.85" fill="#2ab9ee"/>
<circle cx="1113.2" cy="632.7" r="4.85" fill="#4456c7"/>
<circle cx="905.0" cy="714.9" r="4.85" fill="#1ecbda"/>
<circle cx="829.9" cy="723.6" r="4.85" fill="#1ecbda"/>
<circle cx="1042.0" cy="650.3" r="4.85" fill="#1bd0d5"/>
<circle cx="1053.4" cy="697.9" r="4.85" fill="#4146ac"/>
<circle cx="905.0" cy="739.1" r="4.85" fill="#1de7b2"/>
<circle cx="958.7" cy="709.8" r="4.85" fill="#a11201"/>
<circle cx="1063.1" cy="682.0" r="4.85" fill="#35abf8"/>
<circle cx="969.6" cy="743.7" r="4.85" fill="#4391fe"/>
<circle cx="1135.0" cy="619.2" r="4.85" fill="#455ed3"/>
<circle cx="974.1" cy="738.0" r="4.85" fill="#424bb5"/>
<circle cx="1045.5" cy="725.0" r="4.85" fill="#4666dd"/>
<circle cx="850.7" cy="836.8" r="4.85" fill="#4666dd"/>
<circle cx="1066.6" cy="711.2" r="4.85" fill="#4454c3"/>
<circle cx="1115.4" cy="618.7" r="4.85" fill="#4685fa"/>
<circle cx="1028.9" cy="699.4" r="4.85" fill="#4685fa"/>
<circle cx="1072.4" cy="680.2" r="4.85" fill="#424bb5"/>
<circle cx="966.6" cy="726.0" r="4.85" fill="#fe962b"/>
<circle cx="947.2" cy="819.8" r="4.85" fill="#4773eb"/>
<circle cx="1097.9" cy="643.8" r="4.85" fill="#4666dd"/>
<circle cx="1146.3" cy="633.9" r="4.85" fill="#4687fb"/>
<circle cx="975.6" cy="726.0" r="4.85" fill="#4666dd"/>
<circle cx="982.2" cy="712.5" r="4.85" fill="#4666dd"/>
<circle cx="1015.4" cy="736.8" r="4.85" fill="#455ed3"/>
<circle cx="1132.3" cy="614.5" r="4.85" fill="#31aff5"/>
<circle cx="1014.8" cy="779.8" r="4.85" fill="#20c7df"/>
<circle cx="876.0" cy="775.8" r="4.85" fill="#434eba"/>
<circle cx="1067.6" cy="666.1" r="4.85" fill="#4664da"/>
<circle cx="953.4" cy="824.8" r="4.85" fill="#4456c7"/>
<circle cx="901.2" cy="807.4" r="4.85" fill="#4682f8"/>
<circle cx="966.2" cy="776.2" r="4.85" fill="#455ccf"/>
<circle cx="1060.8" cy="764.8" r="4.85" fill="#35f394"/>
<circle cx="1011.8" cy="777.5" r="4.85" fill="#38a5fb"/>
<circle cx="917.0" cy="872.7" r="4.85" fill="#4294ff"/>
<circle cx="838.2" cy="851.0" r="4.85" fill="#455ccf"/>
<circle cx="862.0" cy="824.1" r="4.85" fill="#2cb7f0"/>
<circle cx="1109.3" cy="607.0" r="4.85" fill="#2eb4f2"/>
<circle cx="1044.7" cy="701.5" r="4.85" fill="#4664da"/>
<circle cx="1063.3" cy="697.6" r="4.85" fill="#4664da"/>
<circle cx="1022.3" cy="737.6" r="4.85" fill="#4669e0"/>
<circle cx="989.6" cy="777.0" r="4.85" fill="#434eba"/>
<circle cx="831.2" cy="758.5" r="4.85" fill="#59fb73"/>
<circle cx="1136.7" cy="626.9" r="4.85" fill="#4778f0"/>
<circle cx="1022.8" cy="733.5" r="4.85" fill="#458cfd"/>
<circle cx="1006.9" cy="676.4" r="4.85" fill="#3ba0fd"/>
<circle cx="846.0" cy="760.9" r="4.85" fill="#1de7b2"/>
<circle cx="1071.4" cy="684.9" r="4.85" fill="#4666dd"/>
<circle cx="976.5" cy="751.6" r="4.85" fill="#4099ff"/>
<circle cx="1041.5" cy="676.0" r="4.85" fill="#25eca7"/>
<circle cx="966.3" cy="810.2" r="4.85" fill="#424bb5"/>
<circle cx="856.0" cy="914.9" r="4.85" fill="#37a8fa"/>
<circle cx="915.1" cy="878.6" r="4.85" fill="#4669e0"/>
<circle cx="1092.8" cy="663.2" r="4.85" fill="#4040a2"/>
<circle cx="832.7" cy="771.8" r="4.85" fill="#59fb73"/>
<circle cx="991.1" cy="787.2" r="4.85" fill="#4687fb"/>
<circle cx="1133.7" cy="615.0" r="4.85" fill="#4196ff"/>
<circle cx="905.2" cy="868.9" r="4.85" fill="#458cfd"/>
<circle cx="893.7" cy="818.9" r="4.85" fill="#4664da"/>
<circle cx="1035.0" cy="738.2" r="4.85" fill="#4680f6"/>
<circle cx="969.7" cy="760.6" r="4.85" fill="#4682f8"/>
<circle cx="1097.6" cy="654.4" r="4.85" fill="#4451bf"/>
<circle cx="907.8" cy="863.0" r="4.85" fill="#4249b1"/>
<circle cx="1149.3" cy="619.8" r="4.85" fill="#476ee6"/>
<circle cx="1154.4" cy="609.3" r="4.85" fill="#4685fa"/>
<circle cx="983.0" cy="740.2" r="4.85" fill="#33adf7"/>
<circle cx="906.1" cy="812.3" r="4.85" fill="#4771e9"/>
<circle cx="996.7" cy="766.5" r="4.85" fill="#4454c3"/>
<circle cx="1036.4" cy="740.6" r="4.85" fill="#434eba"/>
<circle cx="999.7" cy="841.9" r="4.85" fill="#1ecbda"/>
<circle cx="956.9" cy="846.0" r="4.85" fill="#4778f0"/>
<circle cx="1061.5" cy="663.0" r="4.85" fill="#2fb2f4"/>
<circle cx="872.3" cy="760.9" r="4.85" fill="#fe962b"/>
<circle cx="1119.6" cy="657.0" r="4.85" fill="#458afc"/>
<circle cx="894.3" cy="748.6" r="4.85" fill="#3e9bfe"/>
<circle cx="916.3" cy="853.3" r="4.85" fill="#4669e0"/>
<circle cx="918.8" cy="865.6" r="4.85" fill="#466be3"/>
<circle cx="1075.2" cy="644.8" r="4.85" fill="#4685fa"/>
<circle cx="968.4" cy="808.5" r="4.85" fill="#37a8fa"/>
<circle cx="1005.7" cy="723.5" r="4.85" fill="#4099ff"/>
<circle cx="837.6" cy="799.9" r="4.85" fill="#466be3"/>
<circle cx="984.3" cy="742.3" r="4.85" fill="#477bf2"/>
<circle cx="1018.7" cy="762.6" r="4.85" fill="#4666dd"/>
<circle cx="1028.8" cy="731.5" r="4.85" fill="#466be3"/>
<circle cx="926.7" cy="837.7" r="4.85" fill="#455ccf"/>
<circle cx="939.1" cy="836.4" r="4.85" fill="#4456c7"/>
<circle cx="1024.0" cy="755.6" r="4.85" fill="#4680f6"/>
<circle cx="833.7" cy="791.6" r="4.85" fill="#fe962b"/>
<circle cx="993.6" cy="812.9" r="4.85" fill="#4661d6"/>
<circle cx="880.7" cy="847.8" r="4.85" fill="#4249b1"/>
<circle cx="979.6" cy="750.3" r="4.85" fill="#476ee6"/>
<circle cx="1078.5" cy="639.6" r="4.85" fill="#4099ff"/>
<circle cx="1045.9" cy="664.3" r="4.85" fill="#1ecbda"/>
<circle cx="1025.6" cy="709.3" r="4.85" fill="#424bb5"/>
<circle cx="853.4" cy="815.1" r="4.85" fill="#4249b1"/>
<circle cx="1152.1" cy="629.6" r="4.85" fill="#33adf7"/>
<circle cx="1084.5" cy="636.0" r="4.85" fill="#4666dd"/>
<circle cx="1103.9" cy="663.5" r="4.85" fill="#4669e0"/>
<circle cx="1084.7" cy="682.7" r="4.85" fill="#4680f6"/>
<circle cx="910.6" cy="777.6" r="4.85" fill="#1bd0d5"/>
<circle cx="945.3" cy="753.5" r="4.85" fill="#4143a7"/>
<circle cx="1157.3" cy="669.4" r="4.85" fill="#3aa3fc"/>
<circle cx="1114.4" cy="628.0" r="4.85" fill="#3f3e9c"/>
<circle cx="991.0" cy="758.1" r="4.85" fill="#31aff5"/>
<circle cx="945.1" cy="827.4" r="4.85" fill="#3f3e9c"/>
<circle cx="865.4" cy="837.1" r="4.85" fill="#4143a7"/>
<circle cx="856.5" cy="916.8" r="4.85" fill="#4040a2"/>
<circle cx="1063.0" cy="707.8" r="4.85" fill="#4685fa"/>
<circle cx="840.6" cy="746.9" r="4.85" fill="#4661d6"/>
<circle cx="962.1" cy="760.5" r="4.85" fill="#448ffe"/>
<circle cx="844.1" cy="836.6" r="4.85" fill="#476ee6"/>
<circle cx="918.3" cy="804.6" r="4.85" fill="#4196ff"/>
<circle cx="1041.2" cy="700.5" r="4.85" fill="#434eba"/>
<circle cx="839.8" cy="864.8" r="4.85" fill="#4666dd"/>
<circle cx="886.7" cy="843.1" r="4.85" fill="#3f3e9c"/>
<circle cx="1013.0" cy="714.9" r="4.85" fill="#2fb2f4"/>
<circle cx="832.9" cy="866.2" r="4.85" fill="#3d358b"/>
<circle cx="875.8" cy="850.6" r="4.85" fill="#455ccf"/>
<circle cx="1156.3" cy="638.8" r="4.85" fill="#1bd0d5"/>
<circle cx="942.2" cy="821.6" r="4.85" fill="#4040a2"/>
<circle cx="875.3" cy="901.7" r="4.85" fill="#466be3"/>
<circle cx="962.7" cy="803.1" r="4.85" fill="#4687fb"/>
<circle cx="979.0" cy="781.8" r="4.85" fill="#476ee6"/>
<circle cx="1078.9" cy="730.3" r="4.85" fill="#22c5e2"/>
<circle cx="836.9" cy="828.8" r="4.85" fill="#455ccf"/>
<circle cx="839.9" cy="817.1" r="4.85" fill="#434eba"/>
<circle cx="1153.5" cy="633.1" r="4.85" fill="#4666dd"/>
<circle cx="1135.1" cy="713.2" r="4.85" fill="#1de7b2"/>
<circle cx="1084.4" cy="642.8" r="4.85" fill="#458cfd"/>
<circle cx="1026.4" cy="739.5" r="4.85" fill="#4776ee"/>
<circle cx="973.5" cy="748.5" r="4.85" fill="#455ccf"/>
<circle cx="973.7" cy="771.7" r="4.85" fill="#458afc"/>
<circle cx="1099.9" cy="749.2" r="4.85" fill="#3aa3fc"/>
<circle cx="1115.4" cy="728.7" r="4.85" fill="#3f3e9c"/>
<circle cx="1094.4" cy="707.4" r="4.85" fill="#a4fc3c"/>
<circle cx="1022.9" cy="718.4" r="4.85" fill="#3e9bfe"/>
<circle cx="935.2" cy="851.2" r="4.85" fill="#455ed3"/>
<circle cx="1016.9" cy="745.3" r="4.85" fill="#434eba"/>
<circle cx="932.0" cy="750.4" r="4.85" fill="#18e0bd"/>
<circle cx="1083.2" cy="717.1" r="4.85" fill="#fe962b"/>
<circle cx="880.0" cy="821.3" r="4.85" fill="#4685fa"/>
<circle cx="1035.6" cy="691.3" r="4.85" fill="#4664da"/>
<circle cx="982.6" cy="727.1" r="4.85" fill="#1ae4b6"/>
<circle cx="972.9" cy="759.9" r="4.85" fill="#458cfd"/>
<circle cx="970.3" cy="835.3" r="4.85" fill="#4664da"/>
<circle cx="970.5" cy="765.8" r="4.85" fill="#4454c3"/>
<circle cx="1022.2" cy="834.8" r="4.85" fill="#27eea4"/>
<circle cx="1053.8" cy="783.7" r="4.85" fill="#d83706"/>
<circle cx="986.0" cy="784.3" r="4.85" fill="#4680f6"/>
<circle cx="917.6" cy="849.9" r="4.85" fill="#4666dd"/>
<circle cx="994.3" cy="740.3" r="4.85" fill="#4669e0"/>
<circle cx="1089.1" cy="649.4" r="4.85" fill="#448ffe"/>
<circle cx="1046.3" cy="750.8" r="4.85" fill="#4664da"/>
<circle cx="1023.8" cy="740.0" r="4.85" fill="#4454c3"/>
<circle cx="1160.2" cy="603.6" r="4.85" fill="#467df4"/>
<circle cx="954.3" cy="776.1" r="4.85" fill="#476ee6"/>
<circle cx="1018.6" cy="730.6" r="4.85" fill="#3f3e9c"/>
<circle cx="1033.1" cy="721.2" r="4.85" fill="#4451bf"/>
<circle cx="862.6" cy="905.9" r="4.85" fill="#434eba"/>
<circle cx="1087.0" cy="786.6" r="4.85" fill="#fe962b"/>
<circle cx="970.4" cy="857.4" r="4.85" fill="#4196ff"/>
<circle cx="904.7" cy="859.0" r="4.85" fill="#4249b1"/>
<circle cx="1093.8" cy="656.8" r="4.85" fill="#466be3"/>
<circle cx="858.7" cy="846.0" r="4.85" fill="#455ed3"/>
<circle cx="1071.9" cy="779.3" r="4.85" fill="#59fb73"/>
<circle cx="843.2" cy="854.8" r="4.85" fill="#4680f6"/>
<circle cx="1093.8" cy="703.0" r="4.85" fill="#22c5e2"/>
<circle cx="1025.3" cy="729.9" r="4.85" fill="#4773eb"/>
<circle cx="919.1" cy="847.3" r="4.85" fill="#4143a7"/>
<circle cx="914.8" cy="824.2" r="4.85" fill="#466be3"/>
<circle cx="924.5" cy="816.6" r="4.85" fill="#4669e0"/>
<circle cx="829.2" cy="874.6" r="4.85" fill="#4249b1"/>
<circle cx="908.9" cy="822.6" r="4.85" fill="#4294ff"/>
<circle cx="1004.1" cy="772.1" r="4.85" fill="#467df4"/>
<circle cx="971.8" cy="785.5" r="4.85" fill="#3f3b97"/>
<circle cx="1009.8" cy="761.1" r="4.85" fill="#4661d6"/>
<circle cx="1026.2" cy="662.2" r="4.85" fill="#4664da"/>
<circle cx="1034.5" cy="706.3" r="4.85" fill="#4559cb"/>
<circle cx="969.6" cy="820.4" r="4.85" fill="#4664da"/>
<circle cx="1011.3" cy="752.7" r="4.85" fill="#4146ac"/>
<circle cx="1005.4" cy="766.2" r="4.85" fill="#4771e9"/>
<circle cx="1045.9" cy="615.6" r="4.85" fill="#466be3"/>
<circle cx="947.3" cy="796.4" r="4.85" fill="#4669e0"/>
<circle cx="858.2" cy="823.9" r="4.85" fill="#4685fa"/>
<circle cx="973.9" cy="776.3" r="4.85" fill="#3f3b97"/>
<circle cx="942.3" cy="827.9" r="4.85" fill="#4687fb"/>
<circle cx="896.6" cy="839.5" r="4.85" fill="#3e3891"/>
<circle cx="842.1" cy="871.4" r="4.85" fill="#4040a2"/>
<circle cx="1083.4" cy="744.4" r="4.85" fill="#3f3e9c"/>
<circle cx="1034.6" cy="743.6" r="4.85" fill="#458cfd"/>
<circle cx="1125.9" cy="608.6" r="4.85" fill="#79fe59"/>
<circle cx="900.3" cy="862.7" r="4.85" fill="#4661d6"/>
<circle cx="1045.2" cy="693.6" r="4.85" fill="#27bee9"/>
<circle cx="846.1" cy="816.7" r="4.85" fill="#4771e9"/>
<circle cx="1071.8" cy="705.9" r="4.85" fill="#4454c3"/>
<circle cx="997.8" cy="756.1" r="4.85" fill="#455ccf"/>
<circle cx="1102.4" cy="744.9" r="4.85" fill="#3f3e9c"/>
<circle cx="1040.8" cy="653.1" r="4.85" fill="#22c5e2"/>
<circle cx="909.8" cy="856.2" r="4.85" fill="#4146ac"/>
<circle cx="925.2" cy="856.7" r="4.85" fill="#4249b1"/>
<circle cx="890.2" cy="876.1" r="4.85" fill="#466be3"/>
<circle cx="1107.2" cy="747.6" r="4.85" fill="#1de7b2"/>
<circle cx="1003.0" cy="779.9" r="4.85" fill="#4666dd"/>
<circle cx="893.7" cy="885.3" r="4.85" fill="#4687fb"/>
<circle cx="838.2" cy="832.0" r="4.85" fill="#38f491"/>
<circle cx="1044.5" cy="717.8" r="4.85" fill="#434eba"/>
<circle cx="869.2" cy="829.9" r="4.85" fill="#1bd0d5"/>
<circle cx="1124.0" cy="608.3" r="4.85" fill="#3e9bfe"/>
<circle cx="846.9" cy="861.1" r="4.85" fill="#476ee6"/>
<circle cx="982.1" cy="707.9" r="4.85" fill="#4294ff"/>
<circle cx="1084.6" cy="710.6" r="4.85" fill="#38a5fb"/>
<circle cx="1054.1" cy="699.6" r="4.85" fill="#4771e9"/>
<circle cx="951.7" cy="785.0" r="4.85" fill="#466be3"/>
<circle cx="1012.5" cy="744.0" r="4.85" fill="#4771e9"/>
<circle cx="1042.9" cy="763.2" r="4.85" fill="#2ab9ee"/>
<circle cx="1094.4" cy="748.1" r="4.85" fill="#59fb73"/>
<circle cx="1039.4" cy="702.2" r="4.85" fill="#424bb5"/>
<circle cx="1024.4" cy="686.0" r="4.85" fill="#18d9c8"/>
<circle cx="879.6" cy="828.1" r="4.85" fill="#4454c3"/>
<circle cx="876.3" cy="884.8" r="4.85" fill="#3e3891"/>
<circle cx="895.6" cy="845.3" r="4.85" fill="#4040a2"/>
<circle cx="984.8" cy="731.9" r="4.85" fill="#1bd0d5"/>
<circle cx="849.8" cy="834.1" r="4.85" fill="#38276d"/>
<circle cx="879.5" cy="898.8" r="4.85" fill="#36215f"/>
<circle cx="886.2" cy="892.1" r="4.85" fill="#4454c3"/>
<circle cx="1084.1" cy="668.4" r="4.85" fill="#37a8fa"/>
<circle cx="910.7" cy="872.8" r="4.85" fill="#455ed3"/>
<circle cx="966.3" cy="826.2" r="4.85" fill="#3aa3fc"/>
<circle cx="1082.4" cy="763.8" r="4.85" fill="#1ecbda"/>
<circle cx="849.4" cy="865.8" r="4.85" fill="#4143a7"/>
<circle cx="867.7" cy="868.8" r="4.85" fill="#3d358b"/>
<circle cx="1007.0" cy="755.7" r="4.85" fill="#4776ee"/>
<circle cx="860.4" cy="850.8" r="4.85" fill="#4559cb"/>
<circle cx="856.2" cy="829.4" r="4.85" fill="#4666dd"/>
<circle cx="888.2" cy="865.6" r="4.85" fill="#4040a2"/>
<circle cx="876.3" cy="863.7" r="4.85" fill="#4773eb"/>
<circle cx="856.8" cy="869.8" r="4.85" fill="#3e3891"/>
<circle cx="987.3" cy="735.7" r="4.85" fill="#477bf2"/>
<circle cx="1035.6" cy="719.3" r="4.85" fill="#455ccf"/>
<circle cx="897.1" cy="833.1" r="4.85" fill="#4040a2"/>
<circle cx="893.7" cy="894.2" r="4.85" fill="#4559cb"/>
<circle cx="978.4" cy="770.0" r="4.85" fill="#4249b1"/>
<circle cx="1140.3" cy="612.0" r="4.85" fill="#19d5cd"/>
<circle cx="928.2" cy="810.7" r="4.85" fill="#4771e9"/>
<circle cx="1037.4" cy="824.3" r="4.85" fill="#59fb73"/>
<circle cx="1034.5" cy="692.6" r="4.85" fill="#4771e9"/>
<circle cx="1011.3" cy="743.6" r="4.85" fill="#4451bf"/>
<circle cx="1008.6" cy="787.2" r="4.85" fill="#1fc9dd"/>
<circle cx="908.0" cy="871.4" r="4.85" fill="#4143a7"/>
<circle cx="886.7" cy="881.1" r="4.85" fill="#4559cb"/>
<circle cx="1078.8" cy="637.9" r="4.85" fill="#18d9c8"/>
<circle cx="842.1" cy="917.5" r="4.85" fill="#3c3286"/>
<circle cx="916.8" cy="837.2" r="4.85" fill="#455ed3"/>
<circle cx="943.1" cy="761.3" r="4.85" fill="#467df4"/>
<circle cx="1085.5" cy="823.1" r="4.85" fill="#1de7b2"/>
<circle cx="956.4" cy="767.0" r="4.85" fill="#4249b1"/>
<circle cx="953.9" cy="778.4" r="4.85" fill="#458cfd"/>
<circle cx="847.0" cy="879.0" r="4.85" fill="#3c3286"/>
<circle cx="940.6" cy="811.3" r="4.85" fill="#4661d6"/>
<circle cx="926.7" cy="822.0" r="4.85" fill="#455ccf"/>
<circle cx="866.8" cy="861.2" r="4.85" fill="#3f3b97"/>
<circle cx="904.0" cy="826.3" r="4.85" fill="#455ed3"/>
<circle cx="965.7" cy="800.5" r="4.85" fill="#4559cb"/>
<circle cx="993.3" cy="789.8" r="4.85" fill="#477bf2"/>
<circle cx="976.7" cy="801.3" r="4.85" fill="#455ed3"/>
<circle cx="1015.0" cy="689.0" r="4.85" fill="#4666dd"/>
<circle cx="935.0" cy="733.9" r="4.85" fill="#448ffe"/>
<circle cx="943.3" cy="772.0" r="4.85" fill="#1fc9dd"/>
<circle cx="888.7" cy="887.6" r="4.85" fill="#3b2f80"/>
<circle cx="920.7" cy="818.2" r="4.85" fill="#4143a7"/>
<circle cx="1013.0" cy="766.3" r="4.85" fill="#4778f0"/>
<circle cx="961.3" cy="769.9" r="4.85" fill="#4559cb"/>
<circle cx="955.4" cy="780.6" r="4.85" fill="#4682f8"/>
<circle cx="1095.5" cy="823.1" r="4.85" fill="#59fb73"/>
<circle cx="1022.3" cy="721.4" r="4.85" fill="#4456c7"/>
<circle cx="1061.7" cy="716.5" r="4.85" fill="#4778f0"/>
<circle cx="941.4" cy="818.2" r="4.85" fill="#4146ac"/>
<circle cx="1011.9" cy="663.2" r="4.85" fill="#448ffe"/>
<circle cx="951.5" cy="790.6" r="4.85" fill="#3b2f80"/>
<circle cx="991.7" cy="747.6" r="4.85" fill="#466be3"/>
<circle cx="1087.5" cy="840.8" r="4.85" fill="#3f3e9c"/>
<circle cx="1132.9" cy="695.2" r="4.85" fill="#37a8fa"/>
<circle cx="1008.8" cy="794.9" r="4.85" fill="#4391fe"/>
<circle cx="1142.7" cy="615.7" r="4.85" fill="#28bceb"/>
<circle cx="1048.4" cy="843.7" r="4.85" fill="#3f3e9c"/>
<circle cx="959.7" cy="804.0" r="4.85" fill="#4778f0"/>
<circle cx="1008.3" cy="844.7" r="4.85" fill="#3f3e9c"/>
<circle cx="889.7" cy="891.9" r="4.85" fill="#3ba0fd"/>
<circle cx="852.6" cy="806.2" r="4.85" fill="#4143a7"/>
<circle cx="941.8" cy="830.4" r="4.85" fill="#455ccf"/>
<circle cx="895.2" cy="824.0" r="4.85" fill="#4778f0"/>
<circle cx="925.3" cy="771.8" r="4.85" fill="#3f3b97"/>
<circle cx="868.5" cy="879.8" r="4.85" fill="#351e58"/>
<circle cx="897.8" cy="869.9" r="4.85" fill="#4661d6"/>
<circle cx="898.2" cy="861.0" r="4.85" fill="#4143a7"/>
<circle cx="868.3" cy="845.1" r="4.85" fill="#4249b1"/>
<circle cx="1020.9" cy="765.0" r="4.85" fill="#3d9efe"/>
<circle cx="873.7" cy="841.8" r="4.85" fill="#4664da"/>
<circle cx="1060.8" cy="692.9" r="4.85" fill="#4680f6"/>
<circle cx="1095.5" cy="864.5" r="4.85" fill="#59fb73"/>
<circle cx="837.1" cy="841.8" r="4.85" fill="#458afc"/>
<circle cx="1043.0" cy="707.1" r="4.85" fill="#4454c3"/>
<circle cx="879.2" cy="870.7" r="4.85" fill="#3a2d79"/>
<circle cx="996.2" cy="760.6" r="4.85" fill="#4669e0"/>
<circle cx="1010.2" cy="744.3" r="4.85" fill="#4666dd"/>
<circle cx="974.8" cy="795.7" r="4.85" fill="#31aff5"/>
<circle cx="892.7" cy="889.8" r="4.85" fill="#35abf8"/>
<circle cx="843.1" cy="827.6" r="4.85" fill="#372466"/>
<circle cx="837.4" cy="917.3" r="4.85" fill="#392a73"/>
<circle cx="932.7" cy="802.8" r="4.85" fill="#455ed3"/>
<circle cx="897.5" cy="874.4" r="4.85" fill="#455ccf"/>
<circle cx="993.9" cy="762.7" r="4.85" fill="#4249b1"/>
<circle cx="951.4" cy="834.8" r="4.85" fill="#4682f8"/>
<circle cx="857.7" cy="848.5" r="4.85" fill="#434eba"/>
<circle cx="845.4" cy="912.0" r="4.85" fill="#424bb5"/>
<circle cx="898.3" cy="813.4" r="4.85" fill="#3f3e9c"/>
<circle cx="866.7" cy="836.1" r="4.85" fill="#4451bf"/>
<circle cx="1001.8" cy="703.4" r="4.85" fill="#4776ee"/>
<circle cx="938.1" cy="831.0" r="4.85" fill="#4040a2"/>
<circle cx="1015.5" cy="730.6" r="4.85" fill="#4669e0"/>
<circle cx="1037.9" cy="731.5" r="4.85" fill="#4778f0"/>
<circle cx="866.7" cy="818.7" r="4.85" fill="#4685fa"/>
<circle cx="844.2" cy="843.6" r="4.85" fill="#434eba"/>
<circle cx="1023.4" cy="727.1" r="4.85" fill="#3aa3fc"/>
<circle cx="885.8" cy="859.0" r="4.85" fill="#36215f"/>
<circle cx="981.8" cy="757.3" r="4.85" fill="#4454c3"/>
<circle cx="1102.6" cy="664.0" r="4.85" fill="#4771e9"/>
<circle cx="953.9" cy="832.7" r="4.85" fill="#4196ff"/>
<circle cx="1001.1" cy="742.3" r="4.85" fill="#4146ac"/>
<circle cx="907.3" cy="854.3" r="4.85" fill="#3f3e9c"/>
<circle cx="1076.6" cy="713.2" r="4.85" fill="#19d5cd"/>
<circle cx="951.2" cy="781.0" r="4.85" fill="#4773eb"/>
<circle cx="1166.5" cy="880.3" r="4.85" fill="#1ecbda"/>
<circle cx="882.4" cy="890.3" r="4.85" fill="#4778f0"/>
<circle cx="940.7" cy="857.3" r="4.85" fill="#4146ac"/>
<circle cx="970.3" cy="749.5" r="4.85" fill="#455ccf"/>
<circle cx="1034.1" cy="874.0" r="4.85" fill="#4666dd"/>
<circle cx="842.5" cy="901.8" r="4.85" fill="#30123b"/>
<circle cx="1021.9" cy="754.3" r="4.85" fill="#467df4"/>
<circle cx="1152.8" cy="630.9" r="4.85" fill="#4682f8"/>
<circle cx="992.9" cy="726.5" r="4.85" fill="#23c3e4"/>
<circle cx="1024.3" cy="691.9" r="4.85" fill="#28bceb"/>
<circle cx="951.0" cy="766.7" r="4.85" fill="#4451bf"/>
<circle cx="1000.6" cy="868.4" r="4.85" fill="#3e9bfe"/>
<circle cx="1094.2" cy="697.3" r="4.85" fill="#4776ee"/>
<circle cx="958.1" cy="764.8" r="4.85" fill="#4664da"/>
<circle cx="974.7" cy="715.2" r="4.85" fill="#4682f8"/>
<circle cx="939.4" cy="822.6" r="4.85" fill="#3e9bfe"/>
<circle cx="881.1" cy="828.3" r="4.85" fill="#467df4"/>
<circle cx="1152.1" cy="613.3" r="4.85" fill="#455ed3"/>
<circle cx="879.1" cy="862.7" r="4.85" fill="#36215f"/>
<circle cx="1099.7" cy="629.1" r="4.85" fill="#424bb5"/>
<circle cx="936.4" cy="826.4" r="4.85" fill="#4682f8"/>
<circle cx="965.5" cy="796.3" r="4.85" fill="#4559cb"/>
<circle cx="956.4" cy="811.3" r="4.85" fill="#3c3286"/>
<circle cx="873.4" cy="889.6" r="4.85" fill="#372466"/>
<circle cx="868.6" cy="849.0" r="4.85" fill="#392a73"/>
<circle cx="937.2" cy="782.1" r="4.85" fill="#20c7df"/>
<circle cx="963.6" cy="790.7" r="4.85" fill="#4454c3"/>
<circle cx="955.9" cy="783.4" r="4.85" fill="#466be3"/>
<circle cx="864.2" cy="879.6" r="4.85" fill="#4454c3"/>
<circle cx="886.6" cy="856.7" r="4.85" fill="#3e3891"/>
<circle cx="914.0" cy="836.2" r="4.85" fill="#434eba"/>
<circle cx="990.9" cy="878.8" r="4.85" fill="#4666dd"/>
<circle cx="1035.7" cy="702.9" r="4.85" fill="#467df4"/>
<circle cx="1057.9" cy="706.9" r="4.85" fill="#4771e9"/>
<circle cx="922.1" cy="785.1" r="4.85" fill="#3aa3fc"/>
<circle cx="835.1" cy="874.3" r="4.85" fill="#3b2f80"/>
<circle cx="1122.5" cy="690.7" r="4.85" fill="#476ee6"/>
<circle cx="974.1" cy="780.9" r="4.85" fill="#4661d6"/>
<circle cx="909.3" cy="804.0" r="4.85" fill="#4196ff"/>
<circle cx="1003.9" cy="763.6" r="4.85" fill="#477bf2"/>
<circle cx="846.8" cy="841.2" r="4.85" fill="#4146ac"/>
<circle cx="862.6" cy="872.2" r="4.85" fill="#3b2f80"/>
<circle cx="873.6" cy="875.9" r="4.85" fill="#3e3891"/>
<circle cx="978.4" cy="884.4" r="4.85" fill="#3f3e9c"/>
<circle cx="915.2" cy="843.1" r="4.85" fill="#4451bf"/>
<circle cx="841.9" cy="877.1" r="4.85" fill="#3e3891"/>
<circle cx="980.8" cy="791.4" r="4.85" fill="#455ccf"/>
<circle cx="958.7" cy="802.6" r="4.85" fill="#4666dd"/>
<circle cx="1005.5" cy="733.2" r="4.85" fill="#4778f0"/>
<circle cx="944.7" cy="803.8" r="4.85" fill="#4451bf"/>
<circle cx="1038.7" cy="712.2" r="4.85" fill="#466be3"/>
<circle cx="852.0" cy="826.4" r="4.85" fill="#4661d6"/>
<circle cx="939.3" cy="803.5" r="4.85" fill="#4146ac"/>
<circle cx="881.4" cy="797.9" r="4.85" fill="#1ad4d0"/>
<circle cx="838.9" cy="882.5" r="4.85" fill="#3d358b"/>
<circle cx="1034.6" cy="724.1" r="4.85" fill="#4680f6"/>
<circle cx="942.7" cy="800.2" r="4.85" fill="#4682f8"/>
<circle cx="894.4" cy="866.0" r="4.85" fill="#3d358b"/>
<circle cx="986.3" cy="889.7" r="4.85" fill="#3f3e9c"/>
<circle cx="1153.2" cy="619.0" r="4.85" fill="#4773eb"/>
<circle cx="878.2" cy="900.4" r="4.85" fill="#28bceb"/>
<circle cx="885.1" cy="876.3" r="4.85" fill="#434eba"/>
<circle cx="934.6" cy="788.9" r="4.85" fill="#466be3"/>
<circle cx="850.0" cy="843.0" r="4.85" fill="#3d9efe"/>
<circle cx="979.4" cy="790.5" r="4.85" fill="#4559cb"/>
<circle cx="955.2" cy="821.9" r="4.85" fill="#4666dd"/>
<circle cx="1003.0" cy="739.8" r="4.85" fill="#4687fb"/>
<circle cx="1005.2" cy="750.3" r="4.85" fill="#424bb5"/>
<circle cx="1134.6" cy="615.3" r="4.85" fill="#2ab9ee"/>
<circle cx="858.2" cy="864.5" r="4.85" fill="#4454c3"/>
<circle cx="878.9" cy="882.4" r="4.85" fill="#3b2f80"/>
<circle cx="843.5" cy="819.3" r="4.85" fill="#4661d6"/>
<circle cx="835.8" cy="852.4" r="4.85" fill="#3d358b"/>
<circle cx="1027.5" cy="743.5" r="4.85" fill="#2cb7f0"/>
<circle cx="902.6" cy="852.0" r="4.85" fill="#4249b1"/>
<circle cx="966.0" cy="752.3" r="4.85" fill="#466be3"/>
<circle cx="929.1" cy="830.2" r="4.85" fill="#4146ac"/>
<circle cx="951.6" cy="798.4" r="4.85" fill="#4146ac"/>
<circle cx="881.8" cy="819.7" r="4.85" fill="#455ccf"/>
<circle cx="1011.6" cy="706.4" r="4.85" fill="#4451bf"/>
<circle cx="853.7" cy="854.6" r="4.85" fill="#4669e0"/>
<circle cx="890.9" cy="868.6" r="4.85" fill="#4040a2"/>
<circle cx="1008.8" cy="735.9" r="4.85" fill="#4040a2"/>
<circle cx="936.9" cy="811.6" r="4.85" fill="#3e3891"/>
<circle cx="961.8" cy="764.1" r="4.85" fill="#1bd0d5"/>
<circle cx="1039.7" cy="746.2" r="4.85" fill="#448ffe"/>
<circle cx="933.4" cy="811.2" r="4.85" fill="#3f3e9c"/>
<circle cx="1024.0" cy="711.7" r="4.85" fill="#4196ff"/>
<circle cx="1045.5" cy="708.4" r="4.85" fill="#4143a7"/>
<circle cx="973.7" cy="744.5" r="4.85" fill="#424bb5"/>
<circle cx="1033.5" cy="639.1" r="4.85" fill="#19d5cd"/>
<circle cx="1127.9" cy="681.6" r="4.85" fill="#458cfd"/>
<circle cx="856.0" cy="886.6" r="4.85" fill="#351e58"/>
<circle cx="956.7" cy="902.0" r="4.85" fill="#4666dd"/>
<circle cx="994.5" cy="735.4" r="4.85" fill="#4196ff"/>
<circle cx="1136.5" cy="642.7" r="4.85" fill="#3d9efe"/>
<circle cx="949.3" cy="777.3" r="4.85" fill="#4664da"/>
<circle cx="903.6" cy="838.3" r="4.85" fill="#4559cb"/>
<circle cx="985.4" cy="787.6" r="4.85" fill="#476ee6"/>
<circle cx="877.1" cy="859.8" r="4.85" fill="#3d358b"/>
<circle cx="856.4" cy="815.4" r="4.85" fill="#434eba"/>
<circle cx="920.7" cy="825.6" r="4.85" fill="#3aa3fc"/>
<circle cx="978.9" cy="826.6" r="4.85" fill="#4669e0"/>
<circle cx="1090.2" cy="666.7" r="4.85" fill="#4196ff"/>
<circle cx="851.9" cy="819.8" r="4.85" fill="#4146ac"/>
<circle cx="852.8" cy="894.1" r="4.85" fill="#321543"/>
<circle cx="1016.8" cy="690.4" r="4.85" fill="#4391fe"/>
<circle cx="1107.2" cy="689.1" r="4.85" fill="#4682f8"/>
<circle cx="991.0" cy="762.8" r="4.85" fill="#4249b1"/>
<circle cx="1025.8" cy="759.7" r="4.85" fill="#4559cb"/>
<circle cx="887.9" cy="834.4" r="4.85" fill="#3f3e9c"/>
<circle cx="932.1" cy="821.2" r="4.85" fill="#4451bf"/>
<circle cx="928.8" cy="895.3" r="4.85" fill="#4666dd"/>
<circle cx="985.7" cy="770.2" r="4.85" fill="#4456c7"/>
<circle cx="911.9" cy="832.2" r="4.85" fill="#392a73"/>
<circle cx="1071.0" cy="673.3" r="4.85" fill="#455ccf"/>
<circle cx="856.0" cy="901.6" r="4.85" fill="#3c3286"/>
<circle cx="1013.8" cy="721.4" r="4.85" fill="#4099ff"/>
<circle cx="895.7" cy="850.7" r="4.85" fill="#4559cb"/>
<circle cx="884.8" cy="849.3" r="4.85" fill="#4196ff"/>
<circle cx="870.7" cy="874.2" r="4.85" fill="#424bb5"/>
<circle cx="859.9" cy="881.7" r="4.85" fill="#351e58"/>
<circle cx="992.7" cy="768.9" r="4.85" fill="#4669e0"/>
<circle cx="932.5" cy="792.9" r="4.85" fill="#4661d6"/>
<circle cx="896.6" cy="868.1" r="4.85" fill="#455ed3"/>
<circle cx="874.9" cy="839.6" r="4.85" fill="#455ed3"/>
<circle cx="899.4" cy="875.6" r="4.85" fill="#4249b1"/>
<circle cx="881.9" cy="853.5" r="4.85" fill="#4451bf"/>
<circle cx="921.9" cy="805.8" r="4.85" fill="#4771e9"/>
<circle cx="839.2" cy="857.4" r="4.85" fill="#4249b1"/>
<circle cx="999.4" cy="749.0" r="4.85" fill="#455ccf"/>
<circle cx="828.7" cy="897.5" r="4.85" fill="#392a73"/>
<circle cx="842.1" cy="875.0" r="4.85" fill="#3d358b"/>
<circle cx="831.0" cy="876.7" r="4.85" fill="#321543"/>
<circle cx="955.7" cy="799.9" r="4.85" fill="#4146ac"/>
<circle cx="853.4" cy="831.1" r="4.85" fill="#434eba"/>
<circle cx="1049.9" cy="716.6" r="4.85" fill="#4666dd"/>
<circle cx="1035.9" cy="724.0" r="4.85" fill="#448ffe"/>
<circle cx="908.4" cy="845.3" r="4.85" fill="#3f3b97"/>
<circle cx="828.6" cy="916.1" r="4.85" fill="#372466"/>
<circle cx="909.0" cy="816.7" r="4.85" fill="#455ccf"/>
<circle cx="1026.2" cy="850.7" r="4.85" fill="#1ecbda"/>
<circle cx="866.8" cy="857.4" r="4.85" fill="#4451bf"/>
<circle cx="877.6" cy="853.6" r="4.85" fill="#4146ac"/>
<circle cx="829.5" cy="904.2" r="4.85" fill="#3d358b"/>
<circle cx="860.7" cy="899.6" r="4.85" fill="#372466"/>
<circle cx="984.7" cy="803.6" r="4.85" fill="#4773eb"/>
<circle cx="1038.1" cy="682.3" r="4.85" fill="#31aff5"/>
<circle cx="927.7" cy="796.3" r="4.85" fill="#476ee6"/>
<circle cx="1006.0" cy="713.0" r="4.85" fill="#3e9bfe"/>
<circle cx="919.7" cy="831.3" r="4.85" fill="#4771e9"/>
<circle cx="933.3" cy="848.0" r="4.85" fill="#466be3"/>
<circle cx="875.2" cy="870.2" r="4.85" fill="#3c3286"/>
<circle cx="861.6" cy="858.6" r="4.85" fill="#4778f0"/>
<circle cx="904.7" cy="806.1" r="4.85" fill="#458afc"/>
<circle cx="942.7" cy="760.8" r="4.85" fill="#4666dd"/>
<circle cx="1017.3" cy="754.0" r="4.85" fill="#4773eb"/>
<circle cx="972.8" cy="804.5" r="4.85" fill="#455ccf"/>
<circle cx="863.9" cy="868.5" r="4.85" fill="#3c3286"/>
<circle cx="891.3" cy="844.0" r="4.85" fill="#4669e0"/>
<circle cx="853.8" cy="878.4" r="4.85" fill="#341b51"/>
<circle cx="1055.8" cy="703.6" r="4.85" fill="#434eba"/>
<circle cx="919.9" cy="822.4" r="4.85" fill="#455ccf"/>
<circle cx="1048.5" cy="624.5" r="4.85" fill="#2ab9ee"/>
<circle cx="941.7" cy="787.4" r="4.85" fill="#3e3891"/>
<circle cx="849.9" cy="862.3" r="4.85" fill="#3c3286"/>
<circle cx="896.9" cy="822.9" r="4.85" fill="#4456c7"/>
<circle cx="910.3" cy="843.3" r="4.85" fill="#4559cb"/>
<circle cx="865.1" cy="886.5" r="4.85" fill="#424bb5"/>
<circle cx="1118.4" cy="656.6" r="4.85" fill="#4196ff"/>
<circle cx="832.4" cy="839.9" r="4.85" fill="#38276d"/>
<circle cx="909.6" cy="835.9" r="4.85" fill="#372466"/>
<circle cx="1045.3" cy="684.5" r="4.85" fill="#4680f6"/>
<circle cx="837.1" cy="884.6" r="4.85" fill="#3f3b97"/>
<circle cx="1034.9" cy="857.5" r="4.85" fill="#1ecbda"/>
<circle cx="1028.0" cy="858.5" r="4.85" fill="#1de7b2"/>
<circle cx="846.4" cy="872.0" r="4.85" fill="#4454c3"/>
<circle cx="989.5" cy="774.8" r="4.85" fill="#4666dd"/>
<circle cx="842.5" cy="910.0" r="4.85" fill="#351e58"/>
<circle cx="1008.5" cy="740.7" r="4.85" fill="#4249b1"/>
<circle cx="961.4" cy="789.5" r="4.85" fill="#4451bf"/>
<circle cx="832.3" cy="893.9" r="4.85" fill="#3e3891"/>
<circle cx="834.2" cy="887.8" r="4.85" fill="#3e3891"/>
<circle cx="852.0" cy="858.3" r="4.85" fill="#3d9efe"/>
<circle cx="861.4" cy="894.4" r="4.85" fill="#3b2f80"/>
<circle cx="912.0" cy="819.5" r="4.85" fill="#477bf2"/>
<circle cx="893.8" cy="801.4" r="4.85" fill="#33adf7"/>
<circle cx="1037.8" cy="755.1" r="4.85" fill="#19d5cd"/>
<circle cx="1006.4" cy="727.4" r="4.85" fill="#37a8fa"/>
<circle cx="980.1" cy="770.9" r="4.85" fill="#3f3b97"/>
<circle cx="834.6" cy="903.4" r="4.85" fill="#33184a"/>
<circle cx="829.2" cy="866.9" r="4.85" fill="#3d358b"/>
<circle cx="1039.5" cy="707.7" r="4.85" fill="#38a5fb"/>
<circle cx="902.7" cy="881.4" r="4.85" fill="#455ccf"/>
<circle cx="1042.0" cy="738.9" r="4.85" fill="#458afc"/>
<circle cx="828.5" cy="883.3" r="4.85" fill="#3d358b"/>
<circle cx="882.3" cy="884.9" r="4.85" fill="#4661d6"/>
<circle cx="935.6" cy="791.9" r="4.85" fill="#448ffe"/>
<circle cx="871.8" cy="895.5" r="4.85" fill="#455ccf"/>
<circle cx="905.0" cy="842.7" r="4.85" fill="#434eba"/>
<circle cx="838.6" cy="913.8" r="4.85" fill="#36215f"/>
<circle cx="1041.7" cy="679.3" r="4.85" fill="#4687fb"/>
<circle cx="1057.9" cy="732.6" r="4.85" fill="#1fc9dd"/>
<circle cx="1150.7" cy="606.7" r="4.85" fill="#4680f6"/>
<circle cx="1030.5" cy="765.0" r="4.85" fill="#467df4"/>
<circle cx="931.7" cy="811.2" r="4.85" fill="#4454c3"/>
<circle cx="836.8" cy="838.5" r="4.85" fill="#3f3b97"/>
<circle cx="839.8" cy="859.2" r="4.85" fill="#3e3891"/>
<circle cx="868.0" cy="898.6" r="4.85" fill="#3d358b"/>
<circle cx="833.2" cy="855.4" r="4.85" fill="#3e3891"/>
<circle cx="845.8" cy="848.4" r="4.85" fill="#455ccf"/>
<circle cx="904.3" cy="881.3" r="4.85" fill="#424bb5"/>
<circle cx="855.4" cy="904.6" r="4.85" fill="#372466"/>
<circle cx="838.8" cy="887.0" r="4.85" fill="#38276d"/>
<circle cx="900.0" cy="831.8" r="4.85" fill="#455ed3"/>
<circle cx="1039.6" cy="719.2" r="4.85" fill="#4454c3"/>
<circle cx="848.9" cy="906.6" r="4.85" fill="#372466"/>
<circle cx="976.8" cy="786.7" r="4.85" fill="#4685fa"/>
<circle cx="828.2" cy="894.4" r="4.85" fill="#3c3286"/>
<circle cx="840.8" cy="897.2" r="4.85" fill="#3c3286"/>
<circle cx="937.5" cy="869.1" r="4.85" fill="#4196ff"/>
<circle cx="919.9" cy="810.5" r="4.85" fill="#4099ff"/>
<circle cx="848.5" cy="890.9" r="4.85" fill="#3d358b"/>
<circle cx="868.9" cy="901.7" r="4.85" fill="#4771e9"/>
<circle cx="884.1" cy="833.9" r="4.85" fill="#4143a7"/>
<circle cx="892.6" cy="795.9" r="4.85" fill="#3e3891"/>
<circle cx="866.5" cy="888.8" r="4.85" fill="#3a2d79"/>
<circle cx="839.0" cy="894.6" r="4.85" fill="#4040a2"/>
<circle cx="859.7" cy="865.6" r="4.85" fill="#434eba"/>
<circle cx="966.3" cy="781.4" r="4.85" fill="#4249b1"/>
<circle cx="1024.8" cy="662.1" r="4.85" fill="#3e9bfe"/>
<circle cx="1035.1" cy="696.0" r="4.85" fill="#4778f0"/>
<circle cx="828.3" cy="859.0" r="4.85" fill="#36215f"/>
<circle cx="984.2" cy="784.3" r="4.85" fill="#424bb5"/>
<circle cx="981.8" cy="764.6" r="4.85" fill="#455ed3"/>
<circle cx="1019.6" cy="682.6" r="4.85" fill="#19e2bb"/>
<circle cx="891.4" cy="869.5" r="4.85" fill="#4669e0"/>
<circle cx="830.9" cy="905.8" r="4.85" fill="#351e58"/>
<circle cx="854.4" cy="907.6" r="4.85" fill="#4664da"/>
<circle cx="892.5" cy="851.1" r="4.85" fill="#36215f"/>
<circle cx="1022.3" cy="747.3" r="4.85" fill="#467df4"/>
<circle cx="913.9" cy="847.7" r="4.85" fill="#424bb5"/>
<circle cx="892.8" cy="856.8" r="4.85" fill="#3f3b97"/>
<circle cx="832.5" cy="916.3" r="4.85" fill="#30123b"/>
<circle cx="848.7" cy="897.8" r="4.85" fill="#36215f"/>
<circle cx="1043.8" cy="716.1" r="4.85" fill="#466be3"/>
<circle cx="861.9" cy="903.9" r="4.85" fill="#4454c3"/>
<circle cx="849.1" cy="845.6" r="4.85" fill="#4391fe"/>
<circle cx="951.8" cy="880.3" r="4.85" fill="#a4fc3c"/>
<circle cx="922.1" cy="799.0" r="4.85" fill="#4664da"/>
<circle cx="974.2" cy="790.1" r="4.85" fill="#4687fb"/>
<circle cx="1024.1" cy="812.9" r="4.85" fill="#1ecbda"/>
<circle cx="876.6" cy="835.7" r="4.85" fill="#4559cb"/>
<circle cx="954.4" cy="795.2" r="4.85" fill="#3e3891"/>
<circle cx="1085.4" cy="660.4" r="4.85" fill="#38a5fb"/>
<circle cx="904.2" cy="828.4" r="4.85" fill="#455ed3"/>
<circle cx="1026.2" cy="802.1" r="4.85" fill="#1ecbda"/>
<circle cx="830.5" cy="917.4" r="4.85" fill="#392a73"/>
<circle cx="987.0" cy="775.7" r="4.85" fill="#4456c7"/>
<circle cx="888.9" cy="856.8" r="4.85" fill="#4669e0"/>
<circle cx="860.1" cy="891.9" r="4.85" fill="#36215f"/>
<circle cx="876.0" cy="872.4" r="4.85" fill="#341b51"/>
<circle cx="912.8" cy="811.5" r="4.85" fill="#4196ff"/>
<circle cx="1034.0" cy="703.6" r="4.85" fill="#4391fe"/>
<circle cx="969.0" cy="777.0" r="4.85" fill="#4249b1"/>
<circle cx="951.6" cy="809.0" r="4.85" fill="#4773eb"/>
<circle cx="851.9" cy="889.3" r="4.85" fill="#38276d"/>
<circle cx="848.3" cy="885.8" r="4.85" fill="#33184a"/>
<circle cx="934.3" cy="775.4" r="4.85" fill="#4294ff"/>
<circle cx="879.3" cy="890.5" r="4.85" fill="#4146ac"/>
<circle cx="1062.4" cy="691.0" r="4.85" fill="#4249b1"/>
<circle cx="829.3" cy="910.9" r="4.85" fill="#33184a"/>
<circle cx="831.2" cy="914.7" r="4.85" fill="#30123b"/>
<circle cx="848.0" cy="910.1" r="4.85" fill="#4664da"/>
<circle cx="833.7" cy="912.0" r="4.85" fill="#33184a"/>
<circle cx="939.8" cy="794.6" r="4.85" fill="#4661d6"/>
<circle cx="917.6" cy="822.1" r="4.85" fill="#4249b1"/>
<circle cx="1027.6" cy="728.2" r="4.85" fill="#434eba"/>
</g>
<path d="M826.8 916.8L1166.0 595.5" stroke="#cc444c" stroke-width="2.4" stroke-dasharray="7.4,3.2" fill="none"/>
</g>
<rect x="818.0" y="586.9" width="359.0" height="338.9" fill="none" stroke="#cccccc" stroke-width="1.7"/>
<rect x="827.9" y="595.4" width="128.3" height="68.2" rx="7" fill="#fff" fill-opacity="0.85" stroke="#7f7f7f" stroke-width="1.4"/>
<text x="836.2" y="615.7" font-size="16.67">R² = 0.85</text>
<text x="836.2" y="633.5" font-size="16.67">MAE = 56 K</text>
<text x="836.2" y="651.4" font-size="16.67">RMSE = 103 K</text>
<text x="828.1" y="951.2" text-anchor="middle" font-size="18.33" letter-spacing="0.6">0</text>
<text x="892.0" y="951.2" text-anchor="middle" font-size="18.33" letter-spacing="0.6">250</text>
<text x="955.9" y="951.2" text-anchor="middle" font-size="18.33" letter-spacing="0.6">500</text>
<text x="1019.8" y="951.2" text-anchor="middle" font-size="18.33" letter-spacing="0.6">750</text>
<text x="1083.7" y="951.2" text-anchor="middle" font-size="18.33" letter-spacing="0.6">1000</text>
<text x="1147.6" y="951.2" text-anchor="middle" font-size="18.33" letter-spacing="0.6">1250</text>
<text x="807.4" y="922.9" text-anchor="end" font-size="18.33" letter-spacing="0.6">0</text>
<text x="807.4" y="874.5" text-anchor="end" font-size="18.33" letter-spacing="0.6">200</text>
<text x="807.4" y="826.1" text-anchor="end" font-size="18.33" letter-spacing="0.6">400</text>
<text x="807.4" y="777.6" text-anchor="end" font-size="18.33" letter-spacing="0.6">600</text>
<text x="807.4" y="729.2" text-anchor="end" font-size="18.33" letter-spacing="0.6">800</text>
<text x="807.4" y="680.8" text-anchor="end" font-size="18.33" letter-spacing="0.6">1000</text>
<text x="807.4" y="632.4" text-anchor="end" font-size="18.33" letter-spacing="0.6">1200</text>
<text x="997.5" y="981.9" text-anchor="middle" font-size="21.67">Actual Curie Temperature (K)</text>
<text transform="translate(748.4,756.3) rotate(-90)" text-anchor="middle" font-size="21.67">Predicted Curie Temperature (K)</text>
<rect x="1190.75" y="587.95" width="15.40" height="337.10" fill="url(#gre)" fill-opacity="0.88"/>
<rect x="1190.10" y="587.30" width="16.70" height="338.40" fill="none" stroke="#d8dad8" stroke-width="1.3"/>
<text x="1219.1" y="854.1" font-size="18.33" letter-spacing="0.3">100</text>
<text x="1219.1" y="772.3" font-size="18.33" letter-spacing="0.3">200</text>
<text x="1219.1" y="690.6" font-size="18.33" letter-spacing="0.3">300</text>
<text x="1219.1" y="608.8" font-size="18.33" letter-spacing="0.3">400</text>
<path d="M1207.3 847.6h5.8M1207.3 765.8h5.8M1207.3 684.1h5.8M1207.3 602.3h5.8" stroke="#262626" stroke-width="1.3"/>
<text transform="translate(1267.3,756.3) rotate(-90)" text-anchor="middle" font-size="16.67">Prediction Std Deviation (K)</text>
<text x="1350.9" y="536.3" font-size="31.5" font-weight="bold" fill="#000">f</text>
<text x="1664.0" y="563.4" text-anchor="middle" font-size="23.33" letter-spacing="0.25">XGBoost with Stratified Undersampling</text>
<path d="M1495.0 586.9V925.8M1558.8 586.9V925.8M1622.7 586.9V925.8M1686.5 586.9V925.8M1750.3 586.9V925.8M1814.1 586.9V925.8M1484.8 915.6H1843.2M1484.8 867.2H1843.2M1484.8 818.8H1843.2M1484.8 770.3H1843.2M1484.8 721.9H1843.2M1484.8 673.5H1843.2M1484.8 625.1H1843.2" stroke="#e6e6e6" stroke-width="1.1" stroke-dasharray="4.6,1.5" fill="none"/>
<g clip-path="url(#clipf)">
<path d="M1685.6 654.1v28.0m-2.5 0h5m0 -28.0h-5M1781.5 615.6v26.0m-2.5 0h5m0 -26.0h-5M1577.9 617.1v88.6m-2.5 0h5m0 -88.6h-5M1550.2 759.1v47.1m-2.5 0h5m0 -47.1h-5M1750.2 691.6v29.9m-2.5 0h5m0 -29.9h-5M1815.4 628.6v34.0m-2.5 0h5m0 -34.0h-5M1828.3 598.5v24.4m-2.5 0h5m0 -24.4h-5M1661.7 655.7v20.0m-2.5 0h5m0 -20.0h-5M1668.8 700.4v25.9m-2.5 0h5m0 -25.9h-5M1532.8 784.5v32.0m-2.5 0h5m0 -32.0h-5M1708.0 761.8v22.8m-2.5 0h5m0 -22.8h-5M1610.8 736.8v21.6m-2.5 0h5m0 -21.6h-5M1682.5 669.6v43.3m-2.5 0h5m0 -43.3h-5M1668.2 616.6v69.0m-2.5 0h5m0 -69.0h-5M1648.4 698.5v18.4m-2.5 0h5m0 -18.4h-5M1638.8 730.9v23.6m-2.5 0h5m0 -23.6h-5M1698.6 742.8v20.9m-2.5 0h5m0 -20.9h-5M1628.1 829.3v20.0m-2.5 0h5m0 -20.0h-5M1726.9 709.8v15.5m-2.5 0h5m0 -15.5h-5M1592.9 681.2v80.7m-2.5 0h5m0 -80.7h-5M1637.3 822.3v21.3m-2.5 0h5m0 -21.3h-5M1631.4 711.2v26.6m-2.5 0h5m0 -26.6h-5M1558.7 773.0v40.8m-2.5 0h5m0 -40.8h-5M1575.2 758.9v25.1m-2.5 0h5m0 -25.1h-5M1533.6 745.0v32.1m-2.5 0h5m0 -32.1h-5M1575.1 791.7v20.5m-2.5 0h5m0 -20.5h-5M1781.1 620.5v22.1m-2.5 0h5m0 -22.1h-5M1655.5 781.2v31.3m-2.5 0h5m0 -31.3h-5M1649.2 646.8v46.8m-2.5 0h5m0 -46.8h-5M1631.3 743.1v25.2m-2.5 0h5m0 -25.2h-5M1593.8 725.5v37.4m-2.5 0h5m0 -37.4h-5M1734.6 736.8v46.0m-2.5 0h5m0 -46.0h-5M1831.6 596.8v17.9m-2.5 0h5m0 -17.9h-5M1642.3 827.8v57.3m-2.5 0h5m0 -57.3h-5M1570.9 854.1v60.6m-2.5 0h5m0 -60.6h-5M1658.5 691.8v35.8m-2.5 0h5m0 -35.8h-5M1767.6 624.1v25.2m-2.5 0h5m0 -25.2h-5M1564.1 805.1v25.1m-2.5 0h5m0 -25.1h-5M1620.6 707.9v53.7m-2.5 0h5m0 -53.7h-5M1528.3 739.3v32.9m-2.5 0h5m0 -32.9h-5M1658.6 695.2v28.2m-2.5 0h5m0 -28.2h-5M1703.8 605.7v22.2m-2.5 0h5m0 -22.2h-5M1607.4 851.1v13.8m-2.5 0h5m0 -13.8h-5M1658.1 783.0v24.6m-2.5 0h5m0 -24.6h-5M1674.9 684.4v26.7m-2.5 0h5m0 -26.7h-5M1676.2 819.0v26.0m-2.5 0h5m0 -26.0h-5M1672.9 808.7v57.3m-2.5 0h5m0 -57.3h-5M1626.8 833.6v30.1m-2.5 0h5m0 -30.1h-5M1690.7 788.7v25.3m-2.5 0h5m0 -25.3h-5M1624.2 702.4v30.2m-2.5 0h5m0 -30.2h-5M1685.2 692.8v22.6m-2.5 0h5m0 -22.6h-5M1801.1 644.7v13.4m-2.5 0h5m0 -13.4h-5M1537.4 683.4v55.8m-2.5 0h5m0 -55.8h-5M1622.4 727.8v39.5m-2.5 0h5m0 -39.5h-5M1559.3 707.9v31.3m-2.5 0h5m0 -31.3h-5M1583.1 703.3v31.3m-2.5 0h5m0 -31.3h-5M1669.0 786.0v30.0m-2.5 0h5m0 -30.0h-5M1714.4 659.5v22.3m-2.5 0h5m0 -22.3h-5M1694.9 655.0v22.5m-2.5 0h5m0 -22.5h-5M1509.9 802.6v33.9m-2.5 0h5m0 -33.9h-5M1534.8 806.8v25.7m-2.5 0h5m0 -25.7h-5M1708.0 621.4v53.7m-2.5 0h5m0 -53.7h-5M1646.6 712.6v16.9m-2.5 0h5m0 -16.9h-5M1650.0 676.1v24.0m-2.5 0h5m0 -24.0h-5M1566.5 871.0v29.7m-2.5 0h5m0 -29.7h-5M1725.3 655.5v38.0m-2.5 0h5m0 -38.0h-5M1654.5 691.4v29.2m-2.5 0h5m0 -29.2h-5M1702.7 678.8v18.8m-2.5 0h5m0 -18.8h-5M1799.1 654.3v22.5m-2.5 0h5m0 -22.5h-5M1821.6 597.4v29.2m-2.5 0h5m0 -29.2h-5M1812.3 600.5v22.5m-2.5 0h5m0 -22.5h-5M1498.3 797.4v51.5m-2.5 0h5m0 -51.5h-5M1591.3 738.1v20.7m-2.5 0h5m0 -20.7h-5M1594.7 692.3v49.8m-2.5 0h5m0 -49.8h-5M1769.4 717.0v22.5m-2.5 0h5m0 -22.5h-5M1774.3 703.1v31.3m-2.5 0h5m0 -31.3h-5M1725.9 704.5v21.7m-2.5 0h5m0 -21.7h-5M1748.5 647.4v20.3m-2.5 0h5m0 -20.3h-5M1709.9 632.1v37.8m-2.5 0h5m0 -37.8h-5M1761.3 733.4v31.3m-2.5 0h5m0 -31.3h-5M1678.2 807.1v20.2m-2.5 0h5m0 -20.2h-5M1551.0 887.0v20.0m-2.5 0h5m0 -20.0h-5M1820.4 599.6v21.1m-2.5 0h5m0 -21.1h-5M1823.5 605.8v18.1m-2.5 0h5m0 -18.1h-5M1525.1 730.9v47.4m-2.5 0h5m0 -47.4h-5M1666.6 644.4v31.1m-2.5 0h5m0 -31.1h-5M1641.7 805.2v20.1m-2.5 0h5m0 -20.1h-5M1620.2 694.3v45.8m-2.5 0h5m0 -45.8h-5M1754.4 727.5v66.9m-2.5 0h5m0 -66.9h-5M1762.3 742.5v55.8m-2.5 0h5m0 -55.8h-5M1571.7 877.6v19.2m-2.5 0h5m0 -19.2h-5M1752.9 766.9v22.5m-2.5 0h5m0 -22.5h-5M1610.5 705.7v14.5m-2.5 0h5m0 -14.5h-5M1720.7 745.1v105.8m-2.5 0h5m0 -105.8h-5M1700.9 615.6v38.4m-2.5 0h5m0 -38.4h-5M1767.3 776.9v52.8m-2.5 0h5m0 -52.8h-5M1754.4 784.0v38.0m-2.5 0h5m0 -38.0h-5M1548.5 766.1v27.0m-2.5 0h5m0 -27.0h-5M1832.8 776.1v55.8m-2.5 0h5m0 -55.8h-5M1674.2 759.5v80.2m-2.5 0h5m0 -80.2h-5M1633.6 723.2v80.2m-2.5 0h5m0 -80.2h-5M1605.9 725.0v61.7m-2.5 0h5m0 -61.7h-5M1762.0 845.8v22.5m-2.5 0h5m0 -22.5h-5M1729.1 648.4v34.7m-2.5 0h5m0 -34.7h-5M1681.5 795.3v13.3m-2.5 0h5m0 -13.3h-5M1817.1 602.0v24.0m-2.5 0h5m0 -24.0h-5M1714.8 835.0v13.6m-2.5 0h5m0 -13.6h-5M1701.0 835.9v22.5m-2.5 0h5m0 -22.5h-5M1697.5 621.4v27.3m-2.5 0h5m0 -27.3h-5M1689.5 843.4v22.5m-2.5 0h5m0 -22.5h-5M1569.8 757.3v13.9m-2.5 0h5m0 -13.9h-5M1691.6 630.9v15.1m-2.5 0h5m0 -15.1h-5M1709.7 737.6v25.3m-2.5 0h5m0 -25.3h-5M1710.7 740.9v25.6m-2.5 0h5m0 -25.6h-5M1675.4 803.1v23.6m-2.5 0h5m0 -23.6h-5M1639.4 726.6v29.8m-2.5 0h5m0 -29.8h-5M1530.5 810.4v13.8m-2.5 0h5m0 -13.8h-5M1710.7 733.7v41.2m-2.5 0h5m0 -41.2h-5M1633.6 866.4v22.5m-2.5 0h5m0 -22.5h-5M1618.7 745.9v20.2m-2.5 0h5m0 -20.2h-5M1584.4 781.4v24.1m-2.5 0h5m0 -24.1h-5M1619.1 847.0v55.8m-2.5 0h5m0 -55.8h-5M1571.6 905.7v13.6m-2.5 0h5m0 -13.6h-5M1584.8 874.0v16.6m-2.5 0h5m0 -16.6h-5M1581.0 891.8v22.5m-2.5 0h5m0 -22.5h-5M1662.1 700.0v21.4m-2.5 0h5m0 -21.4h-5M1581.9 735.4v42.4m-2.5 0h5m0 -42.4h-5M1536.6 786.3v66.9m-2.5 0h5m0 -66.9h-5M1568.1 773.8v25.1m-2.5 0h5m0 -25.1h-5M1810.4 598.6v24.8m-2.5 0h5m0 -24.8h-5M1536.6 778.5v66.9m-2.5 0h5m0 -66.9h-5M1518.5 759.2v55.8m-2.5 0h5m0 -55.8h-5M1549.7 736.6v34.2m-2.5 0h5m0 -34.2h-5M1669.4 767.4v22.9m-2.5 0h5m0 -22.9h-5M1658.3 781.8v26.7m-2.5 0h5m0 -26.7h-5M1497.8 773.6v31.3m-2.5 0h5m0 -31.3h-5M1800.7 612.6v13.7m-2.5 0h5m0 -13.7h-5M1506.7 767.5v31.3m-2.5 0h5m0 -31.3h-5M1550.0 811.6v29.2m-2.5 0h5m0 -29.2h-5M1500.9 778.6v46.9m-2.5 0h5m0 -46.9h-5M1497.8 796.8v46.9m-2.5 0h5m0 -46.9h-5M1734.6 713.7v13.8m-2.5 0h5m0 -13.8h-5M1645.5 788.7v25.0m-2.5 0h5m0 -25.0h-5M1605.3 859.6v19.6m-2.5 0h5m0 -19.6h-5M1690.8 738.6v51.1m-2.5 0h5m0 -51.1h-5M1667.1 679.7v35.2m-2.5 0h5m0 -35.2h-5" stroke="#b4b4b4" stroke-opacity="0.45" stroke-width="0.9" fill="none"/>
<g stroke="#000" stroke-width="0.6" stroke-opacity="0.85" fill-opacity="0.88">
<circle cx="1788.3" cy="638.6" r="4.85" fill="#4771e9"/>
<circle cx="1685.6" cy="668.1" r="4.85" fill="#28bceb"/>
<circle cx="1577.9" cy="661.4" r="4.85" fill="#f15d13"/>
<circle cx="1550.2" cy="782.6" r="4.85" fill="#59fb73"/>
<circle cx="1750.2" cy="706.6" r="4.85" fill="#22c5e2"/>
<circle cx="1815.4" cy="645.7" r="4.85" fill="#18d7ca"/>
<circle cx="1683.5" cy="685.3" r="4.85" fill="#4451bf"/>
<circle cx="1828.3" cy="610.7" r="4.85" fill="#38a5fb"/>
<circle cx="1608.2" cy="770.1" r="4.85" fill="#458cfd"/>
<circle cx="1831.0" cy="641.9" r="4.85" fill="#467df4"/>
<circle cx="1596.5" cy="861.4" r="4.85" fill="#4680f6"/>
<circle cx="1806.7" cy="633.7" r="4.85" fill="#4669e0"/>
<circle cx="1661.7" cy="665.7" r="4.85" fill="#458cfd"/>
<circle cx="1522.3" cy="810.5" r="4.85" fill="#4040a2"/>
<circle cx="1668.8" cy="713.4" r="4.85" fill="#31aff5"/>
<circle cx="1709.6" cy="660.7" r="4.85" fill="#2fb2f4"/>
<circle cx="1532.8" cy="800.5" r="4.85" fill="#1bd0d5"/>
<circle cx="1703.1" cy="745.5" r="4.85" fill="#4661d6"/>
<circle cx="1678.5" cy="772.8" r="4.85" fill="#4669e0"/>
<circle cx="1654.0" cy="713.5" r="4.85" fill="#2fb2f4"/>
<circle cx="1497.8" cy="841.3" r="4.85" fill="#434eba"/>
<circle cx="1622.4" cy="845.7" r="4.85" fill="#4669e0"/>
<circle cx="1543.1" cy="907.8" r="4.85" fill="#4143a7"/>
<circle cx="1648.6" cy="819.9" r="4.85" fill="#4661d6"/>
<circle cx="1708.0" cy="773.2" r="4.85" fill="#3e9bfe"/>
<circle cx="1610.8" cy="747.6" r="4.85" fill="#4196ff"/>
<circle cx="1682.5" cy="691.2" r="4.85" fill="#3cf58e"/>
<circle cx="1623.8" cy="752.4" r="4.85" fill="#4451bf"/>
<circle cx="1693.1" cy="682.5" r="4.85" fill="#466be3"/>
<circle cx="1553.1" cy="807.6" r="4.85" fill="#4669e0"/>
<circle cx="1648.9" cy="748.5" r="4.85" fill="#4456c7"/>
<circle cx="1708.5" cy="737.8" r="4.85" fill="#466be3"/>
<circle cx="1624.3" cy="759.6" r="4.85" fill="#4664da"/>
<circle cx="1608.6" cy="843.7" r="4.85" fill="#477bf2"/>
<circle cx="1717.9" cy="711.4" r="4.85" fill="#4454c3"/>
<circle cx="1668.2" cy="651.1" r="4.85" fill="#ebd339"/>
<circle cx="1647.8" cy="723.7" r="4.85" fill="#4249b1"/>
<circle cx="1733.0" cy="684.7" r="4.85" fill="#4661d6"/>
<circle cx="1495.3" cy="823.9" r="4.85" fill="#476ee6"/>
<circle cx="1727.7" cy="699.5" r="4.85" fill="#4451bf"/>
<circle cx="1713.9" cy="736.0" r="4.85" fill="#477bf2"/>
<circle cx="1648.4" cy="707.7" r="4.85" fill="#4682f8"/>
<circle cx="1644.0" cy="732.3" r="4.85" fill="#3e9bfe"/>
<circle cx="1654.2" cy="729.6" r="4.85" fill="#477bf2"/>
<circle cx="1571.3" cy="811.3" r="4.85" fill="#4664da"/>
<circle cx="1698.6" cy="753.3" r="4.85" fill="#4391fe"/>
<circle cx="1628.1" cy="839.3" r="4.85" fill="#458cfd"/>
<circle cx="1726.9" cy="717.5" r="4.85" fill="#4773eb"/>
<circle cx="1559.1" cy="802.7" r="4.85" fill="#458cfd"/>
<circle cx="1735.4" cy="707.2" r="4.85" fill="#455ccf"/>
<circle cx="1663.6" cy="789.2" r="4.85" fill="#467df4"/>
<circle cx="1752.1" cy="663.9" r="4.85" fill="#4771e9"/>
<circle cx="1720.4" cy="696.9" r="4.85" fill="#455ed3"/>
<circle cx="1506.8" cy="917.9" r="4.85" fill="#372466"/>
<circle cx="1592.9" cy="721.6" r="4.85" fill="#fe932a"/>
<circle cx="1637.3" cy="832.9" r="4.85" fill="#4294ff"/>
<circle cx="1790.1" cy="659.6" r="4.85" fill="#4771e9"/>
<circle cx="1623.9" cy="818.3" r="4.85" fill="#458cfd"/>
<circle cx="1604.3" cy="869.2" r="4.85" fill="#4143a7"/>
<circle cx="1584.5" cy="801.1" r="4.85" fill="#4661d6"/>
<circle cx="1542.1" cy="814.3" r="4.85" fill="#4456c7"/>
<circle cx="1631.4" cy="724.5" r="4.85" fill="#2fb2f4"/>
<circle cx="1745.1" cy="681.3" r="4.85" fill="#4669e0"/>
<circle cx="1558.7" cy="793.4" r="4.85" fill="#2aefa1"/>
<circle cx="1575.2" cy="771.5" r="4.85" fill="#35abf8"/>
<circle cx="1832.5" cy="631.1" r="4.85" fill="#448ffe"/>
<circle cx="1522.9" cy="802.8" r="4.85" fill="#4454c3"/>
<circle cx="1500.1" cy="841.4" r="4.85" fill="#3aa3fc"/>
<circle cx="1672.9" cy="721.9" r="4.85" fill="#4391fe"/>
<circle cx="1666.7" cy="781.2" r="4.85" fill="#4454c3"/>
<circle cx="1634.1" cy="720.2" r="4.85" fill="#458afc"/>
<circle cx="1614.8" cy="785.1" r="4.85" fill="#4040a2"/>
<circle cx="1533.6" cy="761.0" r="4.85" fill="#1bd0d5"/>
<circle cx="1710.6" cy="681.7" r="4.85" fill="#1ccdd8"/>
<circle cx="1516.7" cy="819.2" r="4.85" fill="#448ffe"/>
<circle cx="1560.7" cy="801.3" r="4.85" fill="#4664da"/>
<circle cx="1762.1" cy="675.8" r="4.85" fill="#4778f0"/>
<circle cx="1584.5" cy="811.5" r="4.85" fill="#4661d6"/>
<circle cx="1627.3" cy="815.6" r="4.85" fill="#455ed3"/>
<circle cx="1631.0" cy="811.5" r="4.85" fill="#4680f6"/>
<circle cx="1684.9" cy="753.4" r="4.85" fill="#4451bf"/>
<circle cx="1610.5" cy="847.7" r="4.85" fill="#4456c7"/>
<circle cx="1805.6" cy="627.7" r="4.85" fill="#4776ee"/>
<circle cx="1698.8" cy="744.5" r="4.85" fill="#448ffe"/>
<circle cx="1575.0" cy="786.8" r="4.85" fill="#455ed3"/>
<circle cx="1575.1" cy="802.0" r="4.85" fill="#448ffe"/>
<circle cx="1647.2" cy="792.7" r="4.85" fill="#4661d6"/>
<circle cx="1540.6" cy="849.7" r="4.85" fill="#4687fb"/>
<circle cx="1554.7" cy="816.4" r="4.85" fill="#2eb4f2"/>
<circle cx="1702.6" cy="740.3" r="4.85" fill="#458afc"/>
<circle cx="1625.1" cy="826.9" r="4.85" fill="#4669e0"/>
<circle cx="1707.5" cy="686.6" r="4.85" fill="#434eba"/>
<circle cx="1667.7" cy="764.9" r="4.85" fill="#434eba"/>
<circle cx="1682.9" cy="777.8" r="4.85" fill="#4664da"/>
<circle cx="1555.7" cy="820.6" r="4.85" fill="#467df4"/>
<circle cx="1580.7" cy="805.1" r="4.85" fill="#4669e0"/>
<circle cx="1781.1" cy="631.6" r="4.85" fill="#4099ff"/>
<circle cx="1655.5" cy="796.9" r="4.85" fill="#1ecbda"/>
<circle cx="1639.9" cy="747.5" r="4.85" fill="#4773eb"/>
<circle cx="1589.1" cy="795.5" r="4.85" fill="#4664da"/>
<circle cx="1605.1" cy="783.8" r="4.85" fill="#3e9bfe"/>
<circle cx="1649.2" cy="670.2" r="4.85" fill="#59fb73"/>
<circle cx="1593.8" cy="744.2" r="4.85" fill="#1ae4b6"/>
<circle cx="1734.6" cy="759.8" r="4.85" fill="#52fa7a"/>
<circle cx="1831.6" cy="605.8" r="4.85" fill="#4680f6"/>
<circle cx="1589.4" cy="869.7" r="4.85" fill="#4778f0"/>
<circle cx="1692.3" cy="691.5" r="4.85" fill="#477bf2"/>
<circle cx="1642.3" cy="856.4" r="4.85" fill="#acfb38"/>
<circle cx="1809.6" cy="620.0" r="4.85" fill="#4776ee"/>
<circle cx="1823.6" cy="627.6" r="4.85" fill="#476ee6"/>
<circle cx="1530.2" cy="906.1" r="4.85" fill="#4559cb"/>
<circle cx="1648.8" cy="741.9" r="4.85" fill="#4146ac"/>
<circle cx="1618.7" cy="818.5" r="4.85" fill="#424bb5"/>
<circle cx="1690.1" cy="791.7" r="4.85" fill="#434eba"/>
<circle cx="1776.5" cy="665.5" r="4.85" fill="#476ee6"/>
<circle cx="1828.3" cy="625.8" r="4.85" fill="#466be3"/>
<circle cx="1593.9" cy="795.2" r="4.85" fill="#4685fa"/>
<circle cx="1683.9" cy="734.0" r="4.85" fill="#4661d6"/>
<circle cx="1767.6" cy="636.7" r="4.85" fill="#35abf8"/>
<circle cx="1818.2" cy="619.2" r="4.85" fill="#4771e9"/>
<circle cx="1738.5" cy="675.7" r="4.85" fill="#4666dd"/>
<circle cx="1620.6" cy="734.7" r="4.85" fill="#96fe44"/>
<circle cx="1765.1" cy="672.1" r="4.85" fill="#4559cb"/>
<circle cx="1816.6" cy="639.3" r="4.85" fill="#4196ff"/>
<circle cx="1609.0" cy="834.3" r="4.85" fill="#4687fb"/>
<circle cx="1528.3" cy="755.7" r="4.85" fill="#1ad4d0"/>
<circle cx="1658.6" cy="709.3" r="4.85" fill="#28bceb"/>
<circle cx="1703.8" cy="616.8" r="4.85" fill="#4099ff"/>
<circle cx="1582.4" cy="810.1" r="4.85" fill="#4559cb"/>
<circle cx="1713.8" cy="725.7" r="4.85" fill="#434eba"/>
<circle cx="1784.9" cy="632.1" r="4.85" fill="#35abf8"/>
<circle cx="1589.9" cy="861.1" r="4.85" fill="#4143a7"/>
<circle cx="1687.8" cy="747.2" r="4.85" fill="#4146ac"/>
<circle cx="1754.9" cy="657.5" r="4.85" fill="#4773eb"/>
<circle cx="1607.4" cy="858.0" r="4.85" fill="#4669e0"/>
<circle cx="1513.0" cy="815.3" r="4.85" fill="#4687fb"/>
<circle cx="1707.0" cy="673.0" r="4.85" fill="#4391fe"/>
<circle cx="1673.6" cy="717.3" r="4.85" fill="#4687fb"/>
<circle cx="1674.9" cy="697.7" r="4.85" fill="#2fb2f4"/>
<circle cx="1624.7" cy="742.9" r="4.85" fill="#458cfd"/>
<circle cx="1579.7" cy="778.7" r="4.85" fill="#4669e0"/>
<circle cx="1634.9" cy="792.2" r="4.85" fill="#4664da"/>
<circle cx="1676.2" cy="832.0" r="4.85" fill="#31aff5"/>
<circle cx="1535.0" cy="833.9" r="4.85" fill="#4451bf"/>
<circle cx="1672.9" cy="837.3" r="4.85" fill="#acfb38"/>
<circle cx="1533.5" cy="837.6" r="4.85" fill="#477bf2"/>
<circle cx="1664.9" cy="720.6" r="4.85" fill="#4294ff"/>
<circle cx="1644.0" cy="834.5" r="4.85" fill="#4454c3"/>
<circle cx="1714.2" cy="694.0" r="4.85" fill="#455ed3"/>
<circle cx="1679.3" cy="728.5" r="4.85" fill="#4456c7"/>
<circle cx="1626.8" cy="848.7" r="4.85" fill="#22c5e2"/>
<circle cx="1600.9" cy="853.7" r="4.85" fill="#458cfd"/>
<circle cx="1527.2" cy="829.5" r="4.85" fill="#4685fa"/>
<circle cx="1592.2" cy="762.1" r="4.85" fill="#37a8fa"/>
<circle cx="1690.7" cy="801.4" r="4.85" fill="#35abf8"/>
<circle cx="1646.7" cy="753.0" r="4.85" fill="#455ed3"/>
<circle cx="1624.2" cy="717.5" r="4.85" fill="#20c7df"/>
<circle cx="1685.2" cy="704.1" r="4.85" fill="#3e9bfe"/>
<circle cx="1691.7" cy="698.1" r="4.85" fill="#455ccf"/>
<circle cx="1662.5" cy="729.7" r="4.85" fill="#37a8fa"/>
<circle cx="1631.1" cy="751.9" r="4.85" fill="#4456c7"/>
<circle cx="1616.2" cy="785.1" r="4.85" fill="#4666dd"/>
<circle cx="1719.4" cy="681.6" r="4.85" fill="#4661d6"/>
<circle cx="1671.0" cy="726.4" r="4.85" fill="#4451bf"/>
<circle cx="1599.3" cy="844.6" r="4.85" fill="#467df4"/>
<circle cx="1801.1" cy="651.4" r="4.85" fill="#4666dd"/>
<circle cx="1721.5" cy="700.7" r="4.85" fill="#4451bf"/>
<circle cx="1537.4" cy="711.3" r="4.85" fill="#a4fc3c"/>
<circle cx="1622.4" cy="747.5" r="4.85" fill="#22ebaa"/>
<circle cx="1559.3" cy="723.6" r="4.85" fill="#1ecbda"/>
<circle cx="1583.1" cy="719.0" r="4.85" fill="#1ecbda"/>
<circle cx="1654.0" cy="780.1" r="4.85" fill="#4249b1"/>
<circle cx="1552.8" cy="830.1" r="4.85" fill="#424bb5"/>
<circle cx="1674.1" cy="759.7" r="4.85" fill="#4776ee"/>
<circle cx="1497.4" cy="798.1" r="4.85" fill="#4196ff"/>
<circle cx="1579.5" cy="865.5" r="4.85" fill="#424bb5"/>
<circle cx="1708.2" cy="663.6" r="4.85" fill="#4778f0"/>
<circle cx="1653.4" cy="819.6" r="4.85" fill="#4666dd"/>
<circle cx="1773.0" cy="646.0" r="4.85" fill="#4669e0"/>
<circle cx="1612.0" cy="841.9" r="4.85" fill="#4771e9"/>
<circle cx="1685.9" cy="751.6" r="4.85" fill="#4391fe"/>
<circle cx="1734.9" cy="676.3" r="4.85" fill="#4773eb"/>
<circle cx="1614.2" cy="824.6" r="4.85" fill="#4249b1"/>
<circle cx="1655.5" cy="782.9" r="4.85" fill="#4669e0"/>
<circle cx="1624.7" cy="737.4" r="4.85" fill="#4776ee"/>
<circle cx="1632.2" cy="794.1" r="4.85" fill="#3f3b97"/>
<circle cx="1669.0" cy="801.0" r="4.85" fill="#22c5e2"/>
<circle cx="1636.9" cy="750.0" r="4.85" fill="#455ed3"/>
<circle cx="1700.1" cy="718.7" r="4.85" fill="#4664da"/>
<circle cx="1712.5" cy="659.9" r="4.85" fill="#3f3e9c"/>
<circle cx="1714.4" cy="670.7" r="4.85" fill="#4099ff"/>
<circle cx="1685.1" cy="768.4" r="4.85" fill="#4680f6"/>
<circle cx="1635.6" cy="801.0" r="4.85" fill="#424bb5"/>
<circle cx="1662.6" cy="714.8" r="4.85" fill="#424bb5"/>
<circle cx="1694.9" cy="666.2" r="4.85" fill="#3e9bfe"/>
<circle cx="1509.9" cy="819.5" r="4.85" fill="#18d7ca"/>
<circle cx="1633.5" cy="754.9" r="4.85" fill="#4773eb"/>
<circle cx="1616.9" cy="812.3" r="4.85" fill="#4456c7"/>
<circle cx="1661.3" cy="797.9" r="4.85" fill="#4666dd"/>
<circle cx="1816.1" cy="627.7" r="4.85" fill="#4294ff"/>
<circle cx="1772.4" cy="645.1" r="4.85" fill="#4680f6"/>
<circle cx="1561.2" cy="818.6" r="4.85" fill="#3f3b97"/>
<circle cx="1703.5" cy="733.7" r="4.85" fill="#466be3"/>
<circle cx="1630.7" cy="806.1" r="4.85" fill="#4666dd"/>
<circle cx="1762.7" cy="664.2" r="4.85" fill="#455ccf"/>
<circle cx="1708.0" cy="648.3" r="4.85" fill="#96fe44"/>
<circle cx="1602.2" cy="838.4" r="4.85" fill="#4687fb"/>
<circle cx="1558.1" cy="836.1" r="4.85" fill="#467df4"/>
<circle cx="1646.6" cy="721.1" r="4.85" fill="#477bf2"/>
<circle cx="1689.0" cy="676.2" r="4.85" fill="#3e9bfe"/>
<circle cx="1650.0" cy="688.1" r="4.85" fill="#3aa3fc"/>
<circle cx="1599.6" cy="835.9" r="4.85" fill="#455ccf"/>
<circle cx="1669.2" cy="804.0" r="4.85" fill="#434eba"/>
<circle cx="1598.0" cy="848.2" r="4.85" fill="#3f3e9c"/>
<circle cx="1571.7" cy="782.1" r="4.85" fill="#455ccf"/>
<circle cx="1595.0" cy="790.9" r="4.85" fill="#4664da"/>
<circle cx="1658.4" cy="748.4" r="4.85" fill="#455ed3"/>
<circle cx="1725.3" cy="674.5" r="4.85" fill="#1de7b2"/>
<circle cx="1654.5" cy="706.0" r="4.85" fill="#25c0e7"/>
<circle cx="1512.2" cy="823.8" r="4.85" fill="#466be3"/>
<circle cx="1576.0" cy="886.0" r="4.85" fill="#434eba"/>
<circle cx="1639.8" cy="810.3" r="4.85" fill="#477bf2"/>
<circle cx="1619.3" cy="769.6" r="4.85" fill="#466be3"/>
<circle cx="1826.8" cy="648.0" r="4.85" fill="#4778f0"/>
<circle cx="1601.6" cy="713.5" r="4.85" fill="#4249b1"/>
<circle cx="1692.7" cy="758.1" r="4.85" fill="#4249b1"/>
<circle cx="1702.7" cy="688.2" r="4.85" fill="#4685fa"/>
<circle cx="1674.6" cy="731.1" r="4.85" fill="#4454c3"/>
<circle cx="1799.1" cy="665.5" r="4.85" fill="#3e9bfe"/>
<circle cx="1572.2" cy="872.6" r="4.85" fill="#4451bf"/>
<circle cx="1567.2" cy="838.7" r="4.85" fill="#3e3891"/>
<circle cx="1599.9" cy="768.8" r="4.85" fill="#4559cb"/>
<circle cx="1579.4" cy="807.0" r="4.85" fill="#3f3b97"/>
<circle cx="1655.1" cy="750.5" r="4.85" fill="#455ed3"/>
<circle cx="1612.9" cy="825.9" r="4.85" fill="#4040a2"/>
<circle cx="1502.4" cy="826.3" r="4.85" fill="#2fb2f4"/>
<circle cx="1564.7" cy="827.6" r="4.85" fill="#4143a7"/>
<circle cx="1821.0" cy="633.1" r="4.85" fill="#3e9bfe"/>
<circle cx="1637.7" cy="712.9" r="4.85" fill="#4146ac"/>
<circle cx="1579.6" cy="869.9" r="4.85" fill="#476ee6"/>
<circle cx="1774.0" cy="668.7" r="4.85" fill="#4664da"/>
<circle cx="1589.3" cy="772.1" r="4.85" fill="#4559cb"/>
<circle cx="1781.2" cy="623.6" r="4.85" fill="#4666dd"/>
<circle cx="1656.8" cy="741.1" r="4.85" fill="#4451bf"/>
<circle cx="1498.3" cy="823.1" r="4.85" fill="#84ff51"/>
<circle cx="1560.2" cy="895.7" r="4.85" fill="#455ed3"/>
<circle cx="1709.9" cy="727.4" r="4.85" fill="#466be3"/>
<circle cx="1591.3" cy="748.4" r="4.85" fill="#4391fe"/>
<circle cx="1704.1" cy="709.8" r="4.85" fill="#4682f8"/>
<circle cx="1594.7" cy="717.2" r="4.85" fill="#75fe5c"/>
<circle cx="1782.2" cy="733.1" r="4.85" fill="#3f3e9c"/>
<circle cx="1781.3" cy="652.2" r="4.85" fill="#4661d6"/>
<circle cx="1806.5" cy="642.9" r="4.85" fill="#4680f6"/>
<circle cx="1584.1" cy="819.6" r="4.85" fill="#434eba"/>
<circle cx="1525.6" cy="854.2" r="4.85" fill="#4249b1"/>
<circle cx="1572.4" cy="862.8" r="4.85" fill="#4456c7"/>
<circle cx="1542.7" cy="835.8" r="4.85" fill="#4682f8"/>
<circle cx="1566.6" cy="841.7" r="4.85" fill="#4143a7"/>
<circle cx="1696.5" cy="702.8" r="4.85" fill="#4664da"/>
<circle cx="1545.6" cy="839.6" r="4.85" fill="#424bb5"/>
<circle cx="1769.4" cy="728.2" r="4.85" fill="#3e9bfe"/>
<circle cx="1774.3" cy="718.8" r="4.85" fill="#1ecbda"/>
<circle cx="1750.6" cy="747.1" r="4.85" fill="#3f3e9c"/>
<circle cx="1725.9" cy="715.3" r="4.85" fill="#4196ff"/>
<circle cx="1684.1" cy="747.9" r="4.85" fill="#4661d6"/>
<circle cx="1748.5" cy="657.5" r="4.85" fill="#448ffe"/>
<circle cx="1680.0" cy="752.3" r="4.85" fill="#4773eb"/>
<circle cx="1584.3" cy="792.4" r="4.85" fill="#4456c7"/>
<circle cx="1709.9" cy="651.0" r="4.85" fill="#1ce6b4"/>
<circle cx="1761.3" cy="749.0" r="4.85" fill="#1ecbda"/>
<circle cx="1714.0" cy="696.7" r="4.85" fill="#4456c7"/>
<circle cx="1550.3" cy="871.3" r="4.85" fill="#3b2f80"/>
<circle cx="1666.5" cy="769.7" r="4.85" fill="#4456c7"/>
<circle cx="1526.3" cy="826.8" r="4.85" fill="#4666dd"/>
<circle cx="1524.0" cy="823.6" r="4.85" fill="#4664da"/>
<circle cx="1678.2" cy="817.2" r="4.85" fill="#458cfd"/>
<circle cx="1551.0" cy="897.0" r="4.85" fill="#458cfd"/>
<circle cx="1495.1" cy="881.5" r="4.85" fill="#18d7ca"/>
<circle cx="1659.1" cy="756.4" r="4.85" fill="#4146ac"/>
<circle cx="1820.4" cy="610.2" r="4.85" fill="#4294ff"/>
<circle cx="1521.5" cy="868.6" r="4.85" fill="#4666dd"/>
<circle cx="1823.5" cy="614.8" r="4.85" fill="#4682f8"/>
<circle cx="1655.6" cy="774.4" r="4.85" fill="#4146ac"/>
<circle cx="1779.5" cy="668.7" r="4.85" fill="#455ccf"/>
<circle cx="1595.6" cy="751.6" r="4.85" fill="#466be3"/>
<circle cx="1700.6" cy="740.9" r="4.85" fill="#434eba"/>
<circle cx="1638.2" cy="769.4" r="4.85" fill="#4454c3"/>
<circle cx="1698.7" cy="695.8" r="4.85" fill="#4771e9"/>
<circle cx="1525.1" cy="754.6" r="4.85" fill="#5dfc6f"/>
<circle cx="1744.9" cy="685.8" r="4.85" fill="#466be3"/>
<circle cx="1665.0" cy="737.9" r="4.85" fill="#455ed3"/>
<circle cx="1515.1" cy="811.4" r="4.85" fill="#4456c7"/>
<circle cx="1810.9" cy="622.0" r="4.85" fill="#455ccf"/>
<circle cx="1692.3" cy="708.8" r="4.85" fill="#3e9bfe"/>
<circle cx="1678.4" cy="761.2" r="4.85" fill="#467df4"/>
<circle cx="1694.4" cy="735.8" r="4.85" fill="#4294ff"/>
<circle cx="1523.0" cy="837.1" r="4.85" fill="#477bf2"/>
<circle cx="1604.1" cy="818.2" r="4.85" fill="#4771e9"/>
<circle cx="1709.5" cy="714.8" r="4.85" fill="#434eba"/>
<circle cx="1666.6" cy="659.9" r="4.85" fill="#1ecbda"/>
<circle cx="1581.9" cy="819.4" r="4.85" fill="#4146ac"/>
<circle cx="1523.5" cy="815.3" r="4.85" fill="#3a2d79"/>
<circle cx="1641.7" cy="815.2" r="4.85" fill="#458cfd"/>
<circle cx="1681.4" cy="762.3" r="4.85" fill="#477bf2"/>
<circle cx="1682.1" cy="726.4" r="4.85" fill="#4664da"/>
<circle cx="1691.4" cy="682.3" r="4.85" fill="#27bee9"/>
<circle cx="1620.2" cy="717.2" r="4.85" fill="#52fa7a"/>
<circle cx="1776.0" cy="679.0" r="4.85" fill="#4669e0"/>
<circle cx="1754.4" cy="760.9" r="4.85" fill="#e1dd37"/>
<circle cx="1495.9" cy="899.1" r="4.85" fill="#434eba"/>
<circle cx="1682.2" cy="740.2" r="4.85" fill="#4661d6"/>
<circle cx="1807.7" cy="624.5" r="4.85" fill="#4771e9"/>
<circle cx="1676.6" cy="716.4" r="4.85" fill="#25c0e7"/>
<circle cx="1523.4" cy="832.3" r="4.85" fill="#2eb4f2"/>
<circle cx="1607.6" cy="817.9" r="4.85" fill="#476ee6"/>
<circle cx="1541.2" cy="892.3" r="4.85" fill="#4249b1"/>
<circle cx="1762.3" cy="770.3" r="4.85" fill="#a4fc3c"/>
<circle cx="1571.7" cy="887.2" r="4.85" fill="#4687fb"/>
<circle cx="1597.1" cy="771.9" r="4.85" fill="#4456c7"/>
<circle cx="1752.9" cy="778.1" r="4.85" fill="#3e9bfe"/>
<circle cx="1610.5" cy="712.9" r="4.85" fill="#466be3"/>
<circle cx="1608.8" cy="815.7" r="4.85" fill="#4456c7"/>
<circle cx="1659.3" cy="791.6" r="4.85" fill="#4391fe"/>
<circle cx="1656.2" cy="728.9" r="4.85" fill="#4661d6"/>
<circle cx="1575.8" cy="818.2" r="4.85" fill="#4040a2"/>
<circle cx="1809.9" cy="646.1" r="4.85" fill="#4669e0"/>
<circle cx="1580.5" cy="792.8" r="4.85" fill="#434eba"/>
<circle cx="1720.7" cy="797.9" r="4.85" fill="#a11201"/>
<circle cx="1670.9" cy="773.8" r="4.85" fill="#4666dd"/>
<circle cx="1647.4" cy="786.6" r="4.85" fill="#4666dd"/>
<circle cx="1561.4" cy="813.9" r="4.85" fill="#4669e0"/>
<circle cx="1814.1" cy="651.0" r="4.85" fill="#4773eb"/>
<circle cx="1722.7" cy="809.1" r="4.85" fill="#4666dd"/>
<circle cx="1531.1" cy="839.4" r="4.85" fill="#4249b1"/>
<circle cx="1536.3" cy="848.6" r="4.85" fill="#392a73"/>
<circle cx="1662.0" cy="758.8" r="4.85" fill="#4146ac"/>
<circle cx="1594.3" cy="808.6" r="4.85" fill="#434eba"/>
<circle cx="1700.9" cy="634.8" r="4.85" fill="#1de7b2"/>
<circle cx="1618.6" cy="781.6" r="4.85" fill="#4249b1"/>
<circle cx="1612.4" cy="814.5" r="4.85" fill="#4454c3"/>
<circle cx="1502.6" cy="812.2" r="4.85" fill="#2fb2f4"/>
<circle cx="1563.8" cy="871.8" r="4.85" fill="#458afc"/>
<circle cx="1673.1" cy="729.8" r="4.85" fill="#4664da"/>
<circle cx="1553.8" cy="798.1" r="4.85" fill="#3c3286"/>
<circle cx="1587.1" cy="824.9" r="4.85" fill="#4146ac"/>
<circle cx="1685.4" cy="715.2" r="4.85" fill="#4666dd"/>
<circle cx="1698.8" cy="710.6" r="4.85" fill="#4669e0"/>
<circle cx="1609.6" cy="762.3" r="4.85" fill="#3f3e9c"/>
<circle cx="1541.5" cy="885.7" r="4.85" fill="#424bb5"/>
<circle cx="1586.8" cy="856.6" r="4.85" fill="#3ba0fd"/>
<circle cx="1604.8" cy="772.5" r="4.85" fill="#477bf2"/>
<circle cx="1570.6" cy="884.4" r="4.85" fill="#4456c7"/>
<circle cx="1611.5" cy="774.5" r="4.85" fill="#4559cb"/>
<circle cx="1560.4" cy="786.0" r="4.85" fill="#4666dd"/>
<circle cx="1537.3" cy="891.1" r="4.85" fill="#4451bf"/>
<circle cx="1595.0" cy="853.1" r="4.85" fill="#4669e0"/>
<circle cx="1556.7" cy="811.1" r="4.85" fill="#4146ac"/>
<circle cx="1574.0" cy="813.7" r="4.85" fill="#4661d6"/>
<circle cx="1767.3" cy="803.3" r="4.85" fill="#8fff49"/>
<circle cx="1578.4" cy="878.0" r="4.85" fill="#448ffe"/>
<circle cx="1542.8" cy="854.5" r="4.85" fill="#4146ac"/>
<circle cx="1584.3" cy="825.0" r="4.85" fill="#3f3b97"/>
<circle cx="1775.8" cy="654.8" r="4.85" fill="#4776ee"/>
<circle cx="1518.3" cy="826.9" r="4.85" fill="#3a2d79"/>
<circle cx="1504.9" cy="843.2" r="4.85" fill="#3b2f80"/>
<circle cx="1754.4" cy="803.0" r="4.85" fill="#1de7b2"/>
<circle cx="1787.6" cy="645.5" r="4.85" fill="#4669e0"/>
<circle cx="1514.0" cy="870.0" r="4.85" fill="#424bb5"/>
<circle cx="1594.4" cy="818.4" r="4.85" fill="#4040a2"/>
<circle cx="1495.9" cy="881.0" r="4.85" fill="#351e58"/>
<circle cx="1632.9" cy="787.8" r="4.85" fill="#4451bf"/>
<circle cx="1548.5" cy="779.6" r="4.85" fill="#2eb4f2"/>
<circle cx="1832.8" cy="804.0" r="4.85" fill="#a4fc3c"/>
<circle cx="1611.6" cy="776.0" r="4.85" fill="#4249b1"/>
<circle cx="1682.1" cy="724.1" r="4.85" fill="#466be3"/>
<circle cx="1704.8" cy="702.7" r="4.85" fill="#448ffe"/>
<circle cx="1674.2" cy="799.6" r="4.85" fill="#fe962b"/>
<circle cx="1559.2" cy="842.3" r="4.85" fill="#3a2d79"/>
<circle cx="1571.6" cy="820.6" r="4.85" fill="#3f3e9c"/>
<circle cx="1676.6" cy="752.2" r="4.85" fill="#4456c7"/>
<circle cx="1593.1" cy="800.2" r="4.85" fill="#455ccf"/>
<circle cx="1511.6" cy="830.9" r="4.85" fill="#467df4"/>
<circle cx="1566.4" cy="816.7" r="4.85" fill="#3a2d79"/>
<circle cx="1578.6" cy="874.6" r="4.85" fill="#4559cb"/>
<circle cx="1633.6" cy="763.3" r="4.85" fill="#fe962b"/>
<circle cx="1687.3" cy="715.9" r="4.85" fill="#4664da"/>
<circle cx="1627.7" cy="786.1" r="4.85" fill="#3f3e9c"/>
<circle cx="1509.9" cy="915.9" r="4.85" fill="#372466"/>
<circle cx="1605.9" cy="755.8" r="4.85" fill="#c6f034"/>
<circle cx="1660.2" cy="781.0" r="4.85" fill="#467df4"/>
<circle cx="1762.0" cy="857.0" r="4.85" fill="#3e9bfe"/>
<circle cx="1528.0" cy="836.1" r="4.85" fill="#4040a2"/>
<circle cx="1729.1" cy="665.7" r="4.85" fill="#18dbc5"/>
<circle cx="1561.1" cy="866.2" r="4.85" fill="#3e9bfe"/>
<circle cx="1552.3" cy="839.3" r="4.85" fill="#3d358b"/>
<circle cx="1681.5" cy="802.0" r="4.85" fill="#4666dd"/>
<circle cx="1790.4" cy="652.8" r="4.85" fill="#4661d6"/>
<circle cx="1659.6" cy="740.2" r="4.85" fill="#4664da"/>
<circle cx="1502.9" cy="861.8" r="4.85" fill="#3f3b97"/>
<circle cx="1638.3" cy="756.5" r="4.85" fill="#455ed3"/>
<circle cx="1521.7" cy="858.0" r="4.85" fill="#4778f0"/>
<circle cx="1497.6" cy="884.4" r="4.85" fill="#4559cb"/>
<circle cx="1540.6" cy="827.1" r="4.85" fill="#4687fb"/>
<circle cx="1792.9" cy="645.1" r="4.85" fill="#4773eb"/>
<circle cx="1625.3" cy="813.7" r="4.85" fill="#4099ff"/>
<circle cx="1667.2" cy="742.4" r="4.85" fill="#4771e9"/>
<circle cx="1817.1" cy="614.0" r="4.85" fill="#3aa3fc"/>
<circle cx="1537.5" cy="842.7" r="4.85" fill="#31aff5"/>
<circle cx="1591.6" cy="814.3" r="4.85" fill="#4771e9"/>
<circle cx="1517.4" cy="866.3" r="4.85" fill="#4040a2"/>
<circle cx="1602.1" cy="784.9" r="4.85" fill="#4559cb"/>
<circle cx="1559.8" cy="798.0" r="4.85" fill="#458cfd"/>
<circle cx="1655.6" cy="722.3" r="4.85" fill="#4456c7"/>
<circle cx="1598.1" cy="810.4" r="4.85" fill="#4143a7"/>
<circle cx="1512.9" cy="868.0" r="4.85" fill="#3c3286"/>
<circle cx="1714.8" cy="841.8" r="4.85" fill="#4666dd"/>
<circle cx="1607.8" cy="809.6" r="4.85" fill="#3c3286"/>
<circle cx="1592.3" cy="817.1" r="4.85" fill="#4143a7"/>
<circle cx="1671.7" cy="736.4" r="4.85" fill="#4559cb"/>
<circle cx="1561.8" cy="850.6" r="4.85" fill="#3d358b"/>
<circle cx="1701.0" cy="837.6" r="4.85" fill="#4666dd"/>
<circle cx="1618.3" cy="794.5" r="4.85" fill="#4040a2"/>
<circle cx="1499.3" cy="830.6" r="4.85" fill="#466be3"/>
<circle cx="1693.2" cy="709.9" r="4.85" fill="#4776ee"/>
<circle cx="1701.0" cy="847.1" r="4.85" fill="#3e9bfe"/>
<circle cx="1520.5" cy="814.8" r="4.85" fill="#4249b1"/>
<circle cx="1583.7" cy="844.0" r="4.85" fill="#3f3b97"/>
<circle cx="1503.4" cy="834.7" r="4.85" fill="#4664da"/>
<circle cx="1697.5" cy="635.1" r="4.85" fill="#2cb7f0"/>
<circle cx="1659.0" cy="733.1" r="4.85" fill="#4454c3"/>
<circle cx="1595.1" cy="777.7" r="4.85" fill="#4771e9"/>
<circle cx="1689.5" cy="854.6" r="4.85" fill="#3e9bfe"/>
<circle cx="1587.2" cy="850.6" r="4.85" fill="#3f3e9c"/>
<circle cx="1560.0" cy="888.2" r="4.85" fill="#458afc"/>
<circle cx="1547.6" cy="848.3" r="4.85" fill="#455ccf"/>
<circle cx="1675.2" cy="846.6" r="4.85" fill="#3f3e9c"/>
<circle cx="1495.1" cy="854.4" r="4.85" fill="#466be3"/>
<circle cx="1641.0" cy="770.8" r="4.85" fill="#455ed3"/>
<circle cx="1623.3" cy="832.1" r="4.85" fill="#434eba"/>
<circle cx="1675.0" cy="743.7" r="4.85" fill="#3f3e9c"/>
<circle cx="1657.4" cy="735.5" r="4.85" fill="#455ccf"/>
<circle cx="1649.3" cy="764.7" r="4.85" fill="#4146ac"/>
<circle cx="1500.0" cy="849.5" r="4.85" fill="#3aa3fc"/>
<circle cx="1569.8" cy="764.3" r="4.85" fill="#4669e0"/>
<circle cx="1546.5" cy="874.6" r="4.85" fill="#424bb5"/>
<circle cx="1726.7" cy="694.8" r="4.85" fill="#4559cb"/>
<circle cx="1644.5" cy="781.5" r="4.85" fill="#4559cb"/>
<circle cx="1641.9" cy="740.5" r="4.85" fill="#4685fa"/>
<circle cx="1505.1" cy="869.3" r="4.85" fill="#36215f"/>
<circle cx="1592.9" cy="826.3" r="4.85" fill="#4249b1"/>
<circle cx="1499.2" cy="883.8" r="4.85" fill="#3f3e9c"/>
<circle cx="1601.2" cy="832.1" r="4.85" fill="#455ed3"/>
<circle cx="1645.3" cy="731.5" r="4.85" fill="#458cfd"/>
<circle cx="1569.1" cy="846.2" r="4.85" fill="#3f3b97"/>
<circle cx="1550.8" cy="821.9" r="4.85" fill="#4391fe"/>
<circle cx="1662.2" cy="855.6" r="4.85" fill="#4666dd"/>
<circle cx="1550.5" cy="879.9" r="4.85" fill="#3b2f80"/>
<circle cx="1616.9" cy="862.7" r="4.85" fill="#4666dd"/>
<circle cx="1503.0" cy="818.1" r="4.85" fill="#19d5cd"/>
<circle cx="1594.7" cy="828.7" r="4.85" fill="#424bb5"/>
<circle cx="1591.3" cy="834.4" r="4.85" fill="#4146ac"/>
<circle cx="1645.6" cy="862.6" r="4.85" fill="#4666dd"/>
<circle cx="1626.8" cy="804.2" r="4.85" fill="#4249b1"/>
<circle cx="1627.3" cy="759.1" r="4.85" fill="#4040a2"/>
<circle cx="1676.1" cy="707.4" r="4.85" fill="#4099ff"/>
<circle cx="1551.3" cy="888.7" r="4.85" fill="#434eba"/>
<circle cx="1540.8" cy="869.6" r="4.85" fill="#36215f"/>
<circle cx="1571.7" cy="836.5" r="4.85" fill="#3f3e9c"/>
<circle cx="1545.0" cy="871.0" r="4.85" fill="#3b2f80"/>
<circle cx="1691.6" cy="638.5" r="4.85" fill="#4771e9"/>
<circle cx="1509.4" cy="857.4" r="4.85" fill="#372466"/>
<circle cx="1555.9" cy="866.0" r="4.85" fill="#3a2d79"/>
<circle cx="1709.7" cy="750.3" r="4.85" fill="#35abf8"/>
<circle cx="1685.0" cy="726.7" r="4.85" fill="#4776ee"/>
<circle cx="1497.2" cy="888.0" r="4.85" fill="#4249b1"/>
<circle cx="1652.1" cy="762.9" r="4.85" fill="#4040a2"/>
<circle cx="1686.6" cy="736.6" r="4.85" fill="#4040a2"/>
<circle cx="1706.0" cy="729.1" r="4.85" fill="#4773eb"/>
<circle cx="1654.3" cy="881.2" r="4.85" fill="#4666dd"/>
<circle cx="1582.7" cy="839.3" r="4.85" fill="#3a2d79"/>
<circle cx="1660.0" cy="780.2" r="4.85" fill="#455ccf"/>
<circle cx="1579.7" cy="847.3" r="4.85" fill="#3e3891"/>
<circle cx="1614.5" cy="827.7" r="4.85" fill="#455ed3"/>
<circle cx="1537.2" cy="863.4" r="4.85" fill="#3c3286"/>
<circle cx="1505.1" cy="833.2" r="4.85" fill="#3d358b"/>
<circle cx="1580.4" cy="840.0" r="4.85" fill="#3c3286"/>
<circle cx="1711.5" cy="694.6" r="4.85" fill="#4664da"/>
<circle cx="1536.9" cy="855.6" r="4.85" fill="#3f3b97"/>
<circle cx="1577.4" cy="811.8" r="4.85" fill="#4040a2"/>
<circle cx="1557.6" cy="826.8" r="4.85" fill="#4454c3"/>
<circle cx="1658.4" cy="726.0" r="4.85" fill="#4451bf"/>
<circle cx="1663.9" cy="755.8" r="4.85" fill="#3f3e9c"/>
<circle cx="1505.7" cy="819.1" r="4.85" fill="#4771e9"/>
<circle cx="1567.3" cy="851.1" r="4.85" fill="#3e3891"/>
<circle cx="1710.7" cy="753.7" r="4.85" fill="#33adf7"/>
<circle cx="1675.4" cy="815.0" r="4.85" fill="#3ba0fd"/>
<circle cx="1514.0" cy="839.0" r="4.85" fill="#4778f0"/>
<circle cx="1639.4" cy="741.5" r="4.85" fill="#22c5e2"/>
<circle cx="1603.7" cy="822.1" r="4.85" fill="#4146ac"/>
<circle cx="1593.6" cy="848.9" r="4.85" fill="#4456c7"/>
<circle cx="1576.1" cy="807.0" r="4.85" fill="#4454c3"/>
<circle cx="1614.4" cy="814.3" r="4.85" fill="#4664da"/>
<circle cx="1626.0" cy="799.4" r="4.85" fill="#4040a2"/>
<circle cx="1614.4" cy="804.8" r="4.85" fill="#4454c3"/>
<circle cx="1530.5" cy="817.3" r="4.85" fill="#4669e0"/>
<circle cx="1497.8" cy="853.3" r="4.85" fill="#37a8fa"/>
<circle cx="1532.4" cy="852.1" r="4.85" fill="#4771e9"/>
<circle cx="1556.2" cy="864.6" r="4.85" fill="#3b2f80"/>
<circle cx="1546.1" cy="866.8" r="4.85" fill="#38276d"/>
<circle cx="1634.5" cy="775.4" r="4.85" fill="#4559cb"/>
<circle cx="1496.5" cy="903.4" r="4.85" fill="#392a73"/>
<circle cx="1623.7" cy="886.8" r="4.85" fill="#3f3e9c"/>
<circle cx="1646.4" cy="757.5" r="4.85" fill="#4661d6"/>
<circle cx="1710.7" cy="754.3" r="4.85" fill="#2cf09e"/>
<circle cx="1518.0" cy="844.9" r="4.85" fill="#4661d6"/>
<circle cx="1645.7" cy="757.7" r="4.85" fill="#4666dd"/>
<circle cx="1575.7" cy="857.0" r="4.85" fill="#3f3e9c"/>
<circle cx="1498.5" cy="918.1" r="4.85" fill="#351e58"/>
<circle cx="1667.8" cy="744.1" r="4.85" fill="#4456c7"/>
<circle cx="1673.8" cy="739.7" r="4.85" fill="#424bb5"/>
<circle cx="1658.4" cy="765.0" r="4.85" fill="#4249b1"/>
<circle cx="1633.6" cy="877.6" r="4.85" fill="#3e9bfe"/>
<circle cx="1558.4" cy="896.1" r="4.85" fill="#455ed3"/>
<circle cx="1638.9" cy="802.8" r="4.85" fill="#4559cb"/>
<circle cx="1634.9" cy="824.7" r="4.85" fill="#4669e0"/>
<circle cx="1583.6" cy="831.2" r="4.85" fill="#3d358b"/>
<circle cx="1618.7" cy="755.9" r="4.85" fill="#458cfd"/>
<circle cx="1720.0" cy="713.8" r="4.85" fill="#434eba"/>
<circle cx="1584.4" cy="793.5" r="4.85" fill="#38a5fb"/>
<circle cx="1804.6" cy="633.0" r="4.85" fill="#4669e0"/>
<circle cx="1500.1" cy="859.0" r="4.85" fill="#3b2f80"/>
<circle cx="1547.6" cy="820.1" r="4.85" fill="#3c3286"/>
<circle cx="1528.2" cy="895.6" r="4.85" fill="#3a2d79"/>
<circle cx="1531.0" cy="864.9" r="4.85" fill="#36215f"/>
<circle cx="1534.9" cy="887.4" r="4.85" fill="#3c3286"/>
<circle cx="1516.4" cy="810.4" r="4.85" fill="#4249b1"/>
<circle cx="1687.1" cy="743.9" r="4.85" fill="#476ee6"/>
<circle cx="1682.0" cy="742.5" r="4.85" fill="#4456c7"/>
<circle cx="1544.4" cy="878.0" r="4.85" fill="#4143a7"/>
<circle cx="1690.6" cy="725.2" r="4.85" fill="#4454c3"/>
<circle cx="1534.8" cy="881.5" r="4.85" fill="#3c3286"/>
<circle cx="1708.9" cy="687.3" r="4.85" fill="#467df4"/>
<circle cx="1643.4" cy="797.6" r="4.85" fill="#4682f8"/>
<circle cx="1562.4" cy="860.9" r="4.85" fill="#3e3891"/>
<circle cx="1665.6" cy="760.5" r="4.85" fill="#4661d6"/>
<circle cx="1619.1" cy="874.9" r="4.85" fill="#a4fc3c"/>
<circle cx="1543.7" cy="862.2" r="4.85" fill="#3f3b97"/>
<circle cx="1522.1" cy="882.0" r="4.85" fill="#372466"/>
<circle cx="1576.7" cy="835.9" r="4.85" fill="#3d358b"/>
<circle cx="1552.3" cy="884.8" r="4.85" fill="#455ccf"/>
<circle cx="1708.6" cy="722.4" r="4.85" fill="#467df4"/>
<circle cx="1523.5" cy="828.6" r="4.85" fill="#4669e0"/>
<circle cx="1664.1" cy="770.1" r="4.85" fill="#455ccf"/>
<circle cx="1597.0" cy="735.9" r="4.85" fill="#476ee6"/>
<circle cx="1646.1" cy="770.0" r="4.85" fill="#4249b1"/>
<circle cx="1601.3" cy="790.3" r="4.85" fill="#4249b1"/>
<circle cx="1567.3" cy="879.6" r="4.85" fill="#476ee6"/>
<circle cx="1571.6" cy="912.5" r="4.85" fill="#4666dd"/>
<circle cx="1584.8" cy="882.3" r="4.85" fill="#4778f0"/>
<circle cx="1698.6" cy="729.7" r="4.85" fill="#4661d6"/>
<circle cx="1545.3" cy="861.5" r="4.85" fill="#392a73"/>
<circle cx="1581.0" cy="903.0" r="4.85" fill="#3e9bfe"/>
<circle cx="1534.8" cy="903.3" r="4.85" fill="#3b2f80"/>
<circle cx="1790.0" cy="656.2" r="4.85" fill="#477bf2"/>
<circle cx="1560.0" cy="854.2" r="4.85" fill="#392a73"/>
<circle cx="1558.3" cy="904.0" r="4.85" fill="#4666dd"/>
<circle cx="1611.5" cy="808.3" r="4.85" fill="#4249b1"/>
<circle cx="1631.4" cy="781.6" r="4.85" fill="#434eba"/>
<circle cx="1624.8" cy="784.3" r="4.85" fill="#4249b1"/>
<circle cx="1526.3" cy="914.7" r="4.85" fill="#3e3891"/>
<circle cx="1564.4" cy="865.4" r="4.85" fill="#3d358b"/>
<circle cx="1713.1" cy="636.2" r="4.85" fill="#455ccf"/>
<circle cx="1525.5" cy="892.6" r="4.85" fill="#3c3286"/>
<circle cx="1609.2" cy="810.0" r="4.85" fill="#4146ac"/>
<circle cx="1684.6" cy="743.5" r="4.85" fill="#4664da"/>
<circle cx="1504.9" cy="870.7" r="4.85" fill="#4249b1"/>
<circle cx="1613.3" cy="798.3" r="4.85" fill="#4249b1"/>
<circle cx="1795.8" cy="650.6" r="4.85" fill="#4778f0"/>
<circle cx="1577.9" cy="829.9" r="4.85" fill="#4669e0"/>
<circle cx="1522.0" cy="853.8" r="4.85" fill="#434eba"/>
<circle cx="1525.4" cy="910.6" r="4.85" fill="#3b2f80"/>
<circle cx="1495.1" cy="874.5" r="4.85" fill="#3c3286"/>
<circle cx="1534.9" cy="872.8" r="4.85" fill="#392a73"/>
<circle cx="1687.7" cy="741.6" r="4.85" fill="#4685fa"/>
<circle cx="1496.7" cy="865.3" r="4.85" fill="#4451bf"/>
<circle cx="1626.7" cy="792.8" r="4.85" fill="#3d358b"/>
<circle cx="1630.9" cy="762.4" r="4.85" fill="#458cfd"/>
<circle cx="1543.1" cy="896.6" r="4.85" fill="#4687fb"/>
<circle cx="1614.8" cy="775.9" r="4.85" fill="#455ccf"/>
<circle cx="1688.8" cy="721.7" r="4.85" fill="#455ccf"/>
<circle cx="1638.4" cy="805.0" r="4.85" fill="#25c0e7"/>
<circle cx="1627.2" cy="778.6" r="4.85" fill="#4664da"/>
<circle cx="1706.2" cy="725.0" r="4.85" fill="#4661d6"/>
<circle cx="1591.3" cy="840.9" r="4.85" fill="#4559cb"/>
<circle cx="1506.5" cy="914.7" r="4.85" fill="#36215f"/>
<circle cx="1662.1" cy="710.7" r="4.85" fill="#4294ff"/>
<circle cx="1698.9" cy="705.6" r="4.85" fill="#4680f6"/>
<circle cx="1551.7" cy="848.0" r="4.85" fill="#476ee6"/>
<circle cx="1556.7" cy="853.4" r="4.85" fill="#3f3b97"/>
<circle cx="1516.6" cy="885.5" r="4.85" fill="#3b2f80"/>
<circle cx="1620.9" cy="774.5" r="4.85" fill="#3d9efe"/>
<circle cx="1504.3" cy="872.6" r="4.85" fill="#4146ac"/>
<circle cx="1563.3" cy="879.8" r="4.85" fill="#455ed3"/>
<circle cx="1581.9" cy="756.6" r="4.85" fill="#35f394"/>
<circle cx="1536.6" cy="819.7" r="4.85" fill="#e1dd37"/>
<circle cx="1619.0" cy="771.1" r="4.85" fill="#4669e0"/>
<circle cx="1598.9" cy="857.8" r="4.85" fill="#466be3"/>
<circle cx="1602.6" cy="836.2" r="4.85" fill="#4661d6"/>
<circle cx="1533.7" cy="877.0" r="4.85" fill="#3a2d79"/>
<circle cx="1637.3" cy="783.1" r="4.85" fill="#424bb5"/>
<circle cx="1505.9" cy="876.1" r="4.85" fill="#4559cb"/>
<circle cx="1568.1" cy="786.3" r="4.85" fill="#35abf8"/>
<circle cx="1556.9" cy="834.0" r="4.85" fill="#3a2d79"/>
<circle cx="1620.9" cy="806.4" r="4.85" fill="#4559cb"/>
<circle cx="1810.4" cy="611.0" r="4.85" fill="#37a8fa"/>
<circle cx="1521.3" cy="889.2" r="4.85" fill="#36215f"/>
<circle cx="1578.9" cy="848.7" r="4.85" fill="#3f3b97"/>
<circle cx="1523.6" cy="909.6" r="4.85" fill="#4661d6"/>
<circle cx="1713.4" cy="702.8" r="4.85" fill="#4454c3"/>
<circle cx="1520.9" cy="894.6" r="4.85" fill="#3a2d79"/>
<circle cx="1689.7" cy="733.8" r="4.85" fill="#4456c7"/>
<circle cx="1617.5" cy="788.5" r="4.85" fill="#4666dd"/>
<circle cx="1613.7" cy="832.9" r="4.85" fill="#4559cb"/>
<circle cx="1521.2" cy="862.2" r="4.85" fill="#38276d"/>
<circle cx="1600.6" cy="795.4" r="4.85" fill="#4249b1"/>
<circle cx="1671.9" cy="754.6" r="4.85" fill="#455ccf"/>
<circle cx="1496.1" cy="905.4" r="4.85" fill="#392a73"/>
<circle cx="1609.9" cy="791.3" r="4.85" fill="#4771e9"/>
<circle cx="1536.6" cy="812.0" r="4.85" fill="#e1dd37"/>
<circle cx="1501.2" cy="916.4" r="4.85" fill="#392a73"/>
<circle cx="1717.8" cy="717.7" r="4.85" fill="#455ccf"/>
<circle cx="1504.1" cy="859.1" r="4.85" fill="#2aefa1"/>
<circle cx="1502.6" cy="883.8" r="4.85" fill="#3f3e9c"/>
<circle cx="1579.0" cy="851.1" r="4.85" fill="#4559cb"/>
<circle cx="1513.3" cy="847.3" r="4.85" fill="#4682f8"/>
<circle cx="1539.6" cy="897.6" r="4.85" fill="#4682f8"/>
<circle cx="1646.1" cy="772.1" r="4.85" fill="#4249b1"/>
<circle cx="1604.9" cy="804.1" r="4.85" fill="#4454c3"/>
<circle cx="1538.0" cy="881.4" r="4.85" fill="#36215f"/>
<circle cx="1518.5" cy="787.0" r="4.85" fill="#a4fc3c"/>
<circle cx="1551.7" cy="865.0" r="4.85" fill="#38276d"/>
<circle cx="1533.0" cy="856.7" r="4.85" fill="#4040a2"/>
<circle cx="1644.5" cy="774.7" r="4.85" fill="#3e3891"/>
<circle cx="1620.1" cy="801.9" r="4.85" fill="#434eba"/>
<circle cx="1514.7" cy="865.7" r="4.85" fill="#351e58"/>
<circle cx="1696.7" cy="724.4" r="4.85" fill="#4143a7"/>
<circle cx="1540.0" cy="876.1" r="4.85" fill="#372466"/>
<circle cx="1523.6" cy="846.1" r="4.85" fill="#3d358b"/>
<circle cx="1676.9" cy="704.7" r="4.85" fill="#455ccf"/>
<circle cx="1495.0" cy="916.4" r="4.85" fill="#3a2d79"/>
<circle cx="1549.7" cy="753.7" r="4.85" fill="#18d9c8"/>
<circle cx="1685.2" cy="711.9" r="4.85" fill="#4196ff"/>
<circle cx="1497.2" cy="892.7" r="4.85" fill="#3f3b97"/>
<circle cx="1559.8" cy="876.0" r="4.85" fill="#424bb5"/>
<circle cx="1669.4" cy="778.9" r="4.85" fill="#3d9efe"/>
<circle cx="1583.8" cy="829.7" r="4.85" fill="#3e3891"/>
<circle cx="1658.3" cy="795.2" r="4.85" fill="#2fb2f4"/>
<circle cx="1508.8" cy="881.4" r="4.85" fill="#392a73"/>
<circle cx="1707.9" cy="695.2" r="4.85" fill="#33adf7"/>
<circle cx="1673.4" cy="754.8" r="4.85" fill="#4146ac"/>
<circle cx="1512.0" cy="897.6" r="4.85" fill="#341b51"/>
<circle cx="1629.0" cy="765.0" r="4.85" fill="#4661d6"/>
<circle cx="1506.5" cy="877.9" r="4.85" fill="#372466"/>
<circle cx="1571.6" cy="829.0" r="4.85" fill="#3c3286"/>
<circle cx="1620.8" cy="838.4" r="4.85" fill="#4685fa"/>
<circle cx="1576.2" cy="843.1" r="4.85" fill="#4249b1"/>
<circle cx="1503.0" cy="891.9" r="4.85" fill="#38276d"/>
<circle cx="1785.4" cy="616.2" r="4.85" fill="#4773eb"/>
<circle cx="1513.2" cy="898.7" r="4.85" fill="#351e58"/>
<circle cx="1625.1" cy="788.8" r="4.85" fill="#4454c3"/>
<circle cx="1667.8" cy="747.8" r="4.85" fill="#4454c3"/>
<circle cx="1505.0" cy="907.2" r="4.85" fill="#341b51"/>
<circle cx="1497.8" cy="789.2" r="4.85" fill="#1ecbda"/>
<circle cx="1800.7" cy="619.5" r="4.85" fill="#4669e0"/>
<circle cx="1576.5" cy="841.2" r="4.85" fill="#4451bf"/>
<circle cx="1713.2" cy="710.9" r="4.85" fill="#4456c7"/>
<circle cx="1547.3" cy="865.7" r="4.85" fill="#351e58"/>
<circle cx="1640.2" cy="760.7" r="4.85" fill="#424bb5"/>
<circle cx="1506.7" cy="783.2" r="4.85" fill="#1ecbda"/>
<circle cx="1598.6" cy="785.2" r="4.85" fill="#3c3286"/>
<circle cx="1527.9" cy="876.9" r="4.85" fill="#3f3b97"/>
<circle cx="1642.4" cy="788.7" r="4.85" fill="#434eba"/>
<circle cx="1693.4" cy="740.8" r="4.85" fill="#4771e9"/>
<circle cx="1704.6" cy="704.7" r="4.85" fill="#434eba"/>
<circle cx="1550.0" cy="826.2" r="4.85" fill="#25c0e7"/>
<circle cx="1521.9" cy="903.7" r="4.85" fill="#3a2d79"/>
<circle cx="1578.4" cy="839.2" r="4.85" fill="#4143a7"/>
<circle cx="1612.4" cy="755.4" r="4.85" fill="#4776ee"/>
<circle cx="1544.1" cy="798.2" r="4.85" fill="#4661d6"/>
<circle cx="1602.4" cy="827.3" r="4.85" fill="#476ee6"/>
<circle cx="1689.1" cy="686.8" r="4.85" fill="#18e0bd"/>
<circle cx="1500.9" cy="802.1" r="4.85" fill="#59fb73"/>
<circle cx="1656.2" cy="765.7" r="4.85" fill="#4143a7"/>
<circle cx="1512.8" cy="901.1" r="4.85" fill="#38276d"/>
<circle cx="1556.0" cy="835.4" r="4.85" fill="#455ed3"/>
<circle cx="1510.0" cy="849.6" r="4.85" fill="#476ee6"/>
<circle cx="1602.1" cy="781.2" r="4.85" fill="#4143a7"/>
<circle cx="1501.8" cy="897.6" r="4.85" fill="#341b51"/>
<circle cx="1694.7" cy="715.1" r="4.85" fill="#4456c7"/>
<circle cx="1700.0" cy="722.6" r="4.85" fill="#434eba"/>
<circle cx="1531.9" cy="860.9" r="4.85" fill="#3a2d79"/>
<circle cx="1557.7" cy="861.5" r="4.85" fill="#3f3b97"/>
<circle cx="1517.4" cy="891.8" r="4.85" fill="#392a73"/>
<circle cx="1697.4" cy="710.2" r="4.85" fill="#31aff5"/>
<circle cx="1517.8" cy="904.8" r="4.85" fill="#4040a2"/>
<circle cx="1677.9" cy="770.6" r="4.85" fill="#4776ee"/>
<circle cx="1709.7" cy="712.3" r="4.85" fill="#455ccf"/>
<circle cx="1506.8" cy="851.4" r="4.85" fill="#455ed3"/>
<circle cx="1624.2" cy="808.1" r="4.85" fill="#4454c3"/>
<circle cx="1713.1" cy="722.1" r="4.85" fill="#4666dd"/>
<circle cx="1571.0" cy="841.9" r="4.85" fill="#392a73"/>
<circle cx="1540.8" cy="900.8" r="4.85" fill="#4773eb"/>
<circle cx="1496.9" cy="908.6" r="4.85" fill="#351e58"/>
<circle cx="1497.8" cy="820.2" r="4.85" fill="#59fb73"/>
<circle cx="1574.2" cy="807.4" r="4.85" fill="#4146ac"/>
<circle cx="1554.5" cy="892.1" r="4.85" fill="#4664da"/>
<circle cx="1529.2" cy="849.2" r="4.85" fill="#2fb2f4"/>
<circle cx="1557.7" cy="875.2" r="4.85" fill="#4456c7"/>
<circle cx="1734.6" cy="720.6" r="4.85" fill="#4669e0"/>
<circle cx="1573.3" cy="855.1" r="4.85" fill="#4249b1"/>
<circle cx="1512.1" cy="854.9" r="4.85" fill="#4451bf"/>
<circle cx="1651.9" cy="768.7" r="4.85" fill="#4249b1"/>
<circle cx="1510.4" cy="901.7" r="4.85" fill="#3b2f80"/>
<circle cx="1496.6" cy="916.3" r="4.85" fill="#33184a"/>
<circle cx="1635.1" cy="805.9" r="4.85" fill="#4687fb"/>
<circle cx="1567.1" cy="886.7" r="4.85" fill="#4664da"/>
<circle cx="1569.4" cy="850.6" r="4.85" fill="#38276d"/>
<circle cx="1608.9" cy="826.9" r="4.85" fill="#467df4"/>
<circle cx="1532.2" cy="862.0" r="4.85" fill="#4666dd"/>
<circle cx="1501.2" cy="856.4" r="4.85" fill="#392a73"/>
<circle cx="1645.5" cy="801.2" r="4.85" fill="#37a8fa"/>
<circle cx="1598.2" cy="854.8" r="4.85" fill="#4040a2"/>
<circle cx="1580.3" cy="824.7" r="4.85" fill="#3d358b"/>
<circle cx="1526.9" cy="888.1" r="4.85" fill="#38276d"/>
<circle cx="1523.1" cy="874.4" r="4.85" fill="#3b2f80"/>
<circle cx="1610.1" cy="756.4" r="4.85" fill="#3aa3fc"/>
<circle cx="1661.6" cy="773.6" r="4.85" fill="#466be3"/>
<circle cx="1673.1" cy="750.3" r="4.85" fill="#4454c3"/>
<circle cx="1504.0" cy="914.0" r="4.85" fill="#341b51"/>
<circle cx="1605.3" cy="869.3" r="4.85" fill="#458afc"/>
<circle cx="1505.9" cy="890.7" r="4.85" fill="#341b51"/>
<circle cx="1690.8" cy="764.2" r="4.85" fill="#80ff53"/>
<circle cx="1569.0" cy="860.9" r="4.85" fill="#3d358b"/>
<circle cx="1527.9" cy="883.1" r="4.85" fill="#351e58"/>
<circle cx="1563.4" cy="825.6" r="4.85" fill="#3f3b97"/>
<circle cx="1507.1" cy="844.2" r="4.85" fill="#4454c3"/>
<circle cx="1506.8" cy="884.9" r="4.85" fill="#4040a2"/>
<circle cx="1542.9" cy="874.9" r="4.85" fill="#3a2d79"/>
<circle cx="1524.8" cy="873.9" r="4.85" fill="#36215f"/>
<circle cx="1495.7" cy="909.3" r="4.85" fill="#33184a"/>
<circle cx="1578.7" cy="825.9" r="4.85" fill="#4146ac"/>
<circle cx="1595.2" cy="822.4" r="4.85" fill="#4146ac"/>
<circle cx="1513.6" cy="913.8" r="4.85" fill="#341b51"/>
<circle cx="1652.8" cy="794.0" r="4.85" fill="#4454c3"/>
<circle cx="1607.6" cy="796.7" r="4.85" fill="#3d358b"/>
<circle cx="1551.6" cy="856.5" r="4.85" fill="#3c3286"/>
<circle cx="1622.2" cy="773.3" r="4.85" fill="#4456c7"/>
<circle cx="1652.6" cy="748.9" r="4.85" fill="#3ba0fd"/>
<circle cx="1527.0" cy="899.2" r="4.85" fill="#455ccf"/>
<circle cx="1509.2" cy="873.9" r="4.85" fill="#4680f6"/>
<circle cx="1576.6" cy="838.9" r="4.85" fill="#3b2f80"/>
<circle cx="1519.9" cy="906.7" r="4.85" fill="#3c3286"/>
<circle cx="1539.3" cy="874.7" r="4.85" fill="#392a73"/>
<circle cx="1671.1" cy="750.7" r="4.85" fill="#434eba"/>
<circle cx="1549.5" cy="860.2" r="4.85" fill="#38276d"/>
<circle cx="1510.7" cy="910.2" r="4.85" fill="#392a73"/>
<circle cx="1506.8" cy="902.6" r="4.85" fill="#33184a"/>
<circle cx="1516.8" cy="881.0" r="4.85" fill="#3b2f80"/>
<circle cx="1630.6" cy="772.2" r="4.85" fill="#4456c7"/>
<circle cx="1667.1" cy="697.3" r="4.85" fill="#18ddc2"/>
</g>
<path d="M1493.7 916.8L1832.3 595.8" stroke="#cc444c" stroke-width="2.4" stroke-dasharray="7.4,3.2" fill="none"/>
</g>
<rect x="1484.8" y="586.9" width="358.4" height="338.9" fill="none" stroke="#cccccc" stroke-width="1.7"/>
<rect x="1494.7" y="595.4" width="119.1" height="68.2" rx="7" fill="#fff" fill-opacity="0.85" stroke="#7f7f7f" stroke-width="1.4"/>
<text x="1503.0" y="615.7" font-size="16.67">R² = 0.87</text>
<text x="1503.0" y="633.5" font-size="16.67">MAE = 56 K</text>
<text x="1503.0" y="651.4" font-size="16.67">RMSE = 97 K</text>
<text x="1495.0" y="951.2" text-anchor="middle" font-size="18.33" letter-spacing="0.6">0</text>
<text x="1558.8" y="951.2" text-anchor="middle" font-size="18.33" letter-spacing="0.6">250</text>
<text x="1622.7" y="951.2" text-anchor="middle" font-size="18.33" letter-spacing="0.6">500</text>
<text x="1686.5" y="951.2" text-anchor="middle" font-size="18.33" letter-spacing="0.6">750</text>
<text x="1750.3" y="951.2" text-anchor="middle" font-size="18.33" letter-spacing="0.6">1000</text>
<text x="1814.1" y="951.2" text-anchor="middle" font-size="18.33" letter-spacing="0.6">1250</text>
<text x="1474.2" y="922.9" text-anchor="end" font-size="18.33" letter-spacing="0.6">0</text>
<text x="1474.2" y="874.5" text-anchor="end" font-size="18.33" letter-spacing="0.6">200</text>
<text x="1474.2" y="826.1" text-anchor="end" font-size="18.33" letter-spacing="0.6">400</text>
<text x="1474.2" y="777.6" text-anchor="end" font-size="18.33" letter-spacing="0.6">600</text>
<text x="1474.2" y="729.2" text-anchor="end" font-size="18.33" letter-spacing="0.6">800</text>
<text x="1474.2" y="680.8" text-anchor="end" font-size="18.33" letter-spacing="0.6">1000</text>
<text x="1474.2" y="632.4" text-anchor="end" font-size="18.33" letter-spacing="0.6">1200</text>
<text x="1664.0" y="981.9" text-anchor="middle" font-size="21.67">Actual Curie Temperature (K)</text>
<text transform="translate(1415.2,756.3) rotate(-90)" text-anchor="middle" font-size="21.67">Predicted Curie Temperature (K)</text>
<rect x="1856.75" y="587.95" width="15.40" height="337.10" fill="url(#grf)" fill-opacity="0.88"/>
<rect x="1856.10" y="587.30" width="16.70" height="338.40" fill="none" stroke="#d8dad8" stroke-width="1.3"/>
<text x="1885.1" y="859.2" font-size="18.33" letter-spacing="0.3">50</text>
<text x="1885.1" y="785.3" font-size="18.33" letter-spacing="0.3">100</text>
<text x="1885.1" y="711.4" font-size="18.33" letter-spacing="0.3">150</text>
<text x="1885.1" y="637.6" font-size="18.33" letter-spacing="0.3">200</text>
<path d="M1873.3 852.7h5.8M1873.3 778.8h5.8M1873.3 704.9h5.8M1873.3 631.1h5.8" stroke="#262626" stroke-width="1.3"/>
<text transform="translate(1933.3,756.3) rotate(-90)" text-anchor="middle" font-size="16.67">Prediction Std Deviation (K)</text>
<text x="17.0" y="1048.4" font-size="31.5" font-weight="bold" fill="#000">g</text>
<text x="377.4" y="1077.8" text-anchor="middle" font-size="26.6">Distribution of Absolute Prediction Errors (RF)</text>
<path d="M207.9 1086.3V1440.1M292.7 1086.3V1440.1M377.4 1086.3V1440.1M462.2 1086.3V1440.1M547.0 1086.3V1440.1M123.2 1388.9H631.5M123.2 1337.6H631.5M123.2 1286.3H631.5M123.2 1235.0H631.5M123.2 1183.7H631.5M123.2 1132.4H631.5" stroke="#e6e6e6" stroke-width="1.1" stroke-dasharray="4.6,1.5" fill="none"/>
<path d="M123.2 1440.2v-336.3h16.6v336.3zM139.8 1440.2v-207.3h16.6v207.3zM156.4 1440.2v-129.4h16.6v129.4zM173.0 1440.2v-92.1h16.6v92.1zM189.6 1440.2v-60.9h16.6v60.9zM206.3 1440.2v-48.9h16.6v48.9zM222.9 1440.2v-33.9h16.6v33.9zM239.5 1440.2v-24.0h16.6v24.0zM256.1 1440.2v-18.1h16.6v18.1zM272.7 1440.2v-15.1h16.6v15.1zM289.3 1440.2v-10.2h16.6v10.2zM305.9 1440.2v-8.5h16.6v8.5zM322.5 1440.2v-7.6h16.6v7.6zM339.1 1440.2v-5.9h16.6v5.9zM355.8 1440.2v-4.4h16.6v4.4zM372.4 1440.2v-3.2h16.6v3.2zM389.0 1440.2v-2.4h16.6v2.4zM405.6 1440.2v-2.0h16.6v2.0zM422.2 1440.2v-1.3h16.6v1.3zM438.8 1440.2v-1.0h16.6v1.0zM455.4 1440.2v-0.8h16.6v0.8zM472.0 1440.2v-0.5h16.6v0.5zM488.6 1440.2v-0.5h16.6v0.5zM505.3 1440.2v-0.4h16.6v0.4zM521.9 1440.2v-0.3h16.6v0.3zM538.5 1440.2v-0.3h16.6v0.3zM555.1 1440.2v-0.3h16.6v0.3zM571.7 1440.2v-0.2h16.6v0.2zM588.3 1440.2v-0.2h16.6v0.2zM604.9 1440.2v-0.2h16.6v0.2z" fill="#5d7fe5" stroke="#fff" stroke-width="1.6"/>
<polyline points="124.3,1440.2 124.3,1130.7 124.3,1130.7 124.3,1130.7 124.6,1132.2 125.4,1136.6 126.3,1141.7 127.3,1147.3 128.5,1153.4 129.7,1159.9 131.1,1166.7 132.6,1173.8 134.1,1181.1 135.7,1188.7 137.4,1196.4 139.2,1204.2 141.1,1212.0 143.0,1220.0 145.1,1227.9 147.1,1235.8 149.3,1243.7 151.5,1251.5 153.8,1259.2 156.2,1266.8 158.6,1274.3 161.1,1281.7 163.7,1288.9 166.3,1295.9 169.0,1302.8 171.8,1309.5 174.6,1315.9 177.4,1322.2 180.3,1328.3 183.3,1334.2 186.4,1339.9 189.5,1345.4 192.6,1350.6 195.8,1355.7 199.0,1360.5 202.4,1365.2 205.7,1369.6 209.1,1373.8 212.6,1377.9 216.1,1381.7 219.7,1385.4 223.3,1388.9 226.9,1392.2 230.7,1395.3 234.4,1398.3 238.2,1401.1 242.1,1403.7 246.0,1406.2 249.9,1408.6 253.9,1410.8 258.0,1412.9 262.1,1414.8 266.2,1416.7 270.4,1418.4 274.6,1420.0 278.9,1421.5 283.2,1422.9 287.6,1424.2 292.0,1425.5 296.4,1426.6 300.9,1427.7 305.5,1428.7 310.0,1429.6 314.7,1430.4 319.3,1431.2 324.0,1432.0 328.8,1432.6 333.6,1433.3 338.4,1433.9 343.3,1434.4 348.2,1434.9 353.1,1435.3 358.1,1435.8 363.2,1436.1 368.2,1436.5 373.3,1436.8 378.5,1437.1 383.7,1437.4 388.9,1437.7 394.2,1437.9 399.5,1438.1 404.8,1438.3 410.2,1438.5 415.6,1438.6 421.1,1438.8 426.6,1438.9 432.1,1439.0 437.7,1439.2 443.3,1439.3 449.0,1439.3 454.6,1439.4 460.4,1439.5 466.1,1439.6 471.9,1439.6 477.7,1439.7 483.6,1439.7 489.5,1439.8 495.4,1439.8 501.4,1439.9 507.4,1439.9 513.5,1439.9 519.6,1440.0 525.7,1440.0 531.8,1440.0 538.0,1440.0 544.2,1440.0 550.5,1440.1 556.8,1440.1 563.1,1440.1 569.4,1440.1 575.8,1440.1 582.3,1440.1 588.7,1440.1 595.2,1440.1 601.7,1440.1 608.3,1440.2 614.9,1440.2 621.5,1440.2" fill="none" stroke="#141414" stroke-width="3.3" stroke-linejoin="round"/>
<path d="M178.3 1086.3V1440.1" stroke="#ff0000" stroke-width="3.3" stroke-dasharray="12.3,5.3"/>
<rect x="123.2" y="1086.3" width="508.3" height="353.8" fill="none" stroke="#cccccc" stroke-width="1.7"/>
<rect x="333.0" y="1095.0" width="290.0" height="78.1" rx="3" fill="#fff" fill-opacity="0.8" stroke="#d5d5d5" stroke-width="1.3"/>
<rect x="340.4" y="1103.0" width="32.7" height="10" fill="#5d7fe5"/>
<path d="M338.4 1132.6h36.7" stroke="#141414" stroke-width="3.3"/>
<path d="M338.4 1157.1h36.7" stroke="#ff0000" stroke-width="3.3" stroke-dasharray="9.5,4.1"/>
<text x="387.0" y="1113.7" font-size="17" letter-spacing="0.17">Histogram</text>
<text x="387.0" y="1138.2" font-size="17" letter-spacing="0.17">Fitted Exponential Distribution</text>
<text x="387.0" y="1162.6" font-size="17" letter-spacing="0.17">Mean Absolute Error: 65 K</text>
<text x="123.2" y="1468.1" text-anchor="middle" font-size="21" letter-spacing="0.4">0</text>
<text x="207.9" y="1468.1" text-anchor="middle" font-size="21" letter-spacing="0.4">100</text>
<text x="292.7" y="1468.1" text-anchor="middle" font-size="21" letter-spacing="0.4">200</text>
<text x="377.4" y="1468.1" text-anchor="middle" font-size="21" letter-spacing="0.4">300</text>
<text x="462.2" y="1468.1" text-anchor="middle" font-size="21" letter-spacing="0.4">400</text>
<text x="547.0" y="1468.1" text-anchor="middle" font-size="21" letter-spacing="0.4">500</text>
<text x="631.7" y="1468.1" text-anchor="middle" font-size="21" letter-spacing="0.4">600</text>
<text x="110.8" y="1447.4" text-anchor="end" font-size="21">0.0000</text>
<text x="110.8" y="1396.1" text-anchor="end" font-size="21">0.0025</text>
<text x="110.8" y="1344.8" text-anchor="end" font-size="21">0.0050</text>
<text x="110.8" y="1293.5" text-anchor="end" font-size="21">0.0075</text>
<text x="110.8" y="1242.2" text-anchor="end" font-size="21">0.0100</text>
<text x="110.8" y="1190.9" text-anchor="end" font-size="21">0.0125</text>
<text x="110.8" y="1139.6" text-anchor="end" font-size="21">0.0150</text>
<text x="377.4" y="1495.1" text-anchor="middle" font-size="23.33" letter-spacing="0.25">Absolute Error (K)</text>
<text transform="translate(34.9,1263.2) rotate(-90)" text-anchor="middle" font-size="23.33">Density</text>
<text x="684.0" y="1048.4" font-size="31.5" font-weight="bold" fill="#000">h</text>
<text x="1038.2" y="1076.9" text-anchor="middle" font-size="26.55">Distribution of Absolute Prediction Errors (ENN)</text>
<path d="M864.9 1086.4V1440.0M951.5 1086.4V1440.0M1038.2 1086.4V1440.0M1124.8 1086.4V1440.0M1211.5 1086.4V1440.0M778.2 1361.2H1298.2M778.2 1282.3H1298.2M778.2 1203.5H1298.2M778.2 1124.6H1298.2" stroke="#e6e6e6" stroke-width="1.1" stroke-dasharray="4.6,1.5" fill="none"/>
<path d="M778.2 1440.0v-336.0h16.7v336.0zM794.9 1440.0v-166.2h16.7v166.2zM811.6 1440.0v-90.9h16.7v90.9zM828.2 1440.0v-59.7h16.7v59.7zM844.9 1440.0v-34.9h16.7v34.9zM861.6 1440.0v-27.1h16.7v27.1zM878.3 1440.0v-16.1h16.7v16.1zM895.0 1440.0v-13.7h16.7v13.7zM911.6 1440.0v-9.1h16.7v9.1zM928.3 1440.0v-9.1h16.7v9.1zM945.0 1440.0v-7.9h16.7v7.9zM961.7 1440.0v-5.5h16.7v5.5zM978.4 1440.0v-4.0h16.7v4.0zM995.0 1440.0v-3.0h16.7v3.0zM1011.7 1440.0v-2.2h16.7v2.2zM1028.4 1440.0v-1.6h16.7v1.6zM1045.1 1440.0v-1.2h16.7v1.2zM1061.8 1440.0v-1.5h16.7v1.5zM1078.4 1440.0v-1.0h16.7v1.0zM1095.1 1440.0v-0.6h16.7v0.6zM1111.8 1440.0v-0.5h16.7v0.5zM1128.5 1440.0v-0.4h16.7v0.4zM1145.2 1440.0v-0.4h16.7v0.4zM1161.8 1440.0v-0.3h16.7v0.3zM1178.5 1440.0v-0.3h16.7v0.3zM1195.2 1440.0v-0.3h16.7v0.3zM1211.9 1440.0v-0.2h16.7v0.2zM1228.6 1440.0v-0.2h16.7v0.2zM1245.2 1440.0v-0.2h16.7v0.2zM1261.9 1440.0v-0.2h16.7v0.2z" fill="#5d7fe5" stroke="#fff" stroke-width="1.6"/>
<polyline points="779.3,1440.0 779.3,1164.8 779.3,1164.8 779.3,1164.8 779.6,1166.3 780.4,1170.7 781.3,1175.9 782.3,1181.5 783.5,1187.6 784.8,1194.1 786.1,1200.9 787.6,1208.0 789.1,1215.3 790.8,1222.7 792.5,1230.3 794.3,1237.9 796.2,1245.6 798.1,1253.2 800.1,1260.9 802.2,1268.5 804.4,1276.0 806.7,1283.4 809.0,1290.7 811.4,1297.8 813.8,1304.8 816.3,1311.6 818.9,1318.3 821.5,1324.7 824.2,1330.9 827.0,1337.0 829.8,1342.8 832.7,1348.4 835.6,1353.7 838.6,1358.9 841.6,1363.8 844.7,1368.6 847.9,1373.1 851.1,1377.4 854.4,1381.4 857.7,1385.3 861.1,1389.0 864.5,1392.5 868.0,1395.8 871.5,1398.9 875.1,1401.8 878.7,1404.6 882.4,1407.1 886.1,1409.6 889.9,1411.9 893.7,1414.0 897.6,1416.0 901.5,1417.9 905.5,1419.6 909.5,1421.2 913.6,1422.7 917.7,1424.1 921.8,1425.5 926.0,1426.7 930.3,1427.8 934.6,1428.8 938.9,1429.8 943.3,1430.7 947.7,1431.5 952.2,1432.2 956.7,1432.9 961.2,1433.6 965.8,1434.2 970.5,1434.7 975.1,1435.2 979.9,1435.6 984.6,1436.1 989.4,1436.4 994.3,1436.8 999.2,1437.1 1004.1,1437.4 1009.1,1437.6 1014.1,1437.9 1019.2,1438.1 1024.2,1438.3 1029.4,1438.5 1034.6,1438.6 1039.8,1438.8 1045.0,1438.9 1050.3,1439.0 1055.6,1439.1 1061.0,1439.2 1066.4,1439.3 1071.8,1439.4 1077.3,1439.5 1082.9,1439.5 1088.4,1439.6 1094.0,1439.6 1099.6,1439.7 1105.3,1439.7 1111.0,1439.8 1116.8,1439.8 1122.5,1439.8 1128.4,1439.8 1134.2,1439.9 1140.1,1439.9 1146.0,1439.9 1152.0,1439.9 1158.0,1439.9 1164.0,1440.0 1170.1,1440.0 1176.2,1440.0 1182.3,1440.0 1188.5,1440.0 1194.7,1440.0 1201.0,1440.0 1207.3,1440.0 1213.6,1440.0 1219.9,1440.0 1226.3,1440.0 1232.7,1440.0 1239.2,1440.0 1245.7,1440.0 1252.2,1440.0 1258.7,1440.0 1265.3,1440.0 1271.9,1440.0 1278.6,1440.0" fill="none" stroke="#141414" stroke-width="3.3" stroke-linejoin="round"/>
<path d="M826.7 1086.4V1440.0" stroke="#ff0000" stroke-width="3.3" stroke-dasharray="12.3,5.3"/>
<rect x="778.2" y="1086.4" width="520.0" height="353.6" fill="none" stroke="#cccccc" stroke-width="1.7"/>
<rect x="999.0" y="1094.4" width="290.8" height="78.7" rx="3" fill="#fff" fill-opacity="0.8" stroke="#d5d5d5" stroke-width="1.3"/>
<rect x="1006.4" y="1102.4" width="32.7" height="10" fill="#5d7fe5"/>
<path d="M1004.4 1132.0h36.7" stroke="#141414" stroke-width="3.3"/>
<path d="M1004.4 1156.5h36.7" stroke="#ff0000" stroke-width="3.3" stroke-dasharray="9.5,4.1"/>
<text x="1053.0" y="1113.1" font-size="17" letter-spacing="0.17">Histogram</text>
<text x="1053.0" y="1137.6" font-size="17" letter-spacing="0.17">Fitted Exponential Distribution</text>
<text x="1053.0" y="1162.0" font-size="17" letter-spacing="0.17">Mean Absolute Error: 56 K</text>
<text x="778.2" y="1468.0" text-anchor="middle" font-size="21" letter-spacing="0.4">0</text>
<text x="864.9" y="1468.0" text-anchor="middle" font-size="21" letter-spacing="0.4">100</text>
<text x="951.5" y="1468.0" text-anchor="middle" font-size="21" letter-spacing="0.4">200</text>
<text x="1038.2" y="1468.0" text-anchor="middle" font-size="21" letter-spacing="0.4">300</text>
<text x="1124.8" y="1468.0" text-anchor="middle" font-size="21" letter-spacing="0.4">400</text>
<text x="1211.5" y="1468.0" text-anchor="middle" font-size="21" letter-spacing="0.4">500</text>
<text x="1298.1" y="1468.0" text-anchor="middle" font-size="21" letter-spacing="0.4">600</text>
<text x="765.8" y="1447.2" text-anchor="end" font-size="21">0.000</text>
<text x="765.8" y="1368.4" text-anchor="end" font-size="21">0.005</text>
<text x="765.8" y="1289.5" text-anchor="end" font-size="21">0.010</text>
<text x="765.8" y="1210.7" text-anchor="end" font-size="21">0.015</text>
<text x="765.8" y="1131.8" text-anchor="end" font-size="21">0.020</text>
<text x="1038.2" y="1495.0" text-anchor="middle" font-size="23.33" letter-spacing="0.25">Absolute Error (K)</text>
<text transform="translate(701.9,1263.2) rotate(-90)" text-anchor="middle" font-size="23.33">Density</text>
<text x="1350.3" y="1048.4" font-size="31.5" font-weight="bold" fill="#000">i</text>
<text x="1691.1" y="1082.0" text-anchor="middle" font-size="26.16">Distribution of Absolute Prediction Errors (XGBoost)</text>
<path d="M1536.9 1089.7V1438.3M1639.6 1089.7V1438.3M1742.3 1089.7V1438.3M1845.0 1089.7V1438.3M1434.2 1368.5H1948.0M1434.2 1298.6H1948.0M1434.2 1228.7H1948.0M1434.2 1158.8H1948.0" stroke="#e6e6e6" stroke-width="1.1" stroke-dasharray="4.6,1.5" fill="none"/>
<path d="M1434.2 1438.4v-331.1h10.1v331.1zM1444.3 1438.4v-222.0h10.1v222.0zM1454.5 1438.4v-168.2h10.1v168.2zM1464.6 1438.4v-121.5h10.1v121.5zM1474.7 1438.4v-88.3h10.1v88.3zM1484.9 1438.4v-77.5h10.1v77.5zM1495.0 1438.4v-58.1h10.1v58.1zM1505.2 1438.4v-44.1h10.1v44.1zM1515.3 1438.4v-35.4h10.1v35.4zM1525.4 1438.4v-33.3h10.1v33.3zM1535.6 1438.4v-26.4h10.1v26.4zM1545.7 1438.4v-19.7h10.1v19.7zM1555.8 1438.4v-17.3h10.1v17.3zM1566.0 1438.4v-14.6h10.1v14.6zM1576.1 1438.4v-9.5h10.1v9.5zM1586.2 1438.4v-18.2h10.1v18.2zM1596.4 1438.4v-11.5h10.1v11.5zM1606.5 1438.4v-10.1h10.1v10.1zM1616.7 1438.4v-9.2h10.1v9.2zM1626.8 1438.4v-5.5h10.1v5.5zM1636.9 1438.4v-5.0h10.1v5.0zM1647.1 1438.4v-2.5h10.1v2.5zM1657.2 1438.4v-1.9h10.1v1.9zM1667.3 1438.4v-1.4h10.1v1.4zM1677.5 1438.4v-5.4h10.1v5.4zM1687.6 1438.4v-3.0h10.1v3.0zM1697.7 1438.4v-2.5h10.1v2.5zM1707.9 1438.4v-2.0h10.1v2.0zM1718.0 1438.4v-1.5h10.1v1.5zM1728.2 1438.4v-4.0h10.1v4.0zM1738.3 1438.4v-1.5h10.1v1.5zM1748.4 1438.4v-1.0h10.1v1.0zM1758.6 1438.4v-0.8h10.1v0.8zM1768.7 1438.4v-0.6h10.1v0.6zM1778.8 1438.4v-0.5h10.1v0.5zM1789.0 1438.4v-0.5h10.1v0.5zM1799.1 1438.4v-0.4h10.1v0.4zM1809.3 1438.4v-0.3h10.1v0.3zM1819.4 1438.4v-0.3h10.1v0.3zM1829.5 1438.4v-0.3h10.1v0.3zM1839.7 1438.4v-0.2h10.1v0.2zM1849.8 1438.4v-0.2h10.1v0.2zM1859.9 1438.4v-0.2h10.1v0.2zM1870.1 1438.4v-0.2h10.1v0.2zM1880.2 1438.4v-0.2h10.1v0.2zM1890.3 1438.4v-0.2h10.1v0.2zM1900.5 1438.4v-0.2h10.1v0.2zM1910.6 1438.4v-0.2h10.1v0.2zM1920.8 1438.4v-0.2h10.1v0.2zM1930.9 1438.4v-0.2h10.1v0.2z" fill="#5d7fe5" stroke="#fff" stroke-width="1.6"/>
<polyline points="1435.3,1438.4 1435.3,1193.5 1435.3,1193.5 1435.3,1193.5 1435.6,1194.7 1436.4,1198.1 1437.3,1202.0 1438.4,1206.3 1439.6,1211.0 1440.9,1216.0 1442.2,1221.3 1443.7,1226.8 1445.3,1232.5 1446.9,1238.3 1448.7,1244.3 1450.5,1250.3 1452.4,1256.5 1454.4,1262.6 1456.4,1268.8 1458.6,1274.9 1460.8,1281.1 1463.0,1287.2 1465.4,1293.2 1467.8,1299.2 1470.3,1305.0 1472.8,1310.8 1475.4,1316.4 1478.1,1322.0 1480.8,1327.4 1483.6,1332.6 1486.4,1337.7 1489.4,1342.7 1492.3,1347.5 1495.4,1352.2 1498.4,1356.7 1501.6,1361.0 1504.8,1365.2 1508.0,1369.3 1511.3,1373.1 1514.7,1376.8 1518.1,1380.4 1521.6,1383.8 1525.1,1387.0 1528.7,1390.1 1532.3,1393.1 1536.0,1395.9 1539.7,1398.5 1543.5,1401.1 1547.3,1403.5 1551.2,1405.8 1555.1,1407.9 1559.1,1409.9 1563.1,1411.9 1567.2,1413.7 1571.3,1415.4 1575.5,1417.0 1579.7,1418.5 1583.9,1419.9 1588.2,1421.2 1592.6,1422.5 1597.0,1423.7 1601.4,1424.8 1605.9,1425.8 1610.4,1426.7 1615.0,1427.6 1619.6,1428.5 1624.2,1429.2 1628.9,1430.0 1633.7,1430.6 1638.5,1431.2 1643.3,1431.8 1648.2,1432.4 1653.1,1432.8 1658.0,1433.3 1663.0,1433.7 1668.1,1434.1 1673.1,1434.5 1678.2,1434.8 1683.4,1435.1 1688.6,1435.4 1693.8,1435.7 1699.1,1435.9 1704.4,1436.1 1709.8,1436.3 1715.2,1436.5 1720.6,1436.7 1726.1,1436.8 1731.6,1437.0 1737.2,1437.1 1742.8,1437.2 1748.4,1437.3 1754.1,1437.4 1759.8,1437.5 1765.5,1437.6 1771.3,1437.7 1777.1,1437.8 1783.0,1437.8 1788.9,1437.9 1794.8,1437.9 1800.7,1438.0 1806.7,1438.0 1812.8,1438.1 1818.9,1438.1 1825.0,1438.1 1831.1,1438.1 1837.3,1438.2 1843.5,1438.2 1849.8,1438.2 1856.1,1438.2 1862.4,1438.3 1868.8,1438.3 1875.2,1438.3 1881.6,1438.3 1888.1,1438.3 1894.6,1438.3 1901.1,1438.3 1907.7,1438.3 1914.3,1438.3 1920.9,1438.3 1927.6,1438.4 1934.3,1438.4 1941.0,1438.4" fill="none" stroke="#141414" stroke-width="3.3" stroke-linejoin="round"/>
<path d="M1491.7 1089.7V1438.3" stroke="#ff0000" stroke-width="3.3" stroke-dasharray="12.3,5.3"/>
<rect x="1434.2" y="1089.7" width="513.8" height="348.6" fill="none" stroke="#cccccc" stroke-width="1.7"/>
<rect x="1653.2" y="1098.3" width="286.0" height="77.3" rx="3" fill="#fff" fill-opacity="0.8" stroke="#d5d5d5" stroke-width="1.3"/>
<rect x="1660.6" y="1106.3" width="32.7" height="10" fill="#5d7fe5"/>
<path d="M1658.6 1135.9h36.7" stroke="#141414" stroke-width="3.3"/>
<path d="M1658.6 1160.4h36.7" stroke="#ff0000" stroke-width="3.3" stroke-dasharray="9.5,4.1"/>
<text x="1707.2" y="1117.0" font-size="16.75" letter-spacing="0.12">Histogram</text>
<text x="1707.2" y="1141.5" font-size="16.75" letter-spacing="0.12">Fitted Exponential Distribution</text>
<text x="1707.2" y="1165.9" font-size="16.75" letter-spacing="0.12">Mean Absolute Error: 56 K</text>
<text x="1434.2" y="1466.3" text-anchor="middle" font-size="21" letter-spacing="0.4">0</text>
<text x="1536.9" y="1466.3" text-anchor="middle" font-size="21" letter-spacing="0.4">100</text>
<text x="1639.6" y="1466.3" text-anchor="middle" font-size="21" letter-spacing="0.4">200</text>
<text x="1742.3" y="1466.3" text-anchor="middle" font-size="21" letter-spacing="0.4">300</text>
<text x="1845.0" y="1466.3" text-anchor="middle" font-size="21" letter-spacing="0.4">400</text>
<text x="1947.7" y="1466.3" text-anchor="middle" font-size="21" letter-spacing="0.4">500</text>
<text x="1421.8" y="1445.6" text-anchor="end" font-size="21">0.000</text>
<text x="1421.8" y="1375.7" text-anchor="end" font-size="21">0.005</text>
<text x="1421.8" y="1305.8" text-anchor="end" font-size="21">0.010</text>
<text x="1421.8" y="1235.9" text-anchor="end" font-size="21">0.015</text>
<text x="1421.8" y="1166.0" text-anchor="end" font-size="21">0.020</text>
<text x="1691.1" y="1493.3" text-anchor="middle" font-size="23.33" letter-spacing="0.25">Absolute Error (K)</text>
<text transform="translate(1359.9,1264.0) rotate(-90)" text-anchor="middle" font-size="23.33">Density</text>
<text x="15.3" y="1562.8" font-size="31.5" font-weight="bold" fill="#000">j</text>
<text x="444.5" y="1595.9" text-anchor="middle" font-size="15.3" letter-spacing="0.1">Top-20 Feature Importances — Random Forest Ensemble</text>
<path d="M293.4 1602.6V1945.6M351.1 1602.6V1945.6M408.8 1602.6V1945.6M466.5 1602.6V1945.6M524.2 1602.6V1945.6M581.9 1602.6V1945.6M639.6 1602.6V1945.6M235.7 1624.0H653.3M235.7 1639.8H653.3M235.7 1655.6H653.3M235.7 1671.4H653.3M235.7 1687.2H653.3M235.7 1703.0H653.3M235.7 1718.8H653.3M235.7 1734.6H653.3M235.7 1750.4H653.3M235.7 1766.2H653.3M235.7 1781.9H653.3M235.7 1797.7H653.3M235.7 1813.5H653.3M235.7 1829.3H653.3M235.7 1845.1H653.3M235.7 1860.9H653.3M235.7 1876.7H653.3M235.7 1892.5H653.3M235.7 1908.3H653.3M235.7 1924.1H653.3" stroke="#e6e6e6" stroke-width="1.1" stroke-dasharray="4.6,1.5" fill="none"/>
<path d="M235.7 1617.7h388.2v12.6h-388.2zM235.7 1633.5h328.9v12.6h-328.9zM235.7 1649.3h231.9v12.6h-231.9zM235.7 1665.1h197.4v12.6h-197.4zM235.7 1680.9h178.1v12.6h-178.1zM235.7 1696.7h169.9v12.6h-169.9zM235.7 1712.5h162.7v12.6h-162.7zM235.7 1728.3h148.9v12.6h-148.9zM235.7 1744.1h110.3v12.6h-110.3zM235.7 1759.8h103.4v12.6h-103.4zM235.7 1775.6h103.4v12.6h-103.4zM235.7 1791.4h96.9v12.6h-96.9zM235.7 1807.2h49.0v12.6h-49.0zM235.7 1823.0h45.9v12.6h-45.9zM235.7 1838.8h40.8v12.6h-40.8zM235.7 1854.6h36.3v12.6h-36.3zM235.7 1870.4h32.2v12.6h-32.2zM235.7 1886.2h28.0v12.6h-28.0zM235.7 1902.0h26.0v12.6h-26.0zM235.7 1917.7h23.6v12.6h-23.6z" fill="#4169e1" stroke="#141414" stroke-width="1.4"/>
<path d="M614.1 1624.0H633.6M614.1 1620.5v7.2M633.6 1620.5v7.2M556.6 1639.8H572.6M556.6 1636.2v7.2M572.6 1636.2v7.2M464.6 1655.6H470.6M464.6 1652.0v7.2M470.6 1652.0v7.2M428.6 1671.4H437.6M428.6 1667.8v7.2M437.6 1667.8v7.2M411.3 1687.2H416.3M411.3 1683.6v7.2M416.3 1683.6v7.2M402.6 1703.0H408.6M402.6 1699.4v7.2M408.6 1699.4v7.2M395.9 1718.8H400.9M395.9 1715.2v7.2M400.9 1715.2v7.2M381.1 1734.6H388.1M381.1 1731.0v7.2M388.1 1731.0v7.2M344.8 1750.4H347.2M344.8 1746.8v7.2M347.2 1746.8v7.2M337.6 1766.2H340.6M337.6 1762.6v7.2M340.6 1762.6v7.2M337.1 1781.9H341.1M337.1 1778.3v7.2M341.1 1778.3v7.2M330.8 1797.7H334.4M330.8 1794.1v7.2M334.4 1794.1v7.2M283.7 1813.5H285.7M283.7 1809.9v7.2M285.7 1809.9v7.2M280.4 1829.3H282.8M280.4 1825.7v7.2M282.8 1825.7v7.2M275.7 1845.1H277.3M275.7 1841.5v7.2M277.3 1841.5v7.2M271.4 1860.9H272.6M271.4 1857.3v7.2M272.6 1857.3v7.2M267.3 1876.7H268.5M267.3 1873.1v7.2M268.5 1873.1v7.2M262.9 1892.5H264.5M262.9 1888.9v7.2M264.5 1888.9v7.2M261.2 1908.3H262.2M261.2 1904.7v7.2M262.2 1904.7v7.2M258.8 1924.1H259.8M258.8 1920.5v7.2M259.8 1920.5v7.2" stroke="#262626" stroke-width="1.6" fill="none"/>
<rect x="235.7" y="1602.6" width="417.6" height="343.0" fill="none" stroke="#cccccc" stroke-width="1.7"/>
<text x="225.3" y="1629.5" text-anchor="end" font-size="15.8" letter-spacing="0.3">Fe</text>
<text x="225.3" y="1645.3" text-anchor="end" font-size="15.8" letter-spacing="0.3">Prop. of High Curie Elements</text>
<text x="225.3" y="1661.1" text-anchor="end" font-size="15.8" letter-spacing="0.3">Avg Magnetic Moment</text>
<text x="225.3" y="1676.9" text-anchor="end" font-size="15.8" letter-spacing="0.3">Co</text>
<text x="225.3" y="1692.7" text-anchor="end" font-size="15.8" letter-spacing="0.3">Avg Electronegativity</text>
<text x="225.3" y="1708.5" text-anchor="end" font-size="15.8" letter-spacing="0.3">Avg Atomic Number</text>
<text x="225.3" y="1724.3" text-anchor="end" font-size="15.8" letter-spacing="0.3">Avg Atomic Weight</text>
<text x="225.3" y="1740.1" text-anchor="end" font-size="15.8" letter-spacing="0.3">Prop. of RE Elements</text>
<text x="225.3" y="1755.9" text-anchor="end" font-size="15.8" letter-spacing="0.3">Avg Entropy</text>
<text x="225.3" y="1771.7" text-anchor="end" font-size="15.8" letter-spacing="0.3">Avg Group</text>
<text x="225.3" y="1787.4" text-anchor="end" font-size="15.8" letter-spacing="0.3">Avg Period</text>
<text x="225.3" y="1803.2" text-anchor="end" font-size="15.8" letter-spacing="0.3">Mn</text>
<text x="225.3" y="1819.0" text-anchor="end" font-size="15.8" letter-spacing="0.3">Ni</text>
<text x="225.3" y="1834.8" text-anchor="end" font-size="15.8" letter-spacing="0.3">O</text>
<text x="225.3" y="1850.6" text-anchor="end" font-size="15.8" letter-spacing="0.3">B</text>
<text x="225.3" y="1866.4" text-anchor="end" font-size="15.8" letter-spacing="0.3">La</text>
<text x="225.3" y="1882.2" text-anchor="end" font-size="15.8" letter-spacing="0.3">Al</text>
<text x="225.3" y="1898.0" text-anchor="end" font-size="15.8" letter-spacing="0.3">Sm</text>
<text x="225.3" y="1913.8" text-anchor="end" font-size="15.8" letter-spacing="0.3">Cr</text>
<text x="225.3" y="1929.6" text-anchor="end" font-size="15.8" letter-spacing="0.3">Si</text>
<text x="235.7" y="1966.6" text-anchor="middle" font-size="16.8">0.00</text>
<text x="293.4" y="1966.6" text-anchor="middle" font-size="16.8">0.02</text>
<text x="351.1" y="1966.6" text-anchor="middle" font-size="16.8">0.04</text>
<text x="408.8" y="1966.6" text-anchor="middle" font-size="16.8">0.06</text>
<text x="466.5" y="1966.6" text-anchor="middle" font-size="16.8">0.08</text>
<text x="524.2" y="1966.6" text-anchor="middle" font-size="16.8">0.10</text>
<text x="581.9" y="1966.6" text-anchor="middle" font-size="16.8">0.12</text>
<text x="639.6" y="1966.6" text-anchor="middle" font-size="16.8">0.14</text>
<text x="444.5" y="1983.8" text-anchor="middle" font-size="13.3">Average Importance</text>
<text x="444.5" y="1998.0" text-anchor="middle" font-size="13.3">(Ensemble Mean ± 1 SD)</text>
<text x="683.0" y="1562.8" font-size="31.5" font-weight="bold" fill="#000">k</text>
<text x="1110.5" y="1596.4" text-anchor="middle" font-size="15.3" letter-spacing="0.1">Top-20 Permutation Importances — Ensemble Neural Network</text>
<path d="M968.4 1602.4V1945.2M1034.8 1602.4V1945.2M1101.3 1602.4V1945.2M1167.8 1602.4V1945.2M1234.2 1602.4V1945.2M1300.7 1602.4V1945.2M901.9 1623.7H1319.2M901.9 1639.5H1319.2M901.9 1655.3H1319.2M901.9 1671.1H1319.2M901.9 1686.9H1319.2M901.9 1702.7H1319.2M901.9 1718.5H1319.2M901.9 1734.3H1319.2M901.9 1750.1H1319.2M901.9 1765.9H1319.2M901.9 1781.7H1319.2M901.9 1797.5H1319.2M901.9 1813.3H1319.2M901.9 1829.1H1319.2M901.9 1844.9H1319.2M901.9 1860.7H1319.2M901.9 1876.5H1319.2M901.9 1892.3H1319.2M901.9 1908.1H1319.2M901.9 1923.9H1319.2" stroke="#e6e6e6" stroke-width="1.1" stroke-dasharray="4.6,1.5" fill="none"/>
<path d="M901.9 1617.4h382.4v12.6h-382.4zM901.9 1633.2h271.9v12.6h-271.9zM901.9 1649.0h270.2v12.6h-270.2zM901.9 1664.8h172.3v12.6h-172.3zM901.9 1680.6h167.7v12.6h-167.7zM901.9 1696.4h84.2v12.6h-84.2zM901.9 1712.2h83.2v12.6h-83.2zM901.9 1728.0h73.7v12.6h-73.7zM901.9 1743.8h65.7v12.6h-65.7zM901.9 1759.6h60.4v12.6h-60.4zM901.9 1775.4h56.2v12.6h-56.2zM901.9 1791.2h55.2v12.6h-55.2zM901.9 1807.0h55.2v12.6h-55.2zM901.9 1822.8h52.7v12.6h-52.7zM901.9 1838.6h50.0v12.6h-50.0zM901.9 1854.4h48.2v12.6h-48.2zM901.9 1870.2h47.5v12.6h-47.5zM901.9 1886.0h41.9v12.6h-41.9zM901.9 1901.8h37.0v12.6h-37.0zM901.9 1917.6h33.5v12.6h-33.5z" fill="#4169e1" stroke="#141414" stroke-width="1.4"/>
<path d="M1269.1 1623.7H1299.5M1269.1 1620.1v7.2M1299.5 1620.1v7.2M1162.4 1639.5H1185.2M1162.4 1635.9v7.2M1185.2 1635.9v7.2M1159.3 1655.3H1184.9M1159.3 1651.7v7.2M1184.9 1651.7v7.2M1064.6 1671.1H1083.8M1064.6 1667.5v7.2M1083.8 1667.5v7.2M1060.9 1686.9H1078.3M1060.9 1683.3v7.2M1078.3 1683.3v7.2M981.2 1702.7H991.0M981.2 1699.1v7.2M991.0 1699.1v7.2M979.0 1718.5H991.2M979.0 1714.9v7.2M991.2 1714.9v7.2M968.3 1734.3H982.9M968.3 1730.7v7.2M982.9 1730.7v7.2M962.7 1750.1H972.5M962.7 1746.5v7.2M972.5 1746.5v7.2M957.1 1765.9H967.5M957.1 1762.3v7.2M967.5 1762.3v7.2M953.6 1781.7H962.6M953.6 1778.1v7.2M962.6 1778.1v7.2M952.0 1797.5H962.2M952.0 1793.9v7.2M962.2 1793.9v7.2M951.0 1813.3H963.2M951.0 1809.7v7.2M963.2 1809.7v7.2M948.5 1829.1H960.7M948.5 1825.5v7.2M960.7 1825.5v7.2M944.2 1844.9H959.6M944.2 1841.3v7.2M959.6 1841.3v7.2M945.4 1860.7H954.8M945.4 1857.1v7.2M954.8 1857.1v7.2M944.5 1876.5H954.3M944.5 1872.9v7.2M954.3 1872.9v7.2M939.4 1892.3H948.2M939.4 1888.7v7.2M948.2 1888.7v7.2M935.6 1908.1H942.2M935.6 1904.5v7.2M942.2 1904.5v7.2M931.9 1923.9H938.9M931.9 1920.3v7.2M938.9 1920.3v7.2" stroke="#262626" stroke-width="1.6" fill="none"/>
<rect x="901.9" y="1602.4" width="417.3" height="342.8" fill="none" stroke="#cccccc" stroke-width="1.7"/>
<text x="891.5" y="1629.2" text-anchor="end" font-size="15.8" letter-spacing="0.3">Fe</text>
<text x="891.5" y="1645.0" text-anchor="end" font-size="15.8" letter-spacing="0.3">Prop. of High Curie Elements</text>
<text x="891.5" y="1660.8" text-anchor="end" font-size="15.8" letter-spacing="0.3">Co</text>
<text x="891.5" y="1676.6" text-anchor="end" font-size="15.8" letter-spacing="0.3">Avg Entropy</text>
<text x="891.5" y="1692.4" text-anchor="end" font-size="15.8" letter-spacing="0.3">Mn</text>
<text x="891.5" y="1708.2" text-anchor="end" font-size="15.8" letter-spacing="0.3">La</text>
<text x="891.5" y="1724.0" text-anchor="end" font-size="15.8" letter-spacing="0.3">Avg Magnetic Moment</text>
<text x="891.5" y="1739.8" text-anchor="end" font-size="15.8" letter-spacing="0.3">Proportion of RE Elements</text>
<text x="891.5" y="1755.6" text-anchor="end" font-size="15.8" letter-spacing="0.3">B</text>
<text x="891.5" y="1771.4" text-anchor="end" font-size="15.8" letter-spacing="0.3">Ni</text>
<text x="891.5" y="1787.2" text-anchor="end" font-size="15.8" letter-spacing="0.3">Avg Electronegativity</text>
<text x="891.5" y="1803.0" text-anchor="end" font-size="15.8" letter-spacing="0.3">Cr</text>
<text x="891.5" y="1818.8" text-anchor="end" font-size="15.8" letter-spacing="0.3">Si</text>
<text x="891.5" y="1834.6" text-anchor="end" font-size="15.8" letter-spacing="0.3">Al</text>
<text x="891.5" y="1850.4" text-anchor="end" font-size="15.8" letter-spacing="0.3">Gd</text>
<text x="891.5" y="1866.2" text-anchor="end" font-size="15.8" letter-spacing="0.3">Avg Atomic Number</text>
<text x="891.5" y="1882.0" text-anchor="end" font-size="15.8" letter-spacing="0.3">P</text>
<text x="891.5" y="1897.8" text-anchor="end" font-size="15.8" letter-spacing="0.3">Zn</text>
<text x="891.5" y="1913.6" text-anchor="end" font-size="15.8" letter-spacing="0.3">O</text>
<text x="891.5" y="1929.4" text-anchor="end" font-size="15.8" letter-spacing="0.3">Ga</text>
<text x="901.9" y="1966.2" text-anchor="middle" font-size="16.8">0</text>
<text x="968.4" y="1966.2" text-anchor="middle" font-size="16.8">5000</text>
<text x="1034.8" y="1966.2" text-anchor="middle" font-size="16.8">10000</text>
<text x="1101.3" y="1966.2" text-anchor="middle" font-size="16.8">15000</text>
<text x="1167.8" y="1966.2" text-anchor="middle" font-size="16.8">20000</text>
<text x="1234.2" y="1966.2" text-anchor="middle" font-size="16.8">25000</text>
<text x="1300.7" y="1966.2" text-anchor="middle" font-size="16.8">30000</text>
<text x="1110.5" y="1983.4" text-anchor="middle" font-size="13.3">Average permutation importance</text>
<text x="1110.5" y="1997.6" text-anchor="middle" font-size="13.3">(Ensemble Mean ± 1 SD)</text>
<text x="1350.0" y="1562.8" font-size="31.5" font-weight="bold" fill="#000">l</text>
<text x="1773.0" y="1594.0" text-anchor="middle" font-size="15.3" letter-spacing="0.1">Top-20 Feature Importances — XGBoost</text>
<path d="M1624.1 1599.9V1948.0M1681.5 1599.9V1948.0M1739.0 1599.9V1948.0M1796.5 1599.9V1948.0M1853.9 1599.9V1948.0M1911.4 1599.9V1948.0M1968.9 1599.9V1948.0M1566.6 1621.9H1979.4M1566.6 1637.9H1979.4M1566.6 1653.9H1979.4M1566.6 1669.9H1979.4M1566.6 1685.9H1979.4M1566.6 1701.9H1979.4M1566.6 1717.9H1979.4M1566.6 1733.9H1979.4M1566.6 1749.9H1979.4M1566.6 1765.9H1979.4M1566.6 1781.9H1979.4M1566.6 1797.9H1979.4M1566.6 1813.9H1979.4M1566.6 1829.9H1979.4M1566.6 1845.9H1979.4M1566.6 1861.9H1979.4M1566.6 1877.9H1979.4M1566.6 1893.9H1979.4M1566.6 1909.9H1979.4M1566.6 1925.9H1979.4" stroke="#e6e6e6" stroke-width="1.1" stroke-dasharray="4.6,1.5" fill="none"/>
<path d="M1566.6 1615.5h319.8v12.8h-319.8zM1566.6 1631.5h313.2v12.8h-313.2zM1566.6 1647.5h186.3v12.8h-186.3zM1566.6 1663.5h177.9v12.8h-177.9zM1566.6 1679.5h145.8v12.8h-145.8zM1566.6 1695.5h143.3v12.8h-143.3zM1566.6 1711.5h131.1v12.8h-131.1zM1566.6 1727.5h97.9v12.8h-97.9zM1566.6 1743.5h86.7v12.8h-86.7zM1566.6 1759.5h79.7v12.8h-79.7zM1566.6 1775.5h78.0v12.8h-78.0zM1566.6 1791.5h76.9v12.8h-76.9zM1566.6 1807.5h72.0v12.8h-72.0zM1566.6 1823.5h70.6v12.8h-70.6zM1566.6 1839.5h68.5v12.8h-68.5zM1566.6 1855.5h66.8v12.8h-66.8zM1566.6 1871.5h66.4v12.8h-66.4zM1566.6 1887.5h58.7v12.8h-58.7zM1566.6 1903.5h58.0v12.8h-58.0zM1566.6 1919.5h53.2v12.8h-53.2z" fill="#4169e1" stroke="#141414" stroke-width="1.4"/>
<path d="M1826.3 1621.9H1945.9M1826.3 1618.3v7.2M1945.9 1618.3v7.2M1800.1 1637.9H1959.2M1800.1 1634.3v7.2M1959.2 1634.3v7.2M1704.7 1653.9H1800.8M1704.7 1650.3v7.2M1800.8 1650.3v7.2M1713.8 1669.9H1774.6M1713.8 1666.3v7.2M1774.6 1666.3v7.2M1675.3 1685.9H1748.0M1675.3 1682.3v7.2M1748.0 1682.3v7.2M1625.4 1701.9H1794.2M1625.4 1698.3v7.2M1794.2 1698.3v7.2M1668.0 1717.9H1727.1M1668.0 1714.3v7.2M1727.1 1714.3v7.2M1642.8 1733.9H1685.1M1642.8 1730.3v7.2M1685.1 1730.3v7.2M1637.2 1749.9H1668.3M1637.2 1746.3v7.2M1668.3 1746.3v7.2M1632.3 1765.9H1658.6M1632.3 1762.3v7.2M1658.6 1762.3v7.2M1617.0 1781.9H1671.5M1617.0 1778.3v7.2M1671.5 1778.3v7.2M1628.5 1797.9H1656.8M1628.5 1794.3v7.2M1656.8 1794.3v7.2M1626.4 1813.9H1650.2M1626.4 1810.3v7.2M1650.2 1810.3v7.2M1622.6 1829.9H1651.6M1622.6 1826.3v7.2M1651.6 1826.3v7.2M1598.4 1845.9H1670.8M1598.4 1842.3v7.2M1670.8 1842.3v7.2M1616.3 1861.9H1649.8M1616.3 1858.3v7.2M1649.8 1858.3v7.2M1620.8 1877.9H1644.2M1620.8 1874.3v7.2M1644.2 1874.3v7.2M1618.4 1893.9H1632.0M1618.4 1890.3v7.2M1632.0 1890.3v7.2M1615.6 1909.9H1633.4M1615.6 1906.3v7.2M1633.4 1906.3v7.2M1607.2 1925.9H1630.9M1607.2 1922.3v7.2M1630.9 1922.3v7.2" stroke="#262626" stroke-width="1.6" fill="none"/>
<rect x="1566.6" y="1599.9" width="412.8" height="348.1" fill="none" stroke="#cccccc" stroke-width="1.7"/>
<text x="1556.2" y="1627.4" text-anchor="end" font-size="15.8" letter-spacing="0.3">Fe</text>
<text x="1556.2" y="1643.4" text-anchor="end" font-size="15.8" letter-spacing="0.3">Proportion of RE Elements</text>
<text x="1556.2" y="1659.4" text-anchor="end" font-size="15.8" letter-spacing="0.3">Prop. of High Curie Elements</text>
<text x="1556.2" y="1675.4" text-anchor="end" font-size="15.8" letter-spacing="0.3">Co</text>
<text x="1556.2" y="1691.4" text-anchor="end" font-size="15.8" letter-spacing="0.3">Avg Period</text>
<text x="1556.2" y="1707.4" text-anchor="end" font-size="15.8" letter-spacing="0.3">Avg Group</text>
<text x="1556.2" y="1723.4" text-anchor="end" font-size="15.8" letter-spacing="0.3">Avg Magnetic Moment</text>
<text x="1556.2" y="1739.4" text-anchor="end" font-size="15.8" letter-spacing="0.3">Ta</text>
<text x="1556.2" y="1755.4" text-anchor="end" font-size="15.8" letter-spacing="0.3">B</text>
<text x="1556.2" y="1771.4" text-anchor="end" font-size="15.8" letter-spacing="0.3">Bi</text>
<text x="1556.2" y="1787.4" text-anchor="end" font-size="15.8" letter-spacing="0.3">U</text>
<text x="1556.2" y="1803.4" text-anchor="end" font-size="15.8" letter-spacing="0.3">Sm</text>
<text x="1556.2" y="1819.4" text-anchor="end" font-size="15.8" letter-spacing="0.3">Avg Electronegativity</text>
<text x="1556.2" y="1835.4" text-anchor="end" font-size="15.8" letter-spacing="0.3">Mn</text>
<text x="1556.2" y="1851.4" text-anchor="end" font-size="15.8" letter-spacing="0.3">Os</text>
<text x="1556.2" y="1867.4" text-anchor="end" font-size="15.8" letter-spacing="0.3">O</text>
<text x="1556.2" y="1883.4" text-anchor="end" font-size="15.8" letter-spacing="0.3">Avg Atomic Number</text>
<text x="1556.2" y="1899.4" text-anchor="end" font-size="15.8" letter-spacing="0.3">Mo</text>
<text x="1556.2" y="1915.4" text-anchor="end" font-size="15.8" letter-spacing="0.3">Al</text>
<text x="1556.2" y="1931.4" text-anchor="end" font-size="15.8" letter-spacing="0.3">Avg Atomic Weight</text>
<text x="1566.6" y="1969.0" text-anchor="middle" font-size="16.8">0</text>
<text x="1624.1" y="1969.0" text-anchor="middle" font-size="16.8">10000</text>
<text x="1681.5" y="1969.0" text-anchor="middle" font-size="16.8">20000</text>
<text x="1739.0" y="1969.0" text-anchor="middle" font-size="16.8">30000</text>
<text x="1796.5" y="1969.0" text-anchor="middle" font-size="16.8">40000</text>
<text x="1853.9" y="1969.0" text-anchor="middle" font-size="16.8">50000</text>
<text x="1911.4" y="1969.0" text-anchor="middle" font-size="16.8">60000</text>
<text x="1968.9" y="1969.0" text-anchor="middle" font-size="16.8">70000</text>
<text x="1773.0" y="1986.2" text-anchor="middle" font-size="13.3">Average gain importance</text>
<text x="1773.0" y="2000.4" text-anchor="middle" font-size="13.3">(Ensemble Mean ± 1 SD)</text>
</svg></body></html>
